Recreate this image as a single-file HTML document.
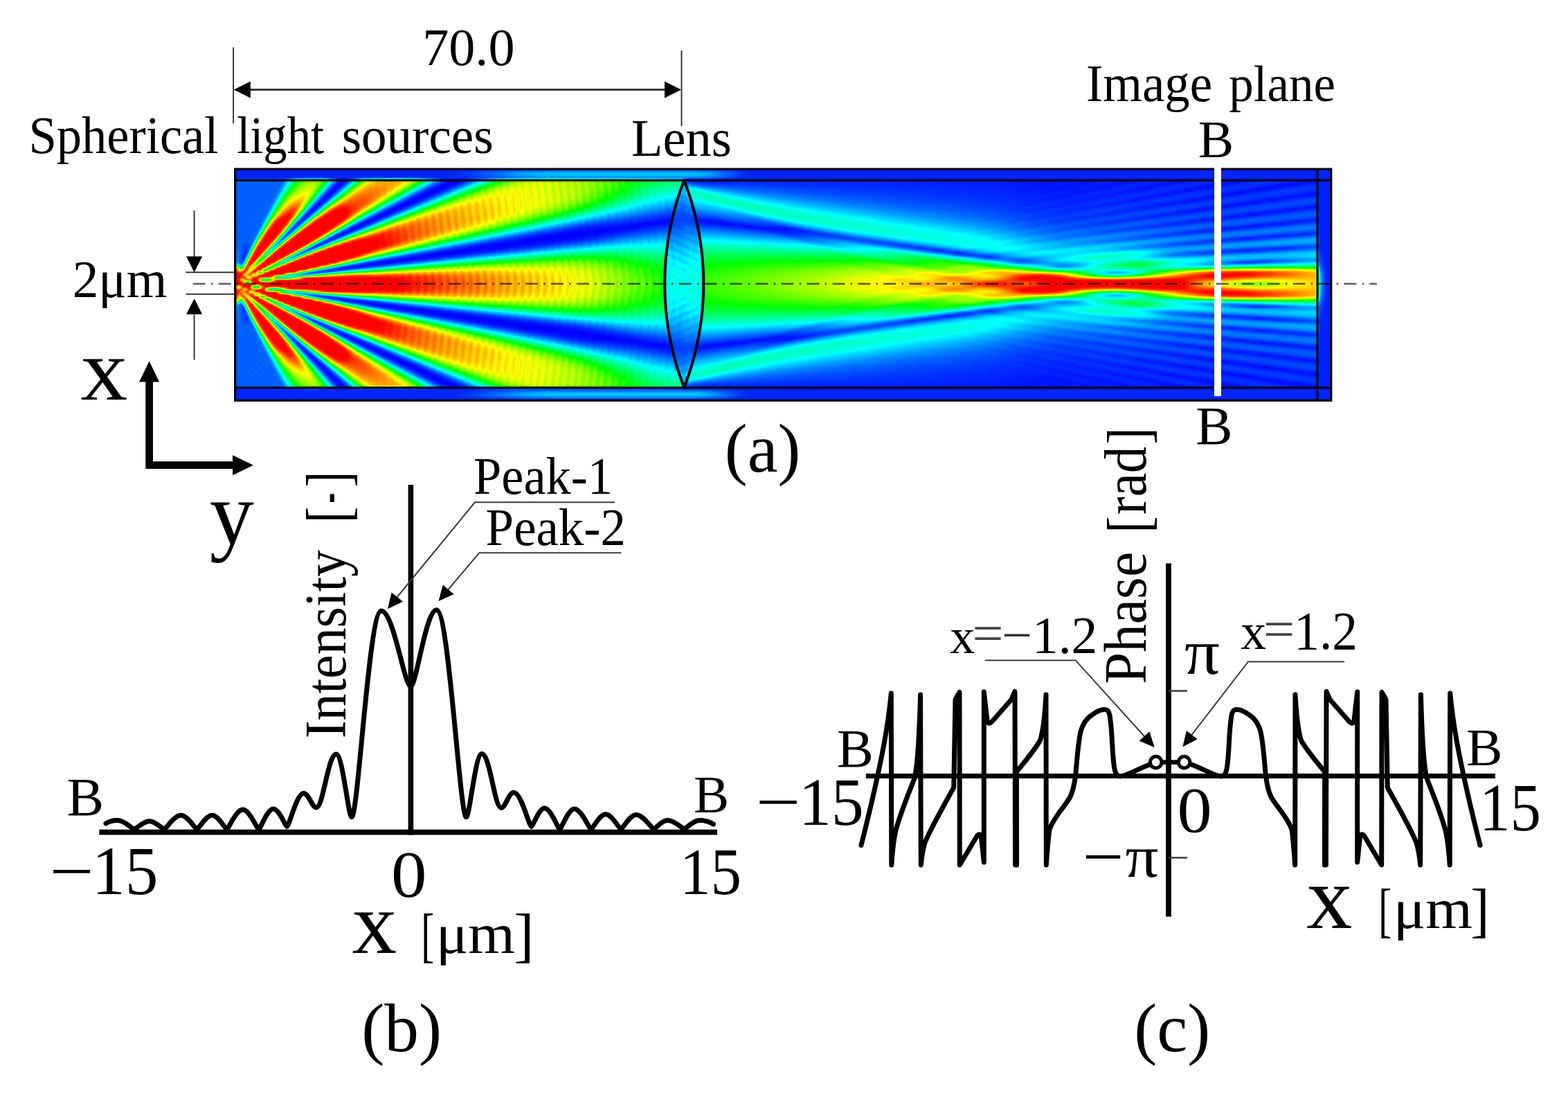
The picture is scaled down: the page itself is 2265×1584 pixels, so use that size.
<!DOCTYPE html>
<html><head><meta charset="utf-8"><title>Figure</title>
<style>
html,body{margin:0;padding:0;background:#fff}
body{width:2265px;height:1584px;position:relative;overflow:hidden}
svg.v{position:absolute;left:0;top:0;filter:blur(0.6px)}
svg.v text{font-family:"Liberation Serif",serif;white-space:pre}
#hw{position:absolute;left:340.0px;top:243.0px;width:1583.0px;height:336.0px;overflow:hidden}
#h{position:absolute;left:-8px;top:-7px;width:1599.0px;height:350.0px;display:flex;filter:url(#jet)}
#h i{flex:1 1 0;height:100%}

</style></head><body>
<svg width="0" height="0" style="position:absolute"><filter id="jet" x="0" y="0" width="100%" height="100%" color-interpolation-filters="sRGB">
<feColorMatrix type="matrix" values="0.941176 0.058824 0 0 0  0.941176 0.058824 0 0 0  0.941176 0.058824 0 0 0  0 0 0 0 1"/>
<feGaussianBlur stdDeviation="2.2 1"/>
<feComponentTransfer>
<feFuncR type="table" tableValues="0 0 0 1 1"/>
<feFuncG type="table" tableValues="0 1 1 1 0"/>
<feFuncB type="table" tableValues="1 1 0 0 0"/>
<feFuncA type="linear" slope="0" intercept="1"/>
</feComponentTransfer></filter></svg>
<div id="hw"><div id="h"><i style="background:linear-gradient(#090,#090,#090,#090,#090,#090,#090,#190,#140,#1c0,#190,#140,#1c0,#190,#140,#1c0,#190,#140,#1c0,#190,#140,#1c0,#190,#140,#1c0,#190,#140,#1c0,#190,#140,#1c0,#190,#170,#180,#190,#1b0,#1c0,#1d0,#1e0,#200,#220,#240,#400,#e80,#ff0,#ff0,#ff0,#ff0,#ff0,#ff0,#ff0,#ff0,#ff0,#ff0,#ff0,#ff0,#ff0,#8a0,#260,#230,#210,#1f0,#1e0,#1c0,#1b0,#1a0,#190,#180,#170,#1c0,#190,#140,#1c0,#190,#140,#1c0,#190,#140,#1c0,#190,#140,#1c0,#190,#140,#1c0,#190,#140,#1c0,#190,#140,#1c0,#190,#140,#090,#090,#090,#090,#090,#090,#090,#090)"></i><i style="background:linear-gradient(#090,#090,#090,#090,#090,#090,#090,#170,#1d0,#150,#170,#1d0,#150,#170,#1d0,#150,#170,#1d0,#150,#170,#1d0,#150,#170,#1d0,#150,#170,#1d0,#150,#170,#1d0,#150,#170,#1a0,#180,#190,#1b0,#1c0,#1d0,#1e0,#200,#220,#240,#560,#ff0,#ff0,#ff0,#ff0,#ff0,#ff0,#ff0,#ff0,#ff0,#ff0,#ff0,#ff0,#ff0,#ff0,#b10,#2c0,#230,#210,#1f0,#1e0,#1c0,#1b0,#1a0,#190,#180,#1b0,#160,#170,#1d0,#150,#170,#1d0,#150,#170,#1d0,#150,#170,#1d0,#150,#170,#1d0,#150,#170,#1d0,#150,#170,#1d0,#150,#170,#1d0,#090,#090,#090,#090,#090,#090,#090,#090)"></i><i style="background:linear-gradient(#090,#090,#090,#090,#090,#090,#090,#190,#160,#1a0,#190,#160,#1a0,#190,#160,#1a0,#190,#160,#1a0,#190,#160,#1a0,#190,#160,#1a0,#190,#160,#1a0,#190,#170,#1a0,#180,#180,#190,#1a0,#1b0,#1c0,#1e0,#1f0,#200,#220,#240,#5a0,#ff0,#ff0,#ff0,#ff0,#ff0,#ff0,#ff0,#ff0,#c00,#ff0,#ff0,#ff0,#ff0,#ff0,#b50,#2f0,#230,#210,#200,#1e0,#1d0,#1c0,#1b0,#190,#180,#180,#1a0,#190,#170,#1a0,#190,#160,#1a0,#190,#160,#1a0,#190,#160,#1a0,#190,#160,#1a0,#190,#160,#1a0,#190,#160,#1a0,#190,#160,#090,#090,#090,#090,#090,#090,#090,#090)"></i><i style="background:linear-gradient(#090,#090,#090,#090,#090,#090,#090,#190,#170,#190,#190,#170,#190,#190,#170,#190,#190,#170,#190,#190,#170,#190,#190,#170,#190,#190,#170,#190,#190,#170,#190,#180,#180,#190,#1a0,#1b0,#1c0,#1d0,#1e0,#1e0,#1f0,#1e0,#340,#820,#9a0,#f30,#ff0,#ff0,#ff0,#ff0,#ff0,#990,#db0,#ff0,#d90,#a20,#a00,#5c0,#200,#1e0,#1e0,#1e0,#1d0,#1d0,#1c0,#1b0,#1a0,#190,#180,#190,#190,#170,#190,#190,#170,#190,#190,#170,#190,#190,#170,#190,#190,#170,#190,#190,#170,#190,#190,#170,#190,#190,#170,#090,#090,#090,#090,#090,#090,#090,#090)"></i><i style="background:linear-gradient(#090,#090,#090,#090,#090,#090,#090,#170,#1d0,#150,#170,#1d0,#150,#170,#1d0,#150,#170,#1d0,#150,#170,#1d0,#150,#170,#1d0,#150,#170,#1d0,#150,#170,#1d0,#160,#170,#1a0,#160,#160,#160,#150,#140,#120,#100,#0d0,#080,#090,#410,#d30,#ff0,#ff0,#fc0,#890,#ff0,#ff0,#ff0,#ff0,#bf0,#ff0,#ff0,#970,#170,#070,#0a0,#0e0,#110,#130,#150,#160,#160,#160,#160,#1b0,#160,#170,#1d0,#150,#170,#1d0,#150,#170,#1d0,#150,#170,#1d0,#150,#170,#1d0,#150,#170,#1d0,#150,#170,#1d0,#150,#170,#1d0,#090,#090,#090,#090,#090,#090,#090,#090)"></i><i style="background:linear-gradient(#090,#090,#090,#090,#090,#090,#090,#190,#130,#1c0,#190,#130,#1c0,#190,#130,#1c0,#190,#130,#1c0,#190,#130,#1c0,#190,#130,#1c0,#190,#130,#1c0,#190,#130,#1c0,#190,#120,#180,#130,#0d0,#0e0,#0a0,#060,#040,#0e0,#430,#b20,#ff0,#ff0,#ff0,#940,#ff0,#ff0,#9c0,#ff0,#ff0,#880,#ff0,#910,#ff0,#ff0,#f00,#840,#220,#060,#050,#080,#0c0,#0e0,#0e0,#160,#160,#130,#1c0,#190,#130,#1c0,#190,#130,#1c0,#190,#130,#1c0,#190,#130,#1c0,#190,#130,#1c0,#190,#130,#1c0,#190,#130,#1c0,#190,#130,#090,#090,#090,#090,#090,#090,#090,#090)"></i><i style="background:linear-gradient(#090,#090,#090,#090,#090,#090,#090,#180,#1b0,#160,#180,#1b0,#160,#180,#1b0,#160,#180,#1b0,#160,#180,#1b0,#160,#180,#1b0,#160,#180,#1b0,#160,#180,#1b0,#160,#170,#1a0,#130,#120,#120,#0c0,#0b0,#1d0,#5b0,#c20,#ff0,#ff0,#ff0,#f60,#890,#ff0,#970,#ff0,#0d0,#ff0,#ff0,#ff0,#ff0,#ff0,#890,#ff0,#ff0,#ff0,#ef0,#970,#370,#120,#0a0,#0e0,#130,#120,#160,#1a0,#160,#180,#1b0,#160,#180,#1b0,#160,#180,#1b0,#160,#180,#1b0,#160,#180,#1b0,#160,#180,#1b0,#160,#180,#1b0,#160,#180,#1b0,#090,#090,#090,#090,#090,#090,#090,#090)"></i><i style="background:linear-gradient(#090,#090,#090,#090,#090,#090,#090,#180,#190,#180,#180,#190,#180,#180,#190,#180,#180,#190,#180,#180,#190,#180,#180,#190,#180,#180,#190,#180,#180,#190,#180,#180,#180,#150,#140,#170,#2e0,#6f0,#cc0,#ff0,#ff0,#ff0,#ff0,#bf0,#850,#ff0,#ff0,#ad0,#ff0,#bb0,#ff0,#ff0,#ff0,#860,#ff0,#ff0,#500,#ff0,#ff0,#ff0,#ff0,#f10,#a60,#4c0,#1f0,#130,#140,#170,#190,#180,#180,#190,#180,#180,#190,#180,#180,#190,#180,#180,#190,#180,#180,#190,#180,#180,#190,#180,#180,#190,#180,#180,#190,#090,#090,#090,#090,#090,#090,#090,#090)"></i><i style="background:linear-gradient(#090,#090,#090,#090,#090,#090,#090,#190,#140,#1b0,#190,#140,#1b0,#190,#140,#1b0,#190,#140,#1b0,#190,#140,#1b0,#190,#140,#1b0,#190,#140,#1b0,#190,#140,#1b0,#190,#140,#220,#3d0,#7d0,#d20,#ff0,#ff0,#ff0,#ff0,#ff0,#a00,#820,#ff0,#ff0,#890,#ff0,#ff0,#ff0,#ff0,#420,#ff0,#b30,#ff0,#ff0,#ff0,#2e0,#ff0,#ff0,#ff0,#ff0,#ff0,#f10,#ad0,#5c0,#2d0,#190,#140,#1b0,#190,#140,#1b0,#190,#140,#1b0,#190,#140,#1b0,#190,#140,#1b0,#190,#140,#1b0,#190,#140,#1b0,#190,#140,#1b0,#190,#140,#090,#090,#090,#090,#090,#090,#090,#090)"></i><i style="background:linear-gradient(#090,#090,#090,#090,#090,#090,#090,#170,#1d0,#140,#170,#1d0,#140,#170,#1d0,#140,#170,#1d0,#140,#170,#1d0,#140,#170,#1d0,#140,#170,#1d0,#140,#170,#1d0,#160,#260,#480,#830,#d30,#ff0,#ff0,#ff0,#ff0,#ff0,#ff0,#870,#710,#ff0,#ff0,#ff0,#970,#ff0,#ff0,#ff0,#ff0,#050,#ff0,#ff0,#550,#ff0,#ff0,#ff0,#1b0,#d70,#ff0,#ff0,#ff0,#ff0,#ff0,#ed0,#ac0,#650,#350,#1d0,#170,#1d0,#140,#170,#1d0,#140,#170,#1d0,#140,#170,#1d0,#140,#170,#1d0,#140,#170,#1d0,#140,#170,#1d0,#140,#170,#1d0,#090,#090,#090,#090,#090,#090,#090,#090)"></i><i style="background:linear-gradient(#090,#090,#090,#090,#090,#090,#090,#190,#150,#1b0,#190,#150,#1b0,#190,#150,#1b0,#190,#150,#1b0,#190,#150,#1b0,#190,#150,#1b0,#190,#150,#1b0,#1c0,#2c0,#4f0,#820,#c60,#fa0,#ff0,#ff0,#ff0,#ff0,#ff0,#ff0,#530,#690,#ff0,#ff0,#ff0,#490,#ff0,#ff0,#e70,#ff0,#ff0,#4f0,#ff0,#ff0,#a10,#ff0,#ff0,#ff0,#f20,#140,#b50,#ff0,#ff0,#ff0,#ff0,#ff0,#ff0,#e70,#a60,#690,#3d0,#220,#1b0,#190,#150,#1b0,#190,#150,#1b0,#190,#150,#1b0,#190,#150,#1b0,#190,#150,#1b0,#190,#150,#1b0,#190,#150,#090,#090,#090,#090,#090,#090,#090,#090)"></i><i style="background:linear-gradient(#090,#090,#090,#090,#090,#090,#090,#180,#180,#180,#180,#180,#180,#180,#180,#180,#180,#180,#180,#180,#180,#180,#180,#180,#180,#180,#1e0,#330,#540,#7f0,#b60,#ee0,#ff0,#ff0,#ff0,#ff0,#ff0,#ff0,#e70,#310,#630,#ff0,#ff0,#ff0,#ff0,#810,#ff0,#ff0,#3d0,#ff0,#ff0,#dd0,#ff0,#ff0,#ff0,#210,#ff0,#ff0,#ff0,#e70,#120,#940,#ff0,#ff0,#ff0,#ff0,#ff0,#ff0,#ff0,#d90,#9b0,#6a0,#430,#280,#1a0,#180,#180,#180,#180,#180,#180,#180,#180,#180,#180,#180,#180,#180,#180,#180,#180,#180,#180,#090,#090,#090,#090,#090,#090,#090,#090)"></i><i style="background:linear-gradient(#090,#090,#090,#090,#090,#090,#090,#180,#1c0,#160,#180,#1c0,#160,#180,#1c0,#160,#180,#1c0,#160,#180,#1c0,#160,#180,#1d0,#230,#390,#580,#7f0,#ad0,#e00,#ff0,#ff0,#ff0,#ff0,#ff0,#ff0,#ff0,#c70,#1c0,#5f0,#ff0,#ff0,#ff0,#ff0,#1d0,#ff0,#ff0,#ff0,#020,#ff0,#ff0,#ff0,#ff0,#ff0,#ff0,#8f0,#cf0,#ff0,#ff0,#ff0,#de0,#120,#620,#ff0,#ff0,#ff0,#ff0,#ff0,#ff0,#ff0,#f30,#c80,#970,#6c0,#490,#2e0,#1e0,#1c0,#160,#180,#1c0,#160,#180,#1c0,#160,#180,#1c0,#160,#180,#1c0,#160,#180,#1c0,#090,#090,#090,#090,#090,#090,#090,#090)"></i><i style="background:linear-gradient(#090,#090,#090,#090,#090,#090,#090,#190,#130,#1c0,#190,#130,#1c0,#190,#130,#1c0,#190,#130,#1c0,#190,#130,#1e0,#280,#3d0,#590,#7c0,#a50,#d10,#f60,#ff0,#ff0,#ff0,#ff0,#ff0,#ff0,#ff0,#a20,#0f0,#5c0,#ff0,#ff0,#ff0,#ff0,#c20,#680,#ff0,#ff0,#ff0,#0f0,#ff0,#ff0,#ff0,#740,#ff0,#ff0,#ff0,#0c0,#ff0,#ff0,#ff0,#ff0,#d70,#140,#3f0,#de0,#ff0,#ff0,#ff0,#ff0,#ff0,#ff0,#ff0,#e90,#bd0,#920,#6b0,#4c0,#330,#230,#1a0,#130,#1c0,#190,#130,#1c0,#190,#130,#1c0,#190,#130,#1c0,#190,#130,#090,#090,#090,#090,#090,#090,#090,#090)"></i><i style="background:linear-gradient(#090,#090,#090,#090,#090,#090,#090,#170,#1c0,#150,#170,#1c0,#150,#170,#1c0,#150,#170,#1c0,#170,#1e0,#2b0,#3f0,#590,#780,#9b0,#c20,#e90,#ff0,#ff0,#ff0,#ff0,#ff0,#ff0,#ff0,#f30,#730,#080,#580,#ff0,#ff0,#ff0,#ff0,#ff0,#0b0,#ff0,#ff0,#ff0,#ff0,#4a0,#ff0,#ff0,#ff0,#140,#ff0,#ff0,#ff0,#750,#9c0,#ff0,#ff0,#ff0,#ff0,#d00,#150,#270,#c30,#ff0,#ff0,#ff0,#ff0,#ff0,#ff0,#ff0,#f80,#d70,#b00,#8b0,#690,#4c0,#350,#240,#1a0,#170,#1c0,#150,#170,#1c0,#150,#170,#1c0,#150,#170,#1c0,#090,#090,#090,#090,#090,#090,#090,#090)"></i><i style="background:linear-gradient(#090,#090,#090,#090,#090,#090,#090,#180,#170,#190,#180,#170,#190,#180,#170,#190,#190,#210,#2d0,#3f0,#560,#720,#910,#b30,#d50,#f50,#ff0,#ff0,#ff0,#ff0,#ff0,#ff0,#ff0,#d70,#4f0,#050,#550,#ff0,#ff0,#ff0,#ff0,#ff0,#840,#580,#ff0,#ff0,#ff0,#d80,#a10,#ff0,#ff0,#ff0,#000,#ff0,#ff0,#ff0,#ff0,#050,#ff0,#ff0,#ff0,#ff0,#ff0,#ca0,#170,#180,#900,#f80,#ff0,#ff0,#ff0,#ff0,#ff0,#ff0,#ff0,#e70,#c50,#a30,#820,#650,#4b0,#370,#270,#1e0,#190,#180,#170,#190,#180,#170,#190,#180,#170,#090,#090,#090,#090,#090,#090,#090,#090)"></i><i style="background:linear-gradient(#090,#090,#090,#090,#090,#090,#090,#190,#150,#1a0,#190,#150,#1a0,#190,#180,#230,#300,#410,#550,#6c0,#860,#a30,#c10,#df0,#fa0,#ff0,#ff0,#ff0,#ff0,#ff0,#ff0,#ff0,#b30,#360,#030,#510,#ff0,#ff0,#ff0,#ff0,#ff0,#fa0,#040,#ff0,#ff0,#ff0,#ff0,#550,#f30,#ff0,#ff0,#ff0,#0c0,#ff0,#ff0,#ff0,#ff0,#620,#510,#ff0,#ff0,#ff0,#ff0,#ff0,#c40,#180,#0e0,#6b0,#e20,#ff0,#ff0,#ff0,#ff0,#ff0,#ff0,#ff0,#ef0,#d20,#b40,#960,#790,#610,#4b0,#390,#290,#1e0,#160,#1a0,#190,#150,#1a0,#190,#150,#090,#090,#090,#090,#090,#090,#090,#090)"></i><i style="background:linear-gradient(#090,#090,#090,#090,#090,#090,#090,#170,#1d0,#140,#170,#1d0,#1b0,#250,#320,#410,#540,#690,#7f0,#970,#af0,#c90,#e20,#f80,#ff0,#ff0,#ff0,#ff0,#ff0,#ff0,#ed0,#8f0,#250,#030,#4e0,#f50,#ff0,#ff0,#ff0,#ff0,#ff0,#450,#4c0,#ff0,#ff0,#ff0,#ff0,#130,#ff0,#ff0,#ff0,#ff0,#320,#e20,#ff0,#ff0,#ff0,#ff0,#040,#d50,#ff0,#ff0,#ff0,#ff0,#ff0,#b50,#1a0,#080,#500,#c40,#ff0,#ff0,#ff0,#ff0,#ff0,#ff0,#ff0,#ee0,#d70,#bd0,#a40,#8c0,#750,#5f0,#4b0,#3a0,#2b0,#200,#190,#1d0,#140,#170,#1d0,#090,#090,#090,#090,#090,#090,#090,#090)"></i><i style="background:linear-gradient(#090,#090,#090,#090,#090,#090,#090,#190,#140,#1c0,#1d0,#260,#320,#410,#520,#650,#790,#8f0,#a50,#ba0,#ce0,#df0,#f30,#ff0,#ff0,#ff0,#ff0,#ff0,#ff0,#d60,#700,#190,#040,#4d0,#ec0,#ff0,#ff0,#ff0,#ff0,#ff0,#c80,#030,#ef0,#ff0,#ff0,#ff0,#ff0,#010,#ff0,#ff0,#ff0,#ff0,#690,#6e0,#ff0,#ff0,#ff0,#ff0,#540,#280,#ff0,#ff0,#ff0,#ff0,#ff0,#ff0,#aa0,#1c0,#050,#3b0,#a00,#f00,#ff0,#ff0,#ff0,#ff0,#ff0,#fd0,#ea0,#d70,#c50,#b00,#9b0,#850,#700,#5c0,#4a0,#3a0,#2c0,#210,#1c0,#190,#140,#090,#090,#090,#090,#090,#090,#090,#090)"></i><i style="background:linear-gradient(#090,#090,#090,#090,#090,#090,#090,#190,#1e0,#270,#320,#400,#4f0,#610,#730,#860,#9a0,#ad0,#c00,#d00,#df0,#ed0,#fd0,#ff0,#ff0,#ff0,#ff0,#f20,#b30,#570,#110,#050,#4b0,#e40,#ff0,#ff0,#ff0,#ff0,#ff0,#ff0,#220,#420,#ff0,#ff0,#ff0,#ff0,#fc0,#030,#ff0,#ff0,#ff0,#ff0,#a50,#260,#ff0,#ff0,#ff0,#ff0,#ed0,#040,#940,#ff0,#ff0,#ff0,#ff0,#ff0,#ff0,#9f0,#1d0,#030,#2b0,#810,#d90,#ff0,#ff0,#ff0,#ff0,#ff0,#f60,#e70,#d80,#c90,#b80,#a50,#910,#7d0,#6a0,#580,#480,#390,#2d0,#220,#1a0,#090,#090,#090,#090,#090,#090,#090,#090)"></i><i style="background:linear-gradient(#090,#090,#090,#090,#090,#090,#090,#280,#320,#3e0,#4c0,#5c0,#6c0,#7e0,#900,#a10,#b30,#c20,#d00,#dd0,#eb0,#fa0,#ff0,#ff0,#ff0,#fc0,#dc0,#940,#420,#0b0,#060,#490,#dd0,#ff0,#ff0,#ff0,#ff0,#ff0,#ff0,#7f0,#030,#d80,#ff0,#ff0,#ff0,#ff0,#a10,#130,#ff0,#ff0,#ff0,#ff0,#dc0,#070,#ff0,#ff0,#ff0,#ff0,#ff0,#480,#130,#ec0,#ff0,#ff0,#ff0,#ff0,#ff0,#ff0,#950,#1e0,#020,#1e0,#670,#b80,#f00,#ff0,#ff0,#ff0,#ff0,#f30,#e50,#d70,#c90,#bb0,#ab0,#990,#880,#760,#650,#540,#450,#380,#2d0,#090,#090,#090,#090,#090,#090,#090,#090)"></i><i style="background:linear-gradient(#090,#090,#090,#090,#090,#090,#090,#3e0,#4a0,#570,#660,#750,#860,#960,#a60,#b40,#c10,#cd0,#da0,#e80,#f60,#ff0,#ff0,#fc0,#eb0,#bd0,#7a0,#320,#070,#070,#470,#d30,#ff0,#ff0,#ff0,#ff0,#ff0,#ff0,#e00,#110,#3c0,#ff0,#ff0,#ff0,#ff0,#ff0,#4e0,#2f0,#ff0,#ff0,#ff0,#ff0,#ff0,#000,#f50,#ff0,#ff0,#ff0,#ff0,#d80,#050,#5c0,#ff0,#ff0,#ff0,#ff0,#ff0,#ff0,#ff0,#8c0,#1f0,#010,#150,#510,#9a0,#d50,#f50,#ff0,#ff0,#fd0,#ef0,#e20,#d40,#c80,#bb0,#ad0,#9e0,#8e0,#7e0,#6e0,#5f0,#510,#440,#090,#090,#090,#090,#090,#090,#090,#090)"></i><i style="background:linear-gradient(#090,#090,#090,#090,#090,#090,#090,#540,#610,#6f0,#7c0,#8a0,#990,#a60,#b30,#be0,#ca0,#d70,#e40,#f00,#fa0,#fb0,#f10,#d30,#a20,#620,#250,#040,#080,#450,#c30,#ff0,#ff0,#ff0,#ff0,#ff0,#ff0,#ff0,#510,#040,#bc0,#ff0,#ff0,#ff0,#ff0,#ff0,#1e0,#530,#ff0,#ff0,#ff0,#ff0,#ff0,#030,#a30,#ff0,#ff0,#ff0,#ff0,#ff0,#420,#090,#be0,#ff0,#ff0,#ff0,#ff0,#ff0,#ff0,#fa0,#830,#200,#010,#0f0,#400,#800,#bb0,#e30,#f70,#fc0,#f60,#eb0,#de0,#d10,#c50,#b90,#ad0,#a00,#920,#840,#760,#690,#5b0,#090,#090,#090,#090,#090,#090,#090,#090)"></i><i style="background:linear-gradient(#090,#090,#090,#090,#090,#090,#090,#6a0,#760,#820,#8e0,#990,#a50,#b00,#bb0,#c60,#d20,#de0,#e90,#f00,#ee0,#df0,#be0,#8d0,#510,#1c0,#020,#090,#420,#b40,#ff0,#ff0,#ff0,#ff0,#ff0,#ff0,#ff0,#a90,#080,#370,#ff0,#ff0,#ff0,#ff0,#ff0,#ff0,#070,#7a0,#ff0,#ff0,#ff0,#ff0,#ff0,#0f0,#5b0,#ff0,#ff0,#ff0,#ff0,#ff0,#ba0,#060,#390,#f80,#ff0,#ff0,#ff0,#ff0,#ff0,#ff0,#f00,#7a0,#200,#020,#0a0,#320,#6c0,#a50,#cf0,#e70,#f00,#ee0,#e50,#d90,#cd0,#c10,#b60,#ab0,#a00,#940,#890,#7d0,#700,#090,#090,#090,#090,#090,#090,#090,#090)"></i><i style="background:linear-gradient(#090,#090,#090,#090,#090,#090,#090,#7b0,#860,#910,#9a0,#a30,#ac0,#b70,#c20,#cd0,#d80,#e10,#e50,#df0,#cc0,#aa0,#790,#420,#150,#010,#0a0,#3f0,#a60,#ff0,#ff0,#ff0,#ff0,#ff0,#ff0,#ff0,#eb0,#320,#050,#a10,#ff0,#ff0,#ff0,#ff0,#ff0,#c40,#000,#a10,#ff0,#ff0,#ff0,#ff0,#ff0,#240,#2b0,#ff0,#ff0,#ff0,#ff0,#ff0,#ff0,#3c0,#040,#840,#ff0,#ff0,#ff0,#ff0,#ff0,#ff0,#ff0,#e70,#720,#200,#020,#070,#270,#5b0,#910,#bc0,#d70,#e30,#e40,#de0,#d30,#c80,#bc0,#b20,#a80,#9f0,#960,#8c0,#810,#090,#090,#090,#090,#090,#090,#090,#090)"></i><i style="background:linear-gradient(#090,#090,#090,#090,#090,#090,#090,#890,#920,#9a0,#a20,#aa0,#b30,#bc0,#c70,#d10,#d80,#d80,#cf0,#ba0,#970,#680,#360,#0f0,#010,#0b0,#3e0,#9b0,#f90,#ff0,#ff0,#ff0,#ff0,#ff0,#ff0,#ff0,#750,#040,#330,#fd0,#ff0,#ff0,#ff0,#ff0,#ff0,#7c0,#010,#c50,#ff0,#ff0,#ff0,#ff0,#ff0,#3e0,#0f0,#fc0,#ff0,#ff0,#ff0,#ff0,#ff0,#a00,#070,#230,#d10,#ff0,#ff0,#ff0,#ff0,#ff0,#ff0,#ff0,#d60,#6c0,#210,#030,#040,#1e0,#4c0,#7e0,#a90,#c50,#d50,#d90,#d50,#cd0,#c20,#b80,#af0,#a60,#9e0,#960,#8e0,#090,#090,#090,#090,#090,#090,#090,#090)"></i><i style="background:linear-gradient(#090,#090,#090,#090,#090,#090,#090,#910,#990,#a10,#a80,#b10,#b90,#c10,#c90,#cd0,#cb0,#bf0,#a80,#850,#580,#2b0,#0b0,#010,#0c0,#3d0,#920,#f10,#ff0,#ff0,#ff0,#ff0,#ff0,#ff0,#ff0,#bb0,#1f0,#060,#8b0,#ff0,#ff0,#ff0,#ff0,#ff0,#ff0,#460,#070,#e50,#ff0,#ff0,#ff0,#ff0,#ff0,#5b0,#030,#bf0,#ff0,#ff0,#ff0,#ff0,#ff0,#f90,#370,#020,#5a0,#f80,#ff0,#ff0,#ff0,#ff0,#ff0,#ff0,#ff0,#c90,#670,#210,#030,#030,#170,#3f0,#6d0,#960,#b40,#c60,#cd0,#cc0,#c50,#bd0,#b50,#ad0,#a50,#9d0,#950,#090,#090,#090,#090,#090,#090,#090,#090)"></i><i style="background:linear-gradient(#090,#090,#090,#090,#090,#090,#090,#970,#9f0,#a60,#ae0,#b60,#bd0,#c20,#c20,#bd0,#af0,#970,#740,#4b0,#230,#080,#010,#0d0,#3b0,#8a0,#e80,#ff0,#ff0,#ff0,#ff0,#ff0,#ff0,#ff0,#eb0,#500,#020,#2f0,#ea0,#ff0,#ff0,#ff0,#ff0,#ff0,#ff0,#230,#120,#fc0,#ff0,#ff0,#ff0,#ff0,#ff0,#780,#000,#7f0,#ff0,#ff0,#ff0,#ff0,#ff0,#ff0,#890,#080,#140,#980,#ff0,#ff0,#ff0,#ff0,#ff0,#ff0,#ff0,#ff0,#bd0,#630,#210,#040,#020,#120,#340,#5e0,#850,#a30,#b70,#c00,#c20,#c00,#ba0,#b20,#ab0,#a30,#9b0,#090,#090,#090,#090,#090,#090,#090,#090)"></i><i style="background:linear-gradient(#090,#090,#090,#090,#090,#090,#090,#9c0,#a40,#ab0,#b30,#b90,#bb0,#b90,#b10,#a00,#870,#650,#3f0,#1c0,#050,#010,#0e0,#3a0,#830,#da0,#ff0,#ff0,#ff0,#ff0,#ff0,#ff0,#ff0,#ff0,#870,#120,#070,#770,#ff0,#ff0,#ff0,#ff0,#ff0,#ff0,#ce0,#0e0,#230,#ff0,#ff0,#ff0,#ff0,#ff0,#ff0,#930,#010,#4d0,#ff0,#ff0,#ff0,#ff0,#ff0,#ff0,#e30,#320,#010,#3c0,#cf0,#ff0,#ff0,#ff0,#ff0,#ff0,#ff0,#ff0,#fb0,#b20,#5e0,#210,#050,#010,#0d0,#2b0,#500,#750,#930,#a90,#b60,#bb0,#bb0,#b60,#af0,#a80,#a00,#090,#090,#090,#090,#090,#090,#090,#090)"></i><i style="background:linear-gradient(#090,#090,#090,#090,#090,#090,#090,#a10,#a80,#ae0,#b30,#b40,#b00,#a60,#930,#790,#570,#340,#160,#040,#010,#0e0,#380,#7c0,#cc0,#ff0,#ff0,#ff0,#ff0,#ff0,#ff0,#ff0,#ff0,#bd0,#360,#010,#2b0,#c80,#ff0,#ff0,#ff0,#ff0,#ff0,#ff0,#910,#030,#360,#ff0,#ff0,#ff0,#ff0,#ff0,#ff0,#ac0,#060,#2a0,#f70,#ff0,#ff0,#ff0,#ff0,#ff0,#ff0,#760,#090,#0c0,#6e0,#f30,#ff0,#ff0,#ff0,#ff0,#ff0,#ff0,#ff0,#f40,#a70,#5a0,#210,#050,#010,#0a0,#230,#440,#670,#860,#9d0,#ab0,#b30,#b40,#b10,#ac0,#a50,#090,#090,#090,#090,#090,#090,#090,#090)"></i><i style="background:linear-gradient(#090,#090,#090,#090,#090,#090,#090,#a40,#aa0,#ad0,#ac0,#a70,#9b0,#870,#6d0,#4d0,#2c0,#110,#020,#010,#0f0,#360,#750,#c00,#fd0,#ff0,#ff0,#ff0,#ff0,#ff0,#ff0,#ff0,#ea0,#650,#0b0,#080,#680,#ff0,#ff0,#ff0,#ff0,#ff0,#ff0,#ff0,#610,#000,#4a0,#ff0,#ff0,#ff0,#ff0,#ff0,#ff0,#c00,#0f0,#140,#c10,#ff0,#ff0,#ff0,#ff0,#ff0,#ff0,#c20,#2e0,#000,#290,#a20,#ff0,#ff0,#ff0,#ff0,#ff0,#ff0,#ff0,#ff0,#e70,#9d0,#560,#210,#060,#000,#070,#1c0,#3b0,#5c0,#7a0,#910,#a10,#aa0,#ad0,#ac0,#a70,#090,#090,#090,#090,#090,#090,#090,#090)"></i><i style="background:linear-gradient(#090,#090,#090,#090,#090,#090,#090,#a40,#a60,#a40,#9d0,#900,#7c0,#610,#430,#250,#0d0,#020,#010,#0f0,#340,#6e0,#b30,#f50,#ff0,#ff0,#ff0,#ff0,#ff0,#ff0,#ff0,#fc0,#940,#250,#000,#280,#af0,#ff0,#ff0,#ff0,#ff0,#ff0,#ff0,#f50,#3c0,#000,#5e0,#ff0,#ff0,#ff0,#ff0,#ff0,#ff0,#d10,#1b0,#070,#8b0,#ff0,#ff0,#ff0,#ff0,#ff0,#ff0,#fc0,#690,#0a0,#070,#520,#ce0,#ff0,#ff0,#ff0,#ff0,#ff0,#ff0,#ff0,#ff0,#d80,#930,#520,#200,#060,#000,#050,#170,#320,#510,#6e0,#860,#970,#a10,#a50,#a60,#090,#090,#090,#090,#090,#090,#090,#090)"></i><i style="background:linear-gradient(#090,#090,#090,#090,#090,#090,#090,#9f0,#9b0,#930,#850,#710,#570,#3a0,#1f0,#0a0,#010,#020,#100,#330,#680,#a80,#e60,#ff0,#ff0,#ff0,#ff0,#ff0,#ff0,#ff0,#ff0,#be0,#4b0,#060,#090,#5e0,#f10,#ff0,#ff0,#ff0,#ff0,#ff0,#ff0,#c60,#220,#030,#710,#ff0,#ff0,#ff0,#ff0,#ff0,#ff0,#e10,#2a0,#010,#610,#ff0,#ff0,#ff0,#ff0,#ff0,#ff0,#ff0,#ab0,#2b0,#000,#1c0,#7e0,#ef0,#ff0,#ff0,#ff0,#ff0,#ff0,#ff0,#ff0,#fd0,#ca0,#8a0,#4e0,#200,#070,#000,#040,#130,#2b0,#480,#630,#7b0,#8c0,#980,#9d0,#090,#090,#090,#090,#090,#090,#090,#090)"></i><i style="background:linear-gradient(#090,#090,#090,#090,#090,#090,#090,#920,#890,#7a0,#660,#4d0,#320,#1a0,#080,#010,#020,#100,#320,#630,#9e0,#d70,#ff0,#ff0,#ff0,#ff0,#ff0,#ff0,#ff0,#ff0,#df0,#730,#1a0,#000,#260,#9b0,#ff0,#ff0,#ff0,#ff0,#ff0,#ff0,#ff0,#980,#110,#080,#840,#ff0,#ff0,#ff0,#ff0,#ff0,#ff0,#f00,#3a0,#000,#410,#eb0,#ff0,#ff0,#ff0,#ff0,#ff0,#ff0,#ea0,#5e0,#0a0,#040,#3c0,#a60,#fc0,#ff0,#ff0,#ff0,#ff0,#ff0,#ff0,#ff0,#f30,#be0,#830,#4b0,#200,#080,#000,#030,#0f0,#250,#3f0,#590,#700,#820,#8e0,#090,#090,#090,#090,#090,#090,#090,#090)"></i><i style="background:linear-gradient(#090,#090,#090,#090,#090,#090,#090,#7f0,#700,#5c0,#440,#2c0,#150,#060,#000,#020,#110,#310,#5f0,#960,#cd0,#f90,#ff0,#ff0,#ff0,#ff0,#ff0,#ff0,#ff0,#f30,#980,#370,#040,#090,#540,#d60,#ff0,#ff0,#ff0,#ff0,#ff0,#ff0,#ff0,#700,#070,#100,#960,#ff0,#ff0,#ff0,#ff0,#ff0,#ff0,#fc0,#4b0,#000,#280,#bc0,#ff0,#ff0,#ff0,#ff0,#ff0,#ff0,#ff0,#980,#280,#010,#130,#610,#c70,#ff0,#ff0,#ff0,#ff0,#ff0,#ff0,#ff0,#ff0,#e70,#b50,#7d0,#480,#200,#080,#010,#020,#0c0,#1f0,#370,#500,#660,#780,#090,#090,#090,#090,#090,#090,#090,#090)"></i><i style="background:linear-gradient(#090,#090,#090,#090,#090,#090,#090,#670,#530,#3c0,#250,#120,#050,#000,#030,#110,#2f0,#5b0,#8f0,#c30,#ee0,#ff0,#ff0,#ff0,#ff0,#ff0,#ff0,#ff0,#fc0,#b70,#580,#110,#010,#240,#8a0,#fd0,#ff0,#ff0,#ff0,#ff0,#ff0,#ff0,#ea0,#4f0,#020,#1b0,#a60,#ff0,#ff0,#ff0,#ff0,#ff0,#ff0,#ff0,#5b0,#030,#160,#930,#ff0,#ff0,#ff0,#ff0,#ff0,#ff0,#ff0,#cf0,#550,#0b0,#020,#2c0,#840,#df0,#ff0,#ff0,#ff0,#ff0,#ff0,#ff0,#ff0,#fd0,#dc0,#ac0,#770,#460,#200,#090,#010,#010,#090,#1a0,#300,#470,#5c0,#090,#090,#090,#090,#090,#090,#090,#090)"></i><i style="background:linear-gradient(#090,#090,#090,#090,#090,#090,#090,#4b0,#350,#200,#0e0,#030,#000,#030,#120,#2e0,#580,#880,#b90,#e30,#ff0,#ff0,#ff0,#ff0,#ff0,#ff0,#ff0,#ff0,#cf0,#790,#280,#020,#0a0,#4c0,#bd0,#ff0,#ff0,#ff0,#ff0,#ff0,#ff0,#ff0,#c00,#350,#000,#260,#b40,#ff0,#ff0,#ff0,#ff0,#ff0,#ff0,#ff0,#6a0,#070,#0b0,#6f0,#fb0,#ff0,#ff0,#ff0,#ff0,#ff0,#ff0,#f80,#870,#250,#010,#0c0,#4a0,#a20,#f00,#ff0,#ff0,#ff0,#ff0,#ff0,#ff0,#ff0,#f50,#d10,#a30,#720,#430,#1f0,#090,#010,#010,#070,#160,#290,#3f0,#090,#090,#090,#090,#090,#090,#090,#090)"></i><i style="background:linear-gradient(#090,#090,#090,#090,#090,#090,#090,#300,#1c0,#0c0,#020,#000,#040,#120,#2d0,#540,#820,#b00,#d80,#f70,#ff0,#ff0,#ff0,#ff0,#ff0,#ff0,#ff0,#e10,#950,#430,#0b0,#010,#210,#7a0,#e80,#ff0,#ff0,#ff0,#ff0,#ff0,#ff0,#ff0,#990,#210,#000,#330,#bf0,#ff0,#ff0,#ff0,#ff0,#ff0,#ff0,#ff0,#790,#0e0,#040,#510,#da0,#ff0,#ff0,#ff0,#ff0,#ff0,#ff0,#ff0,#b60,#4c0,#0b0,#010,#200,#680,#ba0,#f80,#ff0,#ff0,#ff0,#ff0,#ff0,#ff0,#ff0,#ea0,#c70,#9b0,#6c0,#410,#1f0,#0a0,#010,#010,#060,#120,#250,#090,#090,#090,#090,#090,#090,#090,#090)"></i><i style="background:linear-gradient(#090,#090,#090,#090,#090,#090,#090,#180,#0a0,#020,#000,#040,#120,#2c0,#500,#7b0,#a70,#ce0,#ec0,#ff0,#ff0,#ff0,#ff0,#ff0,#ff0,#ff0,#ef0,#af0,#600,#1d0,#010,#0a0,#440,#a60,#ff0,#ff0,#ff0,#ff0,#ff0,#ff0,#ff0,#f70,#770,#130,#010,#3f0,#c90,#ff0,#ff0,#ff0,#ff0,#ff0,#ff0,#ff0,#860,#160,#010,#380,#b40,#ff0,#ff0,#ff0,#ff0,#ff0,#ff0,#ff0,#de0,#770,#230,#010,#080,#380,#840,#cf0,#fd0,#ff0,#ff0,#ff0,#ff0,#ff0,#ff0,#f90,#df0,#bd0,#930,#670,#3e0,#1e0,#0a0,#010,#000,#050,#100,#090,#090,#090,#090,#090,#090,#090,#090)"></i><i style="background:linear-gradient(#090,#090,#090,#090,#090,#090,#090,#080,#010,#000,#040,#120,#2a0,#4d0,#750,#9e0,#c30,#e10,#f60,#ff0,#ff0,#ff0,#ff0,#ff0,#ff0,#f70,#c30,#7c0,#340,#070,#010,#1f0,#6c0,#cd0,#ff0,#ff0,#ff0,#ff0,#ff0,#ff0,#ff0,#d50,#5a0,#090,#040,#4c0,#d10,#ff0,#ff0,#ff0,#ff0,#ff0,#ff0,#ff0,#910,#200,#000,#250,#910,#ff0,#ff0,#ff0,#ff0,#ff0,#ff0,#ff0,#fb0,#a10,#440,#0b0,#000,#170,#530,#9e0,#de0,#ff0,#ff0,#ff0,#ff0,#ff0,#ff0,#fe0,#ee0,#d50,#b30,#8c0,#620,#3c0,#1e0,#0b0,#020,#000,#040,#090,#090,#090,#090,#090,#090,#090,#090)"></i><i style="background:linear-gradient(#090,#090,#090,#090,#090,#090,#090,#010,#000,#050,#130,#2a0,#4a0,#6f0,#960,#ba0,#d70,#ec0,#fa0,#ff0,#ff0,#ff0,#ff0,#ff0,#fa0,#d30,#940,#4d0,#150,#000,#0a0,#3f0,#950,#ee0,#ff0,#ff0,#ff0,#ff0,#ff0,#ff0,#ff0,#b20,#420,#040,#090,#570,#d70,#ff0,#ff0,#ff0,#ff0,#ff0,#ff0,#ff0,#9b0,#290,#000,#160,#730,#e50,#ff0,#ff0,#ff0,#ff0,#ff0,#ff0,#ff0,#c70,#6b0,#210,#020,#050,#2b0,#6d0,#b30,#e90,#ff0,#ff0,#ff0,#ff0,#ff0,#ff0,#f40,#e30,#ca0,#aa0,#840,#5e0,#3b0,#1e0,#0b0,#020,#000,#090,#090,#090,#090,#090,#090,#090,#090)"></i><i style="background:linear-gradient(#090,#090,#090,#090,#090,#090,#090,#000,#050,#130,#2a0,#490,#6c0,#900,#b10,#cc0,#e10,#ef0,#f90,#ff0,#ff0,#ff0,#ff0,#fb0,#dd0,#a80,#660,#280,#050,#010,#1e0,#630,#ba0,#ff0,#ff0,#ff0,#ff0,#ff0,#ff0,#ff0,#f80,#930,#2e0,#010,#0e0,#620,#db0,#ff0,#ff0,#ff0,#ff0,#ff0,#ff0,#ff0,#a30,#330,#010,#0c0,#580,#c40,#ff0,#ff0,#ff0,#ff0,#ff0,#ff0,#ff0,#e60,#920,#3f0,#0b0,#000,#110,#430,#850,#c30,#ee0,#ff0,#ff0,#ff0,#ff0,#fe0,#f50,#e90,#d80,#c00,#a30,#800,#5c0,#3a0,#1e0,#0c0,#020,#090,#090,#090,#090,#090,#090,#090,#090)"></i><i style="background:linear-gradient(#090,#090,#090,#090,#090,#090,#090,#060,#130,#2a0,#480,#6a0,#8d0,#ad0,#c60,#d90,#e60,#ef0,#f70,#fe0,#ff0,#ff0,#fb0,#e30,#b80,#7d0,#3e0,#0f0,#000,#0a0,#3a0,#870,#d90,#ff0,#ff0,#ff0,#ff0,#ff0,#ff0,#ff0,#de0,#770,#1f0,#000,#150,#6c0,#de0,#ff0,#ff0,#ff0,#ff0,#ff0,#ff0,#ff0,#aa0,#3d0,#040,#060,#420,#a80,#fe0,#ff0,#ff0,#ff0,#ff0,#ff0,#ff0,#fc0,#b50,#620,#1f0,#020,#030,#210,#5a0,#990,#ce0,#f00,#fe0,#ff0,#ff0,#fc0,#f40,#eb0,#e00,#d10,#bb0,#9f0,#7d0,#5a0,#390,#1f0,#0c0,#090,#090,#090,#090,#090,#090,#090,#090)"></i><i style="background:linear-gradient(#090,#090,#090,#090,#090,#090,#090,#140,#2a0,#460,#670,#890,#a80,#c20,#d50,#e10,#e90,#ef0,#f50,#f90,#fc0,#f70,#e60,#c40,#900,#540,#1f0,#030,#020,#1c0,#5a0,#a90,#f00,#ff0,#ff0,#ff0,#ff0,#ff0,#ff0,#ff0,#c20,#5f0,#130,#000,#1d0,#760,#e30,#ff0,#ff0,#ff0,#ff0,#ff0,#ff0,#ff0,#b20,#480,#080,#020,#300,#8d0,#ea0,#ff0,#ff0,#ff0,#ff0,#ff0,#ff0,#ff0,#d10,#840,#3a0,#0c0,#000,#0c0,#350,#700,#a90,#d60,#f00,#fa0,#fb0,#f80,#f20,#ec0,#e60,#dc0,#cd0,#b70,#9a0,#7a0,#580,#390,#1f0,#090,#090,#090,#090,#090,#090,#090,#090)"></i><i style="background:linear-gradient(#090,#090,#090,#090,#090,#090,#090,#2a0,#450,#650,#860,#a40,#bd0,#d00,#dd0,#e50,#eb0,#ef0,#f20,#f30,#f10,#e50,#ca0,#9f0,#680,#310,#0b0,#000,#0b0,#360,#7b0,#c60,#fe0,#ff0,#ff0,#ff0,#ff0,#ff0,#ff0,#f90,#a70,#4a0,#0b0,#010,#250,#7f0,#e60,#ff0,#ff0,#ff0,#ff0,#ff0,#ff0,#ff0,#b80,#510,#0d0,#010,#220,#740,#d00,#ff0,#ff0,#ff0,#ff0,#ff0,#ff0,#ff0,#e80,#a40,#590,#1e0,#020,#020,#190,#490,#820,#b50,#d90,#ec0,#f20,#f30,#f10,#ed0,#e80,#e20,#d80,#c80,#b20,#970,#770,#560,#380,#090,#090,#090,#090,#090,#090,#090,#090)"></i><i style="background:linear-gradient(#090,#090,#090,#090,#090,#090,#090,#440,#630,#830,#a00,#ba0,#cd0,#da0,#e30,#e90,#ed0,#f00,#f20,#ef0,#e50,#cf0,#ab0,#7a0,#440,#180,#020,#020,#1b0,#520,#990,#db0,#ff0,#ff0,#ff0,#ff0,#ff0,#ff0,#ff0,#e30,#8f0,#380,#060,#020,#2d0,#880,#e90,#ff0,#ff0,#ff0,#ff0,#ff0,#ff0,#ff0,#be0,#5b0,#120,#000,#160,#5e0,#b80,#fd0,#ff0,#ff0,#ff0,#ff0,#ff0,#ff0,#f70,#be0,#780,#360,#0c0,#000,#080,#2a0,#5c0,#920,#bd0,#da0,#eb0,#f10,#f10,#ef0,#eb0,#e60,#df0,#d50,#c50,#af0,#930,#740,#550,#090,#090,#090,#090,#090,#090,#090,#090)"></i><i style="background:linear-gradient(#090,#090,#090,#090,#090,#090,#090,#610,#7f0,#9c0,#b40,#c70,#d50,#de0,#e40,#e90,#ed0,#ef0,#ee0,#e70,#d60,#b70,#8b0,#570,#270,#080,#000,#0b0,#320,#700,#b30,#eb0,#ff0,#ff0,#ff0,#ff0,#ff0,#ff0,#ff0,#ca0,#770,#290,#020,#050,#360,#8f0,#eb0,#ff0,#ff0,#ff0,#ff0,#ff0,#ff0,#ff0,#c30,#640,#190,#000,#0e0,#4a0,#9f0,#e90,#ff0,#ff0,#ff0,#ff0,#ff0,#ff0,#fe0,#d30,#950,#510,#1c0,#030,#010,#130,#3c0,#6f0,#a10,#c70,#e00,#ec0,#ef0,#ee0,#eb0,#e70,#e20,#da0,#cf0,#bf0,#aa0,#8f0,#710,#090,#090,#090,#090,#090,#090,#090,#090)"></i><i style="background:linear-gradient(#090,#090,#090,#090,#090,#090,#090,#7d0,#990,#b20,#c50,#d30,#dc0,#e20,#e60,#ea0,#eb0,#eb0,#e70,#d90,#c00,#9a0,#690,#380,#120,#010,#020,#1a0,#4b0,#8b0,#c80,#f60,#ff0,#ff0,#ff0,#ff0,#ff0,#ff0,#f40,#b30,#620,#1d0,#010,#090,#3e0,#940,#e90,#ff0,#ff0,#ff0,#ff0,#ff0,#ff0,#ff0,#c50,#6b0,#1f0,#010,#080,#390,#880,#d40,#ff0,#ff0,#ff0,#ff0,#ff0,#ff0,#ff0,#e40,#ae0,#6d0,#320,#0b0,#000,#060,#210,#4e0,#800,#ad0,#cd0,#e10,#ea0,#ec0,#eb0,#e80,#e40,#df0,#d80,#cd0,#bd0,#a70,#8d0,#090,#090,#090,#090,#090,#090,#090,#090)"></i><i style="background:linear-gradient(#090,#090,#090,#090,#090,#090,#090,#940,#ac0,#c00,#ce0,#d80,#df0,#e40,#e90,#eb0,#ec0,#e90,#df0,#cb0,#a90,#7c0,#4b0,#200,#060,#000,#0b0,#2e0,#650,#a10,#d50,#f80,#ff0,#ff0,#ff0,#ff0,#ff0,#ff0,#e00,#9e0,#500,#140,#000,#0d0,#460,#9b0,#eb0,#ff0,#ff0,#ff0,#ff0,#ff0,#ff0,#ff0,#c90,#730,#270,#020,#040,#2b0,#730,#bf0,#f60,#ff0,#ff0,#ff0,#ff0,#ff0,#ff0,#ea0,#bf0,#860,#4a0,#1b0,#030,#010,#0f0,#320,#620,#920,#ba0,#d60,#e50,#eb0,#ec0,#ea0,#e70,#e20,#dc0,#d40,#c80,#b70,#a20,#090,#090,#090,#090,#090,#090,#090,#090)"></i><i style="background:linear-gradient(#090,#090,#090,#090,#090,#090,#090,#a90,#bc0,#ca0,#d30,#d90,#de0,#e20,#e50,#e60,#e50,#de0,#cf0,#b30,#8c0,#5e0,#300,#0e0,#010,#030,#190,#470,#810,#b90,#e30,#fd0,#ff0,#ff0,#ff0,#ff0,#ff0,#f70,#ca0,#860,#3e0,#0c0,#000,#120,#4d0,#9f0,#e90,#ff0,#ff0,#ff0,#ff0,#ff0,#ff0,#ff0,#ca0,#780,#2d0,#050,#010,#1f0,#5e0,#a70,#e10,#ff0,#ff0,#ff0,#ff0,#ff0,#ff0,#f30,#d20,#a10,#660,#300,#0c0,#000,#040,#1c0,#440,#730,#9f0,#c10,#d70,#e20,#e60,#e60,#e40,#e00,#dc0,#d70,#cf0,#c40,#b40,#090,#090,#090,#090,#090,#090,#090,#090)"></i><i style="background:linear-gradient(#090,#090,#090,#090,#090,#090,#090,#ba0,#c90,#d30,#da0,#df0,#e30,#e60,#e70,#e60,#e10,#d40,#bc0,#990,#6e0,#400,#1a0,#040,#000,#0b0,#2c0,#5f0,#980,#ca0,#ed0,#ff0,#ff0,#ff0,#ff0,#ff0,#ff0,#eb0,#b90,#740,#310,#070,#000,#170,#530,#a10,#e50,#ff0,#ff0,#ff0,#ff0,#ff0,#ff0,#ff0,#c90,#7d0,#340,#080,#000,#160,#4e0,#950,#d30,#fa0,#ff0,#ff0,#ff0,#ff0,#ff0,#f90,#df0,#b50,#7e0,#460,#1a0,#030,#000,#0c0,#2a0,#550,#820,#aa0,#c80,#db0,#e40,#e70,#e70,#e50,#e10,#dd0,#d70,#cf0,#c20,#090,#090,#090,#090,#090,#090,#090,#090)"></i><i style="background:linear-gradient(#090,#090,#090,#090,#090,#090,#090,#c00,#cb0,#d20,#d80,#dd0,#e10,#e30,#e40,#e20,#d90,#c60,#a80,#800,#530,#290,#0b0,#000,#030,#190,#430,#790,#ae0,#d70,#f10,#fd0,#ff0,#ff0,#ff0,#ff0,#f70,#d90,#a40,#610,#250,#040,#010,#1d0,#5b0,#a70,#e80,#ff0,#ff0,#ff0,#ff0,#ff0,#ff0,#ff0,#cd0,#840,#3b0,#0b0,#000,#0e0,#3e0,#810,#bf0,#e90,#fd0,#ff0,#ff0,#ff0,#ff0,#f90,#e70,#c60,#960,#600,#2e0,#0c0,#000,#030,#170,#3b0,#680,#940,#b70,#d00,#de0,#e30,#e40,#e20,#df0,#da0,#d60,#cf0,#c70,#090,#090,#090,#090,#090,#090,#090,#090)"></i><i style="background:linear-gradient(#090,#090,#090,#090,#090,#090,#090,#cc0,#d30,#d70,#db0,#de0,#df0,#df0,#dd0,#d60,#c60,#ae0,#8b0,#610,#370,#150,#030,#000,#0b0,#2b0,#5c0,#930,#c40,#e70,#fb0,#ff0,#ff0,#ff0,#ff0,#ff0,#f00,#cb0,#930,#510,#1b0,#020,#030,#220,#5f0,#a70,#e20,#ff0,#ff0,#ff0,#ff0,#ff0,#ff0,#f90,#c90,#860,#410,#0f0,#000,#090,#310,#6f0,#af0,#df0,#fb0,#ff0,#ff0,#ff0,#ff0,#ff0,#f40,#d90,#af0,#7a0,#440,#1a0,#040,#000,#090,#230,#4a0,#750,#9c0,#ba0,#ce0,#da0,#de0,#df0,#de0,#dc0,#d90,#d50,#d00,#090,#090,#090,#090,#090,#090,#090,#090)"></i><i style="background:linear-gradient(#090,#090,#090,#090,#090,#090,#090,#cf0,#d50,#da0,#de0,#e10,#e30,#e20,#dd0,#d00,#ba0,#9a0,#730,#480,#220,#090,#000,#040,#180,#3f0,#710,#a40,#cd0,#e90,#f80,#fd0,#ff0,#ff0,#ff0,#fd0,#eb0,#c20,#860,#460,#140,#000,#050,#290,#680,#ad0,#e50,#ff0,#ff0,#ff0,#ff0,#ff0,#ff0,#f90,#ce0,#8e0,#490,#150,#000,#050,#270,#630,#a30,#d70,#f60,#ff0,#ff0,#ff0,#fe0,#fc0,#f30,#de0,#bc0,#8d0,#5a0,#2b0,#0c0,#010,#020,#120,#320,#5b0,#860,#aa0,#c60,#d70,#e00,#e30,#e20,#e00,#dc0,#d80,#d20,#090,#090,#090,#090,#090,#090,#090,#090)"></i><i style="background:linear-gradient(#090,#090,#090,#090,#090,#090,#090,#cd0,#d10,#d40,#d70,#d90,#d90,#d70,#ce0,#be0,#a40,#810,#580,#310,#120,#020,#000,#0c0,#2a0,#580,#8b0,#ba0,#dc0,#f00,#f90,#fc0,#fc0,#fd0,#fb0,#f20,#d90,#ad0,#730,#380,#0d0,#000,#080,#300,#700,#b40,#eb0,#ff0,#ff0,#ff0,#ff0,#ff0,#ff0,#ff0,#d50,#960,#510,#1a0,#010,#030,#1d0,#520,#8f0,#c30,#e60,#f80,#fd0,#fd0,#fc0,#fb0,#f60,#e90,#ce0,#a60,#740,#420,#1a0,#040,#000,#070,#1e0,#420,#6b0,#920,#b10,#c60,#d30,#d80,#d90,#d80,#d60,#d30,#cf0,#090,#090,#090,#090,#090,#090,#090,#090)"></i><i style="background:linear-gradient(#090,#090,#090,#090,#090,#090,#090,#d60,#d90,#dc0,#dd0,#dc0,#d90,#d10,#c20,#aa0,#8a0,#640,#3d0,#1c0,#070,#000,#040,#180,#3d0,#6d0,#9f0,#c90,#e70,#f80,#fe0,#ff0,#ff0,#ff0,#ff0,#f30,#d40,#a30,#660,#2d0,#080,#000,#0c0,#350,#730,#b20,#e40,#ff0,#ff0,#ff0,#ff0,#ff0,#ff0,#f60,#cf0,#960,#550,#1f0,#030,#010,#160,#450,#820,#bb0,#e40,#fb0,#ff0,#ff0,#ff0,#ff0,#fd0,#f10,#db0,#b70,#880,#560,#2a0,#0c0,#010,#010,#0e0,#2a0,#4f0,#760,#9a0,#b60,#ca0,#d60,#db0,#dd0,#dd0,#db0,#d80,#090,#090,#090,#090,#090,#090,#090,#090)"></i><i style="background:linear-gradient(#090,#090,#090,#090,#090,#090,#090,#d00,#d40,#d70,#d90,#da0,#d50,#cb0,#b70,#9b0,#770,#4f0,#2a0,#0e0,#010,#010,#0c0,#280,#520,#810,#ad0,#ce0,#e40,#ef0,#f40,#f60,#f90,#fa0,#f70,#e70,#c70,#950,#5a0,#240,#050,#000,#100,#3e0,#7e0,#bc0,#eb0,#ff0,#ff0,#ff0,#ff0,#ff0,#ff0,#fc0,#d80,#a10,#600,#260,#050,#000,#100,#3b0,#750,#ad0,#d80,#f00,#f90,#fa0,#f70,#f50,#f20,#eb0,#dc0,#c00,#9a0,#6b0,#3e0,#190,#050,#000,#050,#190,#3a0,#610,#880,#a90,#c10,#d10,#d80,#da0,#d90,#d60,#d30,#090,#090,#090,#090,#090,#090,#090,#090)"></i><i style="background:linear-gradient(#090,#090,#090,#090,#090,#090,#090,#d30,#d30,#d30,#d10,#cd0,#c40,#b40,#9d0,#7e0,#5a0,#360,#180,#050,#000,#040,#180,#3c0,#6b0,#9b0,#c40,#e10,#f20,#f90,#fa0,#fa0,#fa0,#f80,#ef0,#da0,#b40,#810,#490,#1a0,#030,#010,#140,#430,#810,#be0,#ec0,#ff0,#ff0,#ff0,#ff0,#ff0,#ff0,#fc0,#d90,#a30,#640,#2b0,#080,#000,#0a0,#2e0,#630,#9a0,#c70,#e50,#f40,#f90,#fa0,#fa0,#fa0,#f70,#eb0,#d50,#b20,#850,#550,#2a0,#0d0,#010,#010,#0c0,#250,#460,#6b0,#8d0,#a90,#bd0,#c90,#cf0,#d20,#d30,#d30,#090,#090,#090,#090,#090,#090,#090,#090)"></i><i style="background:linear-gradient(#090,#090,#090,#090,#090,#090,#090,#d90,#db0,#db0,#d80,#d00,#c10,#ab0,#8d0,#690,#440,#230,#0b0,#010,#010,#0c0,#260,#4d0,#7a0,#a40,#c80,#e00,#ef0,#f60,#f90,#fc0,#fd0,#fd0,#f30,#da0,#b00,#790,#400,#140,#010,#020,#190,#490,#840,#bb0,#e40,#fb0,#ff0,#ff0,#ff0,#ff0,#ff0,#f30,#d40,#a30,#690,#310,#0b0,#000,#070,#260,#5a0,#940,#c50,#e70,#f90,#fd0,#fd0,#fb0,#f80,#f30,#e90,#d60,#b90,#920,#650,#3a0,#180,#050,#000,#040,#140,#310,#550,#7a0,#9c0,#b60,#c90,#d40,#da0,#db0,#da0,#090,#090,#090,#090,#090,#090,#090,#090)"></i><i style="background:linear-gradient(#090,#090,#090,#090,#090,#090,#090,#cd0,#ce0,#ce0,#c90,#c00,#af0,#970,#770,#540,#310,#150,#040,#000,#050,#180,#3a0,#650,#910,#b70,#d20,#e30,#ea0,#ed0,#ee0,#ee0,#ef0,#ec0,#e00,#c60,#9d0,#690,#350,#0f0,#000,#040,#1f0,#520,#900,#c80,#f10,#ff0,#ff0,#ff0,#ff0,#ff0,#ff0,#fe0,#e10,#b00,#730,#390,#0f0,#000,#040,#1d0,#4c0,#810,#b10,#d30,#e70,#ee0,#ef0,#ee0,#ed0,#ec0,#e80,#dc0,#c70,#a60,#7d0,#500,#290,#0d0,#010,#010,#0a0,#200,#400,#640,#870,#a30,#b80,#c50,#cc0,#ce0,#ce0,#090,#090,#090,#090,#090,#090,#090,#090)"></i><i style="background:linear-gradient(#090,#090,#090,#090,#090,#090,#090,#d50,#d30,#cd0,#c20,#b20,#9b0,#7e0,#5c0,#3b0,#1d0,#090,#010,#010,#0c0,#260,#4c0,#780,#a30,#c70,#e10,#f00,#f70,#fa0,#fa0,#fa0,#f80,#f10,#de0,#bd0,#8f0,#5a0,#2a0,#0a0,#000,#060,#220,#530,#8d0,#c10,#e80,#fc0,#ff0,#ff0,#ff0,#ff0,#ff0,#f70,#d80,#ab0,#720,#3b0,#120,#010,#020,#160,#3f0,#730,#a60,#ce0,#e80,#f50,#fa0,#fa0,#fa0,#f90,#f50,#eb0,#d70,#b80,#900,#630,#390,#180,#050,#000,#030,#110,#2a0,#4a0,#6c0,#8c0,#a60,#ba0,#c80,#d00,#d40,#090,#090,#090,#090,#090,#090,#090,#090)"></i><i style="background:linear-gradient(#090,#090,#090,#090,#090,#090,#090,#d30,#d20,#cc0,#c00,#ac0,#910,#700,#4c0,#2b0,#110,#030,#000,#050,#170,#350,#5c0,#840,#a90,#c50,#d80,#e30,#e90,#ec0,#ef0,#f20,#f30,#ec0,#da0,#b80,#890,#530,#240,#070,#000,#090,#290,#5c0,#940,#c50,#e60,#f80,#fd0,#ff0,#ff0,#fe0,#fc0,#f20,#d90,#b00,#7b0,#440,#180,#020,#010,#110,#380,#6c0,#a00,#c90,#e40,#f10,#f30,#f10,#ee0,#ea0,#e60,#df0,#d00,#b90,#990,#720,#4a0,#260,#0d0,#010,#000,#080,#1b0,#390,#5c0,#7f0,#9e0,#b60,#c60,#cf0,#d30,#090,#090,#090,#090,#090,#090,#090,#090)"></i><i style="background:linear-gradient(#090,#090,#090,#090,#090,#090,#090,#c60,#c00,#b60,#a60,#900,#750,#550,#350,#1a0,#080,#000,#010,#0d0,#260,#4b0,#750,#9e0,#c00,#d80,#e60,#eb0,#ec0,#ec0,#eb0,#ea0,#e50,#da0,#c40,#a10,#730,#430,#1a0,#040,#000,#0c0,#2f0,#630,#9d0,#cf0,#f30,#ff0,#ff0,#ff0,#ff0,#ff0,#ff0,#ff0,#e40,#ba0,#830,#4a0,#1c0,#040,#000,#0b0,#2b0,#590,#890,#b20,#cf0,#e00,#e80,#ea0,#eb0,#ec0,#ec0,#ea0,#e10,#cf0,#b20,#8c0,#620,#390,#190,#060,#000,#020,#0f0,#260,#440,#640,#820,#9b0,#ae0,#bb0,#c30,#090,#090,#090,#090,#090,#090,#090,#090)"></i><i style="background:linear-gradient(#090,#090,#090,#090,#090,#090,#090,#d00,#c60,#b60,#9f0,#830,#620,#410,#230,#0d0,#020,#000,#050,#160,#330,#580,#800,#a50,#c40,#da0,#e70,#ef0,#f30,#f50,#f70,#f70,#f20,#e30,#c70,#9e0,#6c0,#3b0,#140,#020,#010,#0f0,#320,#620,#960,#c20,#e20,#f40,#fb0,#fd0,#fd0,#fc0,#f90,#ed0,#d50,#af0,#7f0,#4b0,#1f0,#060,#000,#080,#240,#510,#840,#b20,#d60,#eb0,#f60,#f80,#f60,#f40,#f10,#ec0,#e20,#d10,#b70,#950,#6d0,#460,#240,#0d0,#020,#000,#060,#160,#300,#500,#710,#900,#aa0,#be0,#cb0,#090,#090,#090,#090,#090,#090,#090,#090)"></i><i style="background:linear-gradient(#090,#090,#090,#090,#090,#090,#090,#bf0,#b50,#a50,#8e0,#710,#510,#320,#170,#060,#000,#020,#0d0,#250,#470,#6d0,#920,#b10,#c70,#d50,#dc0,#de0,#e00,#e10,#e40,#e40,#e00,#d20,#b80,#910,#610,#330,#100,#010,#020,#140,#3b0,#6f0,#a40,#cf0,#eb0,#f90,#fb0,#fb0,#fb0,#fb0,#fa0,#f40,#e00,#bd0,#8c0,#570,#270,#090,#000,#050,#1e0,#470,#770,#a40,#c50,#da0,#e30,#e40,#e30,#e10,#df0,#dd0,#d90,#cf0,#be0,#a30,#810,#5b0,#360,#180,#060,#000,#020,#0d0,#220,#400,#600,#7f0,#990,#ad0,#bb0,#090,#090,#090,#090,#090,#090,#090,#090)"></i><i style="background:linear-gradient(#090,#090,#090,#090,#090,#090,#090,#b50,#a40,#8e0,#730,#560,#390,#1e0,#0b0,#020,#000,#060,#170,#340,#590,#820,#a80,#c70,#dc0,#e90,#ef0,#f00,#ef0,#ee0,#ec0,#e70,#db0,#c70,#a70,#7e0,#500,#270,#0b0,#000,#030,#160,#3d0,#700,#a40,#d00,#ef0,#fd0,#ff0,#ff0,#ff0,#ff0,#ff0,#fa0,#e20,#bd0,#8c0,#580,#290,#0b0,#000,#030,#150,#390,#650,#910,#b70,#d10,#e20,#ea0,#ed0,#ee0,#ef0,#f00,#ed0,#e40,#d40,#ba0,#970,#6f0,#470,#250,#0d0,#020,#000,#050,#130,#2a0,#460,#640,#800,#990,#ac0,#090,#090,#090,#090,#090,#090,#090,#090)"></i><i style="background:linear-gradient(#090,#090,#090,#090,#090,#090,#090,#b60,#a20,#880,#6a0,#490,#2b0,#130,#050,#000,#020,#0c0,#220,#400,#630,#870,#a60,#be0,#d00,#db0,#e20,#e60,#ea0,#ed0,#f00,#ee0,#e30,#cd0,#aa0,#7d0,#4c0,#220,#080,#000,#040,#1b0,#420,#710,#9f0,#c40,#dc0,#ea0,#f10,#f40,#f50,#f30,#ee0,#e50,#d30,#b40,#8b0,#5b0,#2e0,#0e0,#010,#010,#110,#340,#620,#920,#bb0,#d90,#e90,#ef0,#ef0,#ec0,#e80,#e40,#df0,#d70,#c90,#b40,#980,#770,#530,#320,#170,#060,#000,#010,#0a0,#1d0,#380,#580,#780,#950,#ac0,#090,#090,#090,#090,#090,#090,#090,#090)"></i><i style="background:linear-gradient(#090,#090,#090,#090,#090,#090,#090,#9a0,#860,#6d0,#510,#350,#1c0,#0a0,#010,#000,#060,#180,#340,#580,#7e0,#a10,#bd0,#d00,#da0,#de0,#df0,#de0,#dd0,#dc0,#db0,#d60,#ca0,#b40,#930,#6a0,#3f0,#1b0,#050,#000,#070,#210,#4c0,#7f0,#b00,#d70,#f00,#fa0,#fb0,#fa0,#fa0,#fb0,#fb0,#f80,#e60,#c70,#9b0,#670,#360,#120,#020,#010,#0d0,#2a0,#530,#7e0,#a30,#bf0,#d00,#d90,#dc0,#dd0,#dd0,#de0,#df0,#dd0,#d60,#c80,#b10,#910,#6d0,#470,#260,#0e0,#020,#000,#040,#110,#270,#420,#5e0,#790,#900,#090,#090,#090,#090,#090,#090,#090,#090)"></i><i style="background:linear-gradient(#090,#090,#090,#090,#090,#090,#090,#940,#790,#5c0,#3e0,#240,#0f0,#040,#000,#020,#0c0,#210,#3f0,#620,#870,#a90,#c40,#d80,#e50,#ec0,#ef0,#f10,#f10,#f10,#ed0,#e30,#d00,#b30,#8c0,#600,#350,#140,#030,#000,#080,#220,#4a0,#790,#a60,#cb0,#e60,#f60,#fb0,#fd0,#fe0,#fc0,#f90,#f00,#db0,#bc0,#920,#630,#360,#140,#030,#000,#090,#210,#480,#740,#9f0,#c20,#da0,#e90,#ef0,#f10,#f10,#f00,#ee0,#e90,#e00,#d00,#b80,#9a0,#760,#520,#300,#160,#060,#000,#010,#080,#180,#2f0,#4b0,#690,#860,#090,#090,#090,#090,#090,#090,#090,#090)"></i><i style="background:linear-gradient(#090,#090,#090,#090,#090,#090,#090,#860,#6c0,#4f0,#320,#190,#080,#010,#000,#060,#170,#300,#500,#720,#910,#ab0,#be0,#ca0,#d10,#d50,#d80,#db0,#de0,#e10,#e10,#db0,#cb0,#af0,#880,#5c0,#310,#110,#020,#010,#0c0,#290,#530,#810,#ab0,#ca0,#de0,#e70,#ea0,#eb0,#eb0,#eb0,#ea0,#e40,#d60,#bd0,#990,#6c0,#3f0,#1a0,#050,#000,#060,#1e0,#440,#710,#9b0,#bd0,#d30,#df0,#e20,#e00,#dd0,#da0,#d70,#d40,#cf0,#c50,#b60,#a00,#830,#620,#410,#240,#0e0,#020,#000,#030,#0f0,#240,#3f0,#5c0,#780,#090,#090,#090,#090,#090,#090,#090,#090)"></i><i style="background:linear-gradient(#090,#090,#090,#090,#090,#090,#090,#6b0,#510,#370,#1f0,#0d0,#030,#000,#020,#0d0,#220,#410,#650,#8a0,#ab0,#c60,#d80,#e20,#e60,#e60,#e40,#e20,#df0,#dc0,#d50,#c80,#b40,#960,#710,#4a0,#250,#0c0,#010,#010,#0f0,#2d0,#5a0,#8b0,#b80,#dc0,#f30,#fe0,#ff0,#fd0,#fc0,#fe0,#ff0,#fb0,#ea0,#cd0,#a50,#740,#440,#1d0,#060,#000,#040,#160,#350,#5c0,#830,#a50,#be0,#cf0,#d90,#de0,#e00,#e30,#e50,#e60,#e50,#de0,#d10,#bb0,#9d0,#790,#540,#320,#170,#070,#000,#010,#070,#150,#290,#420,#5d0,#090,#090,#090,#090,#090,#090,#090,#090)"></i><i style="background:linear-gradient(#090,#090,#090,#090,#090,#090,#090,#640,#460,#2b0,#150,#060,#010,#000,#060,#150,#2c0,#490,#690,#890,#a50,#bc0,#cd0,#d80,#e00,#e50,#e80,#ec0,#ee0,#ee0,#e70,#d90,#bf0,#9c0,#710,#460,#200,#090,#000,#020,#110,#2f0,#560,#810,#a80,#c70,#dc0,#e90,#f10,#f50,#f70,#f40,#ee0,#e40,#d30,#ba0,#970,#6d0,#430,#1f0,#080,#000,#020,#120,#300,#590,#850,#ad0,#cc0,#e10,#eb0,#ee0,#ed0,#ea0,#e70,#e20,#dd0,#d30,#c60,#b20,#990,#7b0,#5b0,#3b0,#200,#0d0,#030,#000,#020,#0c0,#1e0,#370,#540,#090,#090,#090,#090,#090,#090,#090,#090)"></i><i style="background:linear-gradient(#090,#090,#090,#090,#090,#090,#090,#4e0,#350,#1e0,#0c0,#020,#000,#030,#0e0,#230,#400,#610,#820,#9f0,#b60,#c50,#ce0,#d10,#d20,#d20,#d20,#d30,#d40,#d30,#ce0,#c10,#ab0,#8c0,#660,#3e0,#1c0,#060,#000,#040,#160,#390,#650,#920,#b80,#d40,#e40,#eb0,#ec0,#ea0,#e90,#eb0,#ec0,#e90,#de0,#c90,#a80,#7e0,#500,#270,#0c0,#010,#010,#0e0,#2a0,#500,#780,#9b0,#b60,#c80,#d10,#d40,#d30,#d20,#d20,#d20,#d20,#d00,#cb0,#bf0,#ac0,#920,#730,#520,#320,#180,#070,#010,#000,#060,#130,#280,#400,#090,#090,#090,#090,#090,#090,#090,#090)"></i><i style="background:linear-gradient(#090,#090,#090,#090,#090,#090,#090,#3b0,#240,#110,#050,#000,#010,#060,#150,#2c0,#4a0,#6c0,#8e0,#ac0,#c50,#d70,#e20,#e80,#ea0,#ea0,#e90,#e80,#e40,#dd0,#d00,#bc0,#9f0,#7c0,#550,#310,#140,#040,#000,#050,#180,#390,#640,#910,#ba0,#da0,#ef0,#fb0,#ff0,#ff0,#ff0,#ff0,#fd0,#f70,#e70,#cc0,#a80,#7c0,#4f0,#280,#0d0,#010,#000,#090,#200,#410,#670,#8d0,#ad0,#c60,#d70,#e10,#e60,#e80,#ea0,#ea0,#ea0,#e60,#de0,#d00,#bb0,#9f0,#7e0,#5c0,#3c0,#200,#0d0,#030,#000,#020,#0a0,#190,#2e0,#090,#090,#090,#090,#090,#090,#090,#090)"></i><i style="background:linear-gradient(#090,#090,#090,#090,#090,#090,#090,#320,#1b0,#0a0,#020,#000,#030,#0d0,#200,#3a0,#560,#740,#8e0,#a50,#b60,#c20,#ca0,#d00,#d40,#d80,#dc0,#e00,#e30,#e00,#d70,#c40,#a60,#800,#560,#2f0,#110,#020,#000,#070,#1c0,#3d0,#640,#8b0,#ac0,#c50,#d50,#de0,#e40,#e70,#e90,#e60,#e20,#db0,#ce0,#ba0,#9e0,#790,#520,#2d0,#100,#020,#000,#070,#1d0,#400,#690,#920,#b50,#ce0,#dc0,#e20,#e20,#df0,#da0,#d60,#d20,#cd0,#c70,#bd0,#af0,#9b0,#820,#660,#490,#2d0,#170,#070,#010,#000,#050,#110,#250,#090,#090,#090,#090,#090,#090,#090,#090)"></i><i style="background:linear-gradient(#090,#090,#090,#090,#090,#090,#090,#200,#0f0,#040,#000,#010,#070,#160,#2f0,#4d0,#6f0,#8f0,#ac0,#c20,#d00,#d80,#da0,#d90,#d70,#d40,#d20,#d00,#cd0,#c60,#b90,#a60,#8b0,#6a0,#460,#250,#0d0,#010,#000,#090,#220,#470,#740,#9f0,#c30,#dd0,#ec0,#f20,#f20,#ef0,#ed0,#f00,#f20,#f00,#e70,#d30,#b40,#8c0,#5f0,#350,#150,#030,#000,#050,#170,#340,#570,#7a0,#980,#b00,#c00,#c90,#cf0,#d10,#d30,#d50,#d80,#da0,#d90,#d50,#ca0,#b80,#a00,#810,#5f0,#3f0,#230,#0e0,#030,#000,#010,#080,#160,#090,#090,#090,#090,#090,#090,#090,#090)"></i><i style="background:linear-gradient(#090,#090,#090,#090,#090,#090,#090,#160,#080,#010,#000,#030,#0c0,#1e0,#350,#510,#6f0,#8c0,#a60,#bc0,#cc0,#d70,#df0,#e30,#e60,#e90,#ea0,#e90,#e50,#da0,#c80,#ad0,#8b0,#640,#3e0,#1e0,#090,#010,#010,#0b0,#210,#430,#6b0,#920,#b60,#d20,#e50,#f10,#f70,#fa0,#fb0,#f90,#f50,#ec0,#dd0,#c60,#a60,#800,#580,#330,#150,#050,#000,#030,#110,#2c0,#4f0,#760,#9b0,#ba0,#d10,#e00,#e80,#ea0,#e90,#e80,#e50,#e20,#dc0,#d30,#c50,#b20,#9b0,#7f0,#620,#440,#2a0,#150,#070,#010,#000,#040,#0e0,#090,#090,#090,#090,#090,#090,#090,#090)"></i><i style="background:linear-gradient(#090,#090,#090,#090,#090,#090,#090,#0e0,#040,#000,#010,#080,#170,#2e0,#490,#670,#830,#9b0,#ae0,#ba0,#c20,#c60,#c80,#c90,#ca0,#cc0,#cf0,#d20,#d10,#cb0,#bd0,#a60,#870,#620,#3c0,#1c0,#070,#000,#020,#0f0,#290,#4d0,#740,#980,#b40,#c80,#d40,#da0,#dc0,#dd0,#de0,#dd0,#db0,#d80,#d00,#c00,#a80,#880,#620,#3c0,#1b0,#070,#000,#020,#0f0,#2a0,#4d0,#730,#960,#b20,#c40,#ce0,#d20,#d10,#ce0,#cb0,#c90,#c80,#c70,#c50,#bf0,#b50,#a60,#910,#770,#590,#3c0,#220,#0f0,#040,#000,#010,#080,#090,#090,#090,#090,#090,#090,#090,#090)"></i><i style="background:linear-gradient(#090,#090,#090,#090,#090,#090,#090,#070,#010,#000,#030,#0d0,#1f0,#370,#550,#760,#950,#b00,#c60,#d50,#de0,#e20,#e20,#e10,#de0,#dc0,#d80,#d30,#ca0,#bc0,#a80,#8e0,#6f0,#4e0,#2e0,#140,#050,#000,#030,#110,#2c0,#530,#7d0,#a60,#c90,#e10,#f00,#f70,#f80,#f60,#f40,#f70,#f80,#f50,#eb0,#d70,#ba0,#940,#6a0,#400,#1e0,#090,#000,#010,#0a0,#1f0,#3c0,#5d0,#7e0,#9b0,#b20,#c30,#ce0,#d60,#da0,#dd0,#e00,#e20,#e30,#e10,#db0,#cf0,#bd0,#a40,#870,#670,#470,#2b0,#150,#070,#010,#000,#030,#090,#090,#090,#090,#090,#090,#090,#090)"></i><i style="background:linear-gradient(#090,#090,#090,#090,#090,#090,#090,#030,#000,#010,#070,#150,#290,#410,#5b0,#750,#8d0,#a20,#b20,#bf0,#c80,#cf0,#d40,#d80,#dd0,#e10,#e40,#e30,#dd0,#cf0,#b80,#9a0,#750,#4e0,#2b0,#110,#030,#000,#040,#120,#2c0,#4d0,#710,#940,#b10,#c80,#d80,#e20,#e90,#ee0,#f10,#ec0,#e60,#de0,#d10,#be0,#a40,#840,#610,#3e0,#1f0,#0a0,#010,#000,#080,#1c0,#3b0,#600,#860,#a90,#c40,#d60,#e00,#e40,#e30,#df0,#db0,#d60,#d20,#cc0,#c40,#ba0,#ab0,#990,#830,#6a0,#4f0,#350,#1f0,#0e0,#040,#000,#010,#090,#090,#090,#090,#090,#090,#090,#090)"></i><i style="background:linear-gradient(#090,#090,#090,#090,#0a0,#0a0,#090,#010,#000,#040,#0e0,#210,#3a0,#570,#760,#920,#aa0,#bc0,#c70,#cd0,#ce0,#cd0,#cb0,#c90,#c80,#c70,#c70,#c40,#be0,#b20,#a00,#860,#670,#450,#260,#0e0,#020,#000,#060,#180,#370,#5c0,#830,#a60,#c00,#d20,#da0,#dd0,#dd0,#db0,#da0,#dc0,#dd0,#dd0,#d70,#cb0,#b50,#970,#720,#4b0,#280,#0e0,#020,#000,#060,#180,#340,#550,#760,#930,#a90,#b80,#c10,#c60,#c70,#c80,#c80,#ca0,#cc0,#ce0,#ce0,#cb0,#c20,#b40,#a00,#860,#680,#4a0,#2e0,#170,#080,#010,#000,#090,#090,#0a0,#0a0,#090,#090,#090,#090)"></i><i style="background:linear-gradient(#090,#090,#090,#0a0,#0a0,#0a0,#0a0,#000,#010,#070,#140,#260,#3e0,#5a0,#760,#920,#aa0,#be0,#ce0,#d80,#df0,#e20,#e40,#e40,#e40,#e20,#de0,#d60,#c80,#b40,#9a0,#7b0,#590,#390,#1d0,#0a0,#010,#000,#070,#190,#360,#5a0,#820,#a70,#c70,#de0,#ed0,#f60,#f90,#f90,#f90,#f90,#f80,#f30,#e70,#d50,#b90,#970,#700,#490,#270,#0f0,#020,#000,#040,#110,#290,#470,#690,#8a0,#a70,#be0,#cf0,#da0,#e00,#e30,#e40,#e40,#e30,#e10,#dc0,#d40,#c70,#b60,#9f0,#850,#690,#4d0,#330,#1d0,#0d0,#040,#000,#090,#0a0,#0a0,#0a0,#090,#090,#090,#090)"></i><i style="background:linear-gradient(#090,#090,#090,#0a0,#0b0,#0b0,#0a0,#000,#040,#0e0,#200,#360,#500,#6a0,#820,#960,#a60,#b20,#ba0,#bf0,#c20,#c50,#c80,#cc0,#d00,#d40,#d50,#d30,#ca0,#ba0,#a10,#810,#5d0,#390,#1c0,#080,#000,#010,#090,#1d0,#390,#5a0,#7c0,#990,#b10,#c30,#cf0,#d60,#db0,#e00,#e20,#de0,#d90,#d30,#ca0,#bc0,#a70,#8c0,#6d0,#4b0,#2b0,#120,#040,#000,#030,#100,#280,#490,#6e0,#900,#ad0,#c20,#cf0,#d50,#d50,#d20,#ce0,#ca0,#c70,#c40,#c10,#bd0,#b70,#ad0,#a00,#8e0,#770,#5e0,#440,#2b0,#170,#090,#010,#090,#0a0,#0b0,#0b0,#0a0,#090,#090,#090)"></i><i style="background:linear-gradient(#090,#090,#090,#0a0,#0c0,#0c0,#0a0,#010,#080,#150,#290,#430,#600,#7e0,#9a0,#b10,#c40,#d00,#d70,#d90,#d80,#d60,#d30,#d00,#cd0,#c90,#c30,#bb0,#ae0,#9c0,#850,#690,#4b0,#2e0,#150,#060,#000,#010,#0c0,#220,#430,#6a0,#900,#b20,#cb0,#dc0,#e40,#e60,#e40,#e10,#df0,#e20,#e50,#e60,#e10,#d50,#c10,#a30,#7f0,#580,#330,#170,#050,#000,#020,#0c0,#200,#3b0,#590,#760,#900,#a50,#b50,#bf0,#c60,#cb0,#ce0,#d10,#d40,#d70,#d90,#d90,#d40,#cb0,#bc0,#a70,#8d0,#700,#520,#360,#1f0,#0e0,#040,#090,#0b0,#0c0,#0b0,#0a0,#090,#090,#090)"></i><i style="background:linear-gradient(#090,#090,#090,#0b0,#0d0,#0d0,#0a0,#040,#0d0,#1c0,#300,#470,#600,#780,#8e0,#a20,#b20,#bf0,#c90,#d00,#d60,#da0,#de0,#e00,#e20,#e20,#dd0,#d30,#c10,#a90,#8b0,#690,#460,#280,#110,#040,#000,#020,#0c0,#210,#3e0,#600,#830,#a40,#c00,#d50,#e40,#ed0,#f20,#f50,#f60,#f40,#f00,#e90,#de0,#cc0,#b40,#960,#730,#500,#300,#160,#060,#000,#010,#080,#1a0,#350,#560,#790,#990,#b50,#ca0,#d80,#e00,#e20,#e20,#df0,#dc0,#d80,#d30,#cd0,#c50,#ba0,#ab0,#990,#840,#6d0,#540,#3c0,#270,#150,#080,#090,#0b0,#0d0,#0c0,#0a0,#090,#090,#090)"></i><i style="background:linear-gradient(#090,#090,#090,#0b0,#0e0,#0d0,#0b0,#080,#160,#2b0,#430,#5f0,#790,#910,#a50,#b30,#bc0,#c10,#c30,#c20,#c20,#c10,#c20,#c30,#c50,#c50,#c30,#bd0,#b10,#9e0,#840,#650,#440,#260,#0f0,#030,#000,#030,#110,#290,#480,#690,#890,#a40,#b80,#c50,#cd0,#d10,#d30,#d50,#d60,#d40,#d20,#cf0,#ca0,#c00,#af0,#980,#7b0,#5a0,#390,#1d0,#090,#010,#000,#070,#180,#330,#530,#730,#900,#a70,#b70,#c10,#c50,#c50,#c40,#c20,#c10,#c10,#c20,#c30,#c20,#bf0,#b90,#ad0,#9c0,#870,#6d0,#520,#380,#210,#0f0,#0a0,#0c0,#0e0,#0d0,#0a0,#090,#090,#090)"></i><i style="background:linear-gradient(#090,#090,#090,#0b0,#0f0,#0e0,#0b0,#0d0,#1b0,#2f0,#480,#620,#7d0,#970,#ae0,#c00,#cd0,#d60,#db0,#de0,#de0,#dc0,#da0,#d80,#d40,#cd0,#c40,#b50,#a20,#8b0,#6f0,#520,#350,#1c0,#0b0,#010,#000,#040,#130,#2c0,#4d0,#720,#970,#b70,#d00,#e10,#ea0,#ed0,#ed0,#ea0,#e80,#eb0,#ed0,#ed0,#e70,#db0,#c60,#a90,#870,#610,#3d0,#1f0,#0b0,#010,#000,#040,#120,#270,#420,#5f0,#7c0,#960,#ac0,#bc0,#c90,#d10,#d60,#d90,#db0,#dd0,#de0,#dd0,#da0,#d30,#c80,#b80,#a40,#8c0,#710,#560,#3c0,#260,#140,#0a0,#0c0,#0f0,#0e0,#0b0,#090,#090,#090)"></i><i style="background:linear-gradient(#090,#090,#0a0,#0c0,#100,#100,#0c0,#150,#270,#3d0,#540,#6b0,#800,#920,#a10,#ad0,#b50,#bb0,#c00,#c50,#c90,#cd0,#d20,#d60,#d80,#d70,#d20,#c50,#b20,#970,#780,#560,#350,#1a0,#090,#010,#000,#050,#140,#2b0,#480,#670,#860,#a10,#b80,#ca0,#d60,#df0,#e50,#ea0,#ec0,#e80,#e30,#dc0,#d10,#c20,#ae0,#950,#780,#590,#3a0,#1f0,#0c0,#020,#000,#030,#100,#260,#430,#650,#870,#a40,#bc0,#cc0,#d50,#d80,#d70,#d40,#cf0,#cb0,#c70,#c30,#be0,#b90,#b20,#a80,#9b0,#8a0,#770,#610,#490,#330,#1f0,#0a0,#0d0,#100,#0f0,#0b0,#090,#090,#090)"></i><i style="background:linear-gradient(#090,#090,#0a0,#0d0,#110,#110,#0c0,#1e0,#330,#4d0,#680,#830,#9b0,#af0,#be0,#c80,#cd0,#ce0,#cd0,#ca0,#c70,#c40,#c20,#c10,#be0,#ba0,#b30,#a70,#970,#810,#670,#4a0,#2e0,#160,#070,#000,#010,#080,#1a0,#350,#560,#780,#970,#b00,#c20,#cd0,#d20,#d30,#d20,#d10,#d10,#d20,#d30,#d30,#d00,#c90,#bb0,#a50,#890,#680,#460,#270,#100,#030,#000,#020,#0d0,#200,#3b0,#570,#730,#8c0,#9f0,#ad0,#b70,#bc0,#bf0,#c10,#c30,#c50,#c80,#cb0,#cd0,#ce0,#cb0,#c40,#b80,#a70,#910,#770,#5b0,#400,#290,#0a0,#0e0,#110,#100,#0b0,#090,#090,#090)"></i><i style="background:linear-gradient(#090,#090,#0a0,#0d0,#120,#120,#0d0,#230,#370,#4d0,#640,#7b0,#910,#a40,#b40,#c10,#ca0,#d10,#d60,#d90,#dc0,#dd0,#de0,#dc0,#d80,#d00,#c20,#af0,#980,#7b0,#5d0,#3f0,#250,#110,#040,#000,#010,#090,#1a0,#330,#530,#760,#980,#b60,#ce0,#df0,#ea0,#ef0,#f00,#ef0,#ee0,#f00,#f00,#ed0,#e60,#d80,#c40,#a90,#890,#660,#440,#270,#110,#040,#000,#010,#090,#190,#310,#4d0,#6b0,#890,#a30,#b90,#c90,#d40,#da0,#dd0,#de0,#dd0,#db0,#d80,#d40,#ce0,#c60,#bb0,#ad0,#9b0,#870,#710,#5a0,#430,#2e0,#0a0,#0e0,#130,#110,#0c0,#090,#090,#090)"></i><i style="background:linear-gradient(#090,#090,#0a0,#0e0,#130,#130,#0d0,#330,#4b0,#630,#7a0,#8e0,#9e0,#aa0,#b20,#b70,#b90,#ba0,#bb0,#bc0,#be0,#c10,#c50,#c70,#c80,#c50,#be0,#af0,#9b0,#800,#610,#410,#250,#100,#030,#000,#020,#0b0,#1d0,#360,#530,#700,#8b0,#a20,#b40,#c20,#cb0,#d20,#d70,#db0,#de0,#d90,#d40,#cf0,#c70,#bc0,#ad0,#980,#7f0,#630,#460,#2a0,#140,#060,#000,#010,#080,#180,#310,#500,#6f0,#8d0,#a50,#b70,#c20,#c70,#c80,#c60,#c30,#c00,#bd0,#bc0,#bb0,#ba0,#b80,#b50,#af0,#a50,#970,#850,#700,#580,#400,#0a0,#0f0,#140,#120,#0c0,#090,#090,#090)"></i><i style="background:linear-gradient(#090,#090,#0a0,#0e0,#150,#140,#0e0,#380,#510,#6a0,#840,#9b0,#b00,#c00,#cb0,#d20,#d60,#d60,#d50,#d20,#cf0,#cc0,#c80,#c40,#bd0,#b30,#a60,#950,#800,#680,#4e0,#340,#1d0,#0c0,#020,#000,#030,#0e0,#230,#400,#610,#840,#a20,#bb0,#cd0,#d70,#db0,#db0,#d80,#d50,#d30,#d70,#da0,#db0,#da0,#d30,#c60,#b10,#950,#740,#520,#320,#180,#070,#010,#000,#050,#130,#270,#400,#5a0,#740,#8a0,#9e0,#ad0,#b80,#c00,#c60,#ca0,#ce0,#d10,#d30,#d50,#d60,#d40,#d00,#c70,#b90,#a70,#910,#780,#5e0,#450,#0b0,#100,#160,#130,#0d0,#0a0,#090,#090)"></i><i style="background:linear-gradient(#090,#090,#0a0,#0f0,#160,#160,#0f0,#420,#570,#6b0,#7e0,#8f0,#9e0,#a90,#b30,#ba0,#c10,#c60,#ca0,#cf0,#d30,#d70,#d90,#d80,#d40,#ca0,#bb0,#a50,#8a0,#6c0,#4d0,#300,#190,#090,#010,#000,#030,#0e0,#210,#3a0,#580,#770,#950,#b00,#c60,#d60,#e10,#e80,#ec0,#ee0,#ef0,#ee0,#eb0,#e60,#dd0,#cf0,#bc0,#a40,#880,#690,#4a0,#2e0,#170,#080,#010,#000,#040,#0f0,#230,#3d0,#5b0,#7a0,#970,#b00,#c30,#cf0,#d60,#d90,#d80,#d50,#d10,#cd0,#c80,#c30,#be0,#b70,#af0,#a40,#970,#880,#760,#620,#4d0,#0b0,#110,#170,#150,#0d0,#0a0,#090,#090)"></i><i style="background:linear-gradient(#090,#090,#0a0,#100,#180,#170,#0f0,#550,#6e0,#860,#9a0,#ab0,#b70,#be0,#c20,#c20,#c10,#be0,#bc0,#bb0,#ba0,#ba0,#ba0,#ba0,#b70,#b00,#a50,#950,#7f0,#660,#490,#2e0,#170,#080,#010,#000,#050,#120,#280,#430,#610,#7d0,#950,#a90,#b70,#c00,#c60,#c90,#cc0,#ce0,#d00,#cd0,#cb0,#c80,#c30,#bc0,#b10,#a00,#8b0,#700,#530,#360,#1d0,#0b0,#020,#000,#030,#0e0,#210,#3a0,#560,#720,#8a0,#9d0,#ab0,#b40,#b80,#ba0,#ba0,#ba0,#ba0,#bb0,#bd0,#bf0,#c10,#c20,#c00,#bb0,#b20,#a40,#910,#7b0,#620,#0b0,#110,#190,#160,#0e0,#0a0,#090,#090)"></i><i style="background:linear-gradient(#090,#090,#0a0,#100,#190,#190,#100,#530,#690,#7f0,#940,#a70,#b60,#c20,#cb0,#d10,#d50,#d70,#d80,#d70,#d60,#d40,#cf0,#c80,#be0,#b00,#9d0,#870,#6f0,#540,#3b0,#230,#110,#050,#000,#000,#060,#140,#2b0,#480,#690,#8a0,#a80,#c10,#d30,#de0,#e30,#e30,#e10,#de0,#db0,#df0,#e20,#e40,#e10,#d90,#cb0,#b60,#9b0,#7b0,#5a0,#3a0,#1f0,#0c0,#020,#000,#020,#0a0,#190,#2d0,#460,#600,#7a0,#920,#a60,#b70,#c30,#cc0,#d20,#d50,#d70,#d70,#d70,#d60,#d30,#cf0,#c70,#bd0,#af0,#9f0,#8b0,#760,#5f0,#0b0,#120,#1a0,#170,#0e0,#0a0,#090,#090)"></i><i style="background:linear-gradient(#090,#090,#0b0,#110,#1b0,#1a0,#100,#650,#780,#890,#970,#a20,#a90,#ae0,#b20,#b50,#b70,#ba0,#be0,#c10,#c60,#ca0,#cc0,#cb0,#c60,#bc0,#ab0,#940,#790,#5b0,#3d0,#230,#0f0,#040,#000,#010,#070,#150,#290,#420,#5e0,#790,#930,#a90,#bb0,#ca0,#d40,#dc0,#e10,#e50,#e70,#e40,#df0,#d90,#d00,#c30,#b30,#9f0,#870,#6d0,#510,#370,#1f0,#0e0,#030,#000,#010,#080,#170,#2e0,#4a0,#690,#860,#9f0,#b30,#c10,#c90,#cc0,#cb0,#c80,#c40,#c00,#bc0,#b90,#b60,#b40,#b00,#ac0,#a60,#9d0,#910,#820,#6f0,#0b0,#130,#1c0,#180,#0f0,#0a0,#090,#090)"></i><i style="background:linear-gradient(#090,#090,#0b0,#120,#1c0,#1c0,#110,#720,#890,#9e0,#b00,#bd0,#c60,#cb0,#cd0,#cc0,#ca0,#c70,#c30,#c00,#bd0,#ba0,#b60,#b00,#a80,#9d0,#8e0,#7b0,#650,#4d0,#340,#1e0,#0d0,#030,#000,#010,#0a0,#1b0,#330,#500,#6e0,#8a0,#a20,#b30,#bf0,#c60,#c80,#c90,#c80,#c80,#c80,#c80,#c80,#c90,#c70,#c30,#ba0,#ac0,#980,#7e0,#610,#430,#270,#120,#050,#000,#010,#060,#140,#280,#3f0,#580,#700,#850,#960,#a30,#ac0,#b30,#b80,#bb0,#be0,#c10,#c50,#c80,#cb0,#cd0,#cd0,#ca0,#c30,#b80,#a80,#950,#7f0,#0c0,#140,#1d0,#1a0,#0f0,#0a0,#090,#090)"></i><i style="background:linear-gradient(#090,#090,#0b0,#120,#1d0,#1d0,#120,#6c0,#7e0,#8e0,#9c0,#a90,#b30,#bb0,#c20,#c80,#cc0,#d00,#d30,#d50,#d70,#d60,#d10,#c90,#bd0,#ab0,#950,#7c0,#600,#450,#2c0,#170,#090,#020,#000,#020,#0a0,#1a0,#310,#4d0,#6c0,#8b0,#a70,#bf0,#d10,#de0,#e50,#e80,#e70,#e50,#e40,#e70,#e80,#e70,#e20,#d90,#ca0,#b50,#9b0,#7d0,#5e0,#400,#260,#120,#050,#000,#000,#040,#0f0,#200,#370,#510,#6d0,#880,#a00,#b40,#c30,#ce0,#d40,#d60,#d60,#d40,#d20,#ce0,#ca0,#c50,#bf0,#b80,#ae0,#a30,#960,#870,#760,#0c0,#150,#1f0,#1b0,#0f0,#0a0,#090,#090)"></i><i style="background:linear-gradient(#090,#090,#0b0,#130,#1f0,#1e0,#120,#860,#970,#a40,#ae0,#b30,#b60,#b60,#b50,#b40,#b40,#b40,#b50,#b70,#b90,#bb0,#bb0,#b80,#b10,#a50,#940,#7d0,#630,#480,#2d0,#170,#080,#010,#000,#030,#0d0,#1d0,#340,#4d0,#660,#7e0,#940,#a50,#b40,#be0,#c70,#cd0,#d20,#d70,#da0,#d50,#d00,#ca0,#c30,#ba0,#ae0,#9e0,#8a0,#740,#5b0,#410,#290,#150,#070,#010,#000,#030,#0e0,#210,#390,#540,#700,#880,#9d0,#ac0,#b50,#ba0,#bb0,#ba0,#b80,#b60,#b40,#b30,#b40,#b50,#b60,#b60,#b50,#b10,#aa0,#9f0,#900,#0c0,#160,#200,#1c0,#100,#0a0,#090,#090)"></i><i style="background:linear-gradient(#090,#090,#0b0,#140,#200,#200,#130,#850,#980,#aa0,#b80,#c30,#cb0,#cf0,#d10,#d20,#d10,#cf0,#cc0,#c90,#c40,#bf0,#b70,#ac0,#9f0,#8f0,#7c0,#660,#4f0,#380,#230,#120,#060,#010,#000,#040,#0f0,#230,#3d0,#5b0,#790,#950,#ad0,#be0,#ca0,#cf0,#d10,#cf0,#cc0,#c90,#c80,#cb0,#ce0,#d00,#d00,#cd0,#c50,#b70,#a30,#890,#6b0,#4d0,#300,#190,#090,#010,#000,#020,#0b0,#190,#2c0,#430,#5a0,#700,#850,#970,#a50,#b10,#bb0,#c10,#c60,#ca0,#cd0,#d00,#d10,#d20,#d10,#cd0,#c70,#be0,#b20,#a20,#900,#0c0,#160,#220,#1d0,#100,#0a0,#090,#090)"></i><i style="background:linear-gradient(#090,#090,#0b0,#140,#220,#210,#140,#840,#910,#9b0,#a20,#a90,#ae0,#b20,#b60,#ba0,#bf0,#c30,#c80,#cc0,#cf0,#ce0,#cb0,#c20,#b40,#a10,#890,#6e0,#520,#380,#200,#0f0,#040,#000,#000,#050,#0f0,#200,#370,#510,#6d0,#880,#a10,#b70,#c90,#d60,#df0,#e40,#e70,#e80,#e70,#e70,#e60,#e20,#db0,#d00,#c10,#ae0,#960,#7c0,#600,#450,#2c0,#180,#090,#020,#000,#010,#080,#160,#2a0,#430,#5f0,#7b0,#950,#ab0,#bb0,#c70,#cd0,#cf0,#ce0,#ca0,#c60,#c10,#bd0,#b80,#b40,#b00,#ac0,#a60,#9f0,#960,#8b0,#0c0,#170,#240,#1f0,#110,#0a0,#090,#090)"></i><i style="background:linear-gradient(#090,#090,#0b0,#150,#230,#230,#140,#a00,#ae0,#b90,#c00,#c30,#c30,#c10,#be0,#bb0,#b70,#b50,#b30,#b20,#b00,#ae0,#aa0,#a40,#9a0,#8c0,#7a0,#650,#4d0,#340,#1f0,#0e0,#040,#000,#010,#070,#140,#270,#3f0,#590,#720,#880,#9a0,#a80,#b20,#b90,#be0,#c10,#c50,#c80,#ca0,#c60,#c30,#c00,#bc0,#b60,#ae0,#a20,#930,#7e0,#670,#4d0,#340,#1e0,#0d0,#030,#000,#010,#070,#150,#280,#3f0,#580,#6f0,#830,#930,#9f0,#a70,#ac0,#af0,#b10,#b20,#b40,#b60,#b90,#bc0,#bf0,#c20,#c30,#c20,#bd0,#b50,#a80,#0d0,#180,#250,#200,#110,#0a0,#090,#090)"></i><i style="background:linear-gradient(#090,#090,#0b0,#160,#250,#240,#150,#8f0,#9e0,#aa0,#b50,#be0,#c50,#ca0,#cd0,#d00,#d20,#d20,#d20,#cf0,#cb0,#c40,#b90,#ab0,#990,#840,#6e0,#560,#3e0,#290,#170,#0a0,#020,#000,#010,#070,#150,#290,#440,#610,#7f0,#9b0,#b30,#c50,#d10,#d80,#da0,#d90,#d50,#d10,#cf0,#d30,#d70,#da0,#da0,#d60,#cc0,#bd0,#a90,#8f0,#720,#530,#370,#1f0,#0e0,#040,#000,#000,#050,#0f0,#1f0,#320,#490,#610,#780,#8e0,#a20,#b20,#be0,#c70,#cd0,#d10,#d20,#d20,#d10,#cf0,#cc0,#c70,#c20,#ba0,#b00,#a50,#970,#0d0,#190,#270,#210,#120,#0a0,#090,#090)"></i><i style="background:linear-gradient(#090,#090,#0c0,#160,#260,#250,#150,#9d0,#a40,#a90,#ab0,#ac0,#ad0,#ad0,#ae0,#b00,#b30,#b60,#ba0,#be0,#c00,#bf0,#bb0,#b20,#a40,#900,#790,#5e0,#440,#2b0,#170,#090,#020,#000,#020,#090,#150,#280,#3e0,#550,#6e0,#850,#9a0,#ad0,#bc0,#c80,#d20,#d80,#dd0,#e10,#e30,#e00,#db0,#d60,#ce0,#c30,#b60,#a50,#910,#7b0,#630,#4a0,#330,#1f0,#0f0,#050,#000,#000,#040,#0e0,#1f0,#360,#500,#6b0,#840,#9a0,#ab0,#b70,#bd0,#c00,#bf0,#bc0,#b80,#b40,#b10,#af0,#ae0,#ad0,#ad0,#ac0,#aa0,#a70,#a10,#0d0,#1a0,#280,#220,#120,#0a0,#090,#090)"></i><i style="background:linear-gradient(#090,#090,#0c0,#170,#270,#270,#160,#ad0,#ba0,#c30,#c90,#cb0,#cc0,#ca0,#c80,#c40,#c10,#bd0,#b90,#b40,#af0,#a80,#9f0,#940,#860,#760,#620,#4e0,#380,#240,#130,#070,#010,#000,#030,#0c0,#1c0,#320,#4b0,#660,#7f0,#950,#a50,#b10,#b90,#bc0,#be0,#be0,#be0,#be0,#bf0,#be0,#be0,#be0,#bd0,#bb0,#b60,#ac0,#9e0,#8b0,#740,#5a0,#3f0,#270,#130,#070,#010,#000,#030,#0c0,#1a0,#2d0,#420,#570,#6b0,#7d0,#8d0,#990,#a30,#ab0,#b10,#b70,#bb0,#bf0,#c20,#c60,#c90,#cb0,#cc0,#ca0,#c60,#bf0,#b40,#0d0,#1a0,#290,#240,#130,#0b0,#090,#090)"></i><i style="background:linear-gradient(#090,#090,#0c0,#170,#290,#280,#160,#960,#9f0,#a70,#ad0,#b30,#b80,#bd0,#c20,#c70,#cb0,#ce0,#d00,#cf0,#cb0,#c40,#b80,#a70,#930,#7c0,#630,#490,#320,#1e0,#0e0,#050,#000,#000,#030,#0b0,#1a0,#2f0,#480,#630,#800,#9a0,#b20,#c40,#d20,#db0,#df0,#e00,#de0,#db0,#d90,#dd0,#df0,#e00,#de0,#d70,#cc0,#bc0,#a70,#8e0,#730,#570,#3c0,#250,#130,#070,#010,#000,#020,#080,#150,#260,#3c0,#550,#6e0,#870,#9d0,#af0,#be0,#c80,#cd0,#d00,#cf0,#cd0,#c90,#c50,#c00,#bb0,#b60,#b00,#aa0,#a30,#9b0,#0d0,#1b0,#2b0,#250,#130,#0b0,#090,#090)"></i><i style="background:linear-gradient(#090,#090,#0c0,#180,#2a0,#290,#170,#b20,#b70,#b80,#b70,#b50,#b20,#b00,#ae0,#ad0,#ac0,#ad0,#ae0,#af0,#ae0,#ac0,#a60,#9c0,#8d0,#7a0,#640,#4c0,#340,#1f0,#0e0,#040,#000,#000,#040,#0e0,#1e0,#310,#470,#5d0,#730,#860,#970,#a60,#b10,#bb0,#c30,#c90,#cf0,#d40,#d60,#d10,#cc0,#c60,#bf0,#b70,#ac0,#9f0,#900,#7e0,#690,#530,#3d0,#280,#160,#090,#020,#000,#010,#080,#150,#280,#3f0,#570,#6f0,#840,#940,#a10,#a90,#ad0,#af0,#af0,#ae0,#ad0,#ac0,#ad0,#af0,#b10,#b40,#b60,#b80,#b80,#b50,#0d0,#1c0,#2c0,#260,#130,#0b0,#090,#090)"></i><i style="background:linear-gradient(#090,#090,#0c0,#180,#2b0,#2a0,#170,#ae0,#b80,#c10,#c70,#cb0,#cd0,#ce0,#ce0,#cc0,#ca0,#c70,#c20,#bb0,#b20,#a70,#9a0,#8a0,#780,#640,#500,#3b0,#280,#170,#0a0,#030,#000,#010,#050,#110,#230,#3a0,#550,#710,#8a0,#a00,#b20,#bd0,#c40,#c60,#c60,#c30,#c00,#be0,#bd0,#bf0,#c20,#c50,#c60,#c60,#c10,#b90,#aa0,#970,#7f0,#640,#490,#2f0,#1a0,#0b0,#020,#000,#010,#060,#100,#1e0,#300,#440,#590,#6d0,#800,#910,#a00,#ac0,#b70,#be0,#c40,#c80,#cb0,#cd0,#ce0,#ce0,#cc0,#c90,#c40,#bd0,#b40,#0e0,#1d0,#2d0,#270,#140,#0b0,#090,#090)"></i><i style="background:linear-gradient(#090,#090,#0c0,#190,#2c0,#2b0,#180,#a00,#a30,#a50,#a70,#aa0,#ac0,#b00,#b40,#b90,#be0,#c20,#c50,#c50,#c20,#bb0,#af0,#9e0,#890,#710,#570,#3e0,#270,#150,#090,#020,#000,#010,#060,#100,#1f0,#330,#4a0,#630,#7d0,#950,#aa0,#bc0,#cb0,#d50,#dc0,#e00,#e10,#e10,#e00,#e10,#e10,#de0,#d90,#d10,#c50,#b40,#a10,#8a0,#710,#580,#400,#2a0,#180,#0b0,#030,#000,#000,#040,#0e0,#1d0,#310,#490,#630,#7c0,#930,#a60,#b50,#bf0,#c40,#c50,#c40,#c00,#bb0,#b70,#b20,#ae0,#ab0,#a80,#a60,#a40,#a10,#0e0,#1d0,#2e0,#280,#140,#0b0,#090,#090)"></i><i style="background:linear-gradient(#090,#090,#0c0,#190,#2d0,#2c0,#180,#c00,#c30,#c40,#c30,#c00,#bd0,#b90,#b50,#b10,#ae0,#ab0,#a80,#a50,#a00,#990,#900,#840,#750,#630,#4e0,#390,#250,#140,#080,#010,#000,#020,#080,#150,#270,#3c0,#530,#690,#7d0,#8e0,#9b0,#a60,#ad0,#b30,#b70,#bb0,#bf0,#c40,#c60,#c20,#be0,#ba0,#b50,#b10,#aa0,#a10,#950,#860,#740,#5f0,#490,#320,#1e0,#0e0,#040,#000,#000,#040,#0d0,#1b0,#2e0,#430,#580,#6b0,#7c0,#8a0,#950,#9d0,#a20,#a70,#aa0,#ad0,#b00,#b30,#b60,#ba0,#be0,#c20,#c40,#c40,#c20,#0e0,#1e0,#2f0,#280,#140,#0b0,#090,#090)"></i><i style="background:linear-gradient(#090,#090,#0c0,#1a0,#2e0,#2d0,#190,#a80,#af0,#b60,#bc0,#c10,#c50,#c90,#cc0,#cd0,#ce0,#cc0,#c80,#c00,#b60,#a80,#970,#830,#6e0,#580,#420,#2e0,#1c0,#0e0,#050,#010,#000,#020,#090,#160,#290,#400,#5b0,#760,#900,#a70,#b90,#c60,#ce0,#d10,#d10,#ce0,#ca0,#c60,#c30,#c80,#cc0,#d00,#d10,#d00,#cb0,#c10,#b20,#9d0,#850,#6a0,#4e0,#350,#1f0,#0f0,#050,#010,#000,#020,#090,#140,#240,#370,#4c0,#620,#780,#8c0,#9f0,#af0,#bb0,#c40,#ca0,#cd0,#ce0,#cd0,#cb0,#c70,#c40,#bf0,#b90,#b30,#ac0,#0e0,#1e0,#300,#290,#150,#0b0,#090,#090)"></i><i style="background:linear-gradient(#090,#090,#0c0,#1a0,#2e0,#2e0,#190,#ac0,#ab0,#aa0,#a80,#a70,#a70,#a70,#a90,#ac0,#af0,#b20,#b40,#b40,#b00,#a90,#9d0,#8d0,#780,#610,#490,#320,#1e0,#0e0,#050,#000,#000,#030,#0a0,#160,#260,#390,#4f0,#640,#7a0,#8e0,#a00,#b00,#be0,#c80,#d00,#d70,#db0,#de0,#df0,#dd0,#d90,#d40,#cd0,#c40,#b80,#a90,#980,#850,#700,#5a0,#450,#300,#1e0,#100,#060,#010,#000,#020,#080,#150,#260,#3c0,#540,#6c0,#820,#950,#a30,#ad0,#b20,#b40,#b30,#b10,#ae0,#aa0,#a80,#a70,#a70,#a70,#a90,#ab0,#ac0,#0e0,#1f0,#310,#2a0,#150,#0b0,#090,#090)"></i><i style="background:linear-gradient(#090,#090,#0c0,#1a0,#2f0,#2e0,#190,#c20,#c60,#c90,#c90,#c80,#c60,#c30,#bf0,#bb0,#b60,#b10,#aa0,#a20,#980,#8d0,#7f0,#700,#600,#4d0,#3b0,#290,#180,#0c0,#030,#000,#000,#040,#0d0,#1c0,#310,#480,#600,#760,#8a0,#9a0,#a50,#ad0,#b20,#b40,#b50,#b50,#b60,#b80,#b90,#b70,#b60,#b50,#b40,#b30,#b00,#aa0,#a10,#930,#810,#6c0,#550,#3d0,#270,#150,#080,#020,#000,#010,#070,#110,#1f0,#310,#430,#560,#670,#780,#860,#920,#9d0,#a60,#ad0,#b30,#b90,#bd0,#c10,#c50,#c70,#c90,#c90,#c80,#c40,#0e0,#1f0,#320,#2a0,#150,#0b0,#090,#090)"></i><i style="background:linear-gradient(#090,#090,#0c0,#1b0,#300,#2f0,#190,#a00,#a50,#a90,#ad0,#b20,#b70,#bc0,#c10,#c50,#c80,#c80,#c50,#be0,#b40,#a50,#920,#7d0,#650,#4e0,#370,#240,#140,#090,#020,#000,#000,#040,#0c0,#1a0,#2d0,#430,#5c0,#760,#8f0,#a60,#b90,#c80,#d20,#d70,#d90,#d80,#d50,#d10,#cf0,#d30,#d70,#d90,#d90,#d50,#ce0,#c20,#b10,#9c0,#840,#6a0,#510,#390,#240,#130,#080,#020,#000,#010,#040,#0d0,#1b0,#2c0,#410,#580,#700,#870,#9b0,#ac0,#b90,#c20,#c70,#c80,#c70,#c40,#bf0,#ba0,#b50,#b00,#ab0,#a70,#a30,#0e0,#1f0,#320,#2b0,#150,#0b0,#090,#090)"></i><i style="background:linear-gradient(#090,#090,#0d0,#1b0,#300,#2f0,#1a0,#b90,#b70,#b30,#af0,#ac0,#a90,#a60,#a50,#a50,#a40,#a40,#a30,#a00,#9a0,#920,#860,#770,#640,#4f0,#390,#250,#150,#080,#020,#000,#010,#060,#0f0,#1e0,#2f0,#420,#560,#690,#7b0,#8b0,#990,#a60,#b00,#b90,#c00,#c70,#cd0,#d20,#d50,#d00,#ca0,#c40,#bd0,#b50,#ab0,#a00,#930,#840,#730,#610,#4d0,#390,#270,#170,#0a0,#030,#000,#000,#040,#0d0,#1c0,#2e0,#430,#590,#6d0,#7e0,#8c0,#960,#9d0,#a10,#a30,#a40,#a40,#a50,#a60,#a70,#aa0,#ad0,#b10,#b50,#b80,#0e0,#200,#330,#2b0,#150,#0b0,#090,#090)"></i><i style="background:linear-gradient(#090,#090,#0d0,#1b0,#300,#2f0,#1a0,#b80,#be0,#c20,#c50,#c80,#c80,#c80,#c70,#c40,#bf0,#b80,#af0,#a30,#950,#860,#750,#620,#500,#3d0,#2b0,#1c0,#0f0,#060,#010,#000,#010,#070,#120,#230,#380,#510,#6a0,#810,#960,#a60,#b20,#b90,#bd0,#bd0,#bb0,#b80,#b60,#b40,#b40,#b50,#b70,#ba0,#bc0,#bd0,#bc0,#b70,#ad0,#9f0,#8d0,#770,#5e0,#450,#2e0,#1b0,#0c0,#040,#000,#000,#030,#0a0,#140,#230,#330,#460,#580,#6b0,#7d0,#8d0,#9c0,#a90,#b30,#bb0,#c10,#c50,#c80,#c80,#c80,#c70,#c40,#c00,#bc0,#0e0,#200,#330,#2b0,#160,#0b0,#090,#090)"></i><i style="background:linear-gradient(#090,#090,#0d0,#1b0,#310,#300,#1a0,#9f0,#9f0,#a00,#a20,#a40,#a80,#ac0,#b10,#b60,#b90,#ba0,#b80,#b20,#a80,#990,#870,#720,#5b0,#430,#2e0,#1c0,#0e0,#050,#010,#000,#020,#070,#110,#1f0,#300,#450,#5c0,#730,#890,#9e0,#b10,#c00,#cc0,#d40,#d90,#db0,#db0,#da0,#d80,#db0,#dc0,#db0,#d70,#d10,#c70,#ba0,#a90,#950,#7f0,#680,#510,#3b0,#280,#180,#0c0,#040,#000,#000,#020,#080,#130,#230,#370,#4e0,#650,#7c0,#900,#a10,#ad0,#b50,#b90,#b90,#b70,#b40,#af0,#aa0,#a60,#a30,#a10,#9f0,#9f0,#0e0,#200,#330,#2c0,#160,#0b0,#090,#090)"></i><i style="background:linear-gradient(#090,#090,#0d0,#1b0,#310,#300,#1a0,#c10,#c00,#bd0,#b90,#b50,#b10,#ad0,#a90,#a50,#a10,#9c0,#960,#8f0,#860,#7c0,#6e0,#5f0,#4e0,#3c0,#2a0,#1a0,#0d0,#040,#000,#000,#020,#0a0,#160,#260,#390,#4e0,#610,#730,#830,#8f0,#9a0,#a20,#a80,#ae0,#b20,#b70,#bc0,#c10,#c40,#bf0,#ba0,#b50,#b00,#ab0,#a50,#9e0,#950,#8a0,#7c0,#6b0,#580,#440,#310,#1e0,#100,#060,#010,#000,#020,#070,#120,#210,#320,#440,#560,#660,#750,#810,#8a0,#920,#990,#9e0,#a30,#a70,#ab0,#af0,#b30,#b70,#bb0,#be0,#c00,#0e0,#200,#330,#2c0,#160,#0b0,#090,#090)"></i><i style="background:linear-gradient(#090,#090,#0d0,#1b0,#310,#300,#1a0,#aa0,#af0,#b40,#b90,#be0,#c20,#c50,#c60,#c50,#c10,#bb0,#b10,#a40,#940,#810,#6d0,#590,#440,#310,#210,#130,#090,#030,#000,#000,#030,#0a0,#160,#280,#3d0,#550,#6e0,#860,#9c0,#ae0,#bb0,#c40,#c80,#c80,#c60,#c30,#be0,#ba0,#b80,#bc0,#c00,#c40,#c80,#c90,#c60,#c00,#b60,#a60,#920,#7b0,#630,#4a0,#330,#1f0,#100,#060,#010,#000,#010,#050,#0d0,#190,#280,#3a0,#4e0,#620,#770,#8a0,#9b0,#aa0,#b60,#be0,#c30,#c60,#c60,#c40,#c00,#bc0,#b70,#b20,#ad0,#0e0,#200,#330,#2c0,#160,#0b0,#090,#090)"></i><i style="background:linear-gradient(#090,#090,#0d0,#1b0,#310,#300,#1a0,#a50,#a20,#a00,#9e0,#9e0,#9e0,#a00,#a20,#a40,#a60,#a50,#a30,#9d0,#940,#860,#750,#620,#4c0,#370,#240,#140,#090,#020,#000,#000,#040,#0b0,#160,#250,#360,#480,#5c0,#6f0,#820,#940,#a40,#b20,#be0,#c70,#ce0,#d40,#d70,#d90,#da0,#d80,#d60,#d20,#cb0,#c30,#b90,#ac0,#9d0,#8c0,#790,#660,#530,#3f0,#2e0,#1e0,#100,#070,#020,#000,#010,#040,#0d0,#1b0,#2c0,#410,#560,#6b0,#7e0,#8d0,#990,#a00,#a40,#a60,#a50,#a30,#a10,#9f0,#9e0,#9e0,#9f0,#a10,#a30,#0e0,#200,#330,#2c0,#160,#0b0,#090,#090)"></i><i style="background:linear-gradient(#090,#090,#0d0,#1b0,#310,#300,#1a0,#c00,#c10,#c20,#c00,#be0,#bb0,#b70,#b20,#ab0,#a40,#9b0,#910,#850,#780,#6b0,#5b0,#4c0,#3b0,#2b0,#1c0,#100,#070,#020,#000,#010,#050,#0e0,#1d0,#2f0,#440,#590,#6d0,#7f0,#8e0,#990,#a10,#a60,#a90,#aa0,#ab0,#ad0,#ae0,#b10,#b30,#b00,#ae0,#ac0,#ab0,#aa0,#a80,#a40,#9e0,#940,#880,#770,#640,#4f0,#3a0,#260,#160,#090,#020,#000,#000,#030,#0a0,#150,#230,#330,#430,#530,#620,#710,#7e0,#8b0,#960,#9f0,#a70,#af0,#b40,#b90,#bd0,#bf0,#c10,#c20,#c10,#0e0,#200,#330,#2c0,#160,#0b0,#090,#090)"></i><i style="background:linear-gradient(#090,#090,#0d0,#1b0,#310,#300,#1a0,#9c0,#a00,#a40,#a90,#af0,#b40,#b80,#bb0,#bc0,#ba0,#b50,#ac0,#9f0,#8e0,#7b0,#660,#500,#3c0,#290,#190,#0d0,#050,#010,#000,#010,#050,#0d0,#1a0,#2a0,#3f0,#550,#6d0,#840,#9a0,#ac0,#bb0,#c60,#cd0,#d00,#d00,#cd0,#c90,#c40,#c20,#c70,#cb0,#cf0,#d00,#cf0,#ca0,#c20,#b50,#a40,#900,#7a0,#620,#4b0,#350,#220,#130,#090,#030,#000,#000,#020,#080,#120,#200,#310,#450,#5a0,#700,#840,#960,#a50,#b10,#b80,#bc0,#bc0,#ba0,#b60,#b10,#ac0,#a70,#a20,#9e0,#0e0,#200,#330,#2c0,#160,#0b0,#090,#090)"></i><i style="background:linear-gradient(#090,#090,#0d0,#1b0,#310,#300,#1a0,#af0,#ab0,#a70,#a30,#a00,#9d0,#9b0,#990,#980,#950,#920,#8d0,#860,#7c0,#700,#600,#4f0,#3c0,#2a0,#1a0,#0d0,#050,#010,#000,#010,#070,#100,#1d0,#2c0,#3d0,#4f0,#600,#700,#7f0,#8c0,#990,#a30,#ad0,#b60,#bd0,#c40,#c90,#ce0,#d00,#cc0,#c70,#c10,#ba0,#b20,#a90,#9f0,#930,#860,#780,#690,#580,#470,#360,#250,#170,#0b0,#040,#000,#000,#020,#080,#120,#210,#320,#450,#570,#670,#760,#810,#8a0,#900,#940,#970,#980,#9a0,#9c0,#9e0,#a10,#a50,#a90,#ad0,#0e0,#200,#330,#2c0,#160,#0b0,#090,#090)"></i><i style="background:linear-gradient(#090,#090,#0d0,#1b0,#310,#300,#1a0,#b60,#ba0,#bd0,#bf0,#c00,#c00,#bd0,#b90,#b20,#a90,#9e0,#900,#810,#710,#600,#4f0,#3e0,#2e0,#1f0,#130,#090,#030,#000,#000,#020,#080,#130,#220,#360,#4b0,#620,#770,#8a0,#9a0,#a50,#ac0,#b00,#b10,#b00,#ae0,#ac0,#aa0,#aa0,#aa0,#aa0,#ab0,#ad0,#af0,#b10,#b10,#af0,#aa0,#a00,#930,#820,#6e0,#570,#410,#2c0,#1b0,#0d0,#050,#010,#000,#010,#050,#0d0,#180,#260,#350,#450,#560,#680,#780,#880,#970,#a30,#ad0,#b50,#bb0,#bf0,#c00,#c00,#bf0,#bc0,#b80,#0e0,#200,#330,#2c0,#160,#0b0,#090,#090)"></i><i style="background:linear-gradient(#090,#090,#0d0,#1b0,#310,#300,#1a0,#960,#970,#990,#9b0,#9f0,#a30,#a70,#aa0,#ab0,#aa0,#a50,#9d0,#920,#820,#700,#5c0,#470,#330,#210,#130,#080,#020,#000,#000,#020,#080,#110,#1e0,#2d0,#3f0,#530,#680,#7d0,#910,#a30,#b20,#bf0,#c80,#ce0,#d10,#d20,#d10,#ce0,#cc0,#cf0,#d10,#d20,#d00,#cc0,#c40,#ba0,#ac0,#9b0,#880,#740,#5f0,#4a0,#370,#260,#170,#0c0,#050,#010,#000,#010,#050,#0d0,#190,#290,#3c0,#500,#650,#790,#8a0,#970,#a10,#a80,#ab0,#aa0,#a80,#a50,#a10,#9d0,#9a0,#980,#970,#0e0,#200,#330,#2c0,#160,#0b0,#090,#090)"></i><i style="background:linear-gradient(#090,#090,#0d0,#1b0,#310,#300,#1a0,#b70,#b40,#b10,#ad0,#a80,#a40,#9e0,#990,#930,#8c0,#840,#7c0,#720,#670,#5a0,#4c0,#3c0,#2d0,#1e0,#110,#080,#020,#000,#000,#040,#0b0,#170,#250,#360,#480,#590,#690,#760,#820,#8c0,#940,#9b0,#a10,#a70,#ac0,#b10,#b70,#bc0,#bf0,#ba0,#b40,#af0,#aa0,#a40,#9e0,#980,#910,#880,#7d0,#700,#620,#510,#400,#2e0,#1e0,#110,#070,#020,#000,#010,#040,#0c0,#170,#250,#340,#430,#520,#600,#6c0,#770,#800,#880,#8f0,#960,#9b0,#a10,#a60,#aa0,#af0,#b20,#b50,#0e0,#200,#330,#2c0,#160,#0b0,#090,#090)"></i><i style="background:linear-gradient(#090,#090,#0d0,#1b0,#310,#300,#1a0,#a50,#ab0,#b00,#b40,#b80,#ba0,#ba0,#b70,#b20,#a90,#9d0,#8f0,#7e0,#6c0,#590,#460,#350,#250,#170,#0d0,#060,#010,#000,#010,#040,#0b0,#170,#260,#3a0,#4f0,#650,#7b0,#8f0,#9f0,#ac0,#b50,#ba0,#bc0,#bb0,#b80,#b40,#b00,#ac0,#aa0,#ae0,#b20,#b60,#b90,#bc0,#bc0,#b80,#b20,#a70,#980,#860,#710,#5b0,#450,#300,#1f0,#110,#080,#020,#000,#000,#030,#080,#110,#1d0,#2c0,#3c0,#4f0,#620,#740,#860,#960,#a30,#ad0,#b50,#b90,#ba0,#b90,#b60,#b20,#ad0,#a80,#0e0,#200,#330,#2c0,#160,#0b0,#090,#090)"></i><i style="background:linear-gradient(#090,#090,#0d0,#1b0,#310,#300,#1a0,#980,#950,#940,#930,#940,#940,#950,#960,#950,#930,#8f0,#870,#7d0,#6f0,#5f0,#4e0,#3b0,#2a0,#1a0,#0e0,#060,#010,#000,#010,#050,#0d0,#170,#230,#320,#420,#530,#640,#750,#860,#950,#a30,#b00,#ba0,#c20,#c80,#cd0,#cf0,#d00,#d00,#d00,#ce0,#cb0,#c60,#bf0,#b60,#aa0,#9d0,#8e0,#7e0,#6d0,#5c0,#4b0,#3b0,#2b0,#1d0,#120,#090,#030,#000,#000,#030,#090,#130,#210,#320,#440,#560,#670,#760,#820,#8b0,#910,#940,#960,#960,#950,#940,#930,#930,#940,#960,#0e0,#200,#330,#2c0,#160,#0b0,#090,#090)"></i><i style="background:linear-gradient(#090,#090,#0d0,#1b0,#310,#300,#1a0,#b60,#b60,#b50,#b30,#af0,#aa0,#a40,#9c0,#920,#880,#7d0,#710,#640,#570,#490,#3b0,#2d0,#210,#150,#0b0,#050,#010,#000,#020,#070,#110,#1e0,#2e0,#400,#530,#640,#740,#810,#8b0,#920,#980,#9b0,#9e0,#a00,#a20,#a40,#a70,#ab0,#ad0,#a90,#a60,#a30,#a10,#9f0,#9d0,#9a0,#960,#8f0,#870,#7b0,#6d0,#5c0,#4a0,#380,#260,#180,#0c0,#040,#010,#000,#020,#070,#100,#1a0,#260,#340,#410,#4f0,#5d0,#6a0,#760,#820,#8d0,#970,#9f0,#a70,#ad0,#b10,#b40,#b60,#b60,#0e0,#200,#330,#2c0,#160,#0b0,#090,#090)"></i><i style="background:linear-gradient(#090,#090,#0d0,#1b0,#310,#300,#1a0,#950,#990,#9e0,#a20,#a60,#a90,#ab0,#aa0,#a60,#9e0,#940,#860,#760,#640,#520,#3f0,#2e0,#1f0,#130,#090,#040,#010,#000,#020,#070,#0f0,#1b0,#290,#3b0,#4e0,#630,#780,#8b0,#9c0,#ab0,#b60,#be0,#c20,#c30,#c20,#bf0,#ba0,#b60,#b30,#b80,#bc0,#c00,#c30,#c30,#c00,#bb0,#b10,#a50,#950,#820,#6e0,#5a0,#450,#330,#220,#150,#0b0,#050,#010,#000,#020,#060,#0d0,#180,#260,#360,#480,#5a0,#6d0,#7e0,#8d0,#990,#a20,#a80,#aa0,#aa0,#a80,#a50,#a00,#9b0,#970,#0e0,#200,#330,#2c0,#160,#0b0,#090,#090)"></i><i style="background:linear-gradient(#090,#090,#0d0,#1b0,#310,#300,#1a0,#9f0,#9b0,#970,#930,#900,#8d0,#890,#860,#820,#7d0,#770,#6f0,#660,#5a0,#4c0,#3e0,#2f0,#210,#140,#0a0,#040,#010,#010,#040,#0a0,#130,#1e0,#2c0,#3a0,#480,#560,#640,#710,#7d0,#890,#940,#9e0,#a70,#b00,#b70,#be0,#c30,#c70,#c90,#c50,#c10,#bb0,#b40,#ac0,#a30,#9a0,#8f0,#840,#780,#6b0,#5e0,#500,#410,#330,#250,#190,#0e0,#070,#020,#000,#020,#060,#0e0,#190,#270,#360,#450,#530,#5f0,#6a0,#730,#7a0,#800,#840,#880,#8b0,#8e0,#920,#950,#990,#9d0,#0e0,#200,#330,#2c0,#160,#0b0,#090,#090)"></i><i style="background:linear-gradient(#090,#090,#0d0,#1b0,#310,#300,#1a0,#ad0,#b00,#b10,#b10,#af0,#ab0,#a50,#9d0,#930,#860,#790,#6a0,#5c0,#4d0,#3e0,#300,#230,#180,#0f0,#080,#030,#000,#010,#050,#0c0,#160,#240,#350,#470,#5a0,#6c0,#7c0,#890,#940,#9b0,#9f0,#a10,#a20,#a10,#a00,#9f0,#9f0,#9f0,#a00,#9f0,#9f0,#9f0,#a00,#a10,#a20,#a10,#9e0,#980,#8f0,#830,#750,#630,#510,#3e0,#2d0,#1d0,#110,#080,#030,#000,#010,#050,#0b0,#130,#1d0,#290,#360,#450,#530,#620,#710,#7f0,#8c0,#980,#a10,#a80,#ad0,#b00,#b10,#b10,#ae0,#0e0,#200,#330,#2c0,#160,#0b0,#090,#090)"></i><i style="background:linear-gradient(#090,#090,#0d0,#1b0,#310,#300,#1a0,#8b0,#8c0,#8e0,#900,#930,#950,#950,#940,#910,#8b0,#830,#770,#690,#590,#490,#380,#280,#1b0,#0f0,#070,#030,#000,#010,#050,#0b0,#140,#1f0,#2c0,#3b0,#4c0,#5d0,#6f0,#800,#910,#9f0,#ac0,#b60,#bd0,#c10,#c30,#c30,#c10,#be0,#bc0,#c00,#c20,#c30,#c30,#c00,#ba0,#b10,#a60,#990,#890,#780,#670,#550,#440,#340,#260,#190,#100,#080,#030,#000,#010,#040,#0b0,#140,#200,#2f0,#3f0,#500,#610,#700,#7d0,#870,#8e0,#930,#950,#950,#940,#920,#8f0,#8d0,#8b0,#0e0,#200,#330,#2c0,#160,#0b0,#090,#090)"></i><i style="background:linear-gradient(#090,#090,#0d0,#1b0,#310,#300,#1a0,#a60,#a20,#9e0,#980,#920,#8c0,#850,#7e0,#760,#6e0,#660,#5c0,#520,#470,#3b0,#2f0,#240,#190,#0f0,#070,#030,#000,#030,#080,#100,#1a0,#270,#350,#430,#500,#5d0,#680,#720,#7b0,#830,#8a0,#910,#970,#9d0,#a30,#a90,#af0,#b50,#b80,#b30,#ad0,#a70,#a10,#9a0,#940,#8e0,#870,#7f0,#770,#6e0,#630,#570,#4a0,#3c0,#2e0,#210,#150,#0c0,#050,#010,#010,#040,#0b0,#130,#1d0,#290,#350,#410,#4c0,#570,#610,#6a0,#720,#7a0,#810,#880,#8f0,#950,#9b0,#a00,#a40,#0e0,#200,#330,#2c0,#160,#0b0,#090,#090)"></i><i style="background:linear-gradient(#090,#090,#0d0,#1b0,#310,#300,#1a0,#9c0,#a10,#a40,#a60,#a60,#a30,#9f0,#980,#8e0,#820,#740,#660,#560,#460,#380,#2a0,#1e0,#130,#0b0,#050,#020,#000,#030,#080,#100,#1a0,#280,#380,#490,#5b0,#6d0,#7d0,#8c0,#970,#a00,#a60,#a90,#a90,#a80,#a50,#a30,#a00,#9d0,#9c0,#9e0,#a10,#a40,#a70,#a90,#a90,#a80,#a30,#9c0,#920,#850,#760,#650,#530,#410,#300,#210,#150,#0c0,#050,#010,#000,#030,#080,#0f0,#180,#230,#300,#3e0,#4d0,#5d0,#6d0,#7b0,#880,#930,#9b0,#a10,#a50,#a60,#a50,#a20,#9f0,#0e0,#200,#330,#2c0,#160,#0b0,#090,#090)"></i><i style="background:linear-gradient(#090,#090,#0d0,#1b0,#310,#300,#1a0,#890,#870,#850,#840,#830,#820,#800,#7e0,#7a0,#750,#6d0,#640,#580,#4c0,#3e0,#300,#220,#170,#0d0,#060,#020,#010,#040,#090,#110,#1a0,#240,#300,#3d0,#4a0,#580,#660,#740,#820,#8f0,#9b0,#a50,#ae0,#b60,#bb0,#bf0,#c00,#c00,#c00,#c00,#c00,#bd0,#b90,#b30,#ab0,#a10,#950,#890,#7c0,#6e0,#5f0,#520,#440,#370,#2b0,#1f0,#150,#0d0,#070,#020,#000,#030,#090,#110,#1c0,#280,#360,#440,#520,#5e0,#690,#710,#780,#7c0,#7f0,#810,#820,#830,#840,#860,#870,#0e0,#200,#330,#2c0,#160,#0b0,#090,#090)"></i><i style="background:linear-gradient(#090,#090,#0d0,#1b0,#310,#300,#1a0,#a70,#a50,#a10,#9c0,#950,#8e0,#850,#7b0,#710,#660,#5b0,#500,#450,#3a0,#2f0,#250,#1b0,#120,#0b0,#050,#010,#010,#050,#0c0,#160,#220,#2f0,#3d0,#4c0,#590,#650,#700,#780,#7f0,#840,#880,#8c0,#8f0,#920,#950,#990,#9d0,#a20,#a40,#a00,#9b0,#970,#930,#900,#8d0,#8a0,#860,#820,#7c0,#750,#6b0,#600,#530,#450,#370,#290,#1c0,#110,#090,#030,#000,#030,#080,#0e0,#160,#1f0,#290,#340,#3f0,#4a0,#550,#600,#6b0,#750,#800,#890,#910,#990,#9e0,#a30,#a60,#0e0,#200,#330,#2c0,#160,#0b0,#090,#090)"></i><i style="background:linear-gradient(#090,#090,#0d0,#1b0,#310,#300,#1a0,#8b0,#8e0,#910,#930,#940,#930,#8f0,#8a0,#820,#780,#6c0,#5e0,#500,#410,#330,#260,#1a0,#110,#090,#040,#010,#020,#050,#0b0,#130,#1d0,#2a0,#380,#470,#570,#680,#780,#860,#930,#9e0,#a60,#ab0,#ae0,#ae0,#ad0,#aa0,#a70,#a30,#a00,#a40,#a80,#ac0,#ae0,#ae0,#ad0,#a90,#a20,#990,#8e0,#800,#710,#600,#500,#400,#310,#240,#190,#0f0,#080,#030,#000,#020,#060,#0d0,#150,#1f0,#2c0,#390,#480,#570,#650,#720,#7d0,#860,#8d0,#910,#930,#930,#920,#900,#8d0,#0e0,#200,#330,#2c0,#160,#0b0,#090,#090)"></i><i style="background:linear-gradient(#090,#090,#0d0,#1b0,#310,#300,#1a0,#8d0,#880,#830,#7e0,#7a0,#750,#710,#6c0,#660,#600,#590,#510,#470,#3d0,#320,#270,#1c0,#130,#0b0,#040,#000,#030,#080,#0f0,#180,#210,#2c0,#360,#410,#4c0,#570,#610,#6b0,#760,#800,#890,#930,#9c0,#a40,#ab0,#b10,#b60,#b90,#ba0,#b80,#b40,#af0,#a80,#a00,#980,#8f0,#850,#7b0,#710,#670,#5c0,#520,#470,#3c0,#310,#270,#1d0,#130,#0c0,#050,#010,#020,#070,#0e0,#170,#210,#2c0,#370,#420,#4c0,#550,#5d0,#630,#690,#6e0,#730,#770,#7c0,#810,#850,#8a0,#0e0,#200,#330,#2c0,#160,#0b0,#090,#090)"></i><i style="background:linear-gradient(#090,#090,#0d0,#1b0,#310,#300,#1a0,#9e0,#9e0,#9c0,#990,#930,#8c0,#830,#790,#6e0,#620,#550,#490,#3d0,#320,#280,#1e0,#160,#0e0,#080,#030,#000,#030,#090,#110,#1b0,#270,#340,#420,#510,#5f0,#6b0,#760,#7e0,#850,#8a0,#8c0,#8e0,#8f0,#8f0,#900,#900,#920,#940,#950,#930,#910,#900,#8f0,#8f0,#8f0,#8d0,#8b0,#880,#820,#7b0,#710,#660,#580,#4a0,#3c0,#2e0,#210,#160,#0d0,#060,#010,#010,#050,#0b0,#110,#190,#220,#2c0,#370,#430,#4f0,#5b0,#670,#730,#7e0,#880,#900,#960,#9b0,#9d0,#9e0,#0e0,#200,#330,#2c0,#160,#0b0,#090,#090)"></i><i style="background:linear-gradient(#090,#090,#0d0,#1b0,#310,#300,#1a0,#7d0,#7e0,#7e0,#7f0,#7f0,#7e0,#7b0,#770,#710,#690,#5f0,#540,#480,#3b0,#2e0,#230,#180,#0f0,#080,#030,#000,#040,#090,#100,#180,#210,#2b0,#370,#440,#510,#5f0,#6e0,#7b0,#880,#940,#9d0,#a50,#ab0,#ae0,#b00,#b00,#ae0,#aa0,#a80,#ac0,#af0,#b00,#b00,#ad0,#a90,#a20,#990,#8f0,#820,#750,#670,#590,#4b0,#3e0,#320,#260,#1c0,#140,#0c0,#070,#020,#010,#050,#0b0,#130,#1d0,#280,#340,#410,#4d0,#590,#640,#6d0,#740,#790,#7c0,#7e0,#7f0,#7f0,#7e0,#7e0,#0e0,#200,#330,#2c0,#160,#0b0,#090,#090)"></i><i style="background:linear-gradient(#090,#090,#0d0,#1b0,#310,#300,#1a0,#910,#8b0,#850,#7e0,#770,#700,#680,#610,#590,#510,#4a0,#420,#390,#310,#280,#1f0,#170,#0f0,#080,#030,#010,#060,#0d0,#150,#1f0,#290,#340,#3e0,#480,#520,#5a0,#620,#690,#700,#770,#7d0,#840,#8b0,#920,#980,#9f0,#a50,#aa0,#ac0,#a80,#a20,#9c0,#950,#8e0,#880,#810,#7a0,#730,#6d0,#660,#5e0,#560,#4d0,#440,#390,#2f0,#240,#1a0,#110,#090,#030,#000,#050,#0b0,#120,#1a0,#230,#2c0,#350,#3d0,#450,#4d0,#550,#5c0,#640,#6b0,#730,#7a0,#810,#880,#8e0,#0e0,#200,#330,#2c0,#160,#0b0,#090,#090)"></i><i style="background:linear-gradient(#090,#090,#0d0,#1b0,#310,#300,#1a0,#8e0,#900,#8f0,#8d0,#8a0,#840,#7d0,#740,#690,#5d0,#510,#450,#390,#2e0,#240,#1a0,#120,#0b0,#060,#020,#010,#060,#0c0,#140,#1e0,#290,#360,#430,#510,#5f0,#6c0,#770,#810,#890,#8e0,#920,#940,#940,#940,#920,#910,#8f0,#8e0,#8e0,#8f0,#900,#910,#930,#940,#940,#930,#910,#8c0,#850,#7d0,#720,#660,#590,#4b0,#3d0,#300,#240,#190,#100,#090,#040,#000,#030,#080,#0e0,#160,#1e0,#280,#330,#3f0,#4b0,#570,#630,#6e0,#780,#800,#870,#8c0,#8f0,#900,#8f0,#0e0,#200,#330,#2c0,#160,#0b0,#090,#090)"></i><i style="background:linear-gradient(#090,#090,#0d0,#1b0,#310,#300,#1a0,#770,#740,#710,#6f0,#6d0,#6a0,#670,#630,#5e0,#580,#500,#470,#3e0,#330,#290,#1f0,#150,#0d0,#060,#010,#020,#080,#0e0,#150,#1d0,#250,#2e0,#380,#420,#4c0,#570,#630,#6e0,#7a0,#850,#8f0,#980,#a00,#a60,#ab0,#ae0,#af0,#ae0,#ad0,#af0,#af0,#ad0,#a90,#a40,#9d0,#940,#8a0,#800,#740,#690,#5e0,#520,#480,#3d0,#330,#2a0,#210,#190,#120,#0b0,#050,#010,#030,#090,#110,#190,#230,#2e0,#380,#420,#4b0,#540,#5b0,#600,#650,#680,#6b0,#6e0,#700,#730,#750,#0e0,#200,#330,#2c0,#160,#0b0,#090,#090)"></i><i style="background:linear-gradient(#090,#090,#0d0,#1b0,#310,#300,#1a0,#910,#8c0,#860,#7f0,#760,#6e0,#640,#5b0,#520,#490,#400,#380,#300,#280,#200,#180,#110,#0b0,#050,#010,#030,#0a0,#110,#1b0,#250,#300,#3b0,#450,#4f0,#580,#600,#660,#6c0,#710,#750,#790,#7c0,#800,#840,#890,#8e0,#930,#980,#9a0,#960,#900,#8b0,#870,#820,#7e0,#7b0,#770,#730,#6f0,#6a0,#640,#5c0,#540,#4b0,#400,#360,#2b0,#200,#160,#0e0,#070,#010,#020,#080,#0e0,#150,#1c0,#230,#2b0,#330,#3c0,#440,#4d0,#560,#5f0,#690,#720,#7a0,#820,#890,#8e0,#0e0,#200,#330,#2c0,#160,#0b0,#090,#090)"></i><i style="background:linear-gradient(#090,#090,#0d0,#1b0,#310,#300,#1a0,#7c0,#7d0,#7d0,#7c0,#7a0,#760,#700,#690,#610,#570,#4c0,#410,#360,#2b0,#210,#180,#100,#090,#040,#000,#040,#090,#0f0,#170,#200,#2a0,#350,#410,#4d0,#5a0,#660,#720,#7d0,#860,#8e0,#940,#970,#990,#9a0,#990,#960,#940,#910,#8f0,#920,#950,#980,#990,#9a0,#990,#960,#910,#8b0,#820,#780,#6d0,#610,#540,#480,#3b0,#300,#250,#1c0,#130,#0c0,#060,#020,#020,#060,#0c0,#140,#1c0,#260,#300,#3b0,#460,#510,#5b0,#650,#6d0,#730,#780,#7b0,#7d0,#7d0,#7c0,#0e0,#200,#330,#2c0,#160,#0b0,#090,#090)"></i><i style="background:linear-gradient(#090,#090,#0d0,#1b0,#310,#300,#1a0,#760,#710,#6b0,#660,#610,#5c0,#570,#530,#4d0,#480,#410,#3a0,#330,#2b0,#220,#1a0,#120,#0a0,#040,#000,#060,#0c0,#130,#1b0,#230,#2b0,#330,#3b0,#430,#4b0,#530,#5b0,#640,#6d0,#760,#7f0,#870,#900,#970,#9e0,#a40,#a80,#aa0,#ab0,#a90,#a60,#a10,#9b0,#940,#8c0,#830,#7a0,#710,#690,#600,#580,#4f0,#470,#400,#380,#300,#280,#200,#180,#100,#090,#030,#010,#070,#0e0,#150,#1e0,#260,#2e0,#360,#3e0,#440,#4a0,#500,#550,#5a0,#5e0,#630,#680,#6e0,#730,#0e0,#200,#330,#2c0,#160,#0b0,#090,#090)"></i><i style="background:linear-gradient(#090,#090,#0d0,#1b0,#310,#300,#1a0,#890,#860,#810,#7b0,#740,#6b0,#620,#580,#4f0,#450,#3b0,#320,#2a0,#220,#1b0,#140,#0d0,#080,#030,#010,#060,#0d0,#150,#1e0,#280,#330,#3e0,#490,#530,#5d0,#650,#6c0,#710,#750,#780,#7b0,#7c0,#7e0,#7f0,#810,#830,#860,#880,#8a0,#870,#840,#820,#800,#7f0,#7d0,#7c0,#7a0,#770,#740,#6f0,#690,#610,#590,#4f0,#440,#390,#2e0,#240,#1a0,#110,#0a0,#040,#000,#050,#0a0,#100,#170,#1e0,#260,#2e0,#360,#400,#490,#530,#5d0,#660,#6f0,#770,#7e0,#830,#870,#0e0,#200,#330,#2c0,#160,#0b0,#090,#090)"></i><i style="background:linear-gradient(#090,#090,#0d0,#1b0,#310,#300,#1a0,#6c0,#6b0,#6a0,#690,#670,#640,#600,#5b0,#550,#4d0,#440,#3b0,#320,#280,#1f0,#160,#0e0,#070,#020,#020,#070,#0d0,#130,#1a0,#220,#2a0,#330,#3d0,#470,#520,#5e0,#690,#730,#7e0,#870,#8e0,#950,#990,#9c0,#9d0,#9c0,#9a0,#970,#950,#990,#9b0,#9d0,#9d0,#9b0,#970,#920,#8b0,#830,#790,#6f0,#640,#580,#4d0,#430,#380,#2f0,#260,#1e0,#170,#100,#0a0,#040,#000,#040,#0a0,#120,#1a0,#230,#2c0,#360,#400,#480,#510,#580,#5d0,#620,#660,#680,#6a0,#6b0,#6c0,#0e0,#200,#330,#2c0,#160,#0b0,#090,#090)"></i><i style="background:linear-gradient(#090,#090,#0d0,#1b0,#310,#300,#1a0,#780,#710,#6a0,#630,#5c0,#550,#4e0,#480,#420,#3c0,#360,#2f0,#290,#220,#1c0,#150,#0e0,#070,#010,#030,#090,#110,#190,#210,#2a0,#320,#3a0,#410,#480,#4e0,#540,#590,#5f0,#650,#6b0,#720,#780,#7f0,#860,#8d0,#940,#990,#9e0,#a00,#9c0,#970,#910,#8a0,#830,#7c0,#750,#6f0,#680,#620,#5c0,#570,#510,#4b0,#450,#3e0,#360,#2e0,#260,#1d0,#150,#0d0,#060,#010,#040,#0a0,#110,#180,#1f0,#250,#2c0,#320,#380,#3e0,#450,#4b0,#510,#580,#5f0,#660,#6d0,#740,#0e0,#200,#330,#2c0,#160,#0b0,#090,#090)"></i><i style="background:linear-gradient(#090,#090,#0d0,#1b0,#310,#300,#1a0,#7b0,#790,#760,#720,#6c0,#650,#5e0,#550,#4c0,#420,#390,#300,#270,#1f0,#170,#110,#0a0,#050,#010,#030,#090,#0f0,#170,#200,#290,#330,#3e0,#490,#530,#5d0,#660,#6e0,#740,#790,#7d0,#800,#810,#810,#810,#810,#800,#800,#800,#800,#800,#800,#810,#810,#810,#810,#810,#7f0,#7c0,#770,#710,#6a0,#620,#580,#4e0,#440,#390,#2f0,#250,#1c0,#130,#0c0,#060,#010,#020,#070,#0d0,#140,#1b0,#220,#2b0,#340,#3d0,#470,#500,#590,#610,#690,#6f0,#740,#780,#7a0,#0e0,#200,#330,#2c0,#160,#0b0,#090,#090)"></i><i style="background:linear-gradient(#090,#090,#0d0,#1b0,#310,#300,#1a0,#640,#610,#5d0,#5a0,#570,#540,#500,#4c0,#470,#410,#3b0,#330,#2c0,#230,#1b0,#130,#0c0,#050,#000,#050,#0b0,#110,#170,#1e0,#250,#2c0,#330,#3b0,#430,#4b0,#540,#5e0,#670,#710,#7a0,#830,#8b0,#920,#970,#9b0,#9d0,#9d0,#9c0,#9a0,#9d0,#9d0,#9c0,#990,#950,#8f0,#870,#7f0,#760,#6d0,#630,#590,#500,#470,#3f0,#370,#300,#290,#220,#1b0,#140,#0e0,#080,#020,#020,#080,#0f0,#170,#1f0,#270,#2f0,#370,#3e0,#440,#490,#4e0,#520,#560,#590,#5c0,#5f0,#620,#0e0,#200,#330,#2c0,#160,#0b0,#090,#090)"></i><i style="background:linear-gradient(#090,#090,#0d0,#1b0,#310,#300,#1a0,#7a0,#730,#6c0,#640,#5b0,#530,#4b0,#430,#3c0,#350,#2e0,#280,#220,#1c0,#160,#0f0,#0a0,#040,#000,#060,#0d0,#140,#1d0,#260,#2e0,#370,#3f0,#460,#4d0,#530,#580,#5c0,#600,#640,#680,#6b0,#6f0,#740,#790,#7e0,#830,#880,#8d0,#900,#8b0,#860,#810,#7b0,#760,#720,#6d0,#6a0,#660,#620,#5e0,#5a0,#560,#500,#4a0,#430,#3b0,#330,#2a0,#220,#190,#110,#090,#030,#010,#060,#0c0,#120,#180,#1e0,#240,#2b0,#310,#380,#3f0,#470,#4f0,#570,#5f0,#670,#6f0,#760,#0e0,#200,#330,#2c0,#160,#0b0,#090,#090)"></i><i style="background:linear-gradient(#090,#090,#0d0,#1b0,#310,#300,#1a0,#6e0,#6c0,#6a0,#670,#630,#5e0,#580,#500,#480,#400,#370,#2e0,#250,#1d0,#150,#0e0,#080,#030,#010,#060,#0b0,#110,#180,#200,#280,#310,#3a0,#440,#4e0,#580,#620,#6b0,#730,#790,#7f0,#830,#850,#870,#870,#860,#840,#820,#800,#7f0,#810,#830,#850,#860,#870,#860,#840,#810,#7d0,#760,#6f0,#670,#5e0,#540,#4a0,#400,#360,#2d0,#240,#1c0,#150,#0e0,#090,#030,#000,#050,#0b0,#110,#190,#210,#290,#320,#3b0,#440,#4c0,#540,#5b0,#600,#650,#690,#6b0,#6d0,#0e0,#200,#330,#2c0,#160,#0b0,#090,#090)"></i><i style="background:linear-gradient(#090,#090,#0d0,#1b0,#310,#300,#1a0,#640,#5e0,#590,#540,#4f0,#4a0,#460,#410,#3c0,#370,#320,#2c0,#250,#1e0,#170,#0f0,#090,#020,#020,#080,#0f0,#160,#1c0,#230,#2a0,#300,#360,#3c0,#420,#480,#4e0,#550,#5d0,#650,#6d0,#750,#7d0,#850,#8b0,#910,#960,#990,#9a0,#9a0,#9a0,#970,#940,#8f0,#880,#810,#790,#710,#690,#610,#590,#520,#4b0,#450,#3f0,#390,#330,#2d0,#270,#200,#190,#120,#0c0,#050,#000,#050,#0c0,#130,#1a0,#210,#280,#2e0,#340,#3a0,#3f0,#430,#480,#4c0,#510,#560,#5b0,#610,#0e0,#200,#330,#2c0,#160,#0b0,#090,#090)"></i><i style="background:linear-gradient(#090,#090,#0d0,#1b0,#310,#300,#1a0,#780,#730,#6c0,#650,#5d0,#550,#4c0,#430,#3b0,#330,#2b0,#240,#1e0,#170,#110,#0c0,#060,#010,#030,#080,#0f0,#170,#1f0,#280,#310,#3a0,#430,#4b0,#520,#580,#5e0,#620,#660,#690,#6b0,#6d0,#6f0,#710,#730,#750,#780,#7b0,#7f0,#810,#7d0,#7a0,#770,#740,#720,#700,#6e0,#6c0,#6a0,#680,#640,#600,#5c0,#560,#4f0,#470,#3f0,#360,#2d0,#240,#1b0,#130,#0c0,#060,#010,#030,#090,#0e0,#140,#1a0,#210,#280,#2f0,#370,#3f0,#470,#500,#580,#610,#680,#6f0,#750,#0e0,#200,#330,#2c0,#160,#0b0,#090,#090)"></i><i style="background:linear-gradient(#090,#090,#0d0,#1b0,#310,#300,#1a0,#610,#600,#5e0,#5b0,#580,#540,#4f0,#490,#430,#3b0,#340,#2b0,#230,#1b0,#130,#0c0,#060,#010,#030,#090,#0e0,#140,#1b0,#210,#280,#300,#380,#410,#4a0,#530,#5c0,#660,#6e0,#770,#7e0,#840,#890,#8c0,#8d0,#8e0,#8d0,#8a0,#870,#860,#890,#8b0,#8d0,#8e0,#8d0,#8a0,#870,#810,#7b0,#730,#6a0,#610,#580,#4f0,#450,#3d0,#340,#2c0,#250,#1e0,#180,#120,#0c0,#060,#010,#030,#080,#0f0,#170,#1f0,#270,#2f0,#370,#3f0,#460,#4c0,#510,#560,#590,#5c0,#5f0,#600,#0e0,#200,#330,#2c0,#160,#0b0,#090,#090)"></i><i style="background:linear-gradient(#090,#090,#0d0,#1b0,#310,#300,#1a0,#680,#610,#590,#520,#4c0,#450,#3f0,#3a0,#340,#2f0,#2a0,#240,#1e0,#180,#120,#0b0,#050,#000,#050,#0c0,#130,#1a0,#220,#290,#300,#360,#3c0,#410,#470,#3e0,#3e0,#440,#4e0,#4e0,#500,#3f0,#3b0,#310,#410,#470,#3b0,#470,#570,#530,#530,#3d0,#400,#480,#380,#330,#400,#550,#4e0,#4f0,#4a0,#400,#3e0,#490,#440,#3f0,#390,#330,#2d0,#260,#1e0,#170,#0f0,#080,#020,#020,#080,#0e0,#150,#1b0,#210,#270,#2c0,#310,#370,#3c0,#420,#480,#4f0,#550,#5d0,#640,#0e0,#200,#330,#2c0,#160,#0b0,#090,#090)"></i><i style="background:linear-gradient(#090,#090,#0d0,#1b0,#310,#300,#1a0,#700,#6d0,#680,#620,#5c0,#540,#4c0,#440,#3b0,#320,#2a0,#220,#1b0,#140,#0e0,#080,#030,#000,#050,#0a0,#110,#180,#1f0,#260,#2b0,#290,#310,#2b0,#2d0,#380,#330,#2d0,#3b0,#3d0,#330,#3f0,#490,#3e0,#400,#4d0,#430,#3a0,#460,#480,#400,#3b0,#4a0,#490,#3b0,#440,#480,#370,#360,#400,#340,#2d0,#370,#340,#2a0,#2e0,#2f0,#250,#290,#240,#1b0,#150,#0e0,#080,#030,#010,#060,#0b0,#110,#170,#1e0,#260,#2e0,#360,#3f0,#470,#500,#580,#5f0,#650,#6a0,#6f0,#0e0,#200,#330,#2c0,#160,#0b0,#090,#090)"></i><i style="background:linear-gradient(#090,#090,#0d0,#1b0,#310,#300,#1a0,#5a0,#560,#530,#500,#4c0,#490,#450,#400,#3a0,#340,#2e0,#270,#1f0,#170,#100,#090,#0a0,#080,#0c0,#150,#180,#170,#1a0,#1f0,#1d0,#1e0,#270,#280,#260,#320,#3a0,#340,#3c0,#490,#3f0,#3d0,#4c0,#460,#390,#470,#4c0,#3b0,#440,#4e0,#3c0,#420,#4e0,#3e0,#3c0,#4d0,#450,#3a0,#460,#450,#360,#370,#390,#2b0,#260,#290,#220,#1c0,#1f0,#1d0,#180,#180,#170,#130,#0a0,#080,#060,#0c0,#130,#1b0,#220,#2a0,#310,#370,#3d0,#420,#470,#4b0,#4e0,#510,#550,#580,#0e0,#200,#330,#2c0,#160,#0b0,#090,#090)"></i><i style="background:linear-gradient(#090,#090,#0d0,#1b0,#310,#300,#1a0,#6b0,#640,#5c0,#540,#4c0,#440,#3d0,#360,#300,#290,#240,#1e0,#190,#160,#150,#120,#100,#100,#120,#140,#190,#1b0,#1c0,#250,#290,#260,#2d0,#340,#2d0,#2d0,#360,#300,#2a0,#360,#370,#2f0,#3b0,#460,#3d0,#420,#530,#4a0,#420,#4a0,#420,#510,#4d0,#3c0,#420,#440,#330,#320,#3a0,#2f0,#2a0,#350,#330,#2a0,#310,#330,#290,#270,#290,#200,#1b0,#1b0,#170,#120,#110,#0f0,#110,#130,#170,#170,#1b0,#200,#260,#2c0,#330,#390,#400,#480,#500,#580,#600,#670,#0e0,#200,#330,#2c0,#160,#0b0,#090,#090)"></i><i style="background:linear-gradient(#090,#090,#0d0,#1b0,#310,#300,#1a0,#650,#630,#5f0,#5b0,#560,#500,#490,#410,#320,#280,#1e0,#1d0,#170,#150,#150,#120,#100,#100,#130,#140,#180,#1b0,#1a0,#1d0,#240,#220,#230,#2f0,#310,#2d0,#3b0,#440,#3b0,#430,#500,#440,#3e0,#4b0,#430,#350,#3f0,#420,#330,#340,#3a0,#440,#380,#390,#4a0,#450,#3d0,#4c0,#4c0,#3c0,#400,#430,#330,#2d0,#320,#290,#210,#240,#220,#1b0,#1b0,#1a0,#160,#130,#120,#100,#100,#130,#150,#150,#190,#1f0,#1d0,#2c0,#360,#450,#4c0,#530,#580,#5d0,#610,#640,#0e0,#200,#330,#2c0,#160,#0b0,#090,#090)"></i><i style="background:linear-gradient(#090,#090,#0d0,#1b0,#310,#300,#1a0,#580,#520,#4d0,#480,#370,#350,#210,#240,#270,#210,#1e0,#200,#1b0,#160,#150,#120,#100,#110,#130,#140,#160,#1c0,#1d0,#1d0,#250,#290,#250,#2c0,#330,#2c0,#2d0,#370,#320,#2d0,#3c0,#3f0,#360,#440,#520,#470,#4b0,#5d0,#520,#490,#5b0,#570,#450,#4d0,#4f0,#3a0,#390,#410,#340,#2d0,#370,#330,#2a0,#300,#310,#270,#260,#280,#210,#1c0,#1d0,#190,#150,#140,#120,#100,#100,#140,#160,#180,#1e0,#200,#1e0,#240,#270,#210,#310,#370,#460,#4b0,#500,#550,#0e0,#200,#330,#2c0,#160,#0b0,#090,#090)"></i><i style="background:linear-gradient(#090,#090,#0d0,#1b0,#310,#300,#1a0,#6b0,#4a0,#4a0,#300,#2f0,#330,#2a0,#230,#250,#200,#190,#190,#180,#140,#120,#110,#0f0,#110,#140,#170,#180,#1e0,#230,#200,#240,#2c0,#280,#260,#320,#320,#2c0,#380,#400,#360,#3c0,#470,#3d0,#380,#440,#3f0,#330,#3f0,#440,#3c0,#450,#370,#360,#450,#3f0,#370,#440,#440,#360,#3b0,#3f0,#310,#2e0,#350,#2d0,#250,#2b0,#290,#210,#220,#210,#1b0,#170,#160,#120,#100,#100,#120,#130,#150,#190,#180,#1b0,#230,#240,#240,#2f0,#330,#2d0,#360,#4b0,#680,#0e0,#200,#330,#2c0,#160,#0b0,#090,#090)"></i><i style="background:linear-gradient(#090,#090,#0d0,#1b0,#310,#300,#1a0,#030,#150,#260,#260,#250,#2c0,#2b0,#220,#240,#270,#200,#1d0,#1e0,#190,#150,#130,#0f0,#120,#150,#190,#190,#1a0,#220,#230,#220,#2c0,#310,#2c0,#340,#3d0,#340,#340,#3f0,#380,#300,#3d0,#3f0,#330,#3e0,#4a0,#3f0,#420,#520,#500,#4c0,#3d0,#450,#480,#360,#370,#410,#360,#310,#3e0,#3b0,#310,#390,#3b0,#2f0,#2e0,#310,#270,#210,#240,#1f0,#190,#190,#170,#130,#110,#110,#140,#160,#1c0,#1e0,#1d0,#230,#270,#210,#260,#2e0,#280,#250,#260,#1f0,#0b0,#0e0,#200,#330,#2c0,#160,#0b0,#090,#090)"></i><i style="background:linear-gradient(#090,#090,#0d0,#1b0,#310,#300,#1a0,#050,#110,#280,#3d0,#3d0,#420,#360,#2d0,#260,#290,#240,#1b0,#1b0,#1a0,#140,#120,#100,#120,#140,#1a0,#1e0,#1e0,#240,#2a0,#250,#280,#310,#2b0,#290,#360,#360,#2f0,#3d0,#460,#3c0,#430,#510,#460,#410,#4f0,#480,#390,#440,#4a0,#3c0,#3d0,#4f0,#490,#400,#4e0,#4d0,#3c0,#410,#450,#340,#300,#380,#2f0,#280,#2f0,#2e0,#250,#280,#290,#200,#1d0,#1d0,#170,#130,#110,#110,#130,#170,#1b0,#1b0,#1e0,#270,#270,#270,#320,#430,#400,#460,#340,#1e0,#0a0,#0e0,#200,#330,#2c0,#160,#0b0,#090,#090)"></i><i style="background:linear-gradient(#090,#090,#0d0,#1b0,#310,#300,#1a0,#050,#0f0,#220,#3b0,#4a0,#500,#4e0,#450,#310,#300,#260,#1f0,#1c0,#1c0,#180,#130,#100,#120,#140,#170,#1c0,#1b0,#1d0,#260,#260,#250,#310,#360,#300,#390,#430,#390,#390,#450,#3e0,#340,#410,#430,#360,#410,#4e0,#420,#450,#500,#3f0,#490,#4b0,#390,#3b0,#460,#3a0,#350,#440,#410,#360,#3f0,#410,#330,#330,#360,#2a0,#240,#270,#220,#1b0,#1c0,#1a0,#150,#130,#100,#120,#150,#1a0,#1d0,#1c0,#220,#260,#300,#330,#490,#500,#4e0,#450,#2f0,#180,#0a0,#0e0,#200,#330,#2c0,#160,#0b0,#090,#090)"></i><i style="background:linear-gradient(#090,#090,#0d0,#1b0,#300,#300,#1a0,#060,#0e0,#1d0,#360,#490,#4f0,#500,#480,#3f0,#3a0,#320,#2a0,#1e0,#1a0,#170,#130,#100,#110,#140,#160,#1d0,#210,#200,#280,#2e0,#280,#2b0,#350,#2e0,#2b0,#380,#380,#300,#3e0,#480,#3d0,#440,#540,#490,#430,#520,#4b0,#3b0,#3e0,#400,#520,#4b0,#420,#500,#4f0,#3d0,#420,#460,#350,#320,#3b0,#320,#2a0,#330,#310,#280,#2b0,#2c0,#230,#200,#200,#1a0,#150,#130,#100,#110,#150,#190,#1c0,#210,#2e0,#360,#3c0,#430,#4d0,#500,#4d0,#420,#2a0,#150,#0a0,#0e0,#200,#330,#2c0,#160,#0b0,#090,#090)"></i><i style="background:linear-gradient(#090,#090,#0d0,#1b0,#300,#2f0,#1a0,#070,#0c0,#1a0,#310,#460,#4f0,#4f0,#4c0,#410,#3a0,#340,#2c0,#240,#1d0,#150,#0d0,#0b0,#0a0,#100,#160,#1a0,#1f0,#1e0,#1f0,#280,#280,#260,#330,#390,#320,#3b0,#470,#3d0,#3c0,#490,#410,#360,#430,#450,#360,#410,#4e0,#420,#3f0,#490,#4b0,#390,#3c0,#480,#3c0,#380,#480,#440,#390,#430,#440,#350,#350,#380,#2c0,#260,#2a0,#240,#1d0,#1f0,#1d0,#180,#160,#0e0,#080,#080,#100,#180,#200,#280,#2f0,#370,#3d0,#460,#4e0,#500,#4d0,#3e0,#260,#120,#090,#0e0,#1f0,#330,#2b0,#150,#0b0,#090,#090)"></i><i style="background:linear-gradient(#090,#090,#0c0,#1a0,#2f0,#2e0,#190,#070,#0b0,#170,#2c0,#420,#4f0,#500,#4d0,#450,#3b0,#350,#2e0,#250,#1e0,#160,#0e0,#050,#030,#0b0,#130,#1c0,#230,#280,#2b0,#330,#310,#2b0,#2e0,#380,#310,#2d0,#3a0,#3a0,#310,#3f0,#490,#3e0,#450,#550,#4b0,#440,#540,#4d0,#420,#540,#4c0,#440,#520,#500,#3e0,#430,#480,#360,#330,#3d0,#340,#2c0,#370,#350,#2b0,#2f0,#300,#2f0,#2a0,#260,#200,#180,#100,#070,#010,#090,#110,#190,#220,#290,#320,#370,#3f0,#490,#4f0,#500,#4b0,#390,#220,#110,#090,#0e0,#1f0,#320,#2a0,#150,#0b0,#090,#090)"></i><i style="background:linear-gradient(#090,#090,#0c0,#1a0,#2e0,#2d0,#190,#060,#0b0,#160,#280,#3d0,#4d0,#510,#4e0,#480,#3d0,#350,#300,#270,#1f0,#170,#0f0,#070,#020,#0a0,#120,#1b0,#230,#2b0,#330,#3b0,#430,#4a0,#510,#580,#4f0,#4e0,#560,#5d0,#580,#5a0,#4c0,#440,#380,#450,#470,#370,#410,#4e0,#490,#4b0,#390,#3d0,#4a0,#3e0,#3b0,#4b0,#5f0,#580,#5b0,#5b0,#510,#4e0,#5b0,#550,#4e0,#460,#3f0,#370,#2f0,#270,#1f0,#170,#0e0,#060,#020,#0a0,#120,#1b0,#220,#2b0,#330,#380,#430,#4b0,#500,#500,#470,#340,#1f0,#100,#080,#0e0,#1e0,#300,#290,#150,#0b0,#090,#090)"></i><i style="background:linear-gradient(#090,#090,#0c0,#190,#2c0,#2c0,#180,#060,#0a0,#150,#250,#390,#4a0,#520,#4f0,#490,#410,#360,#300,#290,#200,#190,#100,#080,#010,#090,#110,#1a0,#220,#2a0,#320,#3a0,#420,#4a0,#510,#580,#5e0,#650,#6b0,#700,#750,#7a0,#7e0,#820,#850,#880,#8a0,#8c0,#8d0,#8e0,#8e0,#8e0,#8d0,#8b0,#890,#870,#840,#800,#7c0,#780,#730,#6e0,#680,#620,#5b0,#550,#4d0,#460,#3e0,#370,#2f0,#270,#1e0,#160,#0e0,#050,#030,#0b0,#140,#1c0,#240,#2d0,#320,#3b0,#450,#4c0,#510,#4f0,#430,#300,#1d0,#0f0,#080,#0e0,#1d0,#2f0,#280,#140,#0b0,#090,#090)"></i><i style="background:linear-gradient(#090,#090,#0c0,#180,#2b0,#2a0,#170,#060,#0a0,#140,#230,#350,#460,#510,#510,#4b0,#430,#390,#300,#2b0,#220,#190,#120,#090,#010,#080,#100,#190,#210,#2a0,#320,#3a0,#420,#490,#510,#580,#5e0,#650,#6b0,#700,#760,#7a0,#7f0,#820,#860,#890,#8b0,#8d0,#8e0,#8f0,#8f0,#8e0,#8d0,#8c0,#8a0,#870,#840,#810,#7d0,#780,#730,#6e0,#680,#620,#5b0,#540,#4d0,#460,#3e0,#360,#2e0,#260,#1e0,#150,#0d0,#040,#040,#0d0,#160,#1c0,#270,#2d0,#330,#3e0,#470,#4e0,#520,#4d0,#3e0,#2c0,#1b0,#0f0,#080,#0e0,#1c0,#2d0,#260,#140,#0b0,#090,#090)"></i><i style="background:linear-gradient(#090,#090,#0c0,#170,#290,#280,#160,#050,#0a0,#130,#200,#310,#420,#4f0,#520,#4d0,#450,#3c0,#310,#2b0,#250,#1a0,#130,#0a0,#010,#070,#100,#180,#210,#290,#310,#390,#410,#490,#500,#570,#5e0,#650,#6b0,#710,#760,#7b0,#7f0,#830,#860,#890,#8b0,#8d0,#8f0,#8f0,#8f0,#8f0,#8e0,#8d0,#8a0,#880,#850,#810,#7d0,#780,#740,#6e0,#680,#620,#5b0,#540,#4d0,#450,#3e0,#360,#2d0,#250,#1d0,#140,#0c0,#030,#050,#0f0,#160,#1f0,#280,#2d0,#360,#400,#490,#500,#520,#4a0,#3a0,#290,#1a0,#0e0,#070,#0d0,#1b0,#2b0,#250,#130,#0b0,#090,#090)"></i><i style="background:linear-gradient(#090,#090,#0c0,#160,#260,#260,#150,#050,#0a0,#120,#1e0,#2e0,#3e0,#4c0,#530,#500,#470,#3e0,#340,#2b0,#260,#1d0,#130,#0c0,#020,#060,#0f0,#170,#200,#280,#310,#390,#410,#490,#500,#570,#5e0,#650,#6b0,#710,#760,#7b0,#7f0,#830,#870,#8a0,#8c0,#8e0,#8f0,#900,#900,#900,#8f0,#8d0,#8b0,#880,#850,#820,#7d0,#790,#740,#6e0,#680,#620,#5b0,#540,#4d0,#450,#3d0,#350,#2d0,#250,#1c0,#140,#0a0,#020,#070,#100,#170,#220,#280,#2f0,#390,#420,#4b0,#520,#510,#460,#370,#260,#190,#0e0,#070,#0d0,#1a0,#280,#230,#120,#0a0,#090,#090)"></i><i style="background:linear-gradient(#090,#090,#0b0,#150,#240,#230,#140,#050,#0a0,#120,#1d0,#2b0,#3a0,#490,#520,#520,#4a0,#3f0,#360,#2d0,#260,#1f0,#140,#0d0,#050,#060,#0d0,#170,#1f0,#280,#300,#380,#400,#480,#500,#570,#5e0,#650,#6b0,#710,#760,#7b0,#800,#840,#870,#8a0,#8d0,#8e0,#900,#900,#910,#900,#8f0,#8e0,#8c0,#890,#860,#820,#7e0,#790,#740,#6e0,#680,#620,#5b0,#540,#4c0,#450,#3d0,#340,#2c0,#230,#1b0,#120,#0a0,#020,#090,#0f0,#190,#230,#290,#310,#3a0,#440,#4e0,#530,#4e0,#430,#330,#240,#170,#0e0,#080,#0d0,#180,#260,#200,#120,#0a0,#090,#090)"></i><i style="background:linear-gradient(#090,#090,#0b0,#140,#210,#210,#130,#060,#0a0,#110,#1c0,#280,#370,#450,#500,#530,#4d0,#420,#380,#2f0,#260,#200,#170,#0d0,#060,#040,#0d0,#150,#1f0,#260,#300,#370,#400,#480,#500,#570,#5e0,#650,#6b0,#710,#770,#7c0,#800,#840,#880,#8b0,#8d0,#8f0,#900,#910,#910,#910,#900,#8e0,#8c0,#890,#860,#830,#7e0,#790,#740,#6e0,#680,#620,#5b0,#540,#4c0,#440,#3c0,#340,#2b0,#230,#1a0,#110,#090,#010,#090,#110,#1c0,#230,#2a0,#330,#3c0,#470,#510,#530,#4c0,#3f0,#300,#220,#170,#0e0,#080,#0c0,#170,#230,#1e0,#110,#0a0,#090,#090)"></i><i style="background:linear-gradient(#090,#090,#0b0,#130,#1f0,#1e0,#120,#060,#0a0,#110,#1a0,#260,#340,#420,#4e0,#530,#500,#450,#3a0,#310,#280,#200,#190,#0e0,#060,#020,#0c0,#140,#1d0,#260,#2e0,#370,#3f0,#480,#4f0,#570,#5e0,#650,#6b0,#710,#770,#7c0,#810,#850,#880,#8b0,#8e0,#900,#910,#920,#920,#920,#900,#8f0,#8d0,#8a0,#870,#830,#7f0,#7a0,#740,#6f0,#680,#620,#5b0,#540,#4c0,#440,#3b0,#340,#2a0,#230,#190,#110,#080,#030,#090,#140,#1d0,#240,#2c0,#340,#3f0,#4a0,#520,#520,#490,#3c0,#2d0,#200,#160,#0e0,#080,#0c0,#150,#200,#1c0,#100,#0a0,#090,#090)"></i><i style="background:linear-gradient(#090,#090,#0b0,#120,#1c0,#1c0,#110,#060,#0a0,#110,#190,#240,#310,#3f0,#4b0,#520,#520,#490,#3c0,#320,#290,#210,#1a0,#110,#060,#010,#0a0,#140,#1c0,#260,#2e0,#370,#3f0,#470,#4f0,#570,#5e0,#650,#6b0,#720,#770,#7c0,#810,#850,#890,#8c0,#8e0,#900,#920,#930,#930,#920,#910,#8f0,#8d0,#8b0,#870,#830,#7f0,#7a0,#750,#6f0,#690,#620,#5b0,#530,#4c0,#430,#3c0,#320,#2a0,#210,#180,#100,#050,#030,#0b0,#160,#1d0,#250,#2d0,#360,#420,#4e0,#530,#500,#460,#390,#2b0,#1f0,#150,#0d0,#080,#0c0,#140,#1d0,#1a0,#0f0,#0a0,#090,#090)"></i><i style="background:linear-gradient(#090,#090,#0a0,#100,#190,#190,#100,#060,#0a0,#100,#180,#230,#2f0,#3c0,#480,#510,#530,#4c0,#3f0,#340,#2b0,#230,#1b0,#130,#080,#010,#080,#130,#1b0,#240,#2e0,#350,#3f0,#460,#4f0,#560,#5e0,#650,#6c0,#720,#780,#7d0,#810,#860,#890,#8d0,#8f0,#910,#930,#930,#930,#930,#920,#900,#8e0,#8b0,#880,#840,#7f0,#7a0,#750,#6f0,#680,#620,#5b0,#530,#4b0,#430,#3b0,#320,#2a0,#1f0,#180,#0e0,#040,#030,#0d0,#170,#1e0,#260,#2f0,#390,#460,#500,#530,#4e0,#430,#360,#290,#1e0,#140,#0d0,#080,#0b0,#120,#1b0,#170,#0e0,#0a0,#090,#090)"></i><i style="background:linear-gradient(#090,#090,#0a0,#0f0,#170,#170,#0f0,#060,#0a0,#100,#180,#210,#2c0,#390,#460,#4f0,#530,#4f0,#430,#360,#2c0,#240,#1c0,#140,#0b0,#000,#080,#110,#1b0,#230,#2d0,#350,#3e0,#470,#4e0,#570,#5e0,#650,#6b0,#720,#780,#7d0,#820,#860,#8a0,#8d0,#900,#920,#930,#940,#940,#940,#930,#910,#8f0,#8c0,#880,#840,#800,#7b0,#750,#6f0,#690,#620,#5a0,#530,#4a0,#430,#3a0,#320,#280,#1f0,#170,#0c0,#050,#040,#0f0,#180,#200,#280,#300,#3c0,#490,#520,#520,#4b0,#400,#330,#270,#1c0,#140,#0d0,#080,#0b0,#110,#180,#150,#0d0,#0a0,#090,#090)"></i><i style="background:linear-gradient(#090,#090,#0a0,#0e0,#140,#140,#0e0,#060,#0a0,#100,#170,#200,#2a0,#360,#430,#4d0,#530,#510,#470,#390,#2d0,#250,#1d0,#150,#0c0,#020,#080,#0f0,#1b0,#230,#2b0,#360,#3d0,#460,#4e0,#560,#5e0,#650,#6c0,#720,#780,#7d0,#820,#870,#8a0,#8e0,#900,#920,#940,#950,#950,#940,#930,#920,#8f0,#8c0,#890,#850,#800,#7b0,#760,#6f0,#690,#610,#5b0,#520,#4b0,#420,#390,#310,#270,#200,#150,#0b0,#040,#070,#100,#190,#210,#290,#320,#400,#4c0,#530,#510,#490,#3d0,#310,#250,#1b0,#130,#0d0,#080,#0b0,#100,#150,#130,#0d0,#0a0,#090,#090)"></i><i style="background:linear-gradient(#090,#090,#0a0,#0d0,#120,#120,#0d0,#070,#0a0,#0f0,#160,#1e0,#280,#340,#400,#4b0,#520,#520,#4a0,#3d0,#2f0,#260,#1f0,#160,#0d0,#040,#070,#0f0,#180,#230,#2a0,#350,#3d0,#450,#4e0,#550,#5e0,#640,#6c0,#720,#780,#7e0,#830,#870,#8b0,#8e0,#910,#930,#940,#950,#950,#950,#940,#920,#900,#8d0,#890,#850,#800,#7b0,#760,#6f0,#690,#620,#5a0,#520,#4b0,#410,#3a0,#2f0,#270,#1f0,#130,#0b0,#030,#080,#120,#1a0,#220,#2a0,#350,#430,#4f0,#530,#4f0,#460,#3b0,#2f0,#240,#1a0,#130,#0d0,#080,#0a0,#0e0,#130,#110,#0c0,#090,#090,#090)"></i><i style="background:linear-gradient(#090,#090,#0a0,#0c0,#100,#100,#0c0,#070,#0a0,#0f0,#160,#1d0,#270,#320,#3d0,#480,#500,#530,#4d0,#410,#320,#270,#200,#180,#0f0,#050,#060,#0f0,#170,#220,#2a0,#330,#3d0,#440,#4e0,#560,#5d0,#650,#6c0,#730,#780,#7e0,#830,#880,#8b0,#8f0,#920,#940,#950,#960,#960,#960,#950,#930,#900,#8e0,#8a0,#860,#810,#7c0,#760,#700,#680,#620,#590,#530,#490,#410,#390,#2e0,#270,#1c0,#130,#0b0,#010,#0a0,#130,#1c0,#230,#2b0,#390,#470,#510,#530,#4d0,#440,#380,#2c0,#220,#190,#120,#0d0,#080,#0a0,#0d0,#100,#0f0,#0b0,#090,#090,#090)"></i><i style="background:linear-gradient(#090,#090,#090,#0b0,#0e0,#0e0,#0b0,#070,#0a0,#0f0,#150,#1c0,#250,#300,#3b0,#460,#4f0,#530,#4f0,#450,#360,#280,#200,#190,#100,#070,#040,#0e0,#160,#200,#2b0,#320,#3c0,#450,#4c0,#560,#5d0,#650,#6c0,#730,#790,#7f0,#840,#880,#8c0,#900,#920,#950,#960,#970,#970,#960,#950,#930,#910,#8e0,#8b0,#860,#820,#7c0,#760,#6f0,#690,#610,#5a0,#520,#490,#420,#370,#2f0,#260,#1b0,#130,#0a0,#010,#0b0,#140,#1c0,#230,#2e0,#3d0,#4a0,#520,#520,#4b0,#410,#360,#2b0,#210,#190,#120,#0d0,#090,#0a0,#0c0,#0e0,#0d0,#0b0,#090,#090,#090)"></i><i style="background:linear-gradient(#090,#090,#090,#0a0,#0c0,#0c0,#0a0,#070,#0a0,#0f0,#140,#1b0,#240,#2e0,#390,#440,#4d0,#520,#510,#480,#3a0,#2b0,#210,#1a0,#120,#080,#020,#0d0,#160,#1e0,#290,#320,#3a0,#450,#4c0,#550,#5d0,#640,#6d0,#720,#7a0,#7e0,#840,#880,#8d0,#900,#930,#950,#970,#970,#980,#970,#960,#940,#920,#8f0,#8b0,#870,#820,#7c0,#760,#700,#690,#610,#5a0,#510,#490,#400,#360,#2f0,#240,#1a0,#120,#080,#030,#0c0,#160,#1d0,#240,#310,#410,#4d0,#520,#500,#490,#3f0,#330,#290,#200,#180,#120,#0d0,#090,#090,#0b0,#0c0,#0c0,#0a0,#090,#090,#090)"></i><i style="background:linear-gradient(#090,#090,#090,#0a0,#0b0,#0b0,#0a0,#070,#0a0,#0f0,#140,#1a0,#220,#2c0,#360,#410,#4b0,#510,#520,#4b0,#3e0,#2e0,#220,#1b0,#130,#090,#010,#0b0,#150,#1e0,#280,#320,#3a0,#440,#4d0,#540,#5e0,#640,#6c0,#730,#790,#7f0,#840,#890,#8d0,#910,#930,#960,#970,#980,#980,#980,#970,#950,#920,#8f0,#8b0,#870,#820,#7d0,#760,#700,#680,#620,#5a0,#510,#490,#3f0,#370,#2e0,#230,#1a0,#110,#060,#040,#0e0,#170,#1d0,#260,#350,#440,#4f0,#530,#4f0,#470,#3c0,#310,#270,#1f0,#170,#110,#0d0,#090,#090,#0a0,#0b0,#0b0,#0a0,#090,#090,#090)"></i><i style="background:linear-gradient(#090,#090,#090,#090,#0a0,#0a0,#090,#070,#0a0,#0e0,#130,#1a0,#210,#2a0,#340,#3f0,#490,#500,#520,#4e0,#420,#320,#230,#1b0,#140,#0b0,#010,#0a0,#140,#1d0,#260,#310,#3a0,#420,#4d0,#540,#5d0,#650,#6c0,#740,#790,#800,#850,#8a0,#8e0,#920,#940,#970,#980,#990,#990,#990,#970,#950,#930,#900,#8c0,#870,#830,#7d0,#770,#700,#680,#620,#580,#510,#480,#3e0,#370,#2c0,#220,#190,#0f0,#050,#050,#100,#170,#1e0,#290,#390,#480,#510,#520,#4d0,#450,#3a0,#2f0,#260,#1e0,#170,#110,#0c0,#090,#090,#090,#0a0,#0a0,#090,#090,#090,#090)"></i><i style="background:linear-gradient(#090,#090,#090,#090,#090,#090,#090,#070,#0a0,#0e0,#130,#190,#200,#290,#320,#3d0,#470,#4f0,#520,#4f0,#450,#360,#260,#1b0,#150,#0d0,#020,#090,#130,#1d0,#260,#300,#3a0,#420,#4c0,#550,#5c0,#660,#6c0,#730,#7a0,#800,#860,#8a0,#8f0,#920,#950,#970,#990,#990,#9a0,#990,#980,#960,#940,#900,#8d0,#880,#830,#7d0,#780,#6f0,#690,#610,#580,#510,#470,#3e0,#360,#2b0,#220,#180,#0e0,#040,#070,#110,#180,#1f0,#2d0,#3d0,#4b0,#510,#510,#4b0,#420,#380,#2e0,#240,#1d0,#160,#110,#0c0,#090,#090,#090,#090,#090,#090,#090,#090,#090)"></i><i style="background:linear-gradient(#090,#090,#090,#090,#090,#090,#090,#070,#0a0,#0e0,#130,#180,#1f0,#270,#300,#3a0,#440,#4d0,#520,#510,#480,#3a0,#290,#1c0,#150,#0e0,#040,#070,#120,#1c0,#250,#2e0,#3a0,#420,#4a0,#550,#5c0,#650,#6d0,#730,#7b0,#800,#860,#8a0,#8f0,#930,#960,#980,#990,#9b0,#9a0,#9a0,#990,#970,#940,#910,#8d0,#890,#830,#7e0,#770,#700,#6a0,#600,#590,#500,#460,#3f0,#340,#2a0,#210,#170,#0d0,#030,#090,#120,#180,#210,#310,#410,#4d0,#520,#500,#490,#400,#360,#2c0,#230,#1c0,#150,#100,#0c0,#090,#090,#090,#090,#090,#090,#090,#090,#090)"></i><i style="background:linear-gradient(#090,#090,#090,#090,#090,#090,#090,#080,#0a0,#0e0,#120,#180,#1e0,#260,#2f0,#380,#420,#4b0,#510,#510,#4b0,#3e0,#2d0,#1e0,#150,#0f0,#060,#060,#110,#1b0,#250,#2e0,#380,#420,#4a0,#540,#5d0,#640,#6d0,#730,#7a0,#810,#860,#8c0,#8f0,#940,#960,#990,#9a0,#9b0,#9b0,#9b0,#990,#980,#950,#920,#8d0,#890,#830,#7e0,#770,#710,#690,#600,#590,#4f0,#470,#3e0,#330,#2a0,#200,#160,#0c0,#010,#0b0,#120,#180,#240,#350,#450,#4f0,#520,#4f0,#470,#3e0,#340,#2b0,#220,#1b0,#150,#100,#0c0,#090,#090,#090,#090,#090,#090,#090,#090,#090)"></i><i style="background:linear-gradient(#090,#090,#090,#090,#090,#090,#090,#080,#0a0,#0e0,#120,#170,#1d0,#250,#2d0,#360,#400,#490,#500,#520,#4d0,#420,#310,#200,#150,#0f0,#080,#040,#100,#1a0,#240,#2d0,#370,#420,#4a0,#530,#5d0,#640,#6c0,#740,#7a0,#820,#860,#8c0,#900,#940,#970,#990,#9c0,#9b0,#9d0,#9b0,#9b0,#980,#960,#920,#8f0,#890,#840,#7e0,#770,#710,#680,#610,#590,#4e0,#470,#3d0,#320,#290,#1f0,#150,#0b0,#020,#0c0,#120,#190,#280,#390,#480,#500,#510,#4d0,#450,#3c0,#320,#290,#210,#1a0,#140,#100,#0c0,#090,#090,#090,#090,#090,#090,#090,#090,#090)"></i><i style="background:linear-gradient(#090,#090,#090,#090,#090,#090,#090,#080,#0a0,#0e0,#120,#160,#1c0,#230,#2b0,#350,#3e0,#470,#4e0,#520,#4f0,#450,#360,#240,#160,#0f0,#090,#020,#0e0,#190,#230,#2d0,#360,#410,#4b0,#520,#5c0,#650,#6c0,#750,#7b0,#810,#880,#8b0,#910,#940,#980,#9a0,#9c0,#9d0,#9d0,#9c0,#9b0,#990,#960,#930,#8f0,#890,#850,#7e0,#780,#710,#680,#620,#570,#4f0,#460,#3c0,#320,#280,#1e0,#140,#090,#040,#0c0,#120,#1c0,#2c0,#3d0,#4a0,#510,#510,#4c0,#430,#3a0,#300,#280,#200,#1a0,#140,#100,#0c0,#090,#090,#090,#090,#090,#090,#090,#090,#090)"></i><i style="background:linear-gradient(#090,#090,#090,#090,#090,#090,#090,#080,#0a0,#0d0,#110,#160,#1c0,#220,#2a0,#330,#3c0,#460,#4d0,#510,#500,#480,#3a0,#280,#180,#0f0,#0a0,#010,#0d0,#180,#220,#2c0,#360,#400,#4a0,#520,#5b0,#650,#6c0,#740,#7c0,#810,#880,#8c0,#910,#950,#980,#9b0,#9c0,#9e0,#9d0,#9e0,#9b0,#9b0,#960,#940,#8f0,#8b0,#850,#7e0,#790,#700,#690,#610,#570,#4f0,#450,#3b0,#310,#270,#1d0,#130,#070,#050,#0c0,#120,#1e0,#300,#410,#4c0,#510,#500,#4a0,#410,#380,#2f0,#260,#1f0,#190,#140,#0f0,#0c0,#090,#090,#090,#090,#090,#090,#090,#090,#090)"></i><i style="background:linear-gradient(#090,#090,#090,#090,#090,#090,#090,#080,#0a0,#0d0,#110,#150,#1b0,#210,#290,#310,#3a0,#440,#4c0,#500,#510,#4a0,#3e0,#2c0,#1b0,#0f0,#0a0,#020,#0a0,#170,#210,#2b0,#350,#3f0,#490,#530,#5b0,#650,#6d0,#730,#7c0,#810,#880,#8e0,#910,#960,#990,#9c0,#9d0,#9e0,#9f0,#9e0,#9d0,#9a0,#970,#950,#8f0,#8c0,#840,#800,#780,#700,#6a0,#600,#570,#4f0,#450,#3a0,#300,#260,#1d0,#110,#040,#060,#0c0,#130,#220,#340,#440,#4e0,#510,#4f0,#480,#400,#360,#2d0,#250,#1e0,#180,#130,#0f0,#0c0,#090,#090,#090,#090,#090,#090,#090,#090,#090)"></i><i style="background:linear-gradient(#090,#090,#090,#090,#090,#090,#090,#080,#0a0,#0d0,#110,#150,#1a0,#200,#270,#300,#390,#420,#4a0,#500,#510,#4c0,#410,#310,#1e0,#100,#0a0,#040,#080,#150,#210,#2a0,#340,#3e0,#480,#530,#5b0,#640,#6d0,#730,#7c0,#830,#880,#8e0,#920,#960,#9a0,#9c0,#9f0,#9e0,#a00,#9e0,#9e0,#9a0,#990,#940,#910,#8b0,#850,#800,#780,#710,#690,#600,#570,#4e0,#440,#3a0,#2f0,#260,#1c0,#0f0,#020,#070,#0c0,#150,#260,#390,#470,#4f0,#510,#4d0,#460,#3e0,#350,#2c0,#240,#1d0,#180,#130,#0f0,#0c0,#090,#090,#090,#090,#090,#090,#090,#090,#090)"></i><i style="background:linear-gradient(#090,#090,#090,#090,#090,#090,#090,#080,#0a0,#0d0,#100,#150,#1a0,#1f0,#260,#2e0,#370,#400,#480,#4e0,#510,#4e0,#440,#350,#220,#120,#090,#050,#060,#130,#200,#290,#330,#3e0,#480,#520,#5b0,#630,#6d0,#740,#7b0,#840,#880,#8f0,#930,#970,#9b0,#9d0,#9f0,#a00,#a00,#a00,#9e0,#9c0,#990,#950,#920,#8b0,#870,#800,#780,#710,#690,#5f0,#570,#4d0,#430,#390,#2e0,#250,#1b0,#0d0,#020,#070,#0c0,#180,#2b0,#3c0,#490,#500,#500,#4c0,#450,#3c0,#330,#2a0,#230,#1d0,#170,#130,#0f0,#0c0,#090,#090,#090,#090,#090,#090,#090,#090,#090)"></i><i style="background:linear-gradient(#090,#090,#090,#090,#090,#090,#090,#080,#0a0,#0d0,#100,#140,#190,#1f0,#250,#2d0,#350,#3e0,#470,#4d0,#510,#4f0,#470,#390,#260,#140,#090,#050,#050,#110,#1f0,#290,#320,#3d0,#470,#510,#5b0,#630,#6c0,#750,#7b0,#830,#890,#8e0,#940,#970,#9b0,#9e0,#9f0,#a10,#a00,#a10,#9d0,#9e0,#980,#970,#910,#8c0,#870,#7f0,#780,#720,#680,#600,#570,#4d0,#430,#380,#2e0,#250,#190,#0b0,#030,#070,#0d0,#1c0,#2f0,#400,#4b0,#500,#500,#4a0,#430,#3a0,#310,#290,#220,#1c0,#170,#120,#0f0,#0c0,#090,#090,#090,#090,#090,#090,#090,#090,#090)"></i><i style="background:linear-gradient(#090,#090,#090,#090,#090,#090,#090,#080,#0a0,#0d0,#100,#140,#180,#1e0,#240,#2b0,#340,#3c0,#450,#4c0,#500,#500,#490,#3c0,#2b0,#180,#090,#050,#050,#0e0,#1d0,#290,#320,#3c0,#470,#510,#5b0,#630,#6c0,#750,#7c0,#820,#8b0,#8e0,#950,#980,#9c0,#9f0,#a00,#a10,#a20,#a10,#9f0,#9e0,#9a0,#970,#910,#8d0,#870,#7f0,#790,#710,#680,#600,#560,#4c0,#420,#370,#2e0,#240,#160,#090,#050,#060,#0f0,#200,#330,#430,#4d0,#500,#4f0,#490,#410,#380,#300,#280,#210,#1b0,#160,#120,#0e0,#0b0,#090,#090,#090,#090,#090,#090,#090,#090,#090)"></i><i style="background:linear-gradient(#090,#090,#090,#090,#090,#090,#090,#080,#0a0,#0d0,#100,#130,#180,#1d0,#230,#2a0,#320,#3b0,#430,#4b0,#4f0,#500,#4b0,#400,#2f0,#1c0,#0b0,#050,#050,#0d0,#1b0,#280,#320,#3b0,#460,#500,#5b0,#630,#6c0,#750,#7d0,#830,#8a0,#900,#940,#9a0,#9c0,#9f0,#a10,#a10,#a40,#a00,#a20,#9d0,#9c0,#970,#920,#8d0,#870,#800,#7a0,#700,#680,#5f0,#560,#4c0,#410,#370,#2d0,#220,#140,#080,#050,#060,#120,#250,#370,#460,#4e0,#500,#4d0,#470,#3f0,#370,#2e0,#270,#200,#1b0,#160,#120,#0e0,#0b0,#090,#090,#090,#090,#090,#090,#090,#090,#090)"></i><i style="background:linear-gradient(#090,#090,#090,#090,#090,#090,#090,#080,#0a0,#0d0,#100,#130,#170,#1c0,#220,#290,#310,#390,#410,#490,#4e0,#500,#4d0,#430,#330,#200,#0e0,#030,#060,#0b0,#180,#270,#320,#3a0,#450,#500,#5a0,#640,#6c0,#750,#7d0,#840,#890,#910,#940,#9b0,#9d0,#a00,#a20,#a30,#a40,#a20,#a20,#9e0,#9d0,#970,#930,#8e0,#870,#810,#790,#700,#680,#5f0,#560,#4b0,#400,#360,#2d0,#200,#110,#080,#050,#060,#160,#290,#3b0,#480,#4f0,#500,#4c0,#460,#3e0,#350,#2d0,#260,#1f0,#1a0,#150,#110,#0e0,#0b0,#090,#090,#090,#090,#090,#090,#090,#090,#090)"></i><i style="background:linear-gradient(#090,#090,#090,#090,#090,#090,#090,#080,#0a0,#0c0,#0f0,#130,#170,#1c0,#210,#280,#2f0,#370,#400,#480,#4d0,#500,#4e0,#450,#370,#240,#110,#030,#070,#0a0,#160,#250,#310,#3a0,#440,#500,#590,#630,#6c0,#740,#7d0,#840,#8a0,#910,#960,#9a0,#9f0,#a00,#a30,#a40,#a30,#a50,#a10,#a00,#9c0,#980,#940,#8e0,#870,#820,#780,#710,#680,#5f0,#550,#4a0,#3f0,#360,#2c0,#1e0,#100,#080,#040,#080,#1a0,#2d0,#3e0,#4a0,#4f0,#4f0,#4b0,#440,#3c0,#340,#2c0,#250,#1f0,#190,#150,#110,#0e0,#0b0,#090,#090,#090,#090,#090,#090,#090,#090,#090)"></i><i style="background:linear-gradient(#090,#090,#090,#090,#090,#090,#090,#080,#0a0,#0c0,#0f0,#120,#160,#1b0,#200,#270,#2e0,#360,#3e0,#460,#4c0,#500,#4f0,#480,#3b0,#290,#150,#040,#060,#0b0,#130,#230,#300,#3a0,#430,#4e0,#5a0,#620,#6d0,#740,#7d0,#840,#8b0,#900,#980,#9a0,#a00,#a10,#a30,#a50,#a40,#a60,#a10,#a10,#9d0,#990,#950,#8e0,#880,#810,#790,#710,#680,#5f0,#550,#490,#3f0,#370,#2a0,#1b0,#0e0,#090,#030,#0b0,#1e0,#310,#410,#4b0,#500,#4f0,#4a0,#430,#3a0,#320,#2b0,#240,#1e0,#190,#140,#110,#0e0,#0b0,#090,#090,#090,#090,#090,#090,#090,#090,#090)"></i><i style="background:linear-gradient(#090,#090,#090,#090,#090,#090,#090,#080,#0a0,#0c0,#0f0,#120,#160,#1a0,#200,#260,#2d0,#340,#3d0,#440,#4b0,#4f0,#4f0,#4a0,#3e0,#2d0,#190,#070,#060,#0c0,#120,#200,#300,#3a0,#430,#4d0,#590,#630,#6c0,#750,#7d0,#850,#8c0,#910,#980,#9b0,#a00,#a20,#a40,#a50,#a60,#a50,#a40,#a10,#9e0,#990,#950,#8e0,#890,#810,#7a0,#700,#680,#5e0,#540,#480,#3f0,#360,#280,#190,#0e0,#0a0,#010,#0f0,#220,#350,#440,#4d0,#500,#4e0,#480,#410,#390,#310,#290,#230,#1d0,#180,#140,#110,#0e0,#0b0,#090,#090,#090,#090,#090,#090,#090,#090,#090)"></i><i style="background:linear-gradient(#090,#090,#090,#090,#090,#090,#090,#080,#0a0,#0c0,#0f0,#120,#150,#1a0,#1f0,#250,#2c0,#330,#3b0,#430,#4a0,#4e0,#4f0,#4b0,#410,#310,#1d0,#0a0,#050,#0c0,#120,#1d0,#2d0,#3a0,#430,#4d0,#580,#630,#6b0,#750,#7c0,#860,#8c0,#920,#970,#9d0,#9f0,#a40,#a50,#a60,#a80,#a40,#a60,#a10,#9e0,#9b0,#950,#8f0,#890,#810,#790,#710,#680,#5e0,#530,#470,#3f0,#350,#260,#170,#0f0,#0a0,#020,#130,#270,#390,#460,#4e0,#4f0,#4d0,#470,#3f0,#380,#300,#280,#220,#1c0,#180,#140,#100,#0e0,#0b0,#090,#090,#090,#090,#090,#090,#090,#090,#090)"></i><i style="background:linear-gradient(#090,#090,#090,#090,#090,#090,#090,#080,#0a0,#0c0,#0f0,#120,#150,#190,#1e0,#240,#2a0,#320,#390,#410,#490,#4d0,#4f0,#4c0,#430,#350,#220,#0e0,#040,#0d0,#110,#1b0,#2b0,#3a0,#430,#4c0,#570,#630,#6c0,#750,#7d0,#850,#8c0,#930,#970,#9e0,#a00,#a50,#a60,#a70,#a80,#a60,#a60,#a20,#9f0,#9c0,#950,#910,#890,#820,#790,#710,#670,#5e0,#510,#480,#3f0,#340,#230,#160,#0f0,#090,#050,#170,#2b0,#3c0,#480,#4e0,#4f0,#4c0,#450,#3e0,#360,#2e0,#270,#210,#1c0,#170,#130,#100,#0d0,#0b0,#090,#090,#090,#090,#090,#090,#090,#090,#090)"></i><i style="background:linear-gradient(#090,#090,#090,#090,#090,#090,#090,#080,#0a0,#0c0,#0e0,#110,#150,#190,#1d0,#230,#290,#300,#380,#400,#470,#4d0,#4f0,#4d0,#460,#380,#260,#120,#040,#0d0,#120,#190,#280,#380,#440,#4b0,#570,#620,#6d0,#740,#7e0,#850,#8d0,#930,#990,#9e0,#a20,#a40,#a70,#a80,#a80,#a80,#a50,#a30,#a00,#9c0,#960,#910,#890,#820,#790,#710,#680,#5d0,#510,#480,#3f0,#320,#200,#160,#100,#090,#090,#1b0,#2f0,#3f0,#4a0,#4f0,#4f0,#4a0,#440,#3c0,#350,#2d0,#260,#200,#1b0,#170,#130,#100,#0d0,#0b0,#090,#090,#090,#090,#090,#090,#090,#090,#090)"></i><i style="background:linear-gradient(#090,#090,#090,#090,#090,#090,#090,#080,#0a0,#0c0,#0e0,#110,#140,#180,#1d0,#220,#280,#2f0,#370,#3f0,#460,#4c0,#4f0,#4e0,#480,#3b0,#2a0,#160,#050,#0c0,#130,#180,#260,#360,#440,#4c0,#550,#610,#6c0,#740,#7e0,#850,#8e0,#930,#9a0,#9d0,#a40,#a40,#a80,#a90,#a80,#aa0,#a60,#a40,#a10,#9c0,#970,#900,#8a0,#810,#7a0,#700,#680,#5b0,#510,#480,#3f0,#2f0,#1f0,#150,#110,#080,#0c0,#1f0,#330,#420,#4b0,#4f0,#4e0,#490,#430,#3b0,#330,#2c0,#250,#200,#1b0,#170,#130,#100,#0d0,#0b0,#090,#090,#090,#090,#090,#090,#090,#090,#090)"></i><i style="background:linear-gradient(#090,#090,#090,#090,#090,#090,#090,#080,#0a0,#0c0,#0e0,#110,#140,#180,#1c0,#210,#270,#2e0,#350,#3d0,#440,#4a0,#4f0,#4e0,#490,#3f0,#2e0,#1b0,#080,#0b0,#140,#190,#230,#340,#430,#4d0,#540,#610,#6c0,#760,#7d0,#860,#8d0,#940,#9a0,#9e0,#a40,#a50,#a90,#aa0,#a90,#aa0,#a70,#a50,#a20,#9c0,#980,#910,#8b0,#820,#7a0,#710,#670,#5a0,#510,#480,#3d0,#2c0,#1e0,#160,#110,#070,#0f0,#240,#360,#440,#4d0,#4f0,#4d0,#480,#410,#3a0,#320,#2b0,#250,#1f0,#1a0,#160,#130,#100,#0d0,#0b0,#090,#090,#090,#090,#090,#090,#090,#090,#090)"></i><i style="background:linear-gradient(#090,#090,#090,#090,#090,#090,#090,#080,#0a0,#0c0,#0e0,#110,#140,#180,#1c0,#210,#260,#2d0,#340,#3b0,#430,#490,#4e0,#4f0,#4a0,#410,#320,#1e0,#0c0,#0b0,#140,#1a0,#210,#320,#410,#4d0,#540,#600,#6b0,#760,#7d0,#870,#8d0,#950,#9a0,#a00,#a40,#a70,#a90,#aa0,#ab0,#aa0,#a90,#a50,#a20,#9d0,#980,#920,#8a0,#820,#790,#720,#660,#5a0,#510,#490,#3a0,#2a0,#1c0,#170,#100,#060,#140,#280,#390,#460,#4d0,#4f0,#4c0,#460,#400,#380,#310,#2a0,#230,#1e0,#1a0,#160,#120,#0f0,#0d0,#0b0,#090,#090,#090,#090,#090,#090,#090,#090,#090)"></i><i style="background:linear-gradient(#090,#090,#090,#090,#090,#090,#090,#080,#0a0,#0c0,#0e0,#100,#130,#170,#1b0,#200,#260,#2c0,#330,#3a0,#410,#480,#4d0,#4f0,#4c0,#430,#360,#230,#0f0,#0a0,#140,#1a0,#210,#2e0,#400,#4d0,#560,#5e0,#6b0,#760,#7e0,#860,#8e0,#950,#9b0,#a10,#a40,#a90,#aa0,#ab0,#ad0,#aa0,#aa0,#a60,#a20,#9f0,#980,#930,#8a0,#830,#7a0,#720,#650,#5a0,#510,#480,#380,#280,#1d0,#180,#0f0,#080,#180,#2b0,#3c0,#480,#4d0,#4f0,#4b0,#450,#3e0,#370,#300,#290,#230,#1e0,#190,#150,#120,#0f0,#0d0,#0b0,#090,#090,#090,#090,#090,#090,#090,#090,#090)"></i><i style="background:linear-gradient(#090,#090,#090,#090,#090,#090,#090,#080,#0a0,#0b0,#0e0,#100,#130,#160,#1b0,#1f0,#240,#2b0,#310,#390,#400,#470,#4c0,#4e0,#4d0,#450,#380,#270,#130,#090,#140,#1b0,#210,#2c0,#3e0,#4c0,#560,#5d0,#6a0,#750,#7f0,#850,#8f0,#950,#9c0,#a10,#a50,#aa0,#aa0,#ac0,#ad0,#ab0,#aa0,#a80,#a30,#a00,#980,#930,#8b0,#820,#7b0,#710,#640,#590,#530,#460,#360,#250,#1e0,#180,#0e0,#0b0,#1c0,#2f0,#3f0,#490,#4e0,#4e0,#4a0,#440,#3d0,#360,#2e0,#280,#220,#1d0,#190,#150,#120,#0f0,#0d0,#0b0,#090,#090,#090,#090,#090,#090,#090,#090,#090)"></i><i style="background:linear-gradient(#090,#090,#090,#090,#090,#090,#090,#080,#0a0,#0c0,#0d0,#100,#130,#160,#1a0,#1f0,#240,#2a0,#310,#370,#3f0,#450,#4b0,#4e0,#4d0,#480,#3b0,#2b0,#170,#090,#130,#1c0,#210,#2a0,#3b0,#4c0,#560,#5e0,#690,#760,#7f0,#860,#8f0,#960,#9d0,#a10,#a60,#aa0,#ac0,#ad0,#ad0,#ad0,#ab0,#a90,#a40,#a00,#9a0,#930,#8b0,#820,#7c0,#6f0,#640,#5a0,#530,#440,#330,#240,#1f0,#180,#0e0,#0e0,#200,#330,#410,#4a0,#4e0,#4d0,#490,#430,#3b0,#340,#2d0,#270,#210,#1d0,#180,#150,#120,#0f0,#0d0,#0a0,#090,#090,#090,#090,#090,#090,#090,#090,#090)"></i><i style="background:linear-gradient(#090,#090,#090,#090,#090,#090,#090,#080,#090,#0c0,#0d0,#100,#130,#160,#1a0,#1e0,#230,#280,#2f0,#360,#3d0,#450,#4a0,#4e0,#4d0,#490,#3e0,#2e0,#1b0,#0b0,#110,#1d0,#210,#2a0,#380,#4b0,#560,#5f0,#670,#750,#7f0,#870,#8e0,#970,#9e0,#a20,#a70,#aa0,#ad0,#ae0,#ae0,#ae0,#ab0,#a90,#a50,#9f0,#9b0,#930,#8b0,#830,#7c0,#6f0,#630,#5c0,#520,#430,#300,#250,#1f0,#180,#0c0,#100,#240,#360,#430,#4c0,#4e0,#4c0,#480,#410,#3b0,#330,#2c0,#260,#200,#1c0,#180,#140,#110,#0f0,#0c0,#0b0,#090,#090,#090,#090,#090,#090,#090,#090,#090)"></i><i style="background:linear-gradient(#090,#090,#090,#090,#090,#090,#090,#080,#0a0,#0b0,#0e0,#0f0,#130,#150,#190,#1d0,#220,#280,#2e0,#350,#3c0,#430,#490,#4d0,#4e0,#490,#410,#310,#1f0,#0d0,#100,#1c0,#230,#280,#360,#480,#570,#600,#670,#740,#7f0,#880,#8e0,#980,#9e0,#a30,#a80,#aa0,#ae0,#af0,#ae0,#af0,#ac0,#a90,#a60,#a00,#9c0,#930,#8b0,#850,#7a0,#6e0,#630,#5d0,#500,#400,#2e0,#260,#1f0,#180,#0b0,#140,#280,#390,#460,#4c0,#4e0,#4c0,#460,#400,#390,#320,#2b0,#250,#200,#1b0,#180,#140,#110,#0e0,#0c0,#0b0,#090,#090,#090,#090,#090,#090,#090,#090,#090)"></i><i style="background:linear-gradient(#090,#090,#090,#090,#090,#090,#090,#080,#0a0,#0b0,#0d0,#100,#120,#150,#180,#1d0,#210,#270,#2d0,#340,#3b0,#420,#480,#4c0,#4e0,#4b0,#430,#350,#220,#110,#0f0,#1b0,#240,#280,#340,#450,#570,#600,#680,#720,#800,#890,#8e0,#980,#9e0,#a40,#a80,#ac0,#af0,#b00,#b00,#b00,#ae0,#aa0,#a70,#a10,#9c0,#940,#8b0,#860,#790,#6d0,#640,#5d0,#4f0,#3d0,#2d0,#260,#200,#160,#0b0,#180,#2c0,#3b0,#480,#4c0,#4e0,#4b0,#450,#3f0,#370,#310,#2a0,#250,#1f0,#1b0,#170,#130,#110,#0e0,#0c0,#0a0,#090,#090,#090,#090,#090,#090,#090,#090,#090)"></i><i style="background:linear-gradient(#090,#090,#090,#090,#090,#090,#090,#080,#090,#0b0,#0d0,#0f0,#120,#150,#180,#1c0,#210,#260,#2c0,#320,#3a0,#400,#470,#4c0,#4d0,#4c0,#440,#380,#260,#130,#0e0,#1a0,#240,#290,#320,#420,#560,#610,#690,#710,#7f0,#890,#900,#970,#9f0,#a50,#a80,#ad0,#af0,#b10,#b10,#b00,#af0,#ab0,#a70,#a30,#9b0,#940,#8d0,#860,#780,#6c0,#660,#5c0,#4e0,#3a0,#2e0,#270,#210,#140,#0c0,#1c0,#2f0,#3f0,#490,#4d0,#4e0,#490,#450,#3d0,#370,#300,#290,#240,#1e0,#1b0,#160,#140,#100,#0e0,#0c0,#0a0,#090,#090,#090,#090,#090,#090,#090,#090,#090)"></i><i style="background:linear-gradient(#090,#090,#090,#090,#090,#090,#090,#080,#0a0,#0b0,#0d0,#0f0,#120,#140,#180,#1b0,#200,#250,#2b0,#320,#380,#400,#450,#4b0,#4d0,#4d0,#460,#3b0,#2a0,#160,#0d0,#190,#240,#2b0,#310,#400,#530,#620,#6a0,#710,#7e0,#890,#920,#970,#a00,#a60,#a90,#ae0,#b00,#b10,#b20,#b10,#b00,#ac0,#a80,#a40,#9b0,#940,#8e0,#850,#780,#6c0,#670,#5b0,#4b0,#380,#2e0,#280,#200,#120,#0f0,#200,#320,#410,#490,#4e0,#4c0,#490,#430,#3c0,#360,#2e0,#290,#230,#1e0,#1a0,#160,#130,#100,#0e0,#0c0,#0a0,#090,#090,#090,#090,#090,#090,#090,#090,#090)"></i><i style="background:linear-gradient(#090,#090,#090,#090,#090,#090,#090,#080,#0a0,#0b0,#0d0,#0f0,#110,#140,#170,#1b0,#1f0,#250,#2a0,#310,#370,#3e0,#450,#4a0,#4d0,#4c0,#480,#3d0,#2e0,#1a0,#0d0,#180,#240,#2c0,#310,#3e0,#500,#620,#6a0,#720,#7c0,#8a0,#930,#970,#a00,#a70,#aa0,#ae0,#b10,#b30,#b30,#b20,#b00,#ad0,#a90,#a40,#9b0,#950,#900,#830,#770,#6e0,#670,#5a0,#480,#370,#2e0,#290,#1f0,#110,#120,#230,#350,#430,#4a0,#4e0,#4c0,#480,#410,#3b0,#340,#2e0,#280,#220,#1e0,#190,#160,#120,#110,#0e0,#0c0,#0a0,#090,#090,#090,#090,#090,#090,#090,#090,#090)"></i><i style="background:linear-gradient(#090,#090,#090,#090,#090,#090,#090,#080,#090,#0b0,#0c0,#0f0,#110,#140,#170,#1b0,#1f0,#240,#290,#2f0,#360,#3d0,#440,#490,#4d0,#4c0,#490,#3f0,#310,#1e0,#0d0,#160,#240,#2c0,#320,#3c0,#4e0,#610,#6b0,#730,#7b0,#890,#930,#980,#a00,#a70,#ac0,#af0,#b20,#b40,#b40,#b30,#b00,#ae0,#aa0,#a40,#9c0,#960,#900,#820,#770,#700,#670,#590,#440,#370,#2f0,#2a0,#1d0,#100,#140,#260,#390,#440,#4c0,#4d0,#4b0,#470,#400,#3a0,#330,#2d0,#260,#220,#1d0,#190,#150,#130,#100,#0e0,#0c0,#0a0,#090,#090,#090,#090,#090,#090,#090,#090,#090)"></i><i style="background:linear-gradient(#090,#090,#090,#090,#090,#090,#090,#080,#090,#0b0,#0d0,#0f0,#110,#130,#170,#1a0,#1f0,#230,#290,#2e0,#350,#3b0,#430,#480,#4c0,#4d0,#4a0,#420,#330,#220,#100,#130,#230,#2c0,#330,#3a0,#4c0,#5f0,#6c0,#740,#7a0,#890,#940,#9a0,#a00,#a70,#ad0,#b00,#b30,#b50,#b50,#b40,#b10,#af0,#ab0,#a30,#9d0,#970,#8f0,#820,#760,#710,#660,#570,#420,#360,#300,#290,#1c0,#0f0,#170,#2a0,#3b0,#460,#4d0,#4d0,#4b0,#450,#400,#380,#320,#2c0,#260,#210,#1c0,#190,#150,#130,#0f0,#0e0,#0c0,#0a0,#080,#090,#090,#090,#090,#090,#090,#090,#090)"></i><i style="background:linear-gradient(#090,#090,#090,#090,#090,#090,#090,#080,#0a0,#0b0,#0d0,#0e0,#110,#130,#170,#190,#1e0,#220,#280,#2d0,#340,#3b0,#410,#480,#4b0,#4e0,#4a0,#440,#360,#250,#130,#110,#220,#2d0,#340,#3a0,#490,#5c0,#6d0,#750,#7b0,#870,#940,#9c0,#a00,#a70,#ae0,#b10,#b30,#b60,#b60,#b50,#b20,#b00,#ac0,#a30,#9e0,#990,#8e0,#810,#770,#720,#660,#530,#410,#360,#320,#280,#1a0,#0e0,#1a0,#2e0,#3d0,#480,#4c0,#4d0,#4a0,#440,#3f0,#370,#310,#2a0,#260,#200,#1c0,#180,#150,#120,#100,#0d0,#0c0,#0a0,#090,#090,#090,#090,#090,#090,#090,#090,#090)"></i><i style="background:linear-gradient(#090,#090,#090,#090,#090,#090,#090,#080,#090,#0b0,#0c0,#0f0,#100,#130,#160,#1a0,#1d0,#220,#260,#2d0,#320,#3a0,#400,#470,#4a0,#4d0,#4b0,#450,#3a0,#280,#160,#100,#1f0,#2d0,#350,#3a0,#470,#590,#6d0,#760,#7c0,#860,#930,#9d0,#a10,#a80,#af0,#b20,#b40,#b60,#b70,#b50,#b30,#b10,#ac0,#a40,#9f0,#9a0,#8d0,#810,#790,#720,#650,#500,#410,#370,#330,#270,#180,#0e0,#1e0,#310,#3f0,#490,#4c0,#4d0,#480,#440,#3d0,#370,#300,#2a0,#240,#1f0,#1c0,#170,#150,#120,#100,#0d0,#0c0,#0a0,#090,#090,#090,#090,#090,#090,#090,#090,#090)"></i><i style="background:linear-gradient(#090,#090,#090,#090,#090,#090,#090,#080,#090,#0b0,#0c0,#0f0,#100,#130,#150,#190,#1c0,#210,#260,#2c0,#320,#380,#3f0,#450,#4a0,#4c0,#4d0,#460,#3d0,#2b0,#190,#0f0,#1d0,#2d0,#350,#3c0,#450,#570,#6b0,#770,#7e0,#850,#930,#9e0,#a30,#a80,#af0,#b40,#b50,#b70,#b90,#b60,#b40,#b20,#ac0,#a50,#a10,#9a0,#8c0,#810,#7b0,#720,#630,#4e0,#400,#390,#330,#260,#160,#100,#220,#340,#410,#4a0,#4d0,#4c0,#480,#430,#3b0,#360,#2e0,#290,#230,#1f0,#1a0,#180,#140,#120,#0f0,#0e0,#0b0,#0a0,#080,#090,#090,#090,#090,#090,#090,#090,#090)"></i><i style="background:linear-gradient(#090,#090,#090,#090,#090,#090,#090,#080,#0a0,#0a0,#0d0,#0e0,#100,#120,#160,#180,#1c0,#200,#260,#2a0,#310,#370,#3e0,#430,#4a0,#4c0,#4d0,#470,#3e0,#2f0,#1c0,#0f0,#1a0,#2c0,#360,#3d0,#440,#550,#690,#780,#7f0,#850,#920,#9e0,#a40,#a80,#af0,#b50,#b60,#b80,#b90,#b70,#b60,#b30,#ac0,#a60,#a20,#990,#8b0,#810,#7d0,#710,#600,#4c0,#400,#3a0,#320,#250,#130,#120,#260,#360,#440,#4a0,#4d0,#4b0,#470,#410,#3b0,#340,#2e0,#280,#230,#1f0,#1a0,#170,#140,#120,#0f0,#0e0,#0b0,#0a0,#080,#090,#090,#090,#090,#090,#090,#090,#090)"></i><i style="background:linear-gradient(#090,#090,#090,#090,#090,#090,#090,#080,#090,#0a0,#0d0,#0e0,#100,#120,#150,#180,#1c0,#1f0,#250,#290,#300,#360,#3d0,#430,#480,#4c0,#4c0,#490,#400,#330,#1f0,#100,#180,#2a0,#370,#3e0,#440,#530,#660,#780,#800,#860,#910,#9e0,#a60,#a90,#af0,#b60,#b80,#b90,#ba0,#b80,#b70,#b30,#ac0,#a80,#a30,#980,#8b0,#830,#7e0,#710,#5d0,#4b0,#400,#3c0,#310,#230,#100,#150,#290,#390,#450,#4b0,#4d0,#4a0,#470,#3f0,#3a0,#330,#2d0,#270,#230,#1d0,#1a0,#160,#140,#110,#0f0,#0d0,#0c0,#0a0,#090,#090,#090,#090,#090,#090,#090,#090,#090)"></i><i style="background:linear-gradient(#090,#090,#090,#090,#090,#090,#090,#080,#090,#0b0,#0c0,#0e0,#100,#120,#140,#180,#1b0,#1f0,#230,#290,#2e0,#350,#3b0,#420,#470,#4c0,#4c0,#4a0,#410,#360,#220,#120,#160,#280,#370,#3e0,#450,#500,#640,#770,#820,#870,#900,#9d0,#a80,#ab0,#af0,#b60,#ba0,#ba0,#ba0,#ba0,#b90,#b30,#ad0,#aa0,#a40,#970,#8b0,#850,#7e0,#6f0,#5a0,#4a0,#410,#3c0,#310,#200,#0f0,#190,#2b0,#3c0,#460,#4c0,#4c0,#4a0,#450,#3f0,#390,#320,#2c0,#260,#220,#1d0,#1a0,#160,#140,#110,#0f0,#0d0,#0c0,#0a0,#090,#090,#090,#090,#090,#090,#090,#090,#090)"></i><i style="background:linear-gradient(#090,#090,#090,#090,#090,#090,#090,#080,#090,#0b0,#0c0,#0e0,#0f0,#120,#140,#180,#1a0,#1f0,#230,#290,#2d0,#340,#3a0,#410,#460,#4b0,#4c0,#4b0,#440,#380,#260,#130,#140,#250,#370,#3f0,#460,#4f0,#610,#760,#830,#890,#8f0,#9c0,#a80,#ad0,#b00,#b60,#bc0,#bb0,#ba0,#bc0,#ba0,#b30,#ae0,#ab0,#a40,#960,#8c0,#870,#7e0,#6d0,#580,#4a0,#430,#3c0,#300,#1d0,#0f0,#1d0,#2e0,#3f0,#470,#4d0,#4b0,#4a0,#430,#3e0,#370,#320,#2b0,#260,#210,#1d0,#190,#160,#130,#110,#0e0,#0d0,#0b0,#0a0,#080,#090,#090,#090,#090,#090,#090,#090,#090)"></i><i style="background:linear-gradient(#090,#090,#090,#090,#090,#090,#090,#080,#0a0,#0a0,#0c0,#0d0,#100,#110,#140,#170,#1a0,#1e0,#230,#270,#2d0,#330,#3a0,#3f0,#460,#4a0,#4d0,#4b0,#460,#3a0,#2a0,#160,#110,#230,#360,#400,#470,#4e0,#5f0,#740,#830,#8b0,#900,#9b0,#a80,#af0,#b10,#b60,#bd0,#bc0,#ba0,#be0,#ba0,#b30,#b00,#ad0,#a30,#950,#8d0,#880,#7d0,#6b0,#560,#4a0,#450,#3c0,#2e0,#190,#100,#200,#310,#400,#480,#4d0,#4b0,#490,#420,#3d0,#360,#310,#2a0,#260,#200,#1d0,#180,#160,#120,#110,#0e0,#0d0,#0b0,#0a0,#080,#090,#090,#090,#090,#090,#090,#090,#090)"></i><i style="background:linear-gradient(#090,#090,#090,#090,#090,#090,#090,#080,#090,#0a0,#0c0,#0d0,#100,#110,#140,#160,#1a0,#1d0,#220,#260,#2d0,#310,#390,#3e0,#450,#490,#4d0,#4b0,#470,#3c0,#2d0,#190,#100,#210,#340,#410,#480,#4e0,#5d0,#710,#830,#8c0,#910,#9a0,#a80,#b10,#b20,#b60,#be0,#bd0,#bc0,#be0,#bb0,#b30,#b20,#ae0,#a20,#950,#8f0,#8a0,#7c0,#680,#550,#4a0,#460,#3c0,#2c0,#170,#110,#220,#350,#420,#4a0,#4c0,#4b0,#470,#420,#3c0,#350,#2f0,#2a0,#240,#200,#1c0,#180,#150,#130,#100,#0f0,#0c0,#0c0,#090,#090,#090,#090,#090,#090,#090,#090,#090,#090)"></i><i style="background:linear-gradient(#090,#090,#090,#090,#090,#090,#090,#080,#090,#0b0,#0c0,#0e0,#0f0,#110,#140,#160,#1a0,#1d0,#210,#260,#2b0,#310,#370,#3d0,#440,#480,#4c0,#4b0,#480,#3e0,#300,#1d0,#0f0,#1e0,#310,#410,#490,#4f0,#5b0,#6e0,#830,#8e0,#920,#990,#a70,#b20,#b30,#b70,#bd0,#be0,#be0,#bf0,#bb0,#b50,#b30,#ae0,#a00,#950,#910,#8a0,#7a0,#650,#540,#4c0,#460,#3b0,#290,#140,#130,#250,#380,#430,#4b0,#4b0,#4b0,#460,#410,#3a0,#350,#2e0,#290,#230,#200,#1b0,#190,#140,#130,#100,#0f0,#0c0,#0b0,#090,#090,#090,#090,#090,#090,#090,#090,#090,#090)"></i><i style="background:linear-gradient(#090,#090,#090,#090,#090,#090,#090,#080,#090,#0b0,#0b0,#0e0,#0e0,#120,#130,#160,#180,#1d0,#200,#260,#2a0,#300,#360,#3d0,#420,#480,#4b0,#4c0,#480,#400,#320,#200,#0f0,#1a0,#2f0,#410,#4a0,#500,#590,#6c0,#810,#8f0,#940,#990,#a60,#b20,#b50,#b80,#bc0,#bf0,#c00,#be0,#ba0,#b60,#b40,#ad0,#a00,#960,#920,#890,#780,#620,#540,#4d0,#460,#3a0,#250,#120,#160,#280,#3a0,#440,#4b0,#4b0,#4a0,#450,#400,#390,#340,#2d0,#280,#230,#1f0,#1b0,#180,#150,#120,#100,#0e0,#0d0,#0b0,#0a0,#080,#090,#090,#090,#090,#090,#090,#090,#090)"></i><i style="background:linear-gradient(#090,#090,#090,#090,#090,#090,#090,#070,#090,#0a0,#0c0,#0d0,#0f0,#110,#130,#160,#180,#1c0,#1f0,#250,#290,#2f0,#340,#3c0,#410,#470,#4a0,#4c0,#490,#420,#350,#240,#100,#170,#2d0,#400,#4b0,#510,#580,#690,#7f0,#8f0,#960,#9a0,#a50,#b10,#b80,#b90,#bb0,#c00,#c20,#be0,#ba0,#b90,#b50,#ac0,#9f0,#970,#940,#890,#750,#610,#540,#4f0,#460,#380,#220,#100,#190,#2c0,#3c0,#460,#4b0,#4c0,#490,#440,#3e0,#390,#320,#2d0,#270,#230,#1e0,#1b0,#170,#150,#110,#100,#0d0,#0d0,#0a0,#0a0,#080,#090,#090,#090,#090,#090,#090,#090,#090)"></i><i style="background:linear-gradient(#090,#090,#090,#090,#090,#090,#090,#080,#090,#0a0,#0c0,#0c0,#0f0,#100,#130,#150,#180,#1b0,#1f0,#230,#280,#2e0,#340,#3a0,#400,#460,#490,#4c0,#490,#440,#370,#270,#130,#130,#2a0,#3e0,#4b0,#520,#590,#670,#7c0,#8f0,#970,#9b0,#a40,#b00,#ba0,#bb0,#ba0,#c10,#c40,#bd0,#ba0,#bb0,#b60,#aa0,#9f0,#990,#950,#870,#720,#5f0,#550,#500,#460,#360,#1f0,#0f0,#1b0,#2f0,#3d0,#470,#4a0,#4c0,#470,#440,#3d0,#380,#300,#2c0,#250,#220,#1d0,#1a0,#160,#140,#110,#100,#0e0,#0c0,#0b0,#090,#090,#090,#090,#090,#090,#090,#090,#090,#090)"></i><i style="background:linear-gradient(#090,#090,#090,#090,#090,#090,#090,#080,#090,#0a0,#0b0,#0d0,#0f0,#100,#130,#140,#180,#1a0,#1f0,#220,#280,#2c0,#330,#380,#3f0,#440,#490,#4b0,#4a0,#450,#3a0,#2a0,#160,#110,#270,#3c0,#4c0,#530,#590,#650,#7a0,#8e0,#990,#9d0,#a30,#af0,#bb0,#bc0,#ba0,#c20,#c50,#bd0,#ba0,#bd0,#b60,#a90,#a00,#9b0,#950,#850,#6f0,#5f0,#560,#510,#450,#330,#1c0,#0f0,#1e0,#320,#3f0,#480,#4a0,#4b0,#470,#430,#3c0,#360,#300,#2b0,#250,#210,#1d0,#190,#170,#130,#120,#0f0,#0e0,#0c0,#0b0,#090,#090,#090,#090,#090,#090,#090,#090,#090,#090)"></i><i style="background:linear-gradient(#090,#090,#090,#090,#090,#090,#090,#080,#080,#0b0,#0b0,#0d0,#0e0,#100,#120,#150,#180,#1a0,#1e0,#220,#270,#2c0,#320,#370,#3f0,#430,#490,#4a0,#4b0,#450,#3c0,#2c0,#190,#0e0,#230,#390,#4b0,#550,#5a0,#640,#770,#8c0,#9a0,#9f0,#a20,#ae0,#bc0,#bd0,#bb0,#c20,#c60,#be0,#bb0,#be0,#b60,#a70,#a10,#9e0,#940,#830,#6d0,#5e0,#580,#510,#440,#2f0,#180,#100,#220,#340,#410,#490,#4b0,#4a0,#460,#410,#3b0,#350,#2f0,#290,#250,#200,#1d0,#180,#170,#130,#120,#0f0,#0e0,#0c0,#0b0,#0a0,#080,#090,#090,#090,#090,#090,#090,#090,#090)"></i><i style="background:linear-gradient(#090,#090,#090,#090,#090,#090,#090,#080,#090,#0a0,#0b0,#0d0,#0e0,#110,#110,#150,#160,#1a0,#1d0,#220,#260,#2b0,#310,#370,#3d0,#420,#480,#4a0,#4b0,#460,#3e0,#2f0,#1c0,#0d0,#1f0,#370,#4a0,#560,#5b0,#630,#750,#8a0,#9a0,#a10,#a30,#ad0,#bb0,#be0,#bd0,#c20,#c50,#c00,#bd0,#be0,#b60,#a70,#a20,#a00,#940,#800,#6c0,#5f0,#590,#510,#420,#2c0,#150,#120,#250,#370,#430,#490,#4b0,#490,#460,#3f0,#3b0,#330,#2f0,#280,#250,#1f0,#1c0,#180,#160,#130,#110,#0f0,#0d0,#0c0,#0a0,#0a0,#080,#090,#090,#090,#090,#090,#090,#090,#090)"></i><i style="background:linear-gradient(#090,#090,#090,#090,#090,#090,#090,#070,#090,#090,#0c0,#0c0,#0e0,#100,#110,#140,#160,#1a0,#1c0,#220,#250,#2b0,#2f0,#360,#3b0,#420,#460,#4a0,#4b0,#470,#400,#320,#200,#0e0,#1b0,#340,#490,#560,#5d0,#630,#720,#870,#9b0,#a30,#a40,#ad0,#ba0,#bf0,#c00,#c20,#c30,#c10,#c00,#be0,#b50,#a80,#a30,#a10,#920,#7d0,#6b0,#600,#5a0,#510,#400,#290,#110,#140,#290,#380,#440,#490,#4b0,#480,#450,#3e0,#390,#330,#2e0,#280,#230,#1f0,#1b0,#190,#150,#140,#100,#100,#0d0,#0c0,#0a0,#090,#080,#090,#090,#090,#090,#090,#090,#090,#090)"></i><i style="background:linear-gradient(#090,#090,#090,#090,#090,#090,#090,#080,#090,#090,#0c0,#0c0,#0e0,#0f0,#120,#140,#160,#190,#1c0,#210,#240,#2a0,#2e0,#350,#3a0,#410,#450,#4a0,#4a0,#480,#410,#340,#230,#0f0,#170,#310,#470,#570,#5e0,#640,#700,#840,#9a0,#a40,#a60,#ad0,#b80,#c00,#c30,#c20,#c20,#c30,#c20,#bd0,#b30,#a90,#a50,#a10,#910,#7a0,#6a0,#610,#5b0,#510,#3d0,#250,#0f0,#170,#2c0,#3a0,#450,#490,#4b0,#480,#440,#3e0,#380,#320,#2c0,#280,#220,#1f0,#1a0,#180,#140,#130,#100,#0f0,#0d0,#0c0,#0b0,#090,#090,#090,#090,#090,#090,#090,#090,#090,#090)"></i><i style="background:linear-gradient(#090,#090,#090,#090,#090,#090,#090,#080,#080,#0a0,#0b0,#0c0,#0e0,#0f0,#120,#130,#170,#180,#1c0,#1f0,#240,#290,#2e0,#340,#390,#400,#440,#490,#4a0,#490,#420,#370,#250,#120,#140,#2d0,#450,#560,#5f0,#660,#6f0,#820,#990,#a40,#a90,#ae0,#b60,#c10,#c70,#c30,#c00,#c50,#c50,#bc0,#b20,#ab0,#a70,#a10,#8f0,#780,#6a0,#630,#5c0,#4f0,#3a0,#210,#0d0,#1a0,#2e0,#3d0,#460,#4a0,#4a0,#470,#420,#3d0,#360,#320,#2b0,#270,#210,#1e0,#1a0,#180,#150,#120,#110,#0e0,#0e0,#0b0,#0b0,#090,#080,#090,#090,#090,#090,#090,#090,#090,#090)"></i><i style="background:linear-gradient(#090,#090,#090,#090,#090,#090,#090,#080,#080,#0a0,#0a0,#0d0,#0d0,#0f0,#110,#130,#160,#180,#1c0,#1f0,#240,#270,#2d0,#320,#390,#3e0,#440,#480,#4a0,#490,#430,#390,#280,#140,#100,#290,#420,#550,#610,#670,#6e0,#800,#970,#a50,#ac0,#af0,#b40,#c10,#c90,#c30,#c00,#c70,#c70,#bb0,#b10,#ae0,#a90,#9f0,#8d0,#760,#6a0,#650,#5c0,#4e0,#370,#1d0,#0c0,#1e0,#310,#3f0,#470,#4a0,#490,#470,#410,#3c0,#350,#300,#2a0,#260,#210,#1d0,#1a0,#170,#150,#120,#110,#0e0,#0d0,#0b0,#0a0,#0a0,#080,#090,#090,#090,#090,#090,#090,#090,#090)"></i><i style="background:linear-gradient(#090,#090,#090,#090,#090,#090,#090,#070,#090,#0a0,#0b0,#0d0,#0d0,#100,#100,#130,#150,#180,#1b0,#1e0,#230,#270,#2d0,#310,#380,#3d0,#430,#470,#4a0,#490,#450,#3b0,#2b0,#170,#0d0,#250,#400,#540,#620,#680,#6e0,#7f0,#940,#a40,#af0,#b00,#b30,#c10,#cb0,#c40,#c00,#c80,#c90,#ba0,#b00,#b00,#ab0,#9d0,#8b0,#760,#6a0,#660,#5c0,#4c0,#340,#190,#0d0,#210,#330,#400,#470,#4a0,#490,#460,#400,#3b0,#350,#2f0,#2a0,#250,#210,#1c0,#1a0,#160,#150,#120,#100,#0e0,#0d0,#0c0,#0a0,#0a0,#080,#090,#090,#090,#090,#090,#090,#090,#090)"></i><i style="background:linear-gradient(#090,#090,#090,#090,#090,#090,#090,#070,#090,#090,#0b0,#0c0,#0d0,#0f0,#100,#130,#140,#180,#1a0,#1e0,#220,#260,#2c0,#300,#370,#3c0,#420,#460,#4a0,#490,#460,#3d0,#2e0,#1a0,#0c0,#210,#3c0,#520,#630,#690,#6f0,#7d0,#910,#a40,#b10,#b10,#b20,#c20,#cb0,#c50,#c10,#c90,#c90,#ba0,#b00,#b20,#ad0,#9b0,#880,#760,#6b0,#670,#5c0,#490,#300,#150,#0f0,#240,#350,#420,#480,#4a0,#480,#450,#3f0,#3a0,#340,#2e0,#290,#240,#210,#1c0,#1a0,#160,#140,#120,#0f0,#0f0,#0c0,#0c0,#0a0,#090,#080,#090,#090,#090,#090,#090,#090,#090,#090)"></i><i style="background:linear-gradient(#090,#090,#090,#090,#090,#090,#090,#080,#090,#090,#0b0,#0b0,#0e0,#0f0,#110,#130,#140,#180,#1a0,#1e0,#210,#260,#2a0,#300,#360,#3b0,#410,#450,#490,#490,#470,#3e0,#310,#1e0,#0b0,#1d0,#380,#500,#630,#6a0,#700,#7c0,#8e0,#a40,#b30,#b20,#b30,#c10,#cb0,#c60,#c40,#c90,#c80,#ba0,#b10,#b30,#ae0,#990,#850,#760,#6d0,#680,#5c0,#460,#2c0,#110,#120,#270,#380,#430,#480,#4a0,#480,#440,#3f0,#380,#330,#2d0,#290,#230,#200,#1c0,#190,#160,#130,#120,#0f0,#0e0,#0c0,#0b0,#0a0,#090,#090,#090,#090,#090,#090,#090,#090,#090,#090)"></i><i style="background:linear-gradient(#090,#090,#090,#090,#090,#090,#090,#080,#080,#0a0,#0b0,#0b0,#0e0,#0e0,#110,#120,#150,#170,#190,#1d0,#200,#250,#290,#2f0,#340,#3a0,#400,#450,#490,#490,#470,#400,#330,#210,#0c0,#180,#340,#4e0,#620,#6b0,#720,#7b0,#8b0,#a30,#b30,#b30,#b50,#c10,#c90,#c80,#c70,#c90,#c70,#bb0,#b30,#b40,#ae0,#980,#820,#770,#6f0,#680,#5b0,#430,#280,#0d0,#160,#2a0,#3a0,#440,#490,#490,#470,#420,#3e0,#370,#320,#2c0,#270,#230,#1f0,#1c0,#180,#160,#130,#120,#0f0,#0e0,#0d0,#0b0,#0b0,#090,#080,#090,#090,#090,#090,#090,#090,#090,#090)"></i><i style="background:linear-gradient(#090,#090,#090,#090,#090,#090,#090,#080,#080,#0a0,#0a0,#0c0,#0d0,#0e0,#110,#110,#150,#160,#1a0,#1c0,#200,#250,#280,#2e0,#330,#3a0,#3f0,#440,#480,#490,#480,#410,#360,#240,#0f0,#140,#300,#4c0,#610,#6c0,#740,#7a0,#890,#a20,#b30,#b50,#b80,#c00,#c70,#ca0,#cb0,#c90,#c50,#bc0,#b60,#b50,#ad0,#960,#800,#770,#710,#680,#590,#3f0,#230,#0a0,#190,#2d0,#3c0,#450,#490,#490,#470,#420,#3d0,#370,#310,#2c0,#260,#230,#1e0,#1b0,#180,#160,#130,#110,#100,#0d0,#0d0,#0b0,#0a0,#090,#080,#090,#090,#090,#090,#090,#090,#090,#090)"></i><i style="background:linear-gradient(#090,#090,#090,#090,#090,#090,#090,#070,#090,#0a0,#0a0,#0c0,#0c0,#0f0,#100,#120,#140,#160,#190,#1c0,#200,#230,#280,#2d0,#320,#390,#3e0,#430,#470,#490,#480,#430,#380,#270,#120,#100,#2b0,#490,#5f0,#6d0,#760,#7a0,#870,#a00,#b10,#b70,#bc0,#c00,#c50,#cc0,#cf0,#c90,#c20,#be0,#ba0,#b50,#ab0,#950,#7f0,#780,#730,#670,#570,#3c0,#1e0,#090,#1c0,#2f0,#3e0,#460,#490,#490,#460,#410,#3b0,#360,#300,#2b0,#260,#220,#1e0,#1b0,#180,#150,#130,#100,#100,#0d0,#0c0,#0b0,#090,#0a0,#070,#090,#090,#090,#090,#090,#090,#090,#090)"></i><i style="background:linear-gradient(#090,#090,#090,#090,#090,#090,#090,#070,#090,#090,#0a0,#0c0,#0c0,#0f0,#0f0,#120,#140,#160,#190,#1b0,#1f0,#230,#280,#2c0,#320,#370,#3d0,#420,#460,#490,#480,#440,#3a0,#2b0,#150,#0d0,#270,#460,#5d0,#6e0,#780,#7a0,#870,#9e0,#af0,#ba0,#bf0,#bf0,#c30,#ce0,#d20,#c80,#c00,#bf0,#bd0,#b50,#a90,#930,#7f0,#790,#750,#670,#540,#380,#190,#0a0,#1f0,#320,#3f0,#470,#490,#480,#450,#400,#3a0,#350,#2f0,#2a0,#250,#210,#1d0,#1a0,#180,#140,#130,#100,#0f0,#0e0,#0c0,#0c0,#090,#090,#080,#090,#090,#090,#090,#090,#090,#090,#090)"></i><i style="background:linear-gradient(#090,#090,#090,#090,#090,#090,#090,#070,#090,#090,#0b0,#0b0,#0d0,#0e0,#0f0,#120,#130,#160,#180,#1b0,#1f0,#220,#270,#2b0,#310,#360,#3c0,#410,#460,#490,#490,#450,#3b0,#2d0,#180,#090,#230,#420,#5a0,#6f0,#790,#7b0,#870,#9b0,#ad0,#bc0,#c20,#bf0,#c10,#cf0,#d50,#c80,#be0,#c10,#c10,#b50,#a60,#920,#800,#7a0,#760,#660,#500,#340,#150,#0c0,#220,#350,#400,#470,#490,#480,#440,#3f0,#390,#340,#2e0,#290,#250,#200,#1d0,#190,#170,#140,#120,#110,#0e0,#0e0,#0c0,#0b0,#0a0,#090,#090,#090,#090,#090,#090,#090,#090,#090,#090)"></i><i style="background:linear-gradient(#090,#090,#090,#090,#090,#090,#090,#080,#080,#090,#0b0,#0b0,#0d0,#0e0,#0f0,#110,#130,#160,#170,#1b0,#1e0,#220,#260,#2a0,#300,#350,#3b0,#400,#450,#480,#490,#450,#3d0,#300,#1b0,#080,#1e0,#3e0,#580,#6f0,#7a0,#7d0,#880,#990,#ab0,#be0,#c50,#bf0,#c10,#d10,#d70,#c90,#bd0,#c20,#c40,#b50,#a20,#910,#820,#7b0,#770,#650,#4c0,#300,#100,#100,#250,#370,#410,#480,#490,#470,#430,#3e0,#380,#330,#2e0,#280,#240,#200,#1d0,#190,#170,#140,#120,#110,#0e0,#0e0,#0c0,#0b0,#0a0,#080,#080,#090,#090,#090,#090,#090,#090,#090,#090)"></i><i style="background:linear-gradient(#090,#090,#090,#090,#090,#090,#090,#080,#080,#0a0,#0a0,#0b0,#0d0,#0d0,#100,#110,#130,#150,#170,#1b0,#1d0,#210,#250,#2a0,#2f0,#340,#3a0,#3f0,#440,#470,#490,#460,#3f0,#320,#1f0,#090,#1a0,#390,#550,#6f0,#7a0,#7f0,#890,#960,#a80,#bf0,#c70,#bf0,#c10,#d10,#d70,#c90,#be0,#c30,#c60,#b50,#9f0,#900,#840,#7c0,#760,#640,#480,#2c0,#0c0,#130,#280,#390,#430,#480,#490,#460,#420,#3d0,#380,#320,#2d0,#270,#240,#1f0,#1c0,#190,#160,#140,#110,#110,#0e0,#0d0,#0c0,#0a0,#0a0,#090,#080,#090,#090,#090,#090,#090,#090,#090,#090)"></i><i style="background:linear-gradient(#090,#090,#090,#090,#090,#090,#090,#080,#080,#0a0,#0a0,#0b0,#0c0,#0d0,#100,#100,#130,#150,#170,#1a0,#1d0,#210,#240,#290,#2e0,#340,#390,#3f0,#440,#470,#490,#460,#410,#340,#220,#0c0,#160,#340,#520,#6d0,#7a0,#820,#8a0,#930,#a70,#c00,#c80,#c10,#c30,#d10,#d70,#ca0,#c00,#c40,#c70,#b50,#9c0,#8e0,#870,#7e0,#750,#630,#440,#270,#080,#170,#2b0,#3b0,#440,#480,#490,#450,#420,#3c0,#370,#310,#2c0,#270,#230,#1f0,#1b0,#190,#160,#140,#110,#100,#0f0,#0c0,#0c0,#0a0,#0a0,#090,#070,#090,#090,#090,#090,#090,#090,#090,#090)"></i><i style="background:linear-gradient(#090,#090,#090,#090,#090,#090,#090,#070,#080,#090,#0a0,#0c0,#0c0,#0e0,#0f0,#100,#130,#140,#170,#190,#1c0,#200,#240,#290,#2d0,#330,#380,#3e0,#430,#470,#490,#470,#420,#360,#260,#0f0,#120,#2f0,#4f0,#6b0,#790,#850,#8b0,#910,#a50,#c00,#c80,#c30,#c50,#d10,#d60,#cb0,#c20,#c60,#c70,#b50,#9a0,#8d0,#890,#800,#740,#600,#400,#220,#050,#1b0,#2d0,#3d0,#450,#480,#480,#450,#410,#3b0,#360,#300,#2b0,#260,#220,#1f0,#1b0,#180,#150,#130,#120,#0f0,#0f0,#0c0,#0c0,#0b0,#090,#090,#070,#090,#090,#090,#090,#090,#090,#090,#090)"></i><i style="background:linear-gradient(#090,#090,#090,#090,#090,#090,#090,#070,#090,#090,#0a0,#0b0,#0c0,#0e0,#0f0,#100,#120,#140,#170,#190,#1c0,#1f0,#230,#280,#2c0,#320,#370,#3d0,#420,#460,#480,#470,#430,#380,#290,#120,#0d0,#2a0,#4c0,#680,#790,#870,#8c0,#900,#a40,#bf0,#c80,#c60,#c80,#d10,#d40,#cd0,#c60,#c70,#c60,#b40,#990,#8d0,#8b0,#820,#720,#5d0,#3c0,#1c0,#050,#1e0,#300,#3e0,#460,#480,#480,#440,#400,#3a0,#350,#2f0,#2a0,#260,#210,#1e0,#1a0,#180,#150,#130,#120,#0f0,#0e0,#0d0,#0b0,#0b0,#090,#090,#080,#090,#090,#090,#090,#090,#090,#090,#090)"></i><i style="background:linear-gradient(#090,#090,#090,#090,#090,#090,#090,#070,#090,#080,#0a0,#0b0,#0c0,#0e0,#0e0,#100,#120,#140,#160,#180,#1c0,#1f0,#230,#270,#2c0,#310,#360,#3c0,#410,#460,#470,#480,#440,#3a0,#2d0,#150,#090,#250,#490,#650,#790,#8a0,#8d0,#900,#a40,#bd0,#c70,#c90,#cc0,#d00,#d10,#ce0,#ca0,#c80,#c40,#b30,#990,#8d0,#8d0,#830,#700,#5a0,#380,#170,#070,#210,#330,#3f0,#470,#480,#470,#440,#3e0,#3a0,#340,#2f0,#290,#250,#210,#1d0,#1a0,#170,#150,#130,#110,#0f0,#0e0,#0d0,#0b0,#0b0,#090,#080,#080,#090,#090,#090,#090,#090,#090,#090,#090)"></i><i style="background:linear-gradient(#090,#090,#090,#090,#090,#090,#090,#080,#080,#090,#0a0,#0a0,#0c0,#0d0,#0e0,#100,#110,#140,#160,#180,#1b0,#1e0,#220,#260,#2b0,#300,#360,#3b0,#400,#450,#470,#480,#450,#3c0,#2f0,#180,#050,#200,#450,#610,#790,#8b0,#8e0,#910,#a40,#ba0,#c60,#cc0,#d00,#cf0,#cf0,#d00,#cf0,#ca0,#c20,#b10,#9a0,#8e0,#8e0,#840,#6d0,#550,#340,#110,#0b0,#240,#360,#400,#470,#480,#460,#430,#3d0,#390,#330,#2e0,#290,#240,#200,#1d0,#1a0,#170,#150,#120,#110,#0f0,#0d0,#0d0,#0b0,#0a0,#0a0,#080,#080,#090,#090,#090,#090,#090,#090,#090,#090)"></i><i style="background:linear-gradient(#090,#090,#090,#090,#090,#090,#090,#080,#080,#090,#0a0,#0a0,#0c0,#0d0,#0e0,#100,#110,#140,#150,#180,#1b0,#1e0,#210,#250,#2a0,#2f0,#350,#3a0,#3f0,#440,#460,#490,#450,#3e0,#320,#1b0,#060,#1c0,#400,#5d0,#780,#8c0,#8e0,#930,#a40,#b70,#c50,#d00,#d40,#ce0,#cc0,#d10,#d40,#cb0,#bf0,#af0,#9b0,#8f0,#8e0,#850,#6b0,#500,#300,#0c0,#0f0,#260,#390,#410,#480,#480,#450,#430,#3c0,#380,#320,#2d0,#280,#230,#200,#1c0,#1a0,#170,#150,#130,#100,#0f0,#0d0,#0d0,#0b0,#0a0,#0a0,#080,#080,#090,#090,#090,#090,#090,#090,#090,#090)"></i><i style="background:linear-gradient(#090,#090,#090,#090,#090,#090,#090,#070,#080,#090,#090,#0b0,#0c0,#0c0,#0e0,#0f0,#110,#130,#150,#180,#1a0,#1d0,#210,#250,#290,#2e0,#340,#380,#3f0,#430,#460,#490,#450,#400,#340,#1f0,#090,#180,#3b0,#580,#770,#8c0,#8f0,#960,#a40,#b40,#c30,#d30,#d70,#ce0,#ca0,#d30,#d80,#cc0,#bc0,#ad0,#9d0,#910,#8e0,#850,#690,#4b0,#2c0,#080,#140,#290,#3b0,#420,#470,#480,#440,#420,#3c0,#360,#310,#2c0,#270,#230,#1f0,#1c0,#190,#160,#140,#120,#100,#0f0,#0d0,#0c0,#0c0,#0a0,#090,#090,#070,#090,#090,#090,#090,#090,#090,#090,#090)"></i><i style="background:linear-gradient(#090,#090,#090,#090,#090,#090,#090,#070,#080,#090,#090,#0b0,#0c0,#0d0,#0e0,#0f0,#110,#130,#150,#170,#1a0,#1d0,#200,#240,#280,#2d0,#330,#370,#3e0,#420,#460,#490,#450,#420,#350,#220,#0d0,#140,#360,#540,#760,#8b0,#900,#990,#a40,#b00,#c20,#d60,#da0,#cd0,#c80,#d40,#db0,#ce0,#b90,#aa0,#9f0,#940,#8e0,#840,#670,#460,#270,#040,#180,#2b0,#3d0,#430,#470,#480,#440,#410,#3b0,#350,#310,#2b0,#270,#220,#1f0,#1b0,#180,#160,#140,#120,#100,#0f0,#0e0,#0c0,#0b0,#0a0,#090,#090,#070,#090,#090,#090,#090,#090,#090,#090,#090)"></i><i style="background:linear-gradient(#090,#090,#090,#090,#090,#090,#090,#070,#080,#090,#090,#0b0,#0b0,#0d0,#0e0,#0f0,#110,#120,#150,#170,#190,#1c0,#200,#240,#270,#2d0,#320,#370,#3d0,#410,#460,#480,#450,#430,#370,#260,#110,#100,#300,#500,#740,#890,#920,#9c0,#a40,#ad0,#c10,#d80,#dc0,#ce0,#c80,#d50,#de0,#cf0,#b60,#a80,#a10,#970,#8e0,#820,#650,#400,#220,#020,#1c0,#2d0,#3e0,#450,#460,#480,#430,#3f0,#3b0,#340,#300,#2a0,#260,#220,#1e0,#1b0,#180,#160,#130,#120,#100,#0e0,#0e0,#0c0,#0b0,#0a0,#090,#090,#080,#090,#090,#090,#090,#090,#090,#090,#090)"></i><i style="background:linear-gradient(#090,#090,#090,#090,#090,#090,#090,#070,#080,#080,#0a0,#0b0,#0b0,#0d0,#0e0,#0f0,#110,#120,#140,#160,#190,#1c0,#1f0,#230,#270,#2c0,#300,#360,#3c0,#400,#460,#470,#460,#440,#380,#2a0,#150,#0c0,#2a0,#4c0,#720,#870,#930,#9f0,#a40,#ab0,#c00,#da0,#de0,#cf0,#c90,#d60,#e00,#d00,#b40,#a60,#a30,#9a0,#8d0,#7f0,#620,#3b0,#1d0,#050,#200,#300,#3f0,#460,#460,#470,#430,#3e0,#3a0,#330,#2f0,#2a0,#250,#210,#1d0,#1b0,#180,#150,#130,#110,#100,#0e0,#0d0,#0c0,#0b0,#0a0,#090,#080,#080,#090,#090,#090,#090,#090,#090,#090,#090)"></i><i style="background:linear-gradient(#090,#090,#090,#090,#090,#090,#090,#070,#080,#080,#0a0,#0a0,#0b0,#0d0,#0d0,#0f0,#100,#120,#140,#160,#190,#1b0,#1f0,#220,#260,#2b0,#2f0,#360,#3b0,#3f0,#450,#460,#470,#450,#390,#2d0,#180,#070,#240,#490,#6e0,#840,#950,#a20,#a40,#a90,#c00,#db0,#df0,#d00,#cb0,#d70,#e00,#d00,#b30,#a50,#a40,#9d0,#8d0,#7c0,#5f0,#370,#170,#080,#240,#330,#3f0,#470,#460,#460,#430,#3c0,#390,#320,#2d0,#290,#240,#210,#1d0,#1a0,#170,#150,#130,#110,#100,#0e0,#0d0,#0c0,#0a0,#0a0,#090,#080,#080,#090,#090,#090,#090,#090,#090,#090,#090)"></i><i style="background:linear-gradient(#090,#090,#090,#090,#090,#090,#090,#080,#080,#080,#0a0,#0a0,#0b0,#0c0,#0d0,#0f0,#100,#120,#140,#160,#180,#1b0,#1e0,#210,#260,#2a0,#2e0,#350,#390,#3e0,#440,#450,#480,#450,#3b0,#310,#1b0,#030,#1e0,#450,#6a0,#810,#960,#a50,#a40,#a80,#c00,#da0,#df0,#d20,#ce0,#d80,#e00,#d00,#b30,#a40,#a50,#a00,#8c0,#780,#5b0,#320,#110,#0b0,#270,#360,#3f0,#480,#460,#450,#420,#3b0,#380,#320,#2c0,#290,#230,#200,#1d0,#190,#170,#150,#130,#110,#0f0,#0e0,#0d0,#0c0,#0b0,#0a0,#090,#080,#080,#090,#090,#090,#090,#090,#090,#090,#090)"></i><i style="background:linear-gradient(#090,#090,#090,#090,#090,#090,#090,#070,#070,#090,#090,#0a0,#0b0,#0c0,#0d0,#0f0,#100,#120,#130,#160,#180,#1a0,#1e0,#200,#250,#290,#2e0,#340,#380,#3e0,#430,#440,#480,#450,#3c0,#340,#1e0,#030,#190,#420,#660,#7e0,#980,#a60,#a50,#a90,#c00,#d90,#de0,#d50,#d20,#d90,#df0,#cf0,#b40,#a50,#a60,#a20,#8c0,#730,#570,#2e0,#0b0,#0e0,#290,#390,#400,#480,#460,#440,#420,#3b0,#360,#310,#2b0,#280,#230,#1f0,#1c0,#190,#170,#140,#120,#110,#0f0,#0e0,#0d0,#0c0,#0b0,#090,#090,#080,#070,#090,#090,#090,#090,#090,#090,#090,#090)"></i><i style="background:linear-gradient(#090,#090,#090,#090,#090,#090,#090,#070,#070,#090,#090,#0a0,#0b0,#0c0,#0d0,#0e0,#100,#110,#130,#150,#170,#1a0,#1d0,#200,#250,#280,#2d0,#330,#360,#3e0,#420,#440,#480,#440,#3e0,#360,#200,#080,#150,#3e0,#600,#7b0,#980,#a70,#a50,#ab0,#c10,#d70,#dd0,#d80,#d60,#da0,#dd0,#cf0,#b50,#a60,#a70,#a30,#8b0,#6f0,#520,#2a0,#060,#120,#2c0,#3b0,#400,#470,#470,#420,#410,#3a0,#350,#310,#2a0,#270,#230,#1e0,#1c0,#190,#160,#140,#120,#110,#0f0,#0e0,#0d0,#0b0,#0b0,#090,#090,#080,#070,#090,#090,#090,#090,#090,#090,#090,#090)"></i><i style="background:linear-gradient(#090,#090,#090,#090,#090,#090,#090,#070,#080,#090,#090,#0a0,#0b0,#0c0,#0d0,#0e0,#100,#110,#130,#150,#170,#1a0,#1c0,#1f0,#240,#270,#2d0,#320,#350,#3d0,#400,#440,#480,#440,#400,#380,#220,#0d0,#110,#390,#5a0,#780,#990,#a70,#a60,#ad0,#c10,#d50,#dc0,#db0,#db0,#dc0,#da0,#cd0,#b70,#a80,#a70,#a40,#8b0,#6a0,#4d0,#270,#040,#160,#2d0,#3d0,#410,#470,#470,#410,#400,#3a0,#330,#300,#2a0,#250,#220,#1e0,#1b0,#180,#160,#140,#120,#100,#0f0,#0e0,#0d0,#0b0,#0b0,#090,#090,#080,#070,#090,#090,#090,#090,#090,#090,#090,#090)"></i><i style="background:linear-gradient(#090,#090,#090,#090,#090,#090,#090,#070,#080,#080,#090,#0a0,#0b0,#0c0,#0d0,#0e0,#0f0,#110,#130,#140,#160,#1a0,#1b0,#1f0,#230,#260,#2c0,#300,#350,#3c0,#3f0,#440,#480,#440,#420,#390,#250,#120,#0f0,#350,#540,#750,#980,#a60,#a80,#b10,#c20,#d20,#da0,#df0,#e10,#dd0,#d70,#cb0,#b90,#ab0,#a70,#a30,#890,#650,#470,#230,#070,#1a0,#2f0,#3f0,#420,#460,#470,#410,#3e0,#390,#320,#2f0,#290,#240,#220,#1d0,#1b0,#180,#150,#140,#120,#100,#0f0,#0d0,#0c0,#0b0,#0a0,#0a0,#080,#080,#070,#090,#090,#090,#090,#090,#090,#090,#090)"></i><i style="background:linear-gradient(#090,#090,#090,#090,#090,#090,#090,#070,#080,#080,#090,#0a0,#0a0,#0c0,#0d0,#0e0,#0f0,#100,#130,#140,#160,#190,#1b0,#1f0,#220,#250,#2c0,#2f0,#340,#3b0,#3d0,#440,#470,#430,#440,#3a0,#270,#170,#0d0,#300,#4e0,#720,#970,#a50,#a90,#b50,#c20,#ce0,#d80,#e20,#e60,#de0,#d40,#c90,#bc0,#af0,#a70,#a10,#880,#610,#410,#1f0,#0c0,#1f0,#300,#400,#430,#450,#470,#400,#3c0,#390,#310,#2d0,#290,#230,#210,#1d0,#1a0,#180,#150,#130,#120,#100,#0f0,#0d0,#0c0,#0b0,#0a0,#0a0,#080,#080,#070,#090,#090,#090,#090,#090,#090,#090,#090)"></i><i style="background:linear-gradient(#090,#090,#090,#090,#090,#090,#090,#070,#080,#080,#090,#0a0,#0a0,#0c0,#0c0,#0e0,#0f0,#100,#120,#130,#160,#180,#1a0,#1f0,#210,#250,#2b0,#2d0,#340,#3a0,#3c0,#440,#450,#430,#450,#3b0,#2a0,#1b0,#0d0,#2a0,#480,#700,#940,#a30,#ab0,#b90,#c30,#cb0,#d60,#e60,#eb0,#df0,#d10,#c70,#bf0,#b30,#a70,#9f0,#860,#5c0,#3a0,#1b0,#100,#230,#310,#410,#450,#440,#460,#400,#3a0,#380,#300,#2c0,#280,#220,#200,#1d0,#190,#180,#150,#130,#110,#0f0,#0e0,#0d0,#0c0,#0b0,#0a0,#090,#080,#080,#070,#090,#090,#090,#090,#090,#090,#090,#090)"></i><i style="background:linear-gradient(#090,#090,#090,#090,#090,#090,#090,#070,#070,#080,#090,#090,#0a0,#0b0,#0c0,#0e0,#0e0,#100,#120,#130,#160,#170,#1a0,#1e0,#200,#250,#290,#2c0,#340,#380,#3b0,#430,#440,#440,#460,#3b0,#2d0,#1f0,#0c0,#240,#430,#6d0,#910,#a10,#ae0,#bd0,#c30,#c80,#d50,#e90,#ef0,#e00,#ce0,#c50,#c10,#b70,#a70,#9c0,#830,#580,#340,#170,#130,#270,#330,#410,#460,#430,#450,#400,#390,#370,#300,#2a0,#280,#220,#1f0,#1c0,#180,#170,#150,#120,#110,#0f0,#0e0,#0d0,#0c0,#0b0,#0a0,#090,#090,#080,#070,#090,#090,#090,#090,#090,#090,#090,#090)"></i><i style="background:linear-gradient(#090,#090,#090,#090,#090,#090,#090,#070,#070,#080,#090,#090,#0a0,#0b0,#0c0,#0d0,#0e0,#100,#110,#130,#160,#170,#1a0,#1d0,#1f0,#240,#280,#2b0,#330,#360,#3b0,#420,#420,#440,#460,#3b0,#300,#230,#0d0,#1e0,#3d0,#690,#8e0,#9e0,#b00,#c10,#c40,#c50,#d40,#eb0,#f30,#e10,#cb0,#c30,#c40,#bb0,#a70,#980,#800,#550,#2e0,#130,#160,#2b0,#350,#410,#470,#420,#430,#3f0,#370,#350,#2f0,#290,#270,#220,#1e0,#1c0,#180,#160,#150,#120,#110,#0f0,#0e0,#0d0,#0c0,#0b0,#0a0,#090,#080,#080,#070,#090,#090,#090,#090,#090,#090,#090,#090)"></i><i style="background:linear-gradient(#090,#090,#090,#090,#090,#090,#090,#070,#070,#080,#090,#090,#0a0,#0b0,#0c0,#0d0,#0e0,#100,#110,#130,#150,#160,#1a0,#1c0,#1e0,#240,#260,#2b0,#320,#340,#3a0,#410,#410,#450,#460,#3b0,#340,#260,#0d0,#180,#390,#660,#890,#9c0,#b30,#c50,#c40,#c30,#d30,#ee0,#f60,#e20,#c90,#c20,#c60,#bf0,#a70,#940,#7c0,#510,#280,#0e0,#180,#2e0,#360,#410,#470,#420,#410,#3f0,#360,#330,#2f0,#280,#260,#210,#1d0,#1c0,#180,#150,#140,#120,#100,#0f0,#0d0,#0d0,#0c0,#0a0,#0a0,#090,#080,#080,#070,#090,#090,#090,#090,#090,#090,#090,#090)"></i><i style="background:linear-gradient(#090,#090,#090,#090,#090,#090,#090,#070,#070,#080,#080,#090,#0a0,#0b0,#0c0,#0d0,#0e0,#100,#100,#130,#140,#160,#1a0,#1b0,#1e0,#230,#250,#2a0,#310,#320,#3a0,#3f0,#3f0,#450,#450,#3c0,#360,#280,#0f0,#130,#340,#620,#840,#990,#b50,#c90,#c50,#c20,#d40,#f00,#f80,#e40,#c90,#c10,#c90,#c30,#a70,#900,#770,#4d0,#230,#0b0,#1a0,#310,#390,#400,#470,#420,#3f0,#3e0,#360,#310,#2f0,#270,#240,#210,#1c0,#1b0,#180,#150,#140,#120,#100,#0f0,#0d0,#0c0,#0c0,#0a0,#0a0,#090,#080,#080,#070,#090,#090,#090,#090,#090,#090,#090,#090)"></i><i style="background:linear-gradient(#090,#090,#090,#090,#090,#090,#090,#060,#070,#080,#080,#090,#0a0,#0b0,#0c0,#0c0,#0e0,#0f0,#100,#130,#130,#160,#190,#1a0,#1e0,#220,#240,#2a0,#2f0,#310,#3a0,#3e0,#3e0,#450,#440,#3c0,#390,#2a0,#110,#0f0,#310,#5e0,#7e0,#970,#b70,#cc0,#c60,#c20,#d50,#f20,#fb0,#e50,#ca0,#c20,#cb0,#c60,#a80,#8b0,#710,#4a0,#1f0,#090,#1c0,#330,#3b0,#3f0,#460,#420,#3d0,#3d0,#350,#2f0,#2e0,#260,#230,#210,#1b0,#1a0,#180,#140,#130,#120,#0f0,#0f0,#0d0,#0c0,#0b0,#0a0,#090,#090,#080,#080,#070,#090,#090,#090,#090,#090,#090,#090,#090)"></i><i style="background:linear-gradient(#090,#090,#090,#090,#090,#090,#090,#060,#070,#080,#080,#090,#0a0,#0b0,#0b0,#0c0,#0e0,#0e0,#100,#120,#130,#160,#180,#190,#1e0,#210,#230,#2a0,#2d0,#300,#390,#3b0,#3e0,#450,#430,#3d0,#3b0,#2c0,#130,#0c0,#2e0,#590,#780,#940,#b90,#cf0,#c80,#c40,#d70,#f30,#fc0,#e70,#cb0,#c30,#cd0,#c90,#a80,#870,#6c0,#460,#1b0,#0a0,#1e0,#350,#3d0,#3f0,#450,#420,#3c0,#3b0,#350,#2e0,#2c0,#260,#210,#200,#1b0,#180,#180,#140,#120,#120,#0f0,#0e0,#0d0,#0c0,#0b0,#0a0,#090,#090,#080,#070,#070,#090,#090,#090,#090,#090,#090,#090,#090)"></i><i style="background:linear-gradient(#090,#090,#090,#090,#090,#090,#090,#060,#070,#070,#080,#090,#0a0,#0b0,#0b0,#0c0,#0e0,#0e0,#100,#120,#120,#160,#170,#180,#1e0,#1f0,#220,#290,#2b0,#2f0,#380,#390,#3d0,#450,#410,#3e0,#3d0,#2d0,#160,#0d0,#2b0,#530,#720,#910,#ba0,#d10,#c90,#c60,#d90,#f40,#fc0,#e90,#ce0,#c50,#cf0,#cb0,#a80,#820,#650,#420,#190,#0e0,#200,#360,#3f0,#3e0,#440,#420,#3a0,#390,#350,#2c0,#2b0,#260,#200,#1f0,#1b0,#170,#170,#140,#120,#110,#0f0,#0e0,#0d0,#0b0,#0b0,#0a0,#090,#090,#080,#070,#070,#090,#090,#090,#090,#090,#090,#090,#090)"></i><i style="background:linear-gradient(#090,#090,#090,#090,#090,#090,#090,#060,#070,#070,#080,#080,#0a0,#0a0,#0b0,#0c0,#0d0,#0e0,#100,#110,#120,#150,#160,#180,#1d0,#1e0,#220,#280,#290,#2f0,#370,#370,#3d0,#440,#400,#3f0,#3e0,#2d0,#1a0,#0f0,#280,#4e0,#6c0,#8f0,#bb0,#d30,#cb0,#c90,#dc0,#f50,#fc0,#ea0,#d10,#c80,#d00,#cd0,#a70,#7d0,#5f0,#3d0,#180,#120,#220,#370,#400,#3e0,#420,#420,#390,#370,#340,#2b0,#290,#260,#1f0,#1e0,#1b0,#170,#160,#140,#110,#110,#0f0,#0d0,#0d0,#0b0,#0a0,#0a0,#090,#080,#080,#070,#070,#090,#090,#090,#090,#090,#090,#090,#090)"></i><i style="background:linear-gradient(#090,#090,#090,#090,#090,#090,#090,#060,#070,#070,#080,#080,#0a0,#0a0,#0b0,#0c0,#0d0,#0e0,#100,#100,#120,#150,#150,#180,#1c0,#1d0,#220,#270,#280,#2f0,#350,#350,#3d0,#420,#3e0,#400,#3f0,#2e0,#1e0,#130,#250,#480,#660,#8c0,#bb0,#d40,#ce0,#ce0,#df0,#f50,#fb0,#eb0,#d50,#cc0,#d10,#cd0,#a60,#790,#580,#390,#180,#170,#240,#370,#410,#3f0,#400,#420,#390,#350,#330,#2b0,#270,#250,#1f0,#1c0,#1b0,#160,#150,#140,#100,#100,#0f0,#0d0,#0d0,#0c0,#0a0,#0a0,#090,#080,#080,#070,#060,#090,#090,#090,#090,#090,#090,#090,#090)"></i><i style="background:linear-gradient(#090,#090,#090,#090,#090,#090,#090,#060,#070,#070,#080,#080,#090,#090,#0b0,#0c0,#0c0,#0e0,#100,#0f0,#120,#140,#140,#180,#1b0,#1c0,#220,#250,#260,#2e0,#330,#340,#3d0,#410,#3d0,#410,#3f0,#2f0,#210,#160,#230,#420,#600,#890,#ba0,#d40,#d00,#d30,#e20,#f40,#fa0,#ed0,#da0,#d00,#d30,#cd0,#a40,#750,#510,#340,#180,#1b0,#260,#370,#420,#3f0,#3e0,#400,#380,#330,#320,#2a0,#250,#250,#1e0,#1b0,#1b0,#160,#140,#140,#100,#0f0,#0f0,#0d0,#0c0,#0c0,#0a0,#0a0,#090,#080,#080,#070,#060,#090,#090,#090,#090,#090,#090,#090,#090)"></i><i style="background:linear-gradient(#090,#090,#090,#090,#090,#090,#090,#060,#070,#070,#070,#080,#090,#090,#0b0,#0c0,#0c0,#0e0,#0f0,#0f0,#120,#130,#140,#180,#1a0,#1b0,#210,#240,#250,#2e0,#310,#330,#3c0,#3f0,#3d0,#420,#3e0,#2f0,#250,#1a0,#200,#3b0,#5a0,#870,#b80,#d40,#d30,#d90,#e60,#f40,#f80,#ee0,#df0,#d50,#d40,#cc0,#a20,#710,#4b0,#2f0,#180,#1f0,#290,#360,#420,#3f0,#3d0,#3f0,#380,#310,#310,#2a0,#240,#230,#1e0,#1a0,#1a0,#160,#130,#130,#100,#0f0,#0f0,#0d0,#0b0,#0c0,#0a0,#090,#090,#080,#070,#070,#060,#090,#090,#090,#090,#090,#090,#090,#090)"></i><i style="background:linear-gradient(#090,#090,#090,#090,#090,#090,#090,#060,#070,#070,#070,#080,#090,#090,#0b0,#0b0,#0b0,#0e0,#0e0,#0f0,#120,#120,#130,#180,#190,#1b0,#210,#220,#250,#2d0,#2f0,#320,#3c0,#3c0,#3c0,#430,#3e0,#300,#290,#1d0,#1d0,#350,#550,#840,#b60,#d30,#d70,#df0,#ea0,#f30,#f50,#ef0,#e50,#db0,#d50,#ca0,#a00,#6d0,#440,#290,#180,#230,#2c0,#360,#420,#400,#3b0,#3d0,#380,#2f0,#2f0,#2a0,#220,#220,#1e0,#190,#190,#160,#120,#130,#110,#0e0,#0e0,#0d0,#0b0,#0b0,#0a0,#090,#090,#080,#070,#070,#060,#090,#090,#090,#090,#090,#090,#090,#090)"></i><i style="background:linear-gradient(#090,#090,#090,#090,#090,#090,#090,#060,#070,#070,#070,#080,#080,#090,#0b0,#0a0,#0c0,#0e0,#0d0,#0f0,#120,#110,#140,#180,#170,#1b0,#200,#200,#250,#2c0,#2c0,#320,#3b0,#3a0,#3c0,#430,#3d0,#310,#2c0,#1f0,#1a0,#2f0,#500,#800,#b30,#d20,#da0,#e60,#ee0,#f10,#f20,#f00,#eb0,#e00,#d60,#c80,#9c0,#6a0,#3f0,#240,#180,#260,#2f0,#360,#410,#400,#3a0,#3b0,#370,#2e0,#2d0,#290,#210,#200,#1e0,#180,#180,#160,#120,#120,#110,#0e0,#0e0,#0d0,#0b0,#0b0,#0a0,#080,#080,#080,#070,#070,#060,#090,#090,#090,#090,#090,#090,#090,#090)"></i><i style="background:linear-gradient(#090,#090,#090,#090,#090,#090,#090,#060,#060,#060,#070,#080,#080,#090,#0a0,#0a0,#0c0,#0d0,#0d0,#0f0,#110,#100,#140,#170,#160,#1b0,#1f0,#1e0,#250,#2b0,#2a0,#310,#390,#380,#3c0,#420,#3b0,#330,#2f0,#210,#180,#290,#4c0,#7d0,#af0,#d10,#de0,#ec0,#f20,#f00,#f00,#f10,#f10,#e60,#d80,#c50,#980,#660,#390,#1f0,#180,#290,#310,#360,#400,#410,#390,#390,#370,#2d0,#2b0,#290,#210,#1f0,#1e0,#180,#160,#160,#120,#110,#110,#0d0,#0d0,#0d0,#0b0,#0a0,#0a0,#080,#080,#080,#070,#060,#060,#090,#090,#090,#090,#090,#090,#090,#090)"></i><i style="background:linear-gradient(#090,#090,#090,#090,#090,#090,#090,#060,#060,#060,#080,#080,#080,#090,#0a0,#0a0,#0c0,#0d0,#0c0,#0f0,#100,#100,#140,#160,#150,#1b0,#1d0,#1d0,#240,#290,#290,#310,#370,#360,#3c0,#420,#3a0,#340,#310,#220,#150,#240,#480,#790,#ab0,#cf0,#e20,#f30,#f50,#ef0,#ed0,#f20,#f60,#ed0,#d90,#c10,#940,#630,#350,#1a0,#190,#2b0,#340,#360,#3f0,#410,#380,#370,#360,#2c0,#280,#280,#210,#1d0,#1d0,#180,#150,#160,#120,#100,#100,#0e0,#0c0,#0d0,#0b0,#090,#0a0,#090,#080,#080,#070,#060,#060,#090,#090,#090,#090,#090,#090,#090,#090)"></i><i style="background:linear-gradient(#090,#090,#090,#090,#090,#090,#090,#060,#060,#060,#080,#070,#080,#090,#090,#0a0,#0c0,#0c0,#0c0,#0f0,#0f0,#100,#140,#140,#150,#1b0,#1c0,#1d0,#240,#270,#280,#310,#350,#340,#3c0,#410,#390,#360,#340,#230,#140,#200,#450,#750,#a60,#cd0,#e60,#f90,#f90,#ee0,#eb0,#f30,#fc0,#f20,#db0,#bd0,#8f0,#5f0,#310,#170,#190,#2c0,#360,#360,#3d0,#400,#380,#340,#350,#2c0,#260,#270,#200,#1b0,#1c0,#180,#140,#150,#120,#0f0,#100,#0e0,#0b0,#0c0,#0b0,#090,#0a0,#090,#070,#070,#070,#060,#060,#090,#090,#090,#090,#090,#090,#090,#090)"></i><i style="background:linear-gradient(#090,#090,#090,#090,#090,#090,#090,#060,#060,#070,#070,#070,#080,#090,#090,#0a0,#0c0,#0b0,#0c0,#0f0,#0e0,#100,#140,#130,#150,#1a0,#1a0,#1c0,#240,#250,#270,#300,#330,#330,#3c0,#3f0,#380,#370,#350,#240,#130,#1d0,#420,#700,#a00,#cc0,#ea0,#ff0,#fd0,#ee0,#e90,#f50,#ff0,#f80,#dc0,#b90,#8a0,#5b0,#2e0,#140,#190,#2d0,#380,#360,#3b0,#400,#370,#320,#330,#2c0,#250,#250,#200,#1a0,#1b0,#180,#130,#140,#120,#0e0,#0f0,#0e0,#0b0,#0c0,#0b0,#090,#090,#090,#070,#070,#070,#060,#060,#090,#090,#090,#090,#090,#090,#090,#090)"></i><i style="background:linear-gradient(#090,#090,#090,#090,#090,#090,#090,#050,#060,#070,#070,#070,#080,#090,#080,#0a0,#0b0,#0a0,#0d0,#0f0,#0d0,#100,#130,#120,#150,#1a0,#190,#1c0,#230,#230,#260,#300,#310,#320,#3c0,#3d0,#370,#390,#360,#250,#140,#1b0,#3f0,#6b0,#9b0,#ca0,#ee0,#ff0,#ff0,#ee0,#e80,#f60,#ff0,#fe0,#dd0,#b50,#840,#580,#2c0,#130,#1a0,#2e0,#390,#370,#3a0,#3f0,#370,#300,#310,#2c0,#230,#240,#200,#190,#190,#180,#130,#130,#120,#0e0,#0e0,#0e0,#0b0,#0b0,#0b0,#090,#080,#090,#070,#070,#070,#060,#050,#090,#090,#090,#090,#090,#090,#090,#090)"></i><i style="background:linear-gradient(#090,#090,#090,#090,#090,#090,#090,#050,#060,#070,#060,#070,#080,#080,#080,#0a0,#0b0,#0a0,#0d0,#0e0,#0d0,#100,#120,#110,#150,#190,#170,#1c0,#220,#210,#260,#2f0,#2f0,#320,#3c0,#3c0,#370,#3a0,#370,#250,#150,#1b0,#3d0,#660,#950,#c80,#f10,#ff0,#ff0,#ee0,#e80,#f80,#ff0,#ff0,#df0,#b10,#7e0,#540,#2b0,#140,#1b0,#2f0,#3b0,#380,#380,#3d0,#370,#2f0,#2f0,#2c0,#220,#220,#200,#190,#180,#180,#130,#110,#120,#0e0,#0d0,#0e0,#0b0,#0a0,#0b0,#090,#080,#090,#080,#060,#070,#060,#050,#090,#090,#090,#090,#090,#090,#090,#090)"></i><i style="background:linear-gradient(#090,#090,#090,#090,#090,#090,#090,#050,#060,#070,#060,#070,#080,#080,#080,#0a0,#0a0,#0a0,#0d0,#0d0,#0d0,#110,#110,#100,#150,#180,#160,#1c0,#210,#1f0,#260,#2d0,#2c0,#310,#3b0,#3a0,#360,#3c0,#370,#260,#180,#1b0,#3a0,#610,#8f0,#c60,#f50,#ff0,#ff0,#ef0,#e80,#fa0,#ff0,#ff0,#e00,#ad0,#780,#500,#2a0,#160,#1d0,#2f0,#3c0,#390,#370,#3c0,#370,#2d0,#2d0,#2b0,#220,#200,#200,#190,#160,#170,#130,#100,#120,#0f0,#0c0,#0e0,#0c0,#0a0,#0b0,#0a0,#080,#080,#080,#060,#060,#060,#050,#090,#090,#090,#090,#090,#090,#090,#090)"></i><i style="background:linear-gradient(#090,#090,#090,#090,#090,#090,#090,#050,#060,#060,#060,#070,#080,#070,#090,#0a0,#090,#0a0,#0d0,#0c0,#0d0,#110,#100,#100,#160,#160,#160,#1c0,#1f0,#1e0,#260,#2c0,#2b0,#310,#3a0,#380,#370,#3d0,#380,#260,#1b0,#1d0,#380,#5c0,#890,#c50,#f70,#ff0,#ff0,#f10,#e90,#fc0,#ff0,#ff0,#e10,#a90,#720,#4c0,#290,#190,#1f0,#2f0,#3c0,#3a0,#360,#3a0,#370,#2d0,#2b0,#2a0,#220,#1e0,#1f0,#190,#150,#170,#130,#0f0,#110,#0f0,#0c0,#0d0,#0c0,#090,#0a0,#0a0,#080,#080,#080,#060,#060,#060,#050,#090,#090,#090,#090,#090,#090,#090,#090)"></i><i style="background:linear-gradient(#090,#090,#090,#090,#090,#090,#090,#050,#060,#060,#060,#080,#080,#070,#090,#0a0,#090,#0b0,#0d0,#0b0,#0d0,#100,#0f0,#110,#150,#150,#160,#1c0,#1e0,#1d0,#260,#2a0,#290,#310,#390,#360,#370,#3e0,#370,#270,#1e0,#1f0,#360,#560,#830,#c30,#fa0,#ff0,#ff0,#f40,#ec0,#fe0,#ff0,#ff0,#e20,#a50,#6b0,#480,#290,#1d0,#210,#2f0,#3c0,#3b0,#350,#380,#370,#2c0,#290,#2a0,#220,#1d0,#1e0,#190,#140,#160,#140,#0f0,#100,#0f0,#0c0,#0c0,#0c0,#090,#090,#0a0,#080,#070,#080,#070,#060,#060,#060,#090,#090,#090,#090,#090,#090,#090,#090)"></i><i style="background:linear-gradient(#090,#090,#090,#090,#090,#090,#090,#050,#060,#050,#060,#080,#070,#070,#090,#090,#090,#0b0,#0c0,#0b0,#0e0,#100,#0e0,#110,#150,#140,#160,#1c0,#1c0,#1d0,#260,#280,#280,#310,#380,#340,#370,#3e0,#370,#280,#220,#210,#340,#510,#7d0,#c20,#fc0,#ff0,#ff0,#f70,#ef0,#ff0,#ff0,#ff0,#e30,#a10,#650,#430,#280,#200,#240,#2e0,#3c0,#3c0,#340,#360,#360,#2c0,#270,#290,#220,#1b0,#1d0,#1a0,#130,#150,#140,#0f0,#0f0,#100,#0c0,#0b0,#0c0,#0a0,#080,#0a0,#080,#070,#070,#070,#050,#060,#060,#090,#090,#090,#090,#090,#090,#090,#090)"></i><i style="background:linear-gradient(#090,#090,#090,#090,#090,#090,#090,#050,#060,#050,#060,#070,#070,#070,#090,#090,#090,#0c0,#0b0,#0a0,#0e0,#0f0,#0d0,#110,#140,#120,#160,#1c0,#1a0,#1d0,#260,#270,#270,#310,#360,#330,#380,#3e0,#360,#290,#250,#230,#310,#4b0,#770,#bf0,#fc0,#ff0,#ff0,#f90,#f30,#ff0,#ff0,#ff0,#e30,#9d0,#5f0,#3f0,#280,#240,#260,#2e0,#3c0,#3d0,#340,#340,#360,#2c0,#260,#270,#220,#1a0,#1c0,#1a0,#130,#130,#140,#0f0,#0e0,#0f0,#0c0,#0a0,#0c0,#0a0,#080,#090,#090,#070,#070,#070,#060,#050,#060,#090,#090,#090,#090,#090,#090,#090,#090)"></i><i style="background:linear-gradient(#090,#090,#090,#090,#090,#090,#090,#060,#050,#050,#070,#070,#060,#080,#090,#080,#090,#0c0,#0b0,#0b0,#0e0,#0e0,#0d0,#120,#140,#120,#170,#1b0,#190,#1d0,#250,#250,#270,#310,#340,#310,#390,#3e0,#360,#2b0,#290,#250,#2f0,#450,#710,#bd0,#fa0,#ff0,#ff0,#fc0,#f60,#ff0,#ff0,#ff0,#e10,#980,#590,#3a0,#280,#270,#290,#2f0,#3b0,#3e0,#340,#320,#350,#2c0,#240,#260,#220,#1a0,#1a0,#1a0,#130,#120,#140,#0f0,#0d0,#0f0,#0d0,#0a0,#0b0,#0b0,#080,#090,#090,#070,#060,#070,#060,#050,#060,#090,#090,#090,#090,#090,#090,#090,#090)"></i><i style="background:linear-gradient(#090,#090,#090,#090,#090,#090,#090,#060,#050,#050,#070,#070,#060,#080,#090,#070,#0a0,#0b0,#0a0,#0b0,#0e0,#0d0,#0d0,#120,#130,#110,#170,#1a0,#180,#1e0,#240,#230,#270,#310,#330,#310,#3a0,#3e0,#350,#2d0,#2c0,#270,#2c0,#400,#6c0,#b90,#f80,#ff0,#ff0,#fe0,#f90,#ff0,#ff0,#ff0,#de0,#940,#530,#360,#280,#2a0,#2c0,#2f0,#3a0,#3e0,#350,#310,#330,#2d0,#230,#240,#220,#1a0,#190,#1a0,#140,#110,#130,#100,#0c0,#0e0,#0d0,#0a0,#0b0,#0b0,#080,#080,#090,#070,#060,#070,#060,#050,#050,#090,#090,#090,#090,#090,#090,#090,#090)"></i><i style="background:linear-gradient(#090,#090,#090,#090,#090,#090,#090,#050,#050,#060,#070,#060,#060,#090,#080,#070,#0a0,#0b0,#090,#0c0,#0e0,#0c0,#0e0,#120,#110,#110,#170,#190,#170,#1e0,#230,#210,#270,#310,#310,#300,#3b0,#3e0,#340,#2f0,#2f0,#290,#2a0,#3b0,#670,#b60,#f50,#ff0,#ff0,#ff0,#fe0,#ff0,#ff0,#ff0,#db0,#910,#4e0,#320,#270,#2c0,#2f0,#300,#390,#3e0,#350,#2f0,#320,#2d0,#230,#230,#220,#1a0,#170,#190,#140,#100,#130,#110,#0c0,#0e0,#0e0,#0a0,#0a0,#0b0,#090,#070,#090,#080,#060,#070,#070,#050,#050,#090,#090,#090,#090,#090,#090,#090,#090)"></i><i style="background:linear-gradient(#090,#090,#090,#090,#090,#090,#090,#050,#050,#060,#070,#060,#070,#090,#080,#080,#0a0,#0a0,#090,#0c0,#0e0,#0c0,#0e0,#120,#100,#110,#180,#180,#170,#1f0,#220,#200,#270,#300,#2f0,#300,#3b0,#3d0,#340,#310,#320,#2a0,#280,#360,#630,#b30,#f10,#ff0,#ff0,#ff0,#ff0,#ff0,#ff0,#ff0,#d80,#8d0,#490,#2e0,#270,#2f0,#320,#310,#390,#3e0,#360,#2e0,#310,#2d0,#220,#210,#220,#1a0,#160,#190,#150,#100,#120,#110,#0c0,#0d0,#0e0,#0a0,#090,#0b0,#090,#070,#080,#080,#060,#060,#070,#050,#050,#090,#090,#090,#090,#090,#090,#090,#090)"></i><i style="background:linear-gradient(#090,#090,#090,#090,#090,#090,#090,#050,#050,#060,#060,#050,#070,#080,#070,#080,#0b0,#0a0,#090,#0d0,#0d0,#0b0,#0f0,#120,#0f0,#120,#180,#160,#170,#1f0,#210,#1f0,#280,#300,#2d0,#310,#3c0,#3c0,#340,#340,#350,#2c0,#260,#320,#600,#b00,#ed0,#ff0,#ff0,#ff0,#ff0,#ff0,#ff0,#ff0,#d40,#8a0,#450,#2a0,#270,#310,#350,#320,#380,#3e0,#370,#2d0,#2f0,#2d0,#230,#1f0,#210,#1b0,#150,#180,#160,#0f0,#110,#110,#0d0,#0c0,#0e0,#0b0,#090,#0a0,#0a0,#070,#080,#080,#060,#060,#070,#060,#040,#090,#090,#090,#090,#090,#090,#090,#090)"></i><i style="background:linear-gradient(#090,#090,#090,#090,#090,#090,#090,#040,#050,#070,#060,#060,#080,#080,#070,#090,#0b0,#090,#090,#0d0,#0c0,#0b0,#100,#110,#0e0,#130,#170,#150,#170,#1f0,#200,#1e0,#280,#2f0,#2c0,#310,#3c0,#3c0,#340,#360,#370,#2d0,#240,#2e0,#5d0,#ac0,#e80,#ff0,#ff0,#ff0,#ff0,#ff0,#ff0,#fd0,#cf0,#870,#420,#270,#260,#330,#380,#340,#370,#3e0,#380,#2d0,#2d0,#2d0,#230,#1e0,#210,#1c0,#140,#170,#160,#100,#100,#110,#0d0,#0b0,#0d0,#0c0,#080,#0a0,#0a0,#070,#070,#080,#070,#050,#060,#060,#040,#090,#090,#090,#090,#090,#090,#090,#090)"></i><i style="background:linear-gradient(#090,#090,#090,#090,#090,#090,#090,#040,#060,#060,#050,#060,#080,#070,#060,#090,#0a0,#080,#0a0,#0d0,#0b0,#0b0,#100,#100,#0e0,#130,#170,#140,#170,#1f0,#1e0,#1e0,#290,#2e0,#2b0,#320,#3d0,#3b0,#340,#390,#3a0,#2d0,#230,#2c0,#5a0,#a70,#e20,#ff0,#ff0,#ff0,#ff0,#ff0,#ff0,#f70,#ca0,#840,#3f0,#240,#260,#340,#3b0,#360,#360,#3d0,#390,#2d0,#2c0,#2d0,#240,#1d0,#200,#1c0,#140,#150,#160,#100,#0e0,#110,#0e0,#0a0,#0d0,#0c0,#080,#090,#0a0,#080,#060,#080,#070,#050,#060,#060,#050,#090,#090,#090,#090,#090,#090,#090,#090)"></i><i style="background:linear-gradient(#090,#090,#090,#090,#090,#090,#090,#040,#060,#060,#050,#060,#080,#070,#070,#0a0,#0a0,#080,#0b0,#0d0,#0b0,#0c0,#100,#0f0,#0e0,#140,#160,#130,#180,#1f0,#1d0,#1e0,#290,#2c0,#2a0,#330,#3d0,#3a0,#350,#3b0,#3c0,#2e0,#220,#2a0,#580,#a30,#db0,#fc0,#ff0,#ff0,#ff0,#ff0,#ff0,#f00,#c30,#800,#3e0,#230,#260,#350,#3d0,#380,#360,#3d0,#3a0,#2d0,#2a0,#2d0,#240,#1c0,#1f0,#1d0,#150,#140,#160,#110,#0e0,#110,#0f0,#0a0,#0c0,#0d0,#090,#080,#0a0,#080,#060,#080,#080,#050,#050,#060,#050,#090,#090,#090,#090,#090,#090,#090,#090)"></i><i style="background:linear-gradient(#090,#090,#090,#090,#090,#090,#090,#050,#060,#060,#050,#070,#080,#060,#070,#0a0,#090,#080,#0c0,#0d0,#0a0,#0d0,#110,#0e0,#0e0,#150,#150,#120,#190,#1e0,#1b0,#1f0,#2a0,#2b0,#290,#340,#3d0,#390,#360,#3e0,#3d0,#2f0,#220,#2a0,#570,#9d0,#d30,#f60,#ff0,#ff0,#ff0,#ff0,#ff0,#e90,#bc0,#7d0,#3d0,#220,#260,#370,#400,#3a0,#350,#3c0,#3a0,#2e0,#290,#2c0,#250,#1c0,#1d0,#1d0,#150,#130,#160,#120,#0d0,#100,#0f0,#0b0,#0b0,#0d0,#0a0,#080,#0a0,#090,#060,#070,#080,#060,#050,#060,#060,#090,#090,#090,#090,#090,#090,#090,#090)"></i><i style="background:linear-gradient(#090,#090,#090,#090,#090,#090,#090,#050,#060,#050,#050,#080,#080,#060,#080,#0a0,#080,#080,#0c0,#0c0,#0a0,#0e0,#100,#0d0,#0f0,#150,#140,#120,#1a0,#1e0,#1a0,#200,#2a0,#2a0,#290,#350,#3d0,#380,#370,#400,#3f0,#2f0,#220,#2a0,#560,#970,#cb0,#f00,#ff0,#ff0,#ff0,#ff0,#fe0,#e10,#b40,#7a0,#3d0,#230,#270,#380,#420,#3c0,#350,#3b0,#3b0,#2f0,#280,#2b0,#260,#1b0,#1c0,#1d0,#160,#120,#160,#130,#0d0,#0f0,#100,#0b0,#0a0,#0d0,#0b0,#070,#090,#0a0,#070,#060,#080,#060,#050,#060,#060,#090,#090,#090,#090,#090,#090,#090,#090)"></i><i style="background:linear-gradient(#090,#090,#090,#090,#090,#090,#090,#060,#060,#050,#060,#080,#070,#060,#090,#0a0,#080,#090,#0c0,#0b0,#0a0,#0e0,#100,#0d0,#100,#150,#130,#120,#1b0,#1d0,#190,#210,#2a0,#280,#290,#360,#3c0,#370,#390,#430,#400,#300,#240,#2b0,#550,#910,#c20,#ea0,#ff0,#ff0,#ff0,#ff0,#fa0,#d90,#ac0,#760,#3d0,#250,#270,#380,#440,#3f0,#360,#3a0,#3b0,#300,#270,#2a0,#270,#1c0,#1b0,#1d0,#170,#110,#150,#140,#0d0,#0e0,#100,#0c0,#090,#0c0,#0b0,#070,#090,#0a0,#070,#060,#080,#070,#050,#050,#060,#090,#090,#090,#090,#090,#090,#090,#090)"></i><i style="background:linear-gradient(#090,#090,#090,#090,#090,#090,#090,#060,#060,#040,#060,#080,#060,#060,#090,#090,#070,#0a0,#0d0,#0a0,#0a0,#0f0,#0f0,#0c0,#110,#150,#120,#130,#1b0,#1c0,#190,#220,#2a0,#270,#290,#370,#3c0,#360,#3a0,#450,#410,#310,#260,#2e0,#540,#8a0,#b80,#e30,#ff0,#ff0,#ff0,#ff0,#f70,#d10,#a20,#720,#3e0,#270,#290,#390,#450,#410,#360,#390,#3b0,#310,#260,#290,#270,#1c0,#190,#1d0,#180,#110,#140,#140,#0e0,#0d0,#100,#0d0,#090,#0c0,#0c0,#080,#080,#0a0,#080,#060,#070,#080,#050,#050,#060,#090,#090,#090,#090,#090,#090,#090,#090)"></i><i style="background:linear-gradient(#090,#090,#090,#090,#090,#090,#090,#060,#050,#050,#070,#080,#060,#070,#0a0,#090,#070,#0b0,#0c0,#090,#0b0,#100,#0e0,#0c0,#120,#150,#110,#140,#1c0,#1b0,#190,#230,#290,#250,#2a0,#380,#3b0,#350,#3c0,#470,#420,#320,#280,#300,#530,#820,#ae0,#dd0,#ff0,#ff0,#ff0,#ff0,#f30,#c80,#980,#6d0,#400,#2a0,#2b0,#3a0,#470,#430,#370,#370,#3b0,#320,#260,#280,#280,#1d0,#180,#1c0,#190,#110,#130,#150,#0f0,#0c0,#100,#0e0,#090,#0b0,#0c0,#090,#070,#0a0,#090,#060,#070,#080,#060,#040,#060,#090,#090,#090,#090,#090,#090,#090,#090)"></i><i style="background:linear-gradient(#090,#090,#090,#090,#090,#090,#090,#060,#050,#050,#070,#070,#050,#080,#0a0,#080,#070,#0b0,#0c0,#090,#0c0,#100,#0d0,#0c0,#130,#140,#100,#150,#1c0,#1a0,#190,#240,#280,#240,#2b0,#390,#3a0,#350,#3f0,#490,#430,#330,#2c0,#340,#520,#7a0,#a30,#d60,#ff0,#ff0,#ff0,#ff0,#f00,#bf0,#8e0,#690,#410,#2e0,#2d0,#3a0,#480,#460,#380,#360,#3b0,#330,#260,#260,#280,#1e0,#170,#1c0,#1a0,#110,#120,#150,#100,#0c0,#0f0,#0f0,#0a0,#0a0,#0c0,#0a0,#070,#090,#090,#060,#060,#080,#070,#040,#060,#090,#090,#090,#090,#090,#090,#090,#090)"></i><i style="background:linear-gradient(#090,#090,#090,#090,#090,#090,#090,#060,#040,#060,#080,#070,#050,#090,#0a0,#070,#080,#0c0,#0b0,#090,#0d0,#100,#0c0,#0d0,#140,#130,#100,#160,#1c0,#180,#190,#250,#270,#230,#2c0,#390,#390,#350,#410,#4b0,#430,#340,#2f0,#370,#510,#720,#980,#cf0,#ff0,#ff0,#ff0,#ff0,#ed0,#b60,#830,#640,#430,#320,#300,#3b0,#490,#480,#3a0,#350,#3b0,#340,#260,#250,#280,#200,#170,#1b0,#1a0,#120,#110,#150,#110,#0b0,#0e0,#0f0,#0a0,#090,#0c0,#0b0,#070,#090,#0a0,#070,#050,#080,#070,#050,#050,#090,#090,#090,#090,#090,#090,#090,#090)"></i><i style="background:linear-gradient(#090,#090,#090,#090,#090,#090,#090,#050,#040,#060,#080,#060,#060,#090,#090,#070,#090,#0c0,#0a0,#090,#0e0,#0f0,#0b0,#0e0,#140,#120,#0f0,#170,#1c0,#170,#1a0,#250,#260,#220,#2d0,#390,#370,#350,#430,#4c0,#440,#350,#340,#3b0,#510,#690,#8d0,#c90,#ff0,#ff0,#ff0,#ff0,#e90,#ad0,#780,#5f0,#450,#370,#330,#3b0,#4a0,#4a0,#3c0,#340,#3a0,#350,#270,#230,#270,#210,#170,#1a0,#1b0,#130,#100,#140,#120,#0b0,#0d0,#100,#0b0,#080,#0c0,#0b0,#070,#080,#0a0,#080,#050,#070,#080,#050,#040,#090,#090,#090,#090,#090,#090,#090,#090)"></i><i style="background:linear-gradient(#090,#090,#090,#090,#090,#090,#090,#050,#040,#070,#080,#050,#070,#0a0,#090,#060,#0a0,#0c0,#090,#090,#0f0,#0f0,#0b0,#0f0,#140,#110,#100,#180,#1b0,#160,#1b0,#260,#250,#220,#2f0,#390,#360,#360,#450,#4d0,#440,#370,#380,#3f0,#500,#610,#820,#c30,#ff0,#ff0,#ff0,#ff0,#e60,#a40,#6d0,#5a0,#470,#3b0,#360,#3c0,#4a0,#4c0,#3d0,#340,#390,#360,#280,#220,#270,#220,#170,#180,#1b0,#140,#0f0,#140,#130,#0c0,#0c0,#100,#0c0,#080,#0b0,#0c0,#080,#070,#0a0,#090,#050,#060,#080,#060,#040,#090,#090,#090,#090,#090,#090,#090,#090)"></i><i style="background:linear-gradient(#090,#090,#090,#090,#090,#090,#090,#040,#050,#080,#070,#050,#080,#0a0,#080,#070,#0b0,#0c0,#090,#0a0,#0f0,#0e0,#0b0,#100,#140,#100,#110,#190,#1a0,#150,#1d0,#260,#240,#220,#300,#390,#350,#370,#470,#4e0,#440,#390,#3c0,#430,#4e0,#580,#780,#bd0,#ff0,#ff0,#ff0,#ff0,#e40,#9b0,#630,#540,#480,#400,#3a0,#3c0,#4a0,#4d0,#3f0,#330,#380,#370,#290,#210,#260,#230,#170,#170,#1b0,#160,#0e0,#130,#140,#0d0,#0b0,#0f0,#0d0,#080,#0a0,#0c0,#090,#060,#090,#090,#060,#060,#080,#070,#040,#090,#090,#090,#090,#090,#090,#090,#090)"></i><i style="background:linear-gradient(#090,#090,#090,#090,#090,#090,#090,#040,#060,#080,#060,#050,#080,#0a0,#070,#070,#0c0,#0b0,#080,#0b0,#100,#0d0,#0b0,#120,#140,#0f0,#120,#1a0,#190,#150,#1e0,#260,#220,#220,#310,#390,#330,#380,#490,#4f0,#440,#3b0,#410,#460,#4d0,#500,#6e0,#b70,#ff0,#ff0,#ff0,#ff0,#e10,#930,#590,#4f0,#4a0,#440,#3e0,#3d0,#4a0,#4f0,#410,#330,#360,#370,#2a0,#200,#250,#240,#180,#160,#1b0,#170,#0e0,#120,#140,#0e0,#0b0,#0f0,#0e0,#090,#090,#0c0,#0a0,#060,#090,#0a0,#070,#050,#070,#070,#040,#090,#090,#090,#090,#090,#090,#090,#090)"></i><i style="background:linear-gradient(#090,#090,#090,#090,#090,#090,#090,#040,#070,#080,#060,#060,#090,#090,#060,#080,#0c0,#0b0,#080,#0d0,#100,#0c0,#0b0,#120,#130,#0e0,#130,#1a0,#180,#140,#1f0,#260,#210,#230,#320,#380,#320,#390,#4b0,#4f0,#430,#3e0,#460,#4a0,#4c0,#480,#640,#b20,#ff0,#ff0,#ff0,#ff0,#df0,#8c0,#4f0,#4a0,#4b0,#490,#420,#3e0,#4a0,#500,#430,#330,#350,#370,#2b0,#1f0,#240,#240,#190,#150,#1a0,#180,#0f0,#100,#140,#0f0,#0a0,#0e0,#0f0,#0a0,#080,#0c0,#0b0,#060,#080,#0a0,#080,#050,#070,#080,#050,#090,#090,#090,#090,#090,#090,#090,#090)"></i><i style="background:linear-gradient(#090,#090,#090,#090,#090,#090,#090,#040,#070,#070,#050,#060,#0a0,#090,#060,#090,#0c0,#0a0,#080,#0e0,#0f0,#0b0,#0c0,#130,#120,#0d0,#140,#1b0,#170,#150,#200,#250,#1f0,#240,#330,#370,#310,#3a0,#4c0,#4f0,#430,#410,#4a0,#4d0,#4a0,#410,#5c0,#ad0,#ff0,#ff0,#ff0,#ff0,#dc0,#850,#470,#450,#4c0,#4d0,#460,#400,#490,#500,#450,#330,#330,#370,#2d0,#1f0,#220,#250,#1b0,#140,#1a0,#190,#100,#0f0,#140,#110,#0a0,#0d0,#0f0,#0b0,#080,#0c0,#0c0,#070,#070,#0a0,#080,#050,#060,#080,#060,#090,#090,#090,#090,#090,#090,#090,#090)"></i><i style="background:linear-gradient(#090,#090,#090,#090,#090,#090,#090,#050,#080,#070,#050,#070,#0a0,#080,#060,#0a0,#0c0,#090,#090,#0e0,#0f0,#0a0,#0e0,#140,#110,#0d0,#150,#1a0,#150,#150,#210,#240,#1e0,#250,#340,#360,#300,#3c0,#4e0,#4f0,#430,#440,#4f0,#500,#490,#3a0,#540,#a90,#ff0,#ff0,#ff0,#ff0,#da0,#7f0,#3f0,#400,#4d0,#510,#4a0,#410,#480,#510,#470,#340,#320,#370,#2e0,#1f0,#210,#250,#1c0,#130,#180,#190,#110,#0e0,#130,#120,#0b0,#0c0,#100,#0c0,#070,#0b0,#0c0,#080,#060,#090,#090,#060,#050,#080,#070,#090,#090,#090,#090,#090,#090,#090,#090)"></i><i style="background:linear-gradient(#090,#090,#090,#090,#090,#090,#090,#060,#080,#060,#050,#080,#0a0,#070,#070,#0b0,#0c0,#080,#0a0,#0f0,#0e0,#090,#0f0,#140,#100,#0e0,#170,#1a0,#140,#160,#220,#230,#1d0,#260,#340,#340,#2f0,#3e0,#4f0,#4e0,#430,#470,#530,#530,#470,#350,#4e0,#a60,#ff0,#ff0,#ff0,#ff0,#d90,#7a0,#390,#3c0,#4e0,#550,#4e0,#430,#480,#510,#490,#350,#300,#360,#2f0,#1f0,#1f0,#250,#1d0,#130,#170,#1a0,#120,#0d0,#130,#130,#0b0,#0b0,#0f0,#0d0,#080,#0a0,#0c0,#090,#060,#090,#0a0,#060,#050,#070,#070,#090,#090,#090,#090,#090,#090,#090,#090)"></i><i style="background:linear-gradient(#090,#090,#090,#090,#090,#090,#090,#070,#080,#050,#050,#090,#090,#060,#080,#0c0,#0b0,#070,#0b0,#0f0,#0d0,#090,#100,#140,#0f0,#0e0,#180,#190,#130,#180,#230,#220,#1c0,#280,#350,#330,#2f0,#3f0,#500,#4d0,#430,#4a0,#570,#550,#460,#300,#490,#a30,#fe0,#ff0,#ff0,#ff0,#d70,#750,#340,#390,#4e0,#580,#520,#450,#470,#500,#4a0,#360,#2f0,#350,#300,#200,#1e0,#240,#1f0,#130,#160,#1a0,#140,#0c0,#120,#130,#0d0,#0a0,#0f0,#0e0,#080,#090,#0c0,#0a0,#060,#080,#0a0,#070,#040,#070,#080,#090,#090,#090,#090,#090,#090,#090,#090)"></i><i style="background:linear-gradient(#090,#090,#090,#090,#090,#090,#090,#070,#070,#050,#060,#0a0,#090,#050,#090,#0c0,#0a0,#070,#0c0,#0f0,#0c0,#0a0,#110,#130,#0d0,#0f0,#180,#180,#120,#190,#230,#200,#1b0,#290,#350,#310,#2e0,#410,#500,#4c0,#440,#4e0,#5b0,#570,#450,#2d0,#450,#a00,#fd0,#ff0,#ff0,#ff0,#d60,#720,#300,#360,#4f0,#5b0,#560,#470,#460,#500,#4b0,#370,#2d0,#340,#310,#210,#1c0,#230,#200,#140,#140,#1a0,#150,#0c0,#110,#140,#0e0,#090,#0e0,#0f0,#090,#080,#0c0,#0b0,#060,#070,#0a0,#080,#050,#060,#080,#090,#090,#090,#090,#090,#090,#090,#090)"></i><i style="background:linear-gradient(#090,#090,#090,#090,#090,#090,#090,#080,#070,#040,#070,#0a0,#080,#050,#0a0,#0c0,#090,#070,#0d0,#0f0,#0a0,#0b0,#120,#130,#0c0,#110,#190,#170,#110,#1a0,#230,#1f0,#1b0,#2a0,#340,#2f0,#2f0,#430,#500,#4b0,#440,#510,#5e0,#590,#440,#2a0,#430,#9f0,#fc0,#ff0,#ff0,#ff0,#d40,#700,#2e0,#340,#4f0,#5e0,#5a0,#490,#450,#4f0,#4c0,#380,#2c0,#330,#320,#220,#1b0,#220,#210,#140,#130,#190,#160,#0d0,#0f0,#140,#0f0,#090,#0d0,#0f0,#0b0,#070,#0b0,#0c0,#070,#060,#090,#090,#050,#050,#080,#090,#090,#090,#090,#090,#090,#090,#090)"></i><i style="background:linear-gradient(#090,#090,#090,#090,#090,#090,#090,#080,#060,#040,#080,#0a0,#070,#060,#0b0,#0c0,#080,#080,#0e0,#0f0,#090,#0c0,#130,#120,#0c0,#120,#190,#160,#110,#1c0,#230,#1d0,#1b0,#2b0,#340,#2d0,#2f0,#440,#500,#490,#450,#550,#610,#5a0,#430,#290,#410,#9e0,#fc0,#ff0,#ff0,#ff0,#d40,#6f0,#2c0,#330,#500,#600,#5e0,#4c0,#440,#4e0,#4d0,#3a0,#2b0,#310,#320,#240,#190,#210,#210,#160,#110,#190,#170,#0e0,#0e0,#130,#100,#090,#0c0,#0f0,#0c0,#060,#0a0,#0c0,#080,#050,#090,#0a0,#060,#040,#070,#090,#090,#090,#090,#090,#090,#090,#090)"></i><i style="background:linear-gradient(#090,#090,#090,#090,#090,#090,#090,#080,#050,#050,#090,#090,#060,#070,#0b0,#0b0,#070,#090,#0f0,#0e0,#080,#0d0,#130,#100,#0b0,#140,#190,#140,#110,#1d0,#220,#1b0,#1c0,#2c0,#330,#2b0,#300,#450,#4f0,#470,#460,#580,#640,#5c0,#430,#290,#420,#9f0,#fe0,#ff0,#ff0,#ff0,#d60,#700,#2d0,#320,#500,#630,#610,#4f0,#440,#4c0,#4d0,#3b0,#2a0,#2f0,#320,#250,#190,#200,#220,#170,#100,#180,#180,#0f0,#0c0,#130,#110,#0a0,#0a0,#0f0,#0d0,#070,#090,#0c0,#0a0,#050,#080,#0a0,#070,#040,#060,#090,#090,#090,#090,#090,#090,#090,#090)"></i><i style="background:linear-gradient(#090,#090,#090,#090,#090,#090,#090,#070,#040,#060,#090,#090,#050,#080,#0c0,#0b0,#060,#0b0,#0f0,#0d0,#080,#0f0,#130,#0f0,#0b0,#150,#190,#130,#120,#1e0,#220,#1a0,#1d0,#2d0,#310,#290,#300,#460,#4e0,#460,#470,#5b0,#670,#5e0,#430,#2a0,#440,#a20,#ff0,#ff0,#ff0,#ff0,#d80,#720,#2e0,#330,#510,#650,#640,#510,#430,#4b0,#4d0,#3d0,#290,#2d0,#320,#260,#180,#1e0,#220,#190,#0f0,#160,#180,#100,#0b0,#120,#120,#0b0,#090,#0f0,#0e0,#080,#080,#0c0,#0b0,#060,#070,#0a0,#080,#040,#060,#090,#090,#090,#090,#090,#090,#090,#090)"></i><i style="background:linear-gradient(#090,#090,#090,#090,#090,#090,#090,#060,#040,#070,#0a0,#080,#050,#090,#0c0,#0a0,#060,#0c0,#0f0,#0b0,#080,#100,#130,#0d0,#0c0,#160,#180,#110,#130,#1f0,#210,#180,#1e0,#2e0,#300,#270,#310,#470,#4d0,#440,#480,#5f0,#6a0,#5f0,#440,#2c0,#470,#a50,#ff0,#ff0,#ff0,#ff0,#db0,#750,#310,#340,#520,#670,#670,#540,#430,#490,#4d0,#3e0,#290,#2b0,#310,#280,#180,#1c0,#220,#1a0,#0f0,#150,#190,#120,#0a0,#110,#130,#0c0,#080,#0e0,#0f0,#090,#070,#0b0,#0b0,#060,#060,#090,#090,#050,#050,#090,#090,#090,#090,#090,#090,#090,#090)"></i><i style="background:linear-gradient(#090,#090,#090,#090,#090,#090,#090,#060,#040,#080,#0a0,#070,#050,#0a0,#0c0,#080,#070,#0d0,#0f0,#0a0,#090,#110,#130,#0c0,#0d0,#170,#180,#100,#140,#200,#1f0,#170,#1f0,#2e0,#2e0,#260,#330,#480,#4c0,#420,#4a0,#610,#6c0,#600,#450,#2f0,#4b0,#a80,#ff0,#ff0,#ff0,#ff0,#de0,#790,#350,#360,#520,#680,#6a0,#570,#430,#470,#4d0,#3f0,#290,#290,#310,#290,#180,#1a0,#210,#1b0,#0f0,#130,#190,#130,#0a0,#100,#130,#0e0,#080,#0d0,#0f0,#0a0,#060,#0b0,#0c0,#080,#050,#090,#090,#060,#040,#090,#090,#090,#090,#090,#090,#090,#090)"></i><i style="background:linear-gradient(#090,#090,#090,#090,#090,#090,#090,#050,#050,#090,#090,#060,#060,#0b0,#0c0,#070,#080,#0e0,#0e0,#090,#0a0,#120,#120,#0b0,#0f0,#180,#160,#0e0,#150,#200,#1e0,#160,#210,#2f0,#2d0,#250,#340,#480,#4a0,#410,#4b0,#640,#6e0,#600,#460,#330,#510,#ac0,#ff0,#ff0,#ff0,#ff0,#e10,#7e0,#3a0,#390,#530,#690,#6c0,#590,#430,#440,#4c0,#400,#2a0,#270,#300,#2a0,#190,#180,#210,#1c0,#100,#120,#180,#140,#0b0,#0e0,#130,#0f0,#080,#0c0,#0f0,#0b0,#060,#0a0,#0c0,#090,#040,#080,#0a0,#070,#030,#090,#090,#090,#090,#090,#090,#090,#090)"></i><i style="background:linear-gradient(#090,#090,#090,#090,#090,#090,#090,#040,#060,#090,#090,#050,#070,#0c0,#0b0,#060,#090,#0e0,#0d0,#080,#0c0,#120,#110,#0a0,#100,#180,#150,#0e0,#170,#200,#1c0,#150,#220,#2f0,#2b0,#240,#350,#480,#480,#3f0,#4d0,#670,#6f0,#610,#480,#380,#570,#b00,#ff0,#ff0,#ff0,#ff0,#e40,#840,#400,#3c0,#540,#6a0,#6e0,#5c0,#430,#420,#4b0,#410,#2b0,#250,#2e0,#2b0,#1a0,#170,#200,#1d0,#110,#100,#180,#150,#0b0,#0d0,#130,#100,#080,#0a0,#0f0,#0c0,#060,#080,#0c0,#0a0,#050,#070,#0a0,#080,#040,#090,#090,#090,#090,#090,#090,#090,#090)"></i><i style="background:linear-gradient(#090,#090,#090,#090,#090,#090,#090,#030,#070,#0a0,#080,#040,#080,#0c0,#0a0,#050,#0a0,#0f0,#0c0,#070,#0d0,#130,#0f0,#090,#120,#180,#140,#0d0,#180,#200,#1b0,#150,#230,#2e0,#280,#230,#360,#480,#460,#3e0,#4f0,#690,#700,#610,#4a0,#3d0,#5e0,#b50,#ff0,#ff0,#ff0,#ff0,#e70,#8a0,#470,#400,#540,#6a0,#700,#5e0,#440,#400,#490,#420,#2c0,#230,#2d0,#2b0,#1b0,#150,#1f0,#1e0,#120,#0f0,#170,#160,#0d0,#0b0,#120,#110,#090,#090,#0e0,#0d0,#070,#070,#0c0,#0b0,#060,#060,#090,#090,#050,#090,#090,#090,#090,#090,#090,#090,#090)"></i><i style="background:linear-gradient(#090,#090,#090,#090,#090,#090,#090,#030,#080,#0a0,#070,#040,#090,#0c0,#090,#050,#0b0,#0f0,#0b0,#070,#0f0,#130,#0e0,#090,#130,#180,#120,#0d0,#1a0,#200,#190,#150,#250,#2e0,#260,#230,#380,#470,#430,#3d0,#510,#6b0,#710,#610,#4c0,#440,#660,#ba0,#ff0,#ff0,#ff0,#ff0,#ea0,#910,#4f0,#450,#550,#6a0,#710,#600,#440,#3e0,#480,#420,#2d0,#210,#2b0,#2c0,#1d0,#140,#1d0,#1f0,#140,#0d0,#160,#170,#0e0,#0a0,#110,#120,#0b0,#070,#0e0,#0e0,#080,#060,#0b0,#0b0,#070,#050,#090,#090,#060,#090,#090,#090,#090,#090,#090,#090,#090)"></i><i style="background:linear-gradient(#090,#090,#090,#090,#090,#090,#090,#040,#080,#090,#060,#050,#0a0,#0c0,#080,#060,#0d0,#0f0,#0a0,#080,#100,#120,#0c0,#0a0,#140,#180,#100,#0e0,#1b0,#1f0,#170,#150,#260,#2d0,#240,#230,#380,#460,#400,#3b0,#520,#6c0,#700,#600,#4f0,#4b0,#6f0,#bf0,#ff0,#ff0,#ff0,#ff0,#ed0,#970,#570,#4a0,#560,#690,#710,#620,#450,#3b0,#450,#420,#2e0,#1f0,#290,#2c0,#1e0,#120,#1c0,#1f0,#150,#0c0,#150,#170,#100,#090,#100,#120,#0c0,#070,#0d0,#0f0,#0a0,#050,#0a0,#0c0,#080,#040,#080,#0a0,#070,#090,#090,#090,#090,#090,#090,#090,#090)"></i><i style="background:linear-gradient(#090,#090,#090,#090,#090,#090,#090,#050,#090,#090,#050,#060,#0b0,#0b0,#060,#070,#0d0,#0e0,#080,#090,#110,#120,#0b0,#0b0,#150,#170,#0f0,#0f0,#1c0,#1e0,#150,#160,#270,#2c0,#220,#230,#390,#440,#3d0,#3a0,#530,#6c0,#6e0,#5f0,#510,#530,#780,#c40,#ff0,#ff0,#ff0,#ff0,#f00,#9f0,#610,#500,#560,#670,#700,#620,#450,#380,#420,#420,#2e0,#1e0,#270,#2c0,#200,#120,#1a0,#1f0,#170,#0c0,#130,#170,#110,#080,#0f0,#120,#0d0,#060,#0b0,#0f0,#0b0,#050,#090,#0c0,#090,#040,#070,#090,#080,#090,#090,#090,#090,#090,#090,#090,#090)"></i><i style="background:linear-gradient(#090,#090,#090,#090,#090,#090,#090,#060,#090,#080,#040,#070,#0b0,#0a0,#050,#080,#0e0,#0d0,#070,#0a0,#110,#110,#090,#0d0,#160,#160,#0d0,#110,#1d0,#1d0,#130,#170,#280,#2b0,#1f0,#230,#390,#420,#390,#380,#530,#6b0,#6c0,#5d0,#550,#5c0,#810,#ca0,#ff0,#ff0,#ff0,#ff0,#f30,#a60,#6a0,#560,#560,#640,#6e0,#620,#450,#350,#3f0,#400,#2f0,#1d0,#250,#2b0,#210,#120,#180,#1f0,#180,#0c0,#110,#170,#120,#090,#0d0,#120,#0f0,#070,#0a0,#0f0,#0c0,#050,#080,#0c0,#0a0,#050,#060,#090,#080,#090,#090,#090,#090,#090,#090,#090,#090)"></i><i style="background:linear-gradient(#090,#090,#090,#090,#090,#090,#090,#070,#090,#070,#040,#080,#0c0,#090,#040,#0a0,#0e0,#0c0,#060,#0c0,#120,#100,#080,#0e0,#160,#150,#0b0,#120,#1d0,#1c0,#110,#190,#280,#290,#1d0,#230,#380,#3f0,#360,#370,#530,#690,#690,#5a0,#580,#640,#8a0,#cf0,#ff0,#ff0,#ff0,#ff0,#f60,#ae0,#740,#5d0,#570,#610,#6c0,#610,#450,#320,#3b0,#3e0,#2f0,#1c0,#230,#2b0,#220,#120,#160,#1e0,#190,#0c0,#100,#170,#140,#090,#0b0,#120,#100,#080,#080,#0e0,#0d0,#070,#060,#0b0,#0b0,#060,#040,#090,#090,#090,#090,#090,#090,#090,#090,#090,#090)"></i><i style="background:linear-gradient(#090,#090,#090,#090,#090,#090,#090,#080,#090,#060,#040,#0a0,#0c0,#080,#050,#0b0,#0e0,#0b0,#060,#0d0,#120,#0e0,#070,#100,#170,#130,#0a0,#140,#1e0,#1b0,#100,#1a0,#290,#270,#1b0,#240,#370,#3c0,#320,#360,#520,#660,#650,#580,#5c0,#6d0,#930,#d30,#ff0,#ff0,#ff0,#ff0,#f80,#b40,#7e0,#640,#570,#5d0,#680,#600,#440,#300,#370,#3c0,#300,#1c0,#200,#2a0,#230,#130,#140,#1e0,#1a0,#0e0,#0e0,#160,#150,#0b0,#0a0,#110,#110,#090,#070,#0d0,#0e0,#080,#050,#0a0,#0b0,#070,#030,#080,#090,#090,#090,#090,#090,#090,#090,#090,#090)"></i><i style="background:linear-gradient(#090,#090,#090,#090,#090,#090,#090,#090,#090,#050,#050,#0a0,#0b0,#070,#050,#0c0,#0e0,#090,#060,#0e0,#120,#0d0,#070,#110,#170,#120,#0a0,#150,#1e0,#190,#0f0,#1c0,#290,#260,#190,#250,#360,#390,#2e0,#350,#510,#630,#600,#550,#5f0,#750,#9c0,#d70,#ff0,#ff0,#ff0,#ff0,#f90,#bb0,#870,#6a0,#570,#590,#640,#5e0,#440,#2d0,#330,#3a0,#2f0,#1c0,#1e0,#290,#240,#140,#120,#1d0,#1b0,#0f0,#0c0,#150,#150,#0c0,#080,#100,#110,#0a0,#060,#0c0,#0e0,#090,#040,#090,#0c0,#080,#030,#070,#090,#090,#090,#090,#090,#090,#090,#090,#090)"></i><i style="background:linear-gradient(#090,#090,#090,#090,#090,#090,#090,#090,#080,#030,#060,#0b0,#0b0,#050,#070,#0d0,#0e0,#080,#070,#0f0,#120,#0b0,#080,#120,#170,#100,#0a0,#170,#1e0,#170,#0f0,#1d0,#290,#240,#180,#250,#350,#350,#2a0,#340,#500,#600,#5c0,#520,#630,#7e0,#a40,#db0,#ff0,#ff0,#ff0,#ff0,#fa0,#c10,#900,#710,#580,#540,#600,#5b0,#430,#2b0,#2f0,#370,#2f0,#1c0,#1c0,#280,#250,#150,#110,#1c0,#1c0,#100,#0b0,#140,#160,#0e0,#070,#0f0,#120,#0c0,#050,#0b0,#0e0,#0a0,#040,#080,#0b0,#090,#040,#060,#090,#090,#090,#090,#090,#090,#090,#090,#090)"></i><i style="background:linear-gradient(#090,#090,#090,#090,#090,#090,#090,#090,#070,#030,#080,#0b0,#0a0,#040,#080,#0e0,#0d0,#060,#080,#100,#110,#0a0,#090,#130,#160,#0e0,#0b0,#180,#1d0,#150,#0f0,#1e0,#280,#220,#170,#260,#330,#310,#270,#330,#4e0,#5c0,#570,#4f0,#670,#860,#ac0,#de0,#ff0,#ff0,#ff0,#ff0,#fb0,#c60,#990,#780,#580,#500,#5b0,#580,#420,#290,#2b0,#340,#2f0,#1d0,#1a0,#270,#260,#160,#0f0,#1a0,#1c0,#120,#090,#130,#160,#0f0,#070,#0e0,#120,#0d0,#050,#0a0,#0e0,#0c0,#050,#070,#0b0,#0a0,#050,#040,#080,#090,#090,#090,#090,#090,#090,#090,#090)"></i><i style="background:linear-gradient(#090,#090,#090,#090,#090,#090,#090,#090,#060,#030,#090,#0b0,#090,#040,#090,#0e0,#0c0,#050,#0a0,#110,#100,#080,#0b0,#140,#150,#0d0,#0c0,#190,#1d0,#130,#0f0,#200,#280,#1f0,#160,#260,#320,#2e0,#240,#320,#4c0,#590,#520,#4c0,#6b0,#8e0,#b30,#e20,#ff0,#ff0,#ff0,#ff0,#fc0,#cc0,#a10,#7f0,#590,#4c0,#570,#550,#410,#280,#280,#310,#2e0,#1d0,#170,#250,#260,#180,#0e0,#190,#1d0,#140,#090,#110,#160,#110,#070,#0c0,#120,#0e0,#060,#080,#0e0,#0d0,#060,#050,#0b0,#0b0,#060,#030,#080,#090,#090,#090,#090,#090,#090,#090,#090)"></i><i style="background:linear-gradient(#090,#090,#090,#090,#090,#090,#090,#090,#050,#040,#0a0,#0b0,#070,#040,#0b0,#0e0,#0b0,#050,#0b0,#110,#0f0,#070,#0c0,#150,#140,#0b0,#0e0,#1a0,#1c0,#110,#100,#210,#270,#1d0,#160,#270,#300,#2b0,#210,#310,#4a0,#550,#4e0,#4a0,#6f0,#960,#bb0,#e50,#ff0,#ff0,#ff0,#ff0,#fd0,#d10,#a90,#850,#5a0,#480,#520,#530,#400,#270,#240,#2f0,#2e0,#1e0,#160,#240,#260,#1a0,#0d0,#170,#1d0,#150,#090,#100,#160,#120,#080,#0b0,#110,#0f0,#070,#070,#0d0,#0d0,#070,#040,#0a0,#0b0,#070,#030,#070,#090,#090,#090,#090,#090,#090,#090,#090)"></i><i style="background:linear-gradient(#090,#090,#090,#090,#090,#090,#090,#080,#030,#060,#0a0,#0b0,#060,#050,#0c0,#0e0,#090,#050,#0d0,#110,#0e0,#060,#0e0,#150,#130,#090,#0f0,#1b0,#1b0,#100,#110,#220,#260,#1b0,#160,#270,#2e0,#270,#1f0,#310,#490,#510,#490,#480,#740,#9d0,#c10,#e80,#ff0,#ff0,#ff0,#ff0,#fd0,#d60,#b10,#8c0,#5c0,#450,#4e0,#500,#3f0,#260,#210,#2c0,#2d0,#1f0,#140,#220,#260,#1b0,#0c0,#150,#1c0,#160,#090,#0e0,#160,#130,#090,#090,#100,#100,#090,#050,#0c0,#0e0,#090,#030,#090,#0b0,#090,#030,#060,#090,#090,#090,#090,#090,#090,#090,#090)"></i><i style="background:linear-gradient(#090,#090,#090,#090,#090,#090,#090,#070,#030,#070,#0b0,#0a0,#050,#060,#0d0,#0d0,#080,#060,#0e0,#110,#0c0,#060,#0f0,#160,#120,#080,#110,#1b0,#1a0,#0e0,#130,#230,#250,#190,#160,#270,#2d0,#250,#1d0,#310,#470,#4e0,#460,#470,#780,#a40,#c80,#ea0,#ff0,#ff0,#ff0,#ff0,#fd0,#da0,#b80,#920,#5e0,#420,#4a0,#4d0,#3e0,#250,#1e0,#290,#2c0,#200,#130,#200,#260,#1c0,#0c0,#140,#1c0,#180,#0b0,#0c0,#150,#140,#0a0,#070,#0f0,#110,#0a0,#040,#0b0,#0e0,#0a0,#030,#070,#0b0,#090,#040,#040,#090,#090,#090,#090,#090,#090,#090,#090)"></i><i style="background:linear-gradient(#090,#090,#090,#090,#090,#090,#090,#060,#030,#080,#0b0,#090,#030,#080,#0d0,#0d0,#060,#070,#0f0,#110,#0b0,#060,#110,#160,#100,#070,#120,#1b0,#180,#0c0,#150,#230,#240,#170,#170,#280,#2b0,#220,#1c0,#310,#460,#4b0,#420,#460,#7d0,#ab0,#ce0,#ec0,#ff0,#ff0,#ff0,#ff0,#fd0,#de0,#be0,#980,#600,#3f0,#470,#4b0,#3e0,#250,#1c0,#270,#2c0,#210,#120,#1e0,#260,#1e0,#0d0,#120,#1b0,#190,#0c0,#0a0,#140,#140,#0c0,#060,#0e0,#110,#0c0,#040,#0a0,#0e0,#0b0,#040,#060,#0b0,#0a0,#050,#030,#090,#090,#090,#090,#090,#090,#090,#090)"></i><i style="background:linear-gradient(#090,#090,#090,#090,#090,#090,#090,#050,#030,#090,#0b0,#080,#030,#090,#0e0,#0c0,#050,#080,#100,#100,#090,#080,#120,#150,#0f0,#070,#140,#1c0,#170,#0b0,#160,#240,#230,#140,#180,#280,#2a0,#200,#1b0,#310,#450,#490,#3f0,#460,#810,#b10,#d30,#ee0,#ff0,#ff0,#ff0,#ff0,#fd0,#e20,#c50,#9e0,#620,#3e0,#440,#4a0,#3e0,#260,#1a0,#250,#2b0,#220,#120,#1c0,#250,#1f0,#0e0,#100,#1b0,#190,#0e0,#090,#130,#150,#0d0,#050,#0d0,#110,#0d0,#050,#080,#0d0,#0c0,#060,#050,#0a0,#0b0,#070,#020,#090,#090,#090,#090,#090,#090,#090,#090)"></i><i style="background:linear-gradient(#090,#090,#090,#090,#090,#090,#090,#030,#050,#0a0,#0b0,#070,#030,#0a0,#0e0,#0b0,#040,#0a0,#100,#0f0,#070,#090,#130,#150,#0d0,#080,#150,#1b0,#150,#0a0,#180,#240,#210,#120,#1a0,#290,#290,#1d0,#1b0,#320,#450,#470,#3d0,#470,#860,#b80,#d80,#f00,#ff0,#ff0,#ff0,#ff0,#fc0,#e60,#cb0,#a40,#650,#3d0,#420,#480,#3e0,#260,#180,#240,#2b0,#230,#120,#1a0,#250,#200,#100,#0e0,#190,#1a0,#0f0,#070,#120,#150,#0f0,#050,#0c0,#110,#0e0,#060,#070,#0d0,#0d0,#070,#030,#090,#0b0,#080,#020,#090,#090,#090,#090,#090,#090,#090,#090)"></i><i style="background:linear-gradient(#090,#090,#090,#090,#090,#090,#090,#020,#060,#0a0,#0a0,#050,#050,#0b0,#0d0,#090,#030,#0b0,#110,#0e0,#060,#0b0,#140,#140,#0b0,#090,#160,#1b0,#130,#0a0,#190,#240,#200,#110,#1b0,#290,#280,#1b0,#1b0,#330,#450,#450,#3b0,#480,#8b0,#be0,#dd0,#f20,#ff0,#ff0,#ff0,#ff0,#fb0,#e90,#d10,#aa0,#680,#3c0,#3f0,#470,#3e0,#270,#170,#220,#2b0,#250,#120,#170,#240,#210,#110,#0c0,#180,#1a0,#110,#060,#100,#150,#100,#060,#0a0,#100,#0f0,#070,#050,#0c0,#0d0,#080,#030,#080,#0b0,#090,#030,#090,#090,#090,#090,#090,#090,#090,#090)"></i><i style="background:linear-gradient(#090,#090,#090,#090,#090,#090,#090,#020,#070,#0b0,#090,#040,#060,#0c0,#0d0,#080,#040,#0d0,#110,#0d0,#050,#0c0,#140,#130,#090,#0b0,#170,#1b0,#110,#0a0,#1b0,#240,#1e0,#0f0,#1c0,#2a0,#270,#190,#1b0,#340,#440,#430,#390,#490,#8f0,#c30,#e20,#f30,#fe0,#ff0,#ff0,#ff0,#fa0,#ec0,#d60,#af0,#6c0,#3b0,#3d0,#460,#3f0,#280,#160,#200,#2a0,#260,#130,#150,#230,#220,#130,#0a0,#170,#1b0,#120,#060,#0f0,#150,#110,#070,#080,#100,#100,#090,#040,#0b0,#0d0,#0a0,#030,#070,#0b0,#0a0,#050,#090,#090,#090,#090,#090,#090,#090,#090)"></i><i style="background:linear-gradient(#090,#090,#090,#090,#090,#090,#090,#030,#080,#0b0,#080,#030,#070,#0d0,#0c0,#060,#050,#0e0,#110,#0c0,#040,#0e0,#150,#120,#080,#0d0,#180,#1a0,#0f0,#0b0,#1c0,#240,#1c0,#0e0,#1e0,#2a0,#260,#180,#1c0,#340,#430,#410,#370,#4a0,#940,#c90,#e60,#f50,#fb0,#fc0,#fb0,#fc0,#f90,#ef0,#db0,#b50,#6f0,#3b0,#3a0,#440,#3f0,#290,#150,#1e0,#2a0,#260,#140,#130,#220,#220,#140,#090,#150,#1b0,#140,#070,#0d0,#140,#120,#090,#070,#0f0,#100,#0a0,#030,#0a0,#0d0,#0b0,#040,#050,#0a0,#0a0,#060,#090,#090,#090,#090,#090,#090,#090,#090)"></i><i style="background:linear-gradient(#090,#090,#090,#090,#090,#090,#090,#040,#090,#0b0,#070,#020,#090,#0d0,#0c0,#050,#070,#0f0,#100,#0a0,#050,#0f0,#150,#110,#060,#0e0,#190,#190,#0d0,#0d0,#1d0,#230,#1a0,#0e0,#1f0,#2a0,#240,#160,#1d0,#350,#430,#3e0,#350,#4c0,#990,#ce0,#ea0,#f60,#f80,#f40,#f20,#f60,#f80,#f20,#e00,#ba0,#720,#3b0,#380,#420,#3f0,#2a0,#150,#1c0,#290,#270,#160,#110,#200,#220,#160,#080,#140,#1b0,#150,#080,#0b0,#140,#130,#0a0,#050,#0e0,#100,#0c0,#030,#080,#0d0,#0c0,#050,#040,#090,#0b0,#070,#090,#090,#090,#090,#090,#090,#090,#090)"></i><i style="background:linear-gradient(#090,#090,#090,#090,#090,#090,#090,#050,#0a0,#0a0,#060,#030,#0a0,#0d0,#0b0,#030,#090,#0f0,#100,#080,#060,#100,#150,#0f0,#050,#100,#1a0,#180,#0b0,#0e0,#1e0,#230,#180,#0e0,#200,#2a0,#230,#140,#1d0,#350,#420,#3c0,#330,#4e0,#9d0,#d30,#ee0,#f70,#f50,#ed0,#ea0,#f10,#f70,#f50,#e40,#bf0,#760,#3b0,#350,#400,#3e0,#2b0,#140,#1a0,#280,#280,#170,#0f0,#1f0,#230,#180,#080,#120,#1a0,#160,#0a0,#090,#130,#140,#0c0,#040,#0c0,#100,#0d0,#040,#070,#0d0,#0c0,#070,#030,#080,#0b0,#080,#090,#090,#090,#090,#090,#090,#090,#090)"></i><i style="background:linear-gradient(#090,#090,#090,#090,#090,#090,#090,#060,#0a0,#0a0,#050,#040,#0b0,#0d0,#090,#030,#0a0,#100,#0f0,#070,#080,#110,#140,#0e0,#050,#120,#1a0,#170,#0a0,#100,#1f0,#220,#160,#0e0,#220,#2a0,#210,#120,#1e0,#360,#410,#390,#310,#500,#a10,#d70,#f20,#f80,#f20,#e70,#e30,#ec0,#f60,#f70,#e80,#c40,#790,#3b0,#320,#3f0,#3e0,#2c0,#140,#180,#270,#280,#190,#0d0,#1d0,#230,#190,#090,#100,#1a0,#170,#0b0,#070,#120,#140,#0d0,#040,#0b0,#100,#0e0,#060,#050,#0c0,#0d0,#080,#020,#070,#0b0,#090,#090,#090,#090,#090,#090,#090,#090,#090)"></i><i style="background:linear-gradient(#090,#090,#090,#090,#090,#090,#090,#080,#0b0,#090,#030,#060,#0c0,#0d0,#080,#030,#0b0,#100,#0e0,#050,#090,#120,#140,#0c0,#060,#130,#1a0,#150,#080,#120,#200,#210,#140,#0f0,#230,#2a0,#200,#110,#1f0,#360,#3f0,#360,#300,#520,#a60,#dc0,#f50,#f90,#ef0,#e10,#dc0,#e70,#f50,#f90,#ec0,#c80,#7d0,#3c0,#300,#3c0,#3e0,#2d0,#150,#160,#260,#290,#1a0,#0c0,#1b0,#230,#1a0,#0a0,#0e0,#190,#180,#0d0,#060,#110,#140,#0f0,#040,#090,#100,#0f0,#070,#040,#0b0,#0d0,#090,#030,#060,#0a0,#0a0,#090,#090,#090,#090,#090,#090,#090,#090)"></i><i style="background:linear-gradient(#090,#090,#090,#090,#090,#090,#090,#090,#0b0,#080,#020,#070,#0c0,#0c0,#070,#040,#0d0,#100,#0d0,#040,#0b0,#130,#130,#0a0,#070,#140,#1a0,#140,#070,#130,#200,#200,#120,#100,#240,#290,#1e0,#0f0,#200,#370,#3e0,#340,#2e0,#540,#aa0,#e00,#f80,#fa0,#ed0,#dc0,#d70,#e30,#f40,#fb0,#f00,#cd0,#800,#3d0,#2d0,#3a0,#3d0,#2e0,#150,#140,#250,#290,#1c0,#0a0,#1a0,#220,#1c0,#0b0,#0c0,#180,#190,#0f0,#040,#0f0,#140,#100,#060,#080,#0f0,#0f0,#090,#020,#0a0,#0d0,#0a0,#040,#050,#0a0,#0a0,#090,#090,#090,#090,#090,#090,#090,#090)"></i><i style="background:linear-gradient(#090,#090,#090,#090,#090,#090,#090,#090,#0a0,#070,#020,#080,#0d0,#0c0,#050,#060,#0e0,#100,#0b0,#030,#0c0,#140,#120,#080,#090,#150,#1a0,#120,#060,#150,#210,#1f0,#0f0,#120,#250,#290,#1c0,#0e0,#210,#370,#3d0,#310,#2d0,#560,#ae0,#e40,#fb0,#fa0,#eb0,#d80,#d20,#e00,#f30,#fd0,#f40,#d10,#830,#3e0,#2a0,#380,#3c0,#2e0,#160,#120,#230,#2a0,#1e0,#0a0,#180,#220,#1d0,#0d0,#0a0,#170,#190,#100,#040,#0e0,#140,#110,#070,#060,#0e0,#100,#0a0,#020,#080,#0d0,#0b0,#050,#030,#090,#0a0,#090,#090,#090,#090,#090,#090,#090,#090)"></i><i style="background:linear-gradient(#090,#090,#090,#090,#090,#090,#090,#0a0,#0a0,#050,#030,#0a0,#0d0,#0b0,#030,#070,#0e0,#100,#0a0,#030,#0e0,#140,#110,#070,#0b0,#160,#190,#100,#060,#160,#210,#1e0,#0d0,#130,#260,#280,#1a0,#0e0,#220,#370,#3b0,#2e0,#2c0,#580,#b20,#e80,#fe0,#fb0,#e90,#d40,#ce0,#dd0,#f30,#ff0,#f70,#d50,#870,#3f0,#280,#350,#3c0,#2f0,#170,#110,#220,#2a0,#1f0,#0a0,#160,#210,#1e0,#0f0,#080,#160,#190,#120,#050,#0c0,#140,#120,#090,#040,#0d0,#100,#0c0,#030,#070,#0c0,#0c0,#070,#020,#080,#0b0,#090,#090,#090,#090,#090,#090,#090,#090)"></i><i style="background:linear-gradient(#090,#090,#090,#090,#090,#090,#090,#0a0,#090,#040,#040,#0b0,#0d0,#090,#020,#090,#0f0,#0f0,#080,#050,#0f0,#140,#100,#050,#0c0,#170,#190,#0f0,#070,#180,#210,#1c0,#0b0,#150,#270,#280,#190,#0d0,#230,#370,#3a0,#2b0,#2c0,#5b0,#b60,#ec0,#ff0,#fc0,#e80,#d10,#cb0,#db0,#f20,#ff0,#fa0,#d90,#8a0,#400,#250,#330,#3b0,#300,#180,#0f0,#210,#2a0,#200,#0b0,#140,#200,#1f0,#100,#070,#140,#190,#130,#060,#0a0,#130,#130,#0b0,#030,#0c0,#100,#0d0,#050,#060,#0c0,#0d0,#080,#010,#070,#0a0,#090,#090,#090,#090,#090,#090,#090,#090)"></i><i style="background:linear-gradient(#090,#090,#090,#090,#090,#090,#090,#0a0,#080,#030,#060,#0b0,#0d0,#080,#020,#0a0,#100,#0e0,#060,#060,#100,#140,#0f0,#030,#0e0,#180,#180,#0d0,#090,#190,#210,#1b0,#090,#170,#280,#270,#170,#0d0,#240,#370,#380,#280,#2c0,#5d0,#b90,#ef0,#ff0,#fc0,#e60,#ce0,#c70,#d80,#f10,#ff0,#fd0,#dc0,#8d0,#420,#230,#300,#3a0,#300,#190,#0d0,#1f0,#2a0,#220,#0c0,#120,#200,#1f0,#120,#050,#130,#190,#140,#080,#080,#120,#130,#0c0,#020,#0b0,#100,#0e0,#060,#040,#0b0,#0d0,#090,#020,#060,#0a0,#090,#090,#090,#090,#090,#090,#090,#090)"></i><i style="background:linear-gradient(#090,#090,#090,#090,#090,#090,#090,#0a0,#070,#010,#070,#0c0,#0c0,#070,#030,#0b0,#100,#0d0,#050,#080,#110,#140,#0d0,#030,#100,#180,#170,#0b0,#0a0,#1b0,#210,#190,#080,#180,#280,#260,#150,#0e0,#250,#370,#360,#250,#2c0,#5f0,#bd0,#f20,#ff0,#fd0,#e50,#cb0,#c40,#d60,#f10,#ff0,#ff0,#e00,#900,#440,#210,#2e0,#390,#310,#1a0,#0b0,#1e0,#290,#230,#0e0,#0f0,#1f0,#200,#140,#040,#110,#190,#150,#090,#070,#110,#140,#0e0,#030,#090,#0f0,#0f0,#080,#020,#0a0,#0d0,#0a0,#040,#040,#090,#090,#090,#090,#090,#090,#090,#090,#090)"></i><i style="background:linear-gradient(#090,#090,#090,#090,#090,#090,#090,#0a0,#060,#010,#080,#0c0,#0b0,#050,#040,#0d0,#100,#0c0,#030,#0a0,#120,#130,#0b0,#040,#110,#190,#160,#090,#0c0,#1c0,#210,#170,#070,#1a0,#290,#250,#130,#0e0,#260,#370,#340,#220,#2c0,#620,#c00,#f50,#ff0,#fd0,#e30,#c80,#c10,#d30,#f00,#ff0,#ff0,#e30,#930,#450,#200,#2b0,#380,#310,#1b0,#0a0,#1c0,#290,#240,#0f0,#0d0,#1d0,#200,#150,#050,#100,#190,#160,#0b0,#050,#100,#140,#0f0,#050,#080,#0f0,#0f0,#090,#010,#090,#0d0,#0b0,#050,#030,#080,#090,#090,#090,#090,#090,#090,#090,#090)"></i><i style="background:linear-gradient(#090,#090,#090,#090,#090,#090,#090,#0a0,#050,#030,#090,#0d0,#0b0,#040,#060,#0e0,#100,#0b0,#020,#0b0,#130,#120,#0a0,#050,#120,#190,#140,#070,#0e0,#1d0,#200,#150,#060,#1c0,#290,#240,#110,#0f0,#270,#360,#320,#1f0,#2d0,#640,#c30,#f70,#ff0,#fd0,#e10,#c50,#bd0,#d10,#ef0,#ff0,#ff0,#e50,#960,#470,#1e0,#280,#370,#310,#1c0,#090,#1b0,#290,#250,#110,#0b0,#1c0,#200,#170,#060,#0e0,#180,#170,#0d0,#030,#0f0,#140,#100,#060,#060,#0e0,#0f0,#0b0,#020,#070,#0c0,#0c0,#070,#010,#070,#090,#090,#090,#090,#090,#090,#090,#090)"></i><i style="background:linear-gradient(#090,#090,#090,#090,#090,#090,#090,#090,#040,#040,#0a0,#0d0,#0a0,#020,#080,#0e0,#0f0,#090,#020,#0d0,#130,#120,#080,#070,#140,#190,#130,#050,#100,#1e0,#200,#140,#070,#1d0,#290,#230,#0f0,#100,#280,#360,#300,#1c0,#2e0,#660,#c50,#f80,#ff0,#fb0,#de0,#c10,#ba0,#cd0,#ed0,#ff0,#ff0,#e70,#980,#490,#1d0,#260,#360,#320,#1e0,#080,#190,#280,#260,#130,#090,#1b0,#200,#180,#080,#0c0,#170,#180,#0f0,#020,#0d0,#130,#110,#080,#040,#0d0,#100,#0c0,#030,#060,#0c0,#0c0,#080,#010,#060,#090,#090,#090,#090,#090,#090,#090,#090)"></i><i style="background:linear-gradient(#090,#090,#090,#090,#090,#090,#090,#080,#020,#060,#0b0,#0c0,#080,#010,#090,#0f0,#0f0,#080,#040,#0e0,#130,#110,#060,#090,#150,#190,#120,#030,#110,#1e0,#1f0,#120,#080,#1f0,#2a0,#220,#0d0,#110,#290,#360,#2e0,#190,#2f0,#680,#c70,#f90,#ff0,#fa0,#dc0,#be0,#b60,#ca0,#eb0,#ff0,#ff0,#e90,#9a0,#4b0,#1c0,#230,#340,#320,#1f0,#080,#170,#270,#270,#150,#070,#190,#200,#1a0,#090,#0a0,#160,#180,#100,#030,#0c0,#130,#120,#0a0,#020,#0c0,#100,#0d0,#050,#040,#0b0,#0d0,#090,#020,#050,#090,#090,#090,#090,#090,#090,#090,#090)"></i><i style="background:linear-gradient(#090,#090,#090,#090,#090,#090,#090,#070,#010,#070,#0c0,#0c0,#070,#020,#0a0,#0f0,#0e0,#060,#050,#0f0,#130,#0f0,#040,#0b0,#160,#180,#100,#030,#130,#1f0,#1e0,#100,#0a0,#200,#2a0,#200,#0b0,#120,#2a0,#350,#2c0,#160,#300,#6a0,#c90,#fa0,#ff0,#f80,#d90,#bb0,#b30,#c70,#e90,#ff0,#ff0,#ea0,#9c0,#4c0,#1c0,#200,#330,#320,#200,#080,#160,#270,#280,#170,#050,#180,#200,#1b0,#0b0,#080,#150,#180,#110,#040,#0a0,#120,#120,#0b0,#010,#0a0,#0f0,#0e0,#070,#030,#0a0,#0d0,#0a0,#040,#040,#090,#090,#090,#090,#090,#090,#090,#090)"></i><i style="background:linear-gradient(#090,#090,#090,#090,#090,#090,#090,#060,#010,#080,#0c0,#0b0,#060,#030,#0c0,#0f0,#0d0,#050,#070,#100,#130,#0e0,#020,#0c0,#170,#180,#0e0,#040,#150,#1f0,#1d0,#0e0,#0c0,#220,#2a0,#1f0,#0a0,#140,#2b0,#350,#2a0,#130,#310,#6c0,#cb0,#fa0,#ff0,#f70,#d70,#b80,#af0,#c40,#e70,#ff0,#ff0,#eb0,#9e0,#4e0,#1c0,#1d0,#320,#320,#210,#090,#140,#260,#280,#190,#040,#160,#200,#1c0,#0d0,#060,#140,#180,#130,#060,#080,#110,#130,#0d0,#020,#090,#0f0,#0e0,#080,#010,#090,#0c0,#0b0,#050,#020,#090,#090,#090,#090,#090,#090,#090,#090)"></i><i style="background:linear-gradient(#090,#090,#090,#090,#090,#090,#090,#040,#030,#090,#0c0,#0b0,#040,#050,#0d0,#0f0,#0c0,#030,#090,#110,#130,#0d0,#010,#0e0,#170,#170,#0d0,#050,#160,#200,#1c0,#0b0,#0e0,#230,#2a0,#1e0,#080,#150,#2b0,#340,#280,#100,#330,#6d0,#cc0,#fb0,#ff0,#f50,#d40,#b50,#ad0,#c20,#e50,#ff0,#ff0,#ec0,#a00,#500,#1d0,#1a0,#300,#320,#220,#0a0,#120,#250,#290,#1a0,#040,#140,#1f0,#1d0,#0f0,#040,#120,#180,#140,#080,#060,#110,#130,#0e0,#040,#070,#0e0,#0f0,#090,#010,#080,#0c0,#0c0,#060,#010,#090,#090,#090,#090,#090,#090,#090,#090)"></i><i style="background:linear-gradient(#090,#090,#090,#090,#090,#090,#090,#030,#040,#0a0,#0c0,#0a0,#020,#060,#0d0,#0f0,#0b0,#010,#0a0,#120,#120,#0b0,#020,#100,#180,#160,#0b0,#070,#180,#200,#1b0,#090,#100,#240,#290,#1c0,#060,#170,#2c0,#330,#260,#0e0,#340,#6f0,#cd0,#fb0,#ff0,#f30,#d20,#b20,#aa0,#bf0,#e30,#fe0,#ff0,#ec0,#a10,#520,#1d0,#170,#2f0,#320,#230,#0b0,#100,#240,#290,#1c0,#050,#120,#1f0,#1d0,#110,#020,#110,#180,#150,#0a0,#050,#0f0,#130,#0f0,#050,#060,#0e0,#0f0,#0b0,#020,#060,#0c0,#0c0,#080,#010,#090,#090,#090,#090,#090,#090,#090,#090)"></i><i style="background:linear-gradient(#090,#090,#090,#090,#090,#090,#090,#020,#050,#0b0,#0c0,#090,#010,#080,#0e0,#0f0,#090,#010,#0c0,#120,#120,#0a0,#040,#110,#180,#150,#090,#090,#190,#200,#190,#070,#120,#250,#290,#1b0,#040,#180,#2d0,#330,#240,#0c0,#360,#710,#ce0,#fb0,#ff0,#f20,#d00,#b00,#a70,#bd0,#e10,#fc0,#ff0,#ed0,#a30,#530,#1e0,#150,#2e0,#320,#240,#0c0,#0e0,#230,#2a0,#1e0,#070,#110,#1e0,#1e0,#120,#020,#100,#180,#160,#0b0,#030,#0e0,#130,#100,#070,#040,#0d0,#0f0,#0c0,#040,#050,#0b0,#0c0,#090,#020,#090,#090,#090,#090,#090,#090,#090,#090)"></i><i style="background:linear-gradient(#090,#090,#090,#090,#090,#090,#090,#000,#070,#0c0,#0c0,#070,#010,#090,#0f0,#0e0,#080,#030,#0d0,#130,#110,#080,#060,#120,#180,#140,#070,#0b0,#1a0,#200,#180,#050,#130,#260,#290,#190,#030,#190,#2d0,#320,#220,#0a0,#380,#720,#cf0,#fa0,#ff0,#f00,#ce0,#ae0,#a50,#bb0,#df0,#fb0,#ff0,#ed0,#a40,#550,#200,#120,#2c0,#320,#250,#0e0,#0d0,#220,#2a0,#1f0,#090,#0f0,#1d0,#1f0,#140,#030,#0e0,#170,#170,#0d0,#010,#0d0,#130,#110,#090,#020,#0b0,#0f0,#0d0,#060,#030,#0a0,#0c0,#0a0,#040,#090,#090,#090,#090,#090,#090,#090,#090)"></i><i style="background:linear-gradient(#090,#090,#090,#090,#090,#090,#090,#010,#080,#0c0,#0b0,#060,#020,#0b0,#0f0,#0e0,#060,#040,#0e0,#130,#100,#060,#080,#130,#180,#130,#050,#0d0,#1b0,#1f0,#160,#030,#150,#270,#280,#180,#030,#1b0,#2e0,#320,#210,#090,#390,#740,#d00,#fa0,#ff0,#ee0,#cc0,#ac0,#a30,#b90,#dd0,#f90,#ff0,#ed0,#a50,#570,#210,#0f0,#2b0,#320,#260,#0f0,#0b0,#210,#2a0,#200,#0b0,#0d0,#1c0,#1f0,#150,#050,#0c0,#170,#170,#0f0,#010,#0b0,#120,#120,#0a0,#010,#0a0,#0f0,#0e0,#070,#020,#090,#0c0,#0b0,#050,#090,#090,#090,#090,#090,#090,#090,#090)"></i><i style="background:linear-gradient(#090,#090,#090,#090,#090,#090,#090,#030,#090,#0c0,#0b0,#050,#040,#0c0,#0f0,#0d0,#050,#060,#0f0,#130,#0f0,#040,#090,#140,#180,#120,#030,#0f0,#1c0,#1f0,#150,#010,#170,#280,#270,#160,#030,#1c0,#2e0,#310,#1f0,#090,#3b0,#750,#d00,#f90,#ff0,#ec0,#ca0,#aa0,#a20,#b70,#db0,#f80,#ff0,#ed0,#a60,#580,#230,#0d0,#2a0,#320,#270,#110,#090,#200,#2a0,#220,#0d0,#0b0,#1b0,#1f0,#170,#070,#0a0,#160,#180,#100,#030,#0a0,#120,#120,#0c0,#010,#090,#0f0,#0e0,#090,#000,#080,#0c0,#0b0,#060,#090,#090,#090,#090,#090,#090,#090,#090)"></i><i style="background:linear-gradient(#090,#090,#090,#090,#090,#090,#090,#040,#0a0,#0c0,#0a0,#030,#060,#0d0,#0f0,#0c0,#030,#080,#100,#130,#0e0,#020,#0b0,#150,#180,#100,#010,#100,#1d0,#1e0,#130,#020,#190,#290,#270,#150,#050,#1d0,#2f0,#300,#1d0,#0a0,#3d0,#760,#d10,#f80,#fd0,#eb0,#c90,#a90,#a10,#b60,#d90,#f60,#fe0,#ed0,#a70,#5a0,#250,#0a0,#280,#320,#280,#120,#070,#1e0,#2a0,#230,#0f0,#090,#1a0,#1f0,#180,#090,#090,#150,#180,#110,#050,#080,#110,#130,#0d0,#030,#070,#0e0,#0f0,#0a0,#020,#070,#0c0,#0c0,#080,#090,#090,#090,#090,#090,#090,#090,#090)"></i><i style="background:linear-gradient(#090,#090,#090,#090,#090,#090,#090,#060,#0b0,#0c0,#090,#020,#070,#0d0,#0f0,#0b0,#010,#090,#110,#130,#0c0,#010,#0d0,#160,#170,#0f0,#010,#120,#1d0,#1e0,#120,#040,#1b0,#290,#260,#130,#060,#1f0,#2f0,#300,#1b0,#0c0,#3f0,#770,#d10,#f70,#fc0,#e90,#c70,#a80,#a00,#b50,#d80,#f40,#fd0,#ec0,#a80,#5b0,#270,#080,#270,#320,#290,#140,#050,#1d0,#2a0,#240,#110,#070,#190,#1f0,#190,#0a0,#070,#140,#180,#130,#070,#070,#100,#130,#0e0,#050,#060,#0d0,#0f0,#0b0,#030,#050,#0b0,#0c0,#090,#090,#090,#090,#090,#090,#090,#090,#090)"></i><i style="background:linear-gradient(#090,#090,#090,#090,#090,#090,#090,#070,#0b0,#0c0,#080,#010,#080,#0e0,#0f0,#090,#010,#0b0,#120,#120,#0b0,#010,#0e0,#170,#170,#0d0,#030,#140,#1e0,#1d0,#100,#060,#1c0,#2a0,#250,#110,#080,#200,#300,#2f0,#1a0,#0e0,#400,#780,#d10,#f60,#fa0,#e70,#c60,#a80,#a00,#b40,#d60,#f20,#fb0,#eb0,#a80,#5d0,#290,#070,#260,#320,#2a0,#150,#040,#1c0,#2a0,#250,#130,#050,#170,#1f0,#1a0,#0c0,#050,#130,#180,#140,#090,#050,#0f0,#130,#0f0,#060,#040,#0c0,#0f0,#0c0,#050,#040,#0a0,#0c0,#0a0,#090,#090,#090,#090,#090,#090,#090,#090)"></i><i style="background:linear-gradient(#090,#090,#090,#090,#090,#090,#090,#080,#0c0,#0b0,#060,#020,#0a0,#0f0,#0e0,#080,#020,#0c0,#120,#110,#0a0,#030,#100,#170,#160,#0b0,#050,#150,#1e0,#1c0,#0e0,#080,#1e0,#2a0,#240,#100,#0a0,#210,#300,#2e0,#190,#100,#420,#790,#d10,#f50,#f80,#e50,#c60,#a80,#a10,#b40,#d50,#f00,#fa0,#eb0,#a90,#5e0,#2a0,#060,#250,#320,#2b0,#170,#020,#1b0,#290,#260,#140,#030,#160,#1f0,#1b0,#0e0,#030,#110,#180,#150,#0a0,#030,#0e0,#130,#100,#080,#030,#0b0,#0f0,#0d0,#060,#020,#090,#0c0,#0b0,#090,#090,#090,#090,#090,#090,#090,#090)"></i><i style="background:linear-gradient(#090,#090,#090,#090,#090,#090,#090,#090,#0c0,#0b0,#050,#030,#0b0,#0f0,#0d0,#060,#040,#0d0,#130,#110,#080,#050,#110,#170,#150,#0a0,#070,#160,#1f0,#1b0,#0c0,#0a0,#1f0,#2a0,#240,#0e0,#0c0,#220,#300,#2e0,#180,#120,#440,#7a0,#d10,#f30,#f60,#e40,#c50,#a90,#a20,#b40,#d40,#ee0,#f80,#ea0,#a90,#5f0,#2c0,#070,#240,#310,#2c0,#180,#020,#190,#290,#270,#160,#020,#140,#1e0,#1c0,#100,#010,#100,#170,#160,#0c0,#010,#0d0,#120,#110,#090,#010,#0a0,#0f0,#0e0,#080,#010,#080,#0c0,#0b0,#090,#090,#090,#090,#090,#090,#090,#090)"></i><i style="background:linear-gradient(#090,#090,#090,#090,#090,#090,#090,#0a0,#0c0,#0a0,#040,#050,#0c0,#0f0,#0d0,#050,#050,#0f0,#130,#100,#060,#070,#120,#180,#140,#080,#090,#180,#1f0,#1a0,#0b0,#0c0,#210,#2b0,#230,#0d0,#0d0,#230,#310,#2d0,#170,#150,#450,#7b0,#d00,#f20,#f40,#e20,#c50,#aa0,#a30,#b50,#d30,#ed0,#f60,#e90,#a90,#600,#2e0,#080,#230,#310,#2c0,#1a0,#030,#180,#290,#280,#180,#020,#130,#1e0,#1d0,#120,#020,#0e0,#170,#160,#0d0,#010,#0b0,#120,#120,#0b0,#010,#090,#0e0,#0e0,#090,#010,#070,#0c0,#0c0,#090,#090,#090,#090,#090,#090,#090,#090)"></i><i style="background:linear-gradient(#090,#090,#090,#090,#090,#090,#090,#0b0,#0c0,#090,#020,#060,#0d0,#0f0,#0c0,#030,#070,#100,#130,#0f0,#050,#080,#130,#180,#130,#060,#0b0,#190,#1f0,#190,#090,#0e0,#220,#2b0,#220,#0c0,#0f0,#250,#310,#2d0,#160,#170,#470,#7b0,#d00,#f00,#f20,#e10,#c40,#ab0,#a50,#b50,#d20,#eb0,#f40,#e70,#a90,#610,#300,#0a0,#230,#310,#2d0,#1b0,#050,#170,#280,#290,#1a0,#040,#110,#1d0,#1e0,#130,#030,#0d0,#160,#170,#0f0,#030,#0a0,#110,#120,#0c0,#020,#080,#0e0,#0f0,#0a0,#020,#060,#0b0,#0c0,#090,#090,#090,#090,#090,#090,#090,#090)"></i><i style="background:linear-gradient(#090,#090,#090,#090,#090,#090,#090,#0b0,#0c0,#080,#010,#080,#0d0,#0f0,#0b0,#020,#090,#100,#130,#0e0,#030,#0a0,#140,#180,#120,#050,#0c0,#1a0,#1f0,#180,#070,#100,#230,#2b0,#210,#0a0,#110,#260,#310,#2d0,#160,#190,#480,#7c0,#cf0,#ef0,#f10,#e00,#c50,#ad0,#a70,#b60,#d10,#e90,#f30,#e60,#a90,#620,#320,#0c0,#220,#310,#2e0,#1d0,#060,#150,#270,#290,#1b0,#060,#100,#1d0,#1e0,#150,#050,#0b0,#160,#170,#100,#040,#080,#110,#120,#0d0,#040,#060,#0d0,#0f0,#0b0,#040,#040,#0a0,#0c0,#090,#090,#090,#090,#090,#090,#090,#090)"></i><i style="background:linear-gradient(#090,#090,#090,#090,#090,#090,#090,#0c0,#0b0,#070,#010,#090,#0e0,#0e0,#090,#010,#0a0,#110,#120,#0c0,#020,#0c0,#150,#170,#110,#030,#0e0,#1b0,#1f0,#170,#060,#120,#240,#2b0,#200,#090,#120,#270,#320,#2c0,#160,#1c0,#4a0,#7d0,#cf0,#ee0,#ef0,#df0,#c50,#af0,#a90,#b80,#d10,#e80,#f10,#e50,#a90,#630,#340,#0f0,#220,#310,#2f0,#1e0,#080,#140,#270,#2a0,#1d0,#080,#0e0,#1c0,#1e0,#160,#070,#0a0,#150,#170,#120,#060,#070,#100,#130,#0e0,#060,#050,#0c0,#0f0,#0c0,#050,#030,#090,#0c0,#090,#090,#090,#090,#090,#090,#090,#090)"></i><i style="background:linear-gradient(#090,#090,#090,#090,#090,#090,#090,#0c0,#0b0,#060,#030,#0a0,#0f0,#0e0,#080,#020,#0b0,#120,#120,#0b0,#020,#0d0,#160,#170,#0f0,#020,#100,#1c0,#1e0,#160,#040,#140,#250,#2b0,#1f0,#080,#140,#280,#320,#2c0,#160,#1e0,#4b0,#7d0,#ce0,#ec0,#ed0,#dd0,#c60,#b10,#ac0,#b90,#d10,#e60,#ef0,#e40,#a90,#640,#360,#110,#220,#310,#2f0,#1f0,#0a0,#130,#260,#2a0,#1e0,#0a0,#0d0,#1b0,#1f0,#170,#090,#080,#140,#180,#130,#080,#050,#0f0,#130,#0f0,#070,#030,#0b0,#0f0,#0d0,#070,#020,#080,#0c0,#090,#090,#090,#090,#090,#090,#090,#090)"></i><i style="background:linear-gradient(#090,#090,#090,#090,#090,#090,#090,#0c0,#0a0,#040,#040,#0b0,#0f0,#0d0,#070,#030,#0d0,#120,#110,#0a0,#030,#0f0,#160,#160,#0e0,#030,#110,#1d0,#1e0,#140,#040,#160,#260,#2b0,#1d0,#080,#160,#290,#320,#2c0,#170,#200,#4c0,#7d0,#cd0,#ea0,#eb0,#dc0,#c60,#b40,#af0,#bb0,#d10,#e50,#ed0,#e30,#a90,#650,#370,#130,#210,#310,#300,#210,#0c0,#110,#250,#2b0,#200,#0c0,#0b0,#1a0,#1f0,#180,#0a0,#070,#130,#180,#140,#090,#040,#0e0,#120,#100,#090,#020,#0a0,#0f0,#0e0,#080,#010,#070,#0c0,#090,#090,#090,#090,#090,#090,#090,#090)"></i><i style="background:linear-gradient(#090,#090,#090,#090,#090,#090,#090,#0c0,#090,#030,#050,#0c0,#0f0,#0c0,#050,#050,#0e0,#120,#110,#080,#050,#100,#170,#160,#0c0,#040,#130,#1d0,#1e0,#130,#050,#170,#270,#2a0,#1c0,#080,#170,#2a0,#330,#2c0,#170,#220,#4e0,#7e0,#cc0,#e90,#ea0,#db0,#c70,#b60,#b20,#bd0,#d00,#e30,#ec0,#e10,#a90,#660,#390,#150,#210,#310,#310,#220,#0d0,#100,#250,#2b0,#210,#0e0,#090,#190,#1f0,#1a0,#0c0,#050,#120,#170,#150,#0b0,#030,#0d0,#120,#110,#0a0,#020,#090,#0e0,#0e0,#090,#020,#060,#0b0,#090,#090,#090,#090,#090,#090,#090,#090)"></i><i style="background:linear-gradient(#090,#090,#090,#090,#090,#090,#090,#0c0,#080,#020,#070,#0d0,#0f0,#0c0,#040,#070,#0f0,#130,#100,#070,#060,#110,#170,#150,#0b0,#060,#140,#1e0,#1d0,#110,#060,#190,#280,#2a0,#1b0,#080,#190,#2b0,#330,#2c0,#180,#240,#4f0,#7e0,#cb0,#e70,#e80,#da0,#c70,#b80,#b50,#be0,#d00,#e20,#ea0,#e00,#a80,#660,#3a0,#170,#210,#310,#310,#230,#0f0,#0f0,#240,#2b0,#220,#100,#080,#180,#1f0,#1b0,#0e0,#040,#100,#170,#150,#0d0,#020,#0b0,#120,#120,#0b0,#020,#080,#0e0,#0f0,#0a0,#030,#050,#0a0,#090,#090,#090,#090,#090,#090,#090,#090)"></i><i style="background:linear-gradient(#090,#090,#090,#090,#090,#090,#090,#0b0,#070,#020,#080,#0e0,#0f0,#0b0,#030,#080,#100,#120,#0f0,#050,#080,#120,#170,#140,#0a0,#070,#160,#1e0,#1c0,#100,#070,#1b0,#290,#2a0,#1a0,#090,#1a0,#2c0,#330,#2c0,#190,#260,#500,#7e0,#ca0,#e50,#e60,#d90,#c80,#bb0,#b70,#c00,#d00,#e00,#e80,#de0,#a80,#670,#3c0,#1a0,#220,#310,#320,#250,#110,#0e0,#230,#2b0,#240,#120,#070,#170,#1f0,#1b0,#100,#030,#0f0,#170,#160,#0e0,#030,#0a0,#110,#120,#0d0,#040,#060,#0d0,#0f0,#0b0,#050,#040,#0a0,#090,#090,#090,#090,#090,#090,#090,#090)"></i><i style="background:linear-gradient(#090,#090,#090,#090,#090,#090,#090,#0b0,#060,#020,#090,#0e0,#0e0,#090,#020,#090,#110,#120,#0e0,#040,#090,#130,#170,#130,#080,#090,#170,#1f0,#1c0,#0f0,#090,#1c0,#290,#290,#190,#0a0,#1c0,#2d0,#340,#2c0,#1a0,#280,#510,#7e0,#c90,#e30,#e40,#d80,#c90,#bd0,#ba0,#c10,#d00,#df0,#e60,#dd0,#a70,#670,#3d0,#1c0,#220,#310,#320,#260,#120,#0e0,#220,#2b0,#250,#140,#060,#160,#1e0,#1c0,#110,#040,#0e0,#160,#170,#0f0,#040,#090,#110,#120,#0e0,#050,#050,#0c0,#0f0,#0c0,#060,#030,#090,#090,#090,#090,#090,#090,#090,#090,#090)"></i><i style="background:linear-gradient(#090,#090,#090,#090,#090,#090,#090,#0a0,#050,#030,#0a0,#0e0,#0e0,#080,#020,#0b0,#110,#120,#0d0,#030,#0b0,#140,#170,#120,#070,#0b0,#180,#1f0,#1b0,#0d0,#0b0,#1e0,#2a0,#290,#180,#0b0,#1d0,#2e0,#340,#2c0,#1c0,#2a0,#520,#7e0,#c80,#e10,#e20,#d70,#c90,#bf0,#bd0,#c30,#d00,#dd0,#e40,#db0,#a60,#680,#3f0,#1e0,#220,#310,#330,#270,#140,#0d0,#210,#2b0,#260,#150,#060,#140,#1e0,#1d0,#130,#050,#0d0,#160,#170,#110,#060,#070,#100,#120,#0f0,#070,#040,#0b0,#0f0,#0d0,#070,#020,#080,#090,#090,#090,#090,#090,#090,#090,#090)"></i><i style="background:linear-gradient(#090,#090,#090,#090,#090,#090,#090,#090,#040,#050,#0b0,#0f0,#0d0,#070,#030,#0c0,#120,#120,#0b0,#030,#0c0,#150,#170,#110,#060,#0d0,#190,#1f0,#1a0,#0c0,#0d0,#1f0,#2b0,#280,#170,#0c0,#1f0,#2f0,#350,#2c0,#1d0,#2c0,#520,#7e0,#c70,#df0,#e00,#d60,#ca0,#c10,#bf0,#c40,#cf0,#dc0,#e10,#d90,#a60,#680,#400,#200,#230,#320,#340,#280,#160,#0d0,#200,#2b0,#270,#170,#070,#130,#1d0,#1e0,#140,#060,#0b0,#150,#170,#120,#070,#060,#0f0,#120,#100,#080,#030,#0a0,#0e0,#0e0,#090,#020,#070,#090,#090,#090,#090,#090,#090,#090,#090)"></i><i style="background:linear-gradient(#090,#090,#090,#090,#090,#090,#090,#090,#030,#060,#0c0,#0f0,#0c0,#060,#050,#0d0,#120,#110,#0a0,#030,#0e0,#160,#170,#100,#050,#0e0,#1a0,#1f0,#190,#0b0,#0e0,#210,#2b0,#280,#160,#0e0,#200,#2f0,#350,#2c0,#1e0,#2d0,#530,#7d0,#c50,#dd0,#de0,#d50,#ca0,#c30,#c10,#c60,#cf0,#da0,#df0,#d70,#a50,#680,#410,#210,#240,#320,#340,#290,#170,#0d0,#1f0,#2b0,#280,#190,#070,#120,#1d0,#1e0,#150,#080,#0a0,#140,#170,#130,#090,#050,#0e0,#120,#100,#0a0,#020,#090,#0e0,#0e0,#0a0,#030,#050,#090,#090,#090,#090,#090,#090,#090,#090)"></i><i style="background:linear-gradient(#090,#090,#090,#090,#090,#090,#090,#080,#020,#070,#0d0,#0f0,#0c0,#050,#060,#0e0,#120,#100,#090,#050,#0f0,#160,#170,#0f0,#050,#100,#1b0,#1f0,#180,#0a0,#100,#220,#2b0,#270,#150,#0f0,#220,#300,#350,#2d0,#1f0,#2f0,#540,#7d0,#c40,#db0,#dc0,#d40,#cb0,#c40,#c30,#c70,#cf0,#d90,#dd0,#d50,#a40,#680,#420,#230,#240,#320,#350,#2a0,#190,#0d0,#1f0,#2b0,#290,#1a0,#090,#110,#1c0,#1e0,#170,#090,#090,#130,#170,#140,#0a0,#040,#0d0,#120,#110,#0b0,#030,#080,#0e0,#0f0,#0b0,#040,#040,#090,#090,#090,#090,#090,#090,#090,#090)"></i><i style="background:linear-gradient(#090,#090,#090,#090,#090,#090,#090,#070,#020,#090,#0e0,#0f0,#0b0,#030,#080,#0f0,#120,#100,#080,#060,#100,#170,#160,#0e0,#050,#110,#1c0,#1f0,#170,#090,#120,#230,#2c0,#270,#150,#110,#230,#310,#360,#2d0,#210,#310,#540,#7d0,#c20,#d90,#da0,#d30,#cb0,#c50,#c40,#c70,#ce0,#d70,#db0,#d30,#a30,#680,#430,#250,#250,#320,#350,#2b0,#1b0,#0d0,#1e0,#2b0,#290,#1c0,#0a0,#0f0,#1c0,#1f0,#180,#0b0,#070,#120,#170,#150,#0c0,#030,#0c0,#120,#120,#0c0,#040,#070,#0d0,#0f0,#0c0,#050,#030,#090,#090,#090,#090,#090,#090,#090,#090)"></i><i style="background:linear-gradient(#090,#090,#090,#090,#090,#090,#090,#050,#030,#0a0,#0e0,#0e0,#0a0,#030,#090,#100,#120,#0f0,#060,#070,#120,#170,#150,#0c0,#060,#130,#1d0,#1e0,#160,#080,#140,#240,#2c0,#260,#140,#120,#240,#320,#360,#2d0,#220,#320,#550,#7c0,#c00,#d60,#d80,#d20,#cb0,#c70,#c60,#c80,#ce0,#d50,#d90,#d10,#a20,#680,#440,#270,#260,#330,#360,#2d0,#1c0,#0e0,#1d0,#2b0,#2a0,#1e0,#0c0,#0e0,#1b0,#1f0,#190,#0d0,#060,#110,#170,#150,#0d0,#040,#0b0,#110,#120,#0d0,#050,#060,#0c0,#0f0,#0d0,#070,#030,#090,#090,#090,#090,#090,#090,#090,#090)"></i><i style="background:linear-gradient(#090,#090,#090,#090,#090,#090,#090,#040,#040,#0b0,#0e0,#0e0,#080,#030,#0a0,#110,#120,#0e0,#050,#090,#130,#170,#150,#0b0,#070,#140,#1d0,#1e0,#150,#080,#150,#260,#2c0,#250,#140,#140,#260,#330,#360,#2e0,#230,#330,#550,#7c0,#bf0,#d40,#d60,#d10,#cb0,#c80,#c70,#c90,#ce0,#d40,#d70,#cf0,#a00,#680,#450,#280,#270,#330,#360,#2e0,#1e0,#0f0,#1c0,#2a0,#2b0,#1f0,#0d0,#0d0,#1a0,#1f0,#1a0,#0e0,#060,#100,#170,#160,#0f0,#050,#090,#110,#120,#0e0,#060,#050,#0b0,#0f0,#0d0,#080,#020,#090,#090,#090,#090,#090,#090,#090,#090)"></i><i style="background:linear-gradient(#090,#090,#090,#090,#090,#090,#090,#030,#060,#0c0,#0f0,#0d0,#070,#040,#0b0,#110,#120,#0d0,#040,#0a0,#140,#170,#140,#0a0,#090,#160,#1e0,#1e0,#140,#090,#170,#270,#2c0,#250,#130,#160,#270,#340,#370,#2e0,#250,#350,#560,#7b0,#bd0,#d20,#d40,#d00,#cb0,#c90,#c90,#ca0,#cd0,#d20,#d40,#cd0,#9f0,#680,#460,#2a0,#270,#330,#370,#2f0,#1f0,#100,#1b0,#2a0,#2b0,#200,#0f0,#0c0,#190,#1f0,#1b0,#100,#050,#0f0,#160,#170,#100,#060,#080,#100,#120,#0f0,#080,#040,#0a0,#0e0,#0e0,#090,#030,#090,#090,#090,#090,#090,#090,#090,#090)"></i><i style="background:linear-gradient(#090,#090,#090,#090,#090,#090,#090,#030,#070,#0c0,#0f0,#0c0,#060,#050,#0d0,#120,#120,#0c0,#040,#0c0,#140,#170,#130,#090,#0a0,#170,#1e0,#1d0,#120,#0a0,#190,#280,#2c0,#240,#130,#170,#280,#340,#370,#2f0,#260,#360,#560,#7a0,#bb0,#cf0,#d20,#cf0,#cc0,#ca0,#ca0,#cb0,#cd0,#d10,#d20,#ca0,#9e0,#680,#470,#2b0,#280,#340,#380,#300,#210,#110,#1b0,#2a0,#2c0,#220,#110,#0b0,#180,#1f0,#1c0,#110,#060,#0e0,#160,#170,#110,#070,#070,#0f0,#120,#100,#090,#030,#090,#0e0,#0e0,#0a0,#040,#090,#090,#090,#090,#090,#090,#090,#090)"></i><i style="background:linear-gradient(#090,#090,#090,#090,#090,#090,#090,#030,#080,#0d0,#0f0,#0c0,#050,#060,#0e0,#120,#110,#0b0,#040,#0d0,#150,#170,#120,#080,#0c0,#180,#1f0,#1c0,#110,#0b0,#1a0,#290,#2c0,#230,#130,#190,#2a0,#350,#380,#2f0,#270,#370,#560,#7a0,#b90,#cd0,#d10,#cf0,#cc0,#cc0,#cc0,#cc0,#cd0,#d00,#d00,#c80,#9d0,#670,#470,#2c0,#290,#340,#380,#310,#220,#120,#1a0,#290,#2c0,#230,#120,#0b0,#170,#1f0,#1d0,#130,#070,#0d0,#150,#170,#120,#090,#060,#0e0,#120,#110,#0a0,#030,#080,#0e0,#0e0,#0b0,#050,#090,#090,#090,#090,#090,#090,#090,#090)"></i><i style="background:linear-gradient(#090,#090,#090,#090,#090,#090,#090,#080,#080,#080,#080,#080,#080,#080,#080,#080,#080,#080,#080,#080,#080,#080,#080,#080,#080,#080,#080,#080,#080,#080,#080,#080,#080,#080,#090,#090,#0a0,#0c0,#0e0,#100,#140,#170,#1c0,#210,#270,#2d0,#320,#360,#3a0,#3c0,#3c0,#3b0,#380,#340,#300,#2a0,#240,#1f0,#1a0,#160,#120,#0f0,#0d0,#0b0,#0a0,#090,#090,#080,#080,#080,#080,#080,#080,#080,#080,#080,#080,#080,#080,#080,#080,#080,#080,#080,#080,#080,#080,#080,#080,#080,#080,#080,#080,#090,#090,#090,#090,#090,#090,#090,#090)"></i><i style="background:linear-gradient(#090,#090,#090,#090,#090,#090,#090,#080,#080,#080,#080,#080,#080,#080,#080,#080,#080,#080,#080,#080,#080,#080,#080,#080,#080,#080,#080,#080,#080,#080,#080,#080,#080,#080,#080,#080,#090,#090,#0a0,#0b0,#0d0,#0e0,#100,#120,#150,#170,#190,#1b0,#1c0,#1d0,#1d0,#1d0,#1c0,#1a0,#180,#160,#140,#110,#0f0,#0d0,#0c0,#0b0,#0a0,#090,#090,#080,#080,#080,#080,#080,#080,#080,#080,#080,#080,#080,#080,#080,#080,#080,#080,#080,#080,#080,#080,#080,#080,#080,#080,#080,#080,#080,#080,#090,#090,#090,#090,#090,#090,#090,#090)"></i><i style="background:linear-gradient(#090,#090,#090,#090,#090,#090,#090,#080,#080,#080,#080,#080,#080,#080,#080,#080,#080,#080,#080,#080,#080,#080,#080,#080,#080,#080,#080,#080,#080,#080,#080,#080,#080,#080,#080,#080,#080,#080,#080,#080,#080,#080,#080,#080,#090,#090,#090,#090,#090,#090,#090,#090,#090,#090,#090,#090,#080,#080,#080,#080,#080,#080,#080,#080,#080,#080,#080,#080,#080,#080,#080,#080,#080,#080,#080,#080,#080,#080,#080,#080,#080,#080,#080,#080,#080,#080,#080,#080,#080,#080,#080,#080,#080,#090,#090,#090,#090,#090,#090,#090,#090)"></i><i style="background:linear-gradient(#090,#090,#090,#090,#090,#090,#090,#080,#080,#080,#080,#080,#080,#080,#080,#080,#080,#080,#080,#080,#080,#080,#080,#080,#080,#080,#080,#080,#080,#080,#080,#080,#080,#080,#080,#080,#080,#080,#080,#080,#080,#080,#080,#080,#080,#080,#080,#080,#080,#080,#080,#080,#080,#080,#080,#080,#080,#080,#080,#080,#080,#080,#080,#080,#080,#080,#080,#080,#080,#080,#080,#080,#080,#080,#080,#080,#080,#080,#080,#080,#080,#080,#080,#080,#080,#080,#080,#080,#080,#080,#080,#080,#080,#090,#090,#090,#090,#090,#090,#090,#090)"></i><i style="background:linear-gradient(#090,#090,#090,#090,#090,#090,#090,#080,#080,#080,#080,#080,#080,#080,#080,#080,#080,#080,#080,#080,#080,#080,#080,#080,#080,#080,#080,#080,#080,#080,#080,#080,#080,#080,#080,#080,#080,#080,#080,#080,#080,#080,#080,#080,#080,#080,#080,#080,#080,#080,#080,#080,#080,#080,#080,#080,#080,#080,#080,#080,#080,#080,#080,#080,#080,#080,#080,#080,#080,#080,#080,#080,#080,#080,#080,#080,#080,#080,#080,#080,#080,#080,#080,#080,#080,#080,#080,#080,#080,#080,#080,#080,#080,#090,#090,#090,#090,#090,#090,#090,#090)"></i><i style="background:linear-gradient(#090,#090,#090,#090,#090,#090,#090,#080,#080,#080,#080,#080,#080,#080,#080,#080,#080,#080,#080,#080,#080,#080,#080,#080,#080,#080,#080,#080,#080,#080,#080,#080,#080,#080,#080,#080,#080,#080,#080,#080,#080,#080,#080,#080,#080,#080,#080,#080,#080,#080,#080,#080,#080,#080,#080,#080,#080,#080,#080,#080,#080,#080,#080,#080,#080,#080,#080,#080,#080,#080,#080,#080,#080,#080,#080,#080,#080,#080,#080,#080,#080,#080,#080,#080,#080,#080,#080,#080,#080,#080,#080,#080,#080,#090,#090,#090,#090,#090,#090,#090,#090)"></i><i style="background:linear-gradient(#090,#090,#090,#090,#090,#090,#090,#080,#080,#080,#080,#080,#080,#080,#080,#080,#080,#080,#080,#080,#080,#080,#080,#080,#080,#080,#080,#080,#080,#080,#080,#080,#080,#080,#080,#080,#080,#080,#080,#080,#080,#080,#080,#080,#080,#080,#080,#080,#080,#080,#080,#080,#080,#080,#080,#080,#080,#080,#080,#080,#080,#080,#080,#080,#080,#080,#080,#080,#080,#080,#080,#080,#080,#080,#080,#080,#080,#080,#080,#080,#080,#080,#080,#080,#080,#080,#080,#080,#080,#080,#080,#080,#080,#090,#090,#090,#090,#090,#090,#090,#090)"></i></div></div>
<svg class="v" width="2265" height="1584" viewBox="0 0 2265 1584">

<g id="frame">
<polygon points="988.2,260.5 985.4,268.0 982.7,275.4 980.2,282.9 977.9,290.4 975.7,297.9 973.7,305.4 971.8,312.8 970.1,320.3 968.5,327.8 967.0,335.2 965.7,342.7 964.6,350.2 963.5,357.7 962.6,365.1 961.9,372.6 961.3,380.1 960.8,387.6 960.5,395.1 960.3,402.5 960.2,410.0 960.3,417.5 960.5,424.9 960.8,432.4 961.3,439.9 961.9,447.4 962.6,454.9 963.5,462.3 964.6,469.8 965.7,477.3 967.0,484.8 968.5,492.2 970.1,499.7 971.8,507.2 973.7,514.6 975.7,522.1 977.9,529.6 980.2,537.1 982.7,544.5 985.4,552.0 988.2,559.5 988.2,559.5 991.0,552.0 993.7,544.5 996.2,537.1 998.5,529.6 1000.7,522.1 1002.7,514.6 1004.6,507.2 1006.3,499.7 1007.9,492.2 1009.4,484.8 1010.7,477.3 1011.8,469.8 1012.9,462.3 1013.8,454.9 1014.5,447.4 1015.1,439.9 1015.6,432.4 1015.9,424.9 1016.1,417.5 1016.2,410.0 1016.1,402.5 1015.9,395.1 1015.6,387.6 1015.1,380.1 1014.5,372.6 1013.8,365.1 1012.9,357.7 1011.8,350.2 1010.7,342.7 1009.4,335.2 1007.9,327.8 1006.3,320.3 1004.6,312.8 1002.7,305.4 1000.7,297.9 998.5,290.4 996.2,282.9 993.7,275.4 991.0,268.0 988.2,260.5" fill="none" stroke="#050510" stroke-width="4" stroke-linejoin="round"/>
<rect x="339.7" y="244.2" width="1583" height="334" fill="none" stroke="#05051a" stroke-width="3.4"/>
<line x1="340" y1="260.3" x2="1922" y2="260.3" stroke="#05051a" stroke-width="3.2"/>
<line x1="340" y1="559.8" x2="1922" y2="559.8" stroke="#05051a" stroke-width="3.2"/>
<line x1="1903" y1="244" x2="1903" y2="578" stroke="#05051a" stroke-width="3.2"/>
<rect x="1754" y="239" width="10" height="333" fill="#fff"/>
<line x1="278.6" y1="409.7" x2="1989" y2="409.7" stroke="#000" stroke-opacity="0.62" stroke-width="2.6" stroke-dasharray="18 8.2 2.6 8.15"/>
</g>
<line x1="337.1" y1="68.4" x2="337.1" y2="178.3" stroke="#3a3a3a" stroke-width="2"/>
<line x1="984.5" y1="73" x2="984.5" y2="182" stroke="#3a3a3a" stroke-width="2"/>
<line x1="350" y1="129.4" x2="972" y2="129.4" stroke="#3a3a3a" stroke-width="3"/>
<polygon points="337.8,129.4 361.8,117.4 361.8,141.4" fill="#000"/>
<polygon points="984.0,129.4 960.0,141.4 960.0,117.4" fill="#000"/>
<text transform="translate(610.14,93.70) scale(0.9960,1)" font-size="76.54" fill="#000">70.0</text>
<text transform="translate(41.40,220.90) scale(0.9592,1)" font-size="75.68" fill="#000">Spherical</text> <text transform="translate(342.23,220.90) scale(0.9064,1)" font-size="75.68" fill="#000">light</text> <text transform="translate(493.68,220.90) scale(0.9919,1)" font-size="73.62" fill="#000">sources</text>
<text transform="translate(911.95,224.70) scale(0.9716,1)" font-size="76.64" fill="#000">Lens</text>
<text transform="translate(1568.95,146.40) scale(0.9472,1)" font-size="76.95" fill="#000">Image</text> <text transform="translate(1775.34,146.40) scale(0.9499,1)" font-size="74.68" fill="#000">plane</text>
<text transform="translate(1730.68,226.70) scale(1.0082,1)" font-size="76.49" fill="#000">B</text>
<text transform="translate(1727.30,641.10) scale(1.0356,1)" font-size="77.25" fill="#000">B</text>
<text transform="translate(104.70,428.50) scale(0.9973,1)" font-size="75.47" fill="#000">2μm</text>
<line x1="268.4" y1="393.2" x2="340" y2="393.2" stroke="#3a3a3a" stroke-width="2"/>
<line x1="268.4" y1="424.8" x2="340" y2="424.8" stroke="#3a3a3a" stroke-width="2"/>
<line x1="280.6" y1="303.8" x2="280.6" y2="375" stroke="#3a3a3a" stroke-width="2"/>
<polygon points="280.6,393.2 269.1,370.2 292.1,370.2" fill="#000"/>
<line x1="280.6" y1="452" x2="280.6" y2="519.6" stroke="#3a3a3a" stroke-width="2"/>
<polygon points="280.6,431.3 292.1,453.8 269.1,453.8" fill="#000"/>
<text transform="translate(116.58,576.80) scale(1.0630,1)" font-size="127.39" fill="#000">x</text>
<text transform="translate(302.70,784.62) scale(0.9962,1)" font-size="128.74" fill="#000">y</text>
<path d="M215.6,548 V671.7 H340" fill="none" stroke="#000" stroke-width="10.7" stroke-linejoin="miter"/>
<polygon points="215.6,521.5 230.1,551.5 201.1,551.5" fill="#000"/>
<polygon points="366.0,671.7 336.0,686.2 336.0,657.2" fill="#000"/>
<text transform="translate(1046.80,681.26) scale(0.9888,1)" font-size="99.94" fill="#000">(a)</text>
<line x1="593.4" y1="700" x2="593.4" y2="1205.5" stroke="#000" stroke-width="7.6"/>
<line x1="143.3" y1="1201.6" x2="1036" y2="1201.6" stroke="#000" stroke-width="7.6"/>
<text transform="translate(498.60,1066.32) rotate(-90) scale(0.9197,1)" font-size="84.60" fill="#000">Intensity</text> <text transform="translate(504.13,754.86) rotate(-90) scale(0.7818,1)" font-size="87.95" fill="#000">[</text><text transform="translate(500.00,726.56) rotate(-90) scale(0.5266,1)" font-size="84.00" fill="#000">-</text><text transform="translate(504.13,703.48) rotate(-90) scale(0.7732,1)" font-size="87.95" fill="#000">]</text>
<text transform="translate(684.01,713.20) scale(0.9527,1)" font-size="75.97" fill="#000">Peak-1</text>
<text transform="translate(701.59,787.00) scale(0.9634,1)" font-size="75.68" fill="#000">Peak-2</text>
<polyline points="888,725.3 686,725.3 566,871.5" fill="none" stroke="#3a3a3a" stroke-width="2"/>
<polygon points="559.9,879.2 565.7,855.5 582.0,868.8" fill="#000"/>
<polyline points="897.3,798.2 692.4,798.2 640,860" fill="none" stroke="#3a3a3a" stroke-width="2"/>
<polygon points="633.5,868.0 639.7,844.4 655.7,858.0" fill="#000"/>
<text transform="translate(96.59,1177.30) scale(1.0178,1)" font-size="78.93" fill="#000">B</text>
<text transform="translate(1001.89,1172.50) scale(1.0097,1)" font-size="75.88" fill="#000">B</text>
<text transform="translate(71.30,1289.70) scale(1.1873,1)" font-size="96.00" fill="#000">−</text><text transform="translate(133.05,1290.90) scale(0.9694,1)" font-size="98.48" fill="#000">15</text>
<text transform="translate(564.94,1294.96) scale(1.0938,1)" font-size="94.22" fill="#000">0</text>
<text transform="translate(982.01,1290.80) scale(0.9359,1)" font-size="95.15" fill="#000">15</text>
<text transform="translate(508.53,1375.50) scale(1.0173,1)" font-size="127.17" fill="#000">x</text> <text transform="translate(608.32,1378.79) scale(0.6580,1)" font-size="86.75" fill="#000">[</text><text transform="translate(629.63,1375.50) scale(1.0427,1)" font-size="83.50" fill="#000">μm</text><text transform="translate(742.32,1378.79) scale(1.0144,1)" font-size="86.75" fill="#000">]</text>
<text transform="translate(522.17,1517.63) scale(0.9983,1)" font-size="99.61" fill="#000">(b)</text>
<path d="M153,1189 C158.8,1185.5 162.7,1184.6 169.7,1184.6 C179.9,1184.6 191.1,1197.2 194,1197.2 C196.6,1197.2 206.8,1185.7 216,1185.7 C224.8,1185.7 234.5,1197.2 237,1197.2 C239.9,1197.2 251.1,1177.3 261.3,1177.3 C271.0,1177.3 281.7,1197.0 284.5,1197 C287.1,1197.0 297.3,1177.3 306.5,1177.3 C315.3,1177.3 325.0,1197.0 327.5,1197 C330.3,1197.0 341.0,1169.1 350.7,1169.1 C360.4,1169.1 371.1,1197.0 373.9,1197 C376.4,1197.0 386.0,1168.0 394.8,1168 C403.2,1168.0 412.3,1193.4 414.7,1193.4 C417.6,1193.4 428.5,1145.6 438.5,1145.6 C446.3,1145.6 450.5,1166.0 457,1166 C467.0,1166.0 473.6,1089.0 485.6,1089 C495.0,1089.0 503.1,1179.8 508,1179.8 C517.4,1179.8 532.8,882.0 550.7,882 C568.6,882.0 583.9,991.1 593.2,991.1 C601.4,991.1 614.9,880.8 630.6,880.8 C648.6,880.8 664.1,1179.8 673.5,1179.8 C678.5,1179.8 686.5,1088.5 696,1088.5 C707.8,1088.5 714.2,1166.5 724,1166.5 C730.4,1166.5 734.6,1144.2 742.2,1144.2 C752.8,1144.2 764.5,1193.5 767.5,1193.5 C769.8,1193.5 778.5,1167.0 786.5,1167 C795.8,1167.0 805.9,1197.0 808.6,1197 C811.1,1197.0 820.8,1168.0 829.6,1168 C839.8,1168.0 851.0,1197.0 853.9,1197 C856.4,1197.0 866.0,1175.8 874.8,1175.8 C884.1,1175.8 894.2,1197.0 896.9,1197 C899.6,1197.0 909.7,1176.4 919,1176.4 C929.7,1176.4 941.4,1197.0 944.4,1197 C946.8,1197.0 955.9,1184.6 964.2,1184.6 C974.4,1184.6 985.6,1196.7 988.5,1196.7 C991.2,1196.7 1001.3,1184.6 1010.6,1184.6 C1019.0,1184.6 1023.5,1185.7 1030.5,1190" fill="none" stroke="#000" stroke-width="7" stroke-linejoin="round" stroke-linecap="round"/>
<line x1="1688" y1="813.4" x2="1688" y2="1323.4" stroke="#000" stroke-width="7.8"/>
<line x1="1250.8" y1="1120.5" x2="2159.9" y2="1120.5" stroke="#000" stroke-width="7"/>
<line x1="1688" y1="997.6" x2="1715" y2="997.6" stroke="#3a3a3a" stroke-width="2.5"/>
<line x1="1688" y1="1238.5" x2="1715" y2="1238.5" stroke="#3a3a3a" stroke-width="2.5"/>
<text transform="translate(1654.90,987.45) rotate(-90) scale(0.9393,1)" font-size="87.00" fill="#000">Phase</text> <text transform="translate(1658.98,769.73) rotate(-90) scale(0.8415,1)" font-size="87.59" fill="#000">[</text><text transform="translate(1654.90,743.04) rotate(-90) scale(0.8966,1)" font-size="86.00" fill="#000">rad</text><text transform="translate(1658.98,641.77) rotate(-90) scale(0.8372,1)" font-size="87.59" fill="#000">]</text>
<path id="ph" d="M1244,1220.5 C1258,1165 1268,1120 1274,1090 C1280,1060 1285,1025 1287.3,1001 L1287.8,1249
C1289.5,1225 1291.5,1208 1294.4,1197.8 C1302,1170 1313,1145 1320.9,1124 C1326,1105 1328,1060 1329.6,1003 L1330.3,1249
C1331.5,1236 1333.5,1225 1336,1216.7 C1345,1195 1365,1160 1377.7,1137.2 L1380,1010 L1386,999.5 L1386.3,1249
L1411.8,1206.3 Q1416.2,1202 1417.6,1210 L1421.3,1245 L1421.3,999
L1426,1040 Q1427.5,1047 1432.5,1042.5 L1461,1010 L1466,998.5 L1466.6,1249 L1468.6,1249 L1468.4,1114.5
C1480,1100 1495,1083 1502.5,1069 C1507,1055 1509.5,1030 1511,1003 L1511.3,1249
C1513,1225 1514.5,1208 1516,1197.8 C1522,1180 1538,1165 1546,1150.5 C1550,1142 1552,1132 1553.6,1120 C1556,1095 1557.5,1070 1561.2,1055.8 C1565,1043 1570,1037 1576.4,1033 C1583,1028 1590,1024.5 1595.3,1024.5 C1600,1024.5 1602,1027 1603,1033 C1605,1045 1606,1060 1606.7,1074.7 C1607.5,1090 1608.5,1105 1610.5,1112.6 C1612,1118 1614,1121 1618,1121 C1626,1121 1642,1111 1662,1103.5" fill="none" stroke="#000" stroke-width="7" stroke-linejoin="round" stroke-linecap="round"/>
<use href="#ph" transform="translate(3382,0) scale(-1,1)"/>
<line x1="1676" y1="1100.6" x2="1704" y2="1100.6" stroke="#000" stroke-width="6.5"/>
<circle cx="1669.7" cy="1100.6" r="8.3" fill="#fff" stroke="#000" stroke-width="5"/>
<circle cx="1710.6" cy="1100.6" r="8.3" fill="#fff" stroke="#000" stroke-width="5"/>
<text transform="translate(1372.36,942.80) scale(1.0047,1)" font-size="71.96" fill="#000">x</text><text transform="translate(1404.41,938.80) scale(1.0782,1)" font-size="74.00" fill="#444">=</text><text transform="translate(1447.10,942.20) scale(1.0549,1)" font-size="74.00" fill="#333">−</text><text transform="translate(1490.89,942.80) scale(0.9915,1)" font-size="76.23" fill="#000">1.2</text>
<polyline points="1422.6,953.4 1553.6,953.4 1661,1072" fill="none" stroke="#3a3a3a" stroke-width="2"/>
<polygon points="1667.8,1079.3 1645.6,1069.7 1660.4,1056.3" fill="#000"/>
<text transform="translate(1711.04,972.68) scale(1.0932,1)" font-size="92.34" fill="#000">π</text>
<text transform="translate(1792.25,937.30) scale(1.0065,1)" font-size="73.48" fill="#000">x</text><text transform="translate(1825.00,933.30) scale(1.0811,1)" font-size="74.00" fill="#444">=</text><text transform="translate(1869.28,937.30) scale(0.9480,1)" font-size="77.43" fill="#000">1.2</text>
<polyline points="1942,955.5 1803,955.5 1713,1072" fill="none" stroke="#3a3a3a" stroke-width="2"/>
<polygon points="1708.4,1078.6 1713.9,1055.1 1729.7,1067.2" fill="#000"/>
<text transform="translate(1563.51,1268.50) scale(1.1022,1)" font-size="96.00" fill="#000">−</text><text transform="translate(1625.41,1266.13) scale(1.0953,1)" font-size="86.81" fill="#000">π</text>
<text transform="translate(1209.12,1106.70) scale(1.0268,1)" font-size="77.25" fill="#000">B</text>
<text transform="translate(2117.94,1104.60) scale(1.0344,1)" font-size="76.03" fill="#000">B</text>
<text transform="translate(1091.46,1189.90) scale(1.1962,1)" font-size="96.00" fill="#000">−</text><text transform="translate(1153.88,1190.70) scale(0.9572,1)" font-size="98.18" fill="#000">15</text>
<text transform="translate(1700.44,1200.66) scale(1.0655,1)" font-size="94.07" fill="#000">0</text>
<text transform="translate(2136.91,1198.70) scale(0.9127,1)" font-size="97.58" fill="#000">15</text>
<text transform="translate(1887.21,1340.30) scale(1.0278,1)" font-size="128.91" fill="#000">x</text> <text transform="translate(1991.32,1342.69) scale(0.6580,1)" font-size="86.75" fill="#000">[</text><text transform="translate(2012.63,1340.30) scale(1.0427,1)" font-size="83.50" fill="#000">μm</text><text transform="translate(2124.14,1342.69) scale(0.9427,1)" font-size="86.75" fill="#000">]</text>
<text transform="translate(1638.18,1518.33) scale(0.9960,1)" font-size="99.61" fill="#000">(c)</text>
</svg>
</body></html>
